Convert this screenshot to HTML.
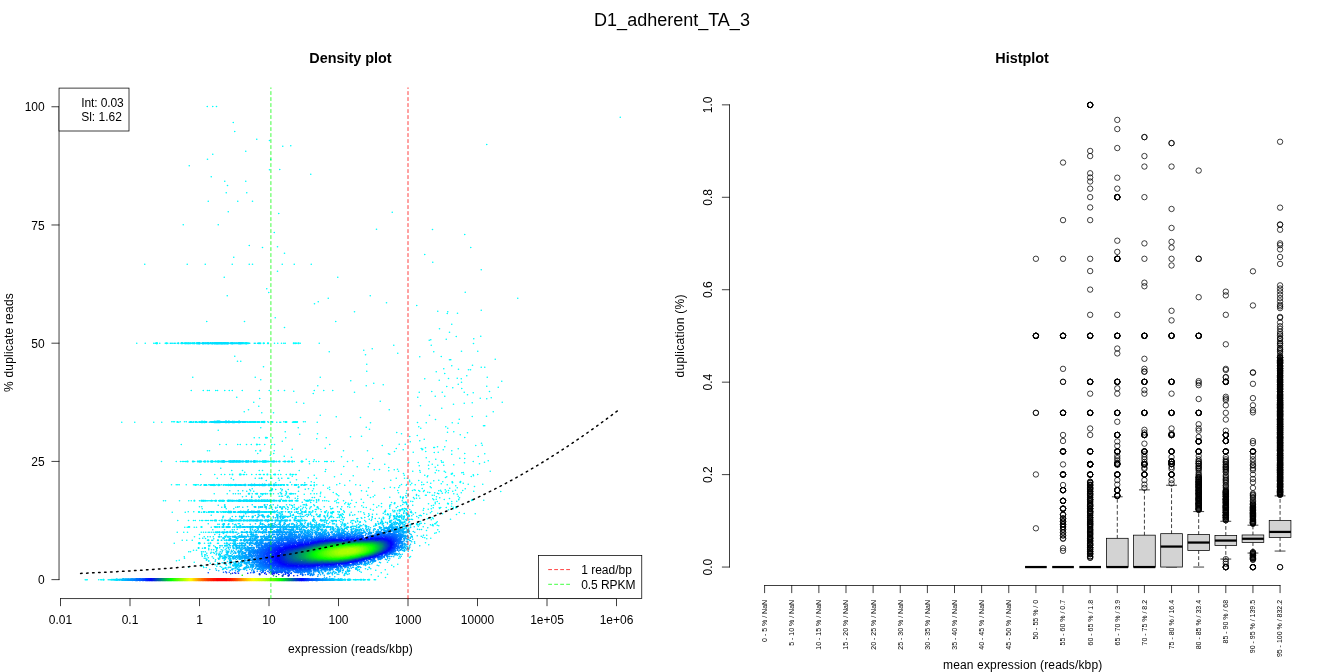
<!DOCTYPE html>
<html lang="en"><head><meta charset="utf-8"><title>D1_adherent_TA_3</title>
<style>html,body{margin:0;padding:0;background:#fff;overflow:hidden}svg{display:block}text{font-family:"Liberation Sans",sans-serif}</style>
</head><body>
<svg width="1344" height="672" viewBox="0 0 1344 672" role="img" aria-label="dupRadar density plot and boxplot for D1_adherent_TA_3">
<rect width="1344" height="672" fill="#fff"/>
<text x="672" y="26.2" font-size="18" text-anchor="middle">D1_adherent_TA_3</text>
<text x="350.45" y="62.8" font-size="14.4" text-anchor="middle" font-weight="bold">Density plot</text>
<text x="1022.05" y="62.7" font-size="14.4" text-anchor="middle" font-weight="bold">Histplot</text>
<g transform="scale(0.25)" fill="none" stroke-linecap="round"><path stroke="#00ffff" stroke-width="6.6" d="M829 426h0m22 0h0m15 0h0m1615 43h0m-1548 21h0m6 36h0m88 31h0m51 5h0m869 16h0m-784 5h0m-32 2h0m-148 20h0m-132 12h0m-21 20h0m253 0h0m-326 26h0m362 15h0m-41 1h0m165 18h0m-398 10h0m54 18h0m84 0h0m-73 17h0m-5 29h0m82 0h0m-154 34h0m118 0h0m59 0h0m-97 42h0m656 2h0m-454 5h0m-382 45h0m140 0h0m633 18h0m224 1h0m-633 12h0m762 8h0m-862 44h0m113 5h0m-60 3h0m833 0h0m-745 23h0m561 5h0m-764 11h0m796 20h0m-1152 8h0m170 0h0m72 0h0m108 0h0m68 0h0m13 0h0m119 0h0m48 0h0m68 0h0m680 22h0m-815 6h0m-213 24h0m454 0h0m-284 46h0m794 14h0m-786 1h0m-166 13h0m572 0h0m-168 10h0m758 0h0m-798 14h0m273 4h0m-288 4h0m409 7h0m258 19h0m-174 4h0m-333 2h0m373 0h0m39 6h0m-41 1h0m-688 17h0m-274 15h0m151 0h0m365 0h0m464 11h0m-669 13h0m620 5h0m40 14h0m125 16h0m-98 1h0m70 9h0m-110 2h0m-62 2h0m-6 2h0m-1170 12h0m34 0h0m34 0h0m6 0h0m18 0h0m22 0h0m10 0h0m386 0h0m41 0h0m13 0h0m15 0h0m9 0h0m6 0h0m46 0h0m14 0h0m76 0h0m617 1h0m-319 7h0m150 0h0m-236 14h0m-34 6h0m391 4h0m65 0h0m-594 2h0m418 0h0m-144 6h0m-129 6h0m-523 6h0m826 1h0m-86 1h0m302 10h0m-183 2h0m5 0h0m-853 6h0m13 0h0m504 12h0m423 4h0m-83 2h0m-753 4h0m871 2h0m14 0h0m-164 6h0m59 2h0m40 2h0m8 0h0m-415 6h0m278 2h0m34 7h0m88 9h0m-1096 6h0m250 0h0m260 0h0m668 0h0m-120 4h0m-35 1h0m-95 1h0m146 0h0m-802 4h0m714 2h0m-354 2h0m604 2h0m-161 4h0m-351 4h0m338 4h0m-300 2h0m-262 4h0m194 0h0m482 2h0m-160 1h0m206 3h0m-182 2h0m36 3h0m-1082 8h0m48 0h0m17 0h0m7 0h0m26 0h0m7 0h0m29 0h0m18 0h0m12 0h0m40 0h0m68 0h0m40 0h0m36 0h0m25 0h0m119 0h0m38 0h0m36 0h0m-156 3h0m552 1h0m231 0h0m-540 3h0m259 0h0m92 0h0m88 0h0m36 2h0m-640 3h0m617 5h0m-129 6h0m38 0h0m-832 4h0m724 0h0m294 2h0m-44 2h0m-882 1h0m908 1h0m-426 10h0m-506 4h0m171 0h0m823 0h0m-120 2h0m-674 2h0m642 0h0m-43 4h0m-132 6h0m-647 2h0m732 8h0m-773 6h0m563 0h0m-580 8h0m996 0h0m-926 4h0m47 0h0m187 10h0m437 0h0m228 4h0m-57 1h0m-544 1h0m97 3h0m395 7h0m-95 1h0m-1055 9h0m6 0h0m5 0h0m23 0h0m17 0h0m397 0h0m79 0h0m7 0h0m-734 2h0m52 0h0m76 0h0m32 0h0m68 0h0m392 0h0m12 0h0m4 0h0m47 0h0m99 0h0m401 1h0m-188 1h0m223 0h0m104 0h0m24 2h0m101 10h0m5 0h0m-264 4h0m108 0h0m-318 2h0m-422 2h0m150 0h0m490 2h0m108 0h0m-313 4h0m-605 4h0m268 6h0m674 0h0m-25 2h0m-203 1h0m283 1h0m-600 4h0m336 0h0m-407 2h0m642 2h0m-172 3h0m-223 3h0m193 1h0m-237 1h0m457 3h0m-842 1h0m20 0h0m32 0h0m21 0h0m53 0h0m162 0h0m-38 4h0m430 2h0m-18 6h0m106 0h0m-656 2h0m512 2h0m285 6h0m-329 4h0m24 0h0m-896 1h0m154 0h0m26 0h0m46 0h0m10 0h0m25 0h0m19 0h0m26 0h0m8 0h0m20 0h0m28 0h0m11 0h0m221 0h0m610 3h0m-400 1h0m374 0h0m-153 5h0m29 0h0m-44 3h0m3 0h0m-36 1h0m-401 2h0m284 1h0m100 0h0m148 1h0m-664 2h0m444 2h0m160 0h0m-943 4h0m8 0h0m185 0h0m74 0h0m277 0h0m96 0h0m337 0h0m-229 3h0m125 0h0m-50 3h0m100 0h0m-16 1h0m-706 4h0m64 0h0m764 0h0m-305 1h0m385 0h0m-380 2h0m248 0h0m-726 4h0m56 4h0m776 1h0m-547 1h0m-200 2h0m539 2h0m134 2h0m-348 1h0m368 0h0m-634 3h0m518 0h0m-486 2h0m154 4h0m354 0h0m188 0h0m-1307 3h0m59 0h0m17 0h0m7 0h0m6 0h0m6 0h0m4 0h0m432 0h0m34 0h0m26 0h0m17 0h0m11 0h0m10 0h0m24 0h0m6 0h0m4 0h0m16 0h0m10 0h0m55 0h0m503 0h0m-176 1h0m-82 2h0m132 0h0m6 0h0m165 0h0m-265 1h0m-40 1h0m225 0h0m-380 3h0m-240 1h0m680 0h0m-379 2h0m190 0h0m86 2h0m-101 2h0m37 0h0m24 0h0m-98 2h0m-302 3h0m54 1h0m44 0h0m268 2h0m-186 1h0m-672 3h0m832 2h0m-125 2h0m-287 1h0m215 0h0m-21 1h0m80 0h0m169 2h0m-819 1h0m43 0h0m67 0h0m13 0h0m67 0h0m80 0h0m482 0h0m-124 1h0m200 0h0m-161 2h0m57 0h0m126 0h0m184 0h0m-660 1h0m-322 3h0m702 0h0m101 0h0m71 1h0m-112 1h0m106 0h0m-233 3h0m-249 3h0m490 0h0m-1052 1h0m56 0h0m26 0h0m14 0h0m20 0h0m54 0h0m4 0h0m9 0h0m21 0h0m18 0h0m12 0h0m5 0h0m12 0h0m3 0h0m25 0h0m13 0h0m18 0h0m10 0h0m22 0h0m24 0h0m4 0h0m8 0h0m4 0h0m726 0h0m-18 1h0m-636 2h0m360 0h0m82 0h0m-286 2h0m298 0h0m106 0h0m77 0h0m-725 2h0m716 1h0m-547 1h0m371 0h0m78 0h0m-5 3h0m-549 1h0m-364 2h0m282 0h0m4 0h0m111 0h0m319 0h0m33 0h0m11 0h0m-443 6h0m377 2h0m75 0h0m117 0h0m-80 1h0m-276 1h0m336 0h0m-244 3h0m-246 1h0m394 0h0m132 0h0m-84 2h0m22 0h0m-452 1h0m390 3h0m76 0h0m130 0h0m-494 1h0m406 1h0m108 2h0m58 0h0m-325 1h0m21 0h0m68 0h0m-1009 1h0m19 0h0m6 0h0m6 0h0m28 0h0m29 0h0m4 0h0m9 0h0m6 0h0m474 0h0m80 0h0m76 0h0m219 0h0m19 0h0m26 0h0m102 0h0m-496 2h0m86 0h0m62 0h0m184 0h0m-26 2h0m224 0h0m75 3h0m-177 1h0m-403 2h0m243 0h0m34 1h0m-121 1h0m104 0h0m147 0h0m104 0h0m-518 2h0m488 0h0m-262 1h0m152 0h0m-435 1h0m607 0h0m-542 3h0m338 1h0m124 0h0m-120 2h0m101 0h0m60 0h0m-231 1h0m59 0h0m25 0h0m22 0h0m97 0h0m57 0h0m-601 1h0m196 0h0m181 0h0m128 0h0m-289 2h0m213 0h0m106 0h0m26 0h0m84 0h0m-201 1h0m71 0h0m238 0h0m-720 3h0m115 0h0m313 0h0m-378 1h0m386 0h0m-125 1h0m188 0h0m11 0h0m52 0h0m-220 2h0m-768 2h0m52 0h0m334 0h0m14 0h0m10 0h0m15 0h0m63 0h0m57 0h0m413 0h0m-598 2h0m416 0h0m196 0h0m-480 2h0m53 0h0m69 2h0m28 0h0m203 0h0m3 0h0m24 0h0m8 0h0m-382 2h0m320 0h0m-394 2h0m552 0h0m-231 1h0m-109 1h0m253 0h0m-447 2h0m260 0h0m-77 1h0m120 0h0m157 1h0m79 0h0m-172 2h0m13 0h0m119 1h0m-141 1h0m74 0h0m-380 2h0m94 0h0m300 0h0m90 0h0m-58 1h0m-42 1h0m100 0h0m-428 2h0m528 0h0m-1281 2h0m8 0h0m56 0h0m37 0h0m10 0h0m542 0h0m38 0h0m29 0h0m-59 2h0m24 0h0m488 0h0m-176 1h0m98 0h0m58 0h0m-66 3h0m-358 1h0m42 0h0m29 0h0m112 0h0m-219 1h0m7 0h0m39 2h0m9 1h0m124 0h0m231 0h0m-378 1h0m335 0h0m27 0h0m66 0h0m-414 3h0m101 0h0m-97 1h0m337 2h0m-287 2h0m68 0h0m211 0h0m80 2h0m-1008 2h0m9 0h0m612 0h0m107 0h0m-127 2h0m55 0h0m53 0h0m306 0h0m-348 1h0m298 0h0m22 0h0m-52 1h0m24 0h0m66 0h0m-128 3h0m64 0h0m-950 1h0m916 0h0m88 0h0m-331 2h0m231 0h0m81 2h0m-301 2h0m200 0h0m34 5h0m-974 1h0m22 0h0m659 0h0m9 0h0m-754 2h0m52 0h0m1096 1h0m-382 1h0m267 0h0m29 2h0m106 1h0m-87 1h0m131 0h0m-194 2h0m119 1h0m-103 13h0m7 0h0m-20 4h0m23 0h0m69 2h0m-77 2h0m-1014 3h0m43 0h0m20 0h0m7 0h0m18 0h0m8 0h0m4 0h0m938 5h0m-4 4h0m-6 4h0m3 0h0m7 6h0m-20 1h0m4 1h0m22 0h0m-1016 6h0m10 0h0m28 0h0m9 0h0m965 10h0m-45 3h0m51 5h0m-1048 2h0m26 0h0m15 0h0m55 0h0m940 2h0m-6 2h0m-941 5h0m909 3h0m-929 6h0m921 4h0m24 2h0m-925 1h0m909 1h0m-978 6h0m18 0h0m22 0h0m933 10h0m-1005 2h0m1018 6h0m-941 22h0m12 0h0m-31 6h0m7 0h0m880 19h0m-905 1h0m901 3h0m-900 3h0m-21 8h0m-11 2h0m71 6h0m814 8h0m-786 4h0m762 0h0m-762 4h0m8 0h0m762 2h0m-820 2h0m786 10h0m-38 2h0m22 10h0m25 6h0m-65 2h0m28 6h0m29 5h0m-1201 9h0m4 0h0m4 0h0m46 0h0m8 0h0m4 0h0m1090 0h0m5 0h0"/>
<path stroke="#00ffff" stroke-width="7.6" d="M625 1373h0m4 0h0m36 0h0m2 0h0m375 0h0m12 0h0m17 0h0m2 0h0m110 0h0m10 0h0m2 0h0m-486 315h0m1 0h0m436 0h0m28 0h0m3 0h0m4 0h0m1 0h0m5 0h0m2 0h0m-126 63h0m2 0h0m-38 27h0m663 19h0m-1 1h0m-648 5h0m1 0h0m-292 43h0m1 0h0m419 0h0m36 0h0m603 48h0m-3 2h0m-876 2h0m29 0h0m110 0h0m1 0h0m29 0h0m2 0h0m60 0h0m1 0h0m680 29h0m-33 1h0m32 1h0m-31 1h0m-1028 10h0m1 0h0m474 0h0m0 2h0m633 57h0m-3 2h0m-1110 2h0m1 0h0m1013 11h0m2 1h0m32 13h0m1 1h0m-1031 19h0m2 0h0m8 60h0m2 0h0m-12 65h0m-382 146h0m2 0h0"/>
<path stroke="#00ffff" stroke-width="8.4" d="M627 1373h0m548 0h0m1 0h0m-34 315h0m1 0h0m1 0h0m63 158h0m2 0h0m-248 52h0m2 0h0m-208 210h0m1 0h0m1 0h0m40 65h0m678 146h0m2 0h0"/>
<path stroke="#00efff" stroke-width="6.6" d="M681 1373h0m4 0h0m6 0h0m6 0h0m4 0h0m8 0h0m24 0h0m34 0h0m230 0h0m2 0h0m18 0h0m4 0h0m9 0h0m-285 314h0m241 0h0m23 0h0m24 0h0m38 0h0m14 0h0m-328 2h0m14 0h0m20 0h0m204 0h0m79 0h0m-295 157h0m35 0h0m39 0h0m5 0h0m187 0h0m22 0h0m11 0h0m4 0h0m17 0h0m14 0h0m20 0h0m16 0h0m4 0h0m12 0h0m-240 67h0m96 0h0m16 0h0m8 0h0m38 0h0m4 0h0m27 0h0m13 0h0m-193 6h0m183 2h0m-52 1h0m96 7h0m-58 2h0m116 0h0m-414 8h0m30 0h0m4 0h0m27 0h0m20 0h0m13 0h0m8 0h0m27 0h0m195 0h0m18 0h0m20 0h0m26 0h0m17 0h0m12 0h0m5 0h0m-426 2h0m26 0h0m34 0h0m354 0h0m27 0h0m3 0h0m-236 14h0m80 0h0m34 0h0m111 0h0m-13 2h0m-222 1h0m104 0h0m26 0h0m24 0h0m-234 5h0m34 0h0m18 0h0m31 0h0m77 0h0m3 0h0m4 0h0m41 0h0m-140 2h0m28 0h0m128 0h0m51 0h0m-48 4h0m-25 1h0m618 1h0m11 2h0m19 0h0m-836 2h0m9 0h0m11 0h0m8 0h0m48 0h0m13 0h0m21 0h0m3 0h0m5 0h0m4 0h0m6 0h0m9 0h0m24 0h0m19 0h0m45 0h0m3 0h0m10 0h0m4 0h0m7 0h0m573 0h0m-89 3h0m-616 1h0m91 2h0m492 0h0m33 1h0m-43 1h0m-638 2h0m22 0h0m28 0h0m8 0h0m74 0h0m8 0h0m5 0h0m19 0h0m5 0h0m37 0h0m-221 2h0m179 3h0m100 0h0m9 0h0m368 0h0m28 0h0m-497 1h0m24 2h0m10 1h0m420 1h0m-486 2h0m150 1h0m-57 1h0m21 0h0m27 0h0m-19 2h0m-449 2h0m27 0h0m4 0h0m4 0h0m6 0h0m3 0h0m9 0h0m6 0h0m18 0h0m23 0h0m11 0h0m229 0h0m24 0h0m19 0h0m42 0h0m18 0h0m14 0h0m12 0h0m8 0h0m16 0h0m8 0h0m310 0h0m34 2h0m-434 4h0m57 0h0m347 0h0m-370 1h0m374 1h0m-6 7h0m-465 1h0m13 0h0m18 0h0m36 0h0m5 0h0m37 0h0m308 0h0m-690 2h0m293 0h0m393 0h0m74 0h0m18 0h0m-424 1h0m-57 1h0m88 0h0m345 0h0m-400 2h0m356 1h0m32 0h0m40 0h0m-674 1h0m176 0h0m4 0h0m13 0h0m95 0h0m52 0h0m24 0h0m29 0h0m17 0h0m24 0h0m-504 2h0m56 0h0m186 0h0m10 0h0m32 0h0m7 0h0m17 0h0m18 0h0m9 0h0m19 0h0m-88 2h0m432 0h0m-254 2h0m228 0h0m59 1h0m-713 1h0m30 0h0m231 0h0m19 0h0m25 0h0m16 0h0m13 0h0m36 0h0m48 0h0m4 0h0m36 0h0m259 0h0m-419 2h0m58 1h0m5 0h0m17 0h0m82 0h0m240 0h0m34 0h0m-42 1h0m-55 2h0m29 0h0m8 1h0m38 0h0m12 0h0m-406 1h0m28 0h0m55 0h0m68 0h0m216 0h0m28 2h0m27 0h0m-826 2h0m22 0h0m12 0h0m28 0h0m8 0h0m17 0h0m345 0h0m11 0h0m23 0h0m66 0h0m222 0h0m6 0h0m-773 2h0m20 0h0m7 0h0m40 0h0m12 0h0m362 0h0m66 0h0m10 0h0m82 0h0m210 0h0m27 0h0m-341 2h0m324 0h0m22 0h0m15 0h0m-129 2h0m162 1h0m-453 1h0m69 0h0m18 0h0m40 0h0m106 0h0m76 0h0m11 0h0m-209 2h0m46 0h0m59 0h0m32 0h0m17 0h0m34 0h0m112 0h0m-280 1h0m46 1h0m130 0h0m5 0h0m-709 2h0m464 0h0m2 0h0m47 0h0m53 0h0m66 0h0m86 0h0m71 0h0m3 0h0m45 0h0m-283 1h0m278 0h0m-30 1h0m38 0h0m-316 3h0m104 0h0m16 0h0m178 0h0m-134 3h0m-199 1h0m15 0h0m21 0h0m89 0h0m30 0h0m-598 1h0m486 0h0m68 0h0m229 0h0m-227 2h0m70 0h0m-86 1h0m70 0h0m-74 1h0m-62 2h0m112 0h0m10 0h0m39 0h0m119 0h0m-272 1h0m277 0h0m-829 4h0m6 0h0m6 0h0m9 0h0m5 0h0m4 0h0m26 0h0m480 0h0m16 0h0m36 0h0m6 0h0m15 0h0m29 0h0m26 0h0m-80 1h0m17 3h0m9 0h0m80 0h0m171 0h0m-219 1h0m-60 2h0m20 0h0m-13 4h0m275 0h0m-6 1h0m20 0h0m-866 1h0m38 2h0m6 0h0m854 1h0m-53 1h0m44 0h0m-49 6h0m-815 2h0m13 0h0m822 0h0m-848 2h0m24 0h0m842 2h0m-41 6h0m8 1h0m8 0h0m-835 1h0m-37 10h0m9 0h0m10 0h0m6 0h0m8 0h0m8 0h0m20 0h0m-16 9h0m835 3h0m-25 2h0m16 2h0m-868 2h0m14 0h0m10 0h0m12 0h0m838 2h0m-880 4h0m11 1h0m33 1h0m-25 6h0m17 0h0m4 0h0m-33 12h0m15 0h0m37 0h0m4 0h0m-19 10h0m824 0h0m-818 4h0m2 3h0m-53 3h0m25 0h0m32 2h0m-32 4h0m11 0h0m9 0h0m11 0h0m783 3h0m-843 5h0m7 0h0m8 0h0m24 2h0m8 1h0m-46 3h0m20 0h0m16 0h0m15 0h0m-51 6h0m12 0h0m4 0h0m6 4h0m-20 2h0m10 0h0m30 2h0m-16 4h0m768 0h0m-784 2h0m6 0h0m31 0h0m741 0h0m-733 6h0m-1 6h0m689 4h0m-679 2h0m-30 2h0m36 2h0m-7 3h0m-9 1h0m648 2h0m6 2h0m-648 2h0m14 1h0m6 3h0m-72 1h0m10 0h0m637 5h0m21 0h0m-12 3h0m-32 7h0m6 4h0m-1012 30h0m6 0h0m4 0h0m970 0h0m5 0h0m7 0h0m4 0h0m5 0h0m3 0h0m21 0h0m3 0h0m9 0h0"/>
<path stroke="#00efff" stroke-width="7.6" d="M713 1373h0m1 0h0m25 0h0m4 0h0m3 0h0m1 0h0m4 0h0m4 0h0m3 0h0m3 0h0m2 0h0m16 0h0m198 0h0m4 0h0m10 0h0m2 0h0m42 0h0m2 0h0m-276 315h0m4 0h0m9 0h0m215 0h0m2 0h0m7 0h0m7 0h0m6 0h0m18 0h0m1 0h0m5 0h0m3 0h0m8 0h0m44 0h0m-319 158h0m2 0h0m24 0h0m4 0h0m17 0h0m3 0h0m21 0h0m43 0h0m2 0h0m184 0h0m2 0h0m14 0h0m2 0h0m4 0h0m12 0h0m13 0h0m1 0h0m36 0h0m2 0h0m12 0h0m-122 67h0m-230 27h0m8 0h0m18 0h0m4 0h0m30 0h0m2 0h0m24 0h0m2 0h0m13 0h0m196 0h0m1 0h0m20 0h0m2 0h0m14 0h0m34 0h0m1 0h0m19 0h0m14 0h0m-24 8h0m-1 1h0m-107 9h0m2 0h0m-62 17h0m2 0h0m34 0h0m19 0h0m1 0h0m42 0h0m1 0h0m19 0h0m18 0h0m2 0h0m448 14h0m-2 2h0m-806 12h0m1 0h0m5 0h0m2 0h0m8 0h0m25 0h0m1 0h0m15 0h0m16 0h0m8 0h0m4 0h0m5 0h0m226 0h0m10 0h0m3 0h0m7 0h0m1 0h0m4 0h0m13 0h0m8 0h0m2 0h0m17 0h0m1 0h0m3 0h0m1 0h0m36 0h0m3 0h0m3 0h0m2 0h0m387 6h0m3 1h0m-46 2h0m-1 2h0m49 2h0m0 1h0m-402 1h0m-326 2h0m326 0h0m-326 8h0m2 0h0m50 0h0m236 7h0m3 0h0m435 2h0m-16 1h0m16 0h0m-24 4h0m-3 1h0m-57 3h0m-2 1h0m-724 1h0m2 0h0m18 0h0m2 0h0m18 0h0m46 0h0m2 0h0m334 0h0m2 0h0m91 0h0m1 0h0m3 0h0m23 0h0m20 0h0m-51 4h0m-1 1h0m-59 5h0m1 0h0m14 1h0m81 0h0m-83 2h0m86 0h0m-88 3h0m20 0h0m-404 2h0m430 0h0m4 0h0m31 2h0m-1 1h0m177 3h0m0 2h0m-669 8h0m25 0h0m636 2h0m-85 4h0m-2 1h0m228 7h0m4 2h0m-794 10h0m1 0h0m-15 21h0m2 0h0m5 0h0m1 0h0m-38 32h0m1 0h0m37 0h0m2 0h0m-32 12h0m1 0h0m-7 10h0m3 0h0m-44 9h0m1 0h0m24 0h0m2 0h0m46 0h0m2 0h0m-42 46h0m-1 2h0m9 4h0m-388 75h0m2 0h0m973 0h0m21 0h0m2 0h0m8 0h0m2 0h0"/>
<path stroke="#00efff" stroke-width="8.4" d="M725 1373h0m1 0h0m2 0h0m1 0h0m1 0h0m11 0h0m12 0h0m17 0h0m1 0h0m4 0h0m1 0h0m2 0h0m191 0h0m1 0h0m2 0h0m2 0h0m1 0h0m8 0h0m1 0h0m3 0h0m-224 315h0m19 0h0m1 0h0m1 0h0m1 0h0m12 0h0m2 0h0m6 0h0m5 0h0m5 0h0m6 0h0m3 0h0m157 0h0m1 0h0m18 0h0m2 0h0m1 0h0m11 0h0m1 0h0m1 0h0m1 0h0m5 0h0m1 0h0m25 0h0m2 0h0m1 0h0m1 0h0m2 0h0m3 0h0m1 0h0m-267 158h0m1 0h0m7 0h0m4 0h0m2 0h0m15 0h0m10 0h0m1 0h0m2 0h0m13 0h0m3 0h0m1 0h0m12 0h0m1 0h0m1 0h0m7 0h0m4 0h0m4 0h0m1 0h0m6 0h0m140 0h0m1 0h0m2 0h0m2 0h0m8 0h0m1 0h0m10 0h0m3 0h0m5 0h0m6 0h0m31 0h0m1 0h0m1 0h0m42 0h0m2 0h0m-322 94h0m2 0h0m1 0h0m23 0h0m6 0h0m1 0h0m2 0h0m4 0h0m15 0h0m21 0h0m18 0h0m1 0h0m3 0h0m5 0h0m3 0h0m1 0h0m5 0h0m1 0h0m174 0h0m2 0h0m14 0h0m2 0h0m2 0h0m54 0h0m2 0h0m-186 35h0m2 0h0m-181 28h0m47 0h0m2 0h0m15 0h0m1 0h0m10 0h0m2 0h0m19 0h0m208 0h0m37 0h0m72 0h0m41 25h0m0 2h0m1 0h0m340 6h0m-11 6h0m-754 6h0m2 0h0m20 0h0m1 0h0m1 0h0m24 0h0m2 0h0m342 0h0m62 0h0m1 0h0m1 0h0m23 18h0m-466 16h0m2 0h0m1 0h0m24 0h0m1 0h0m1 0h0m781 16h0m-808 10h0m1 0h0m1 0h0m1 0h0m-66 65h0m1 0h0m598 146h0m1 0h0m3 0h0m1 0h0"/>
<path stroke="#00efff" stroke-width="9.4" d="M788 1373h0m1 0h0m196 0h0m-178 315h0m1 0h0m1 0h0m8 0h0m2 0h0m237 0h0m-208 158h0m25 0h0m145 0h0m1 0h0m2 0h0m31 0h0m7 0h0m2 0h0m2 0h0m-207 94h0m19 0h0m39 0h0m9 0h0m-10 63h0"/>
<path stroke="#00dfff" stroke-width="6.6" d="M807 1373h0m34 314h0m124 0h0m-128 2h0m64 157h0m4 0h0m4 0h0m104 0h0m-38 93h0m68 0h0m12 0h0m12 0h0m-102 2h0m8 0h0m114 0h0m-80 49h0m30 0h0m-94 13h0m8 0h0m19 0h0m59 0h0m46 0h0m44 3h0m-110 13h0m60 0h0m14 0h0m10 0h0m18 2h0m-32 2h0m-89 4h0m27 0h0m18 0h0m51 0h0m-115 2h0m131 0h0m7 0h0m-74 2h0m52 0h0m-10 2h0m26 0h0m-38 2h0m78 0h0m-53 3h0m61 0h0m27 0h0m9 0h0m-194 1h0m116 3h0m94 0h0m-122 5h0m6 0h0m18 0h0m26 0h0m11 0h0m16 0h0m35 0h0m14 0h0m4 0h0m-300 2h0m38 0h0m162 0h0m6 0h0m62 0h0m38 0h0m-10 2h0m-16 2h0m12 0h0m384 0h0m10 0h0m18 1h0m10 0h0m-642 1h0m100 0h0m34 0h0m6 0h0m38 0h0m36 0h0m5 0h0m7 2h0m25 0h0m-61 1h0m54 0h0m15 0h0m345 0h0m-612 3h0m78 0h0m21 0h0m49 0h0m40 0h0m8 0h0m3 0h0m47 0h0m13 0h0m-109 2h0m122 0h0m327 0h0m25 0h0m-437 2h0m-233 1h0m14 0h0m22 0h0m4 0h0m6 0h0m11 0h0m9 0h0m63 0h0m88 0h0m3 0h0m5 0h0m4 0h0m23 0h0m5 0h0m7 0h0m16 0h0m6 0h0m14 0h0m26 0h0m16 0h0m3 0h0m36 0h0m276 0h0m13 0h0m-24 1h0m28 0h0m28 0h0m-480 2h0m428 0h0m-568 1h0m159 0h0m148 0h0m289 0h0m-598 1h0m293 0h0m257 0h0m58 0h0m-696 2h0m334 0h0m374 0h0m-423 1h0m373 0h0m-264 1h0m242 0h0m50 0h0m-430 2h0m80 0h0m45 0h0m273 0h0m12 0h0m-334 1h0m30 0h0m339 0h0m5 0h0m10 0h0m2 0h0m-72 3h0m23 0h0m-684 1h0m5 0h0m30 0h0m9 0h0m17 0h0m14 0h0m29 0h0m212 0h0m5 0h0m34 0h0m20 0h0m16 0h0m13 0h0m15 0h0m4 0h0m4 0h0m5 0h0m3 0h0m5 0h0m280 0h0m-321 1h0m260 0h0m-311 2h0m91 1h0m18 1h0m275 0h0m-396 2h0m17 0h0m7 0h0m32 0h0m7 0h0m14 0h0m51 0h0m172 0h0m72 0h0m21 0h0m-86 1h0m68 0h0m-226 3h0m232 0h0m-316 1h0m-376 1h0m22 0h0m5 0h0m356 0h0m16 0h0m4 0h0m4 0h0m33 0h0m8 0h0m31 0h0m239 0h0m-759 2h0m53 0h0m28 0h0m375 0h0m19 0h0m12 0h0m6 0h0m51 0h0m20 1h0m-541 1h0m25 0h0m7 2h0m400 0h0m22 0h0m60 0h0m35 0h0m44 0h0m-612 1h0m68 0h0m672 0h0m-187 1h0m14 0h0m40 0h0m-92 2h0m4 0h0m6 0h0m76 0h0m-72 1h0m16 1h0m36 0h0m182 0h0m-750 2h0m24 0h0m19 0h0m532 2h0m153 2h0m-686 4h0m-51 2h0m31 0h0m8 0h0m-16 6h0m9 1h0m723 0h0m-766 3h0m14 0h0m16 0h0m24 0h0m2 0h0m716 0h0m-765 5h0m-16 4h0m27 3h0m744 4h0m-775 2h0m11 0h0m18 0h0m10 0h0m736 2h0m-752 5h0m754 3h0m-766 4h0m2 0h0m11 0h0m749 6h0m11 0h0m-760 6h0m7 0h0m6 0h0m748 0h0m-746 5h0m-8 3h0m-26 2h0m4 0h0m6 0h0m-10 8h0m15 0h0m11 2h0m732 0h0m-2 4h0m-750 2h0m16 0h0m-10 2h0m16 0h0m-40 2h0m766 2h0m-770 2h0m18 0h0m8 0h0m16 0h0m-38 6h0m10 0h0m9 0h0m723 4h0m-744 2h0m17 4h0m3 2h0m5 0h0m7 0h0m701 0h0m7 0h0m-732 8h0m6 2h0m-4 2h0m26 0h0m-4 4h0m658 1h0m-645 4h0m-13 4h0m-8 1h0m633 0h0m-605 2h0m-19 2h0m5 2h0m18 2h0m-15 2h0m8 8h0m5 0h0m4 0h0m-10 2h0m-50 4h0m-24 3h0m598 0h0m-44 9h0m-8 3h0m-4 3h0m-2 2h0m7 0h0m11 0h0m-6 3h0m-932 21h0m914 0h0"/>
<path stroke="#00dfff" stroke-width="7.6" d="M794 1373h0m27 0h0m32 0h0m2 0h0m2 0h0m64 0h0m1 0h0m3 0h0m21 0h0m1 0h0m15 0h0m3 0h0m-116 315h0m48 0h0m14 0h0m11 0h0m3 0h0m25 0h0m11 0h0m10 0h0m6 0h0m-79 158h0m44 0h0m12 0h0m13 0h0m2 0h0m33 0h0m3 0h0m2 0h0m-69 94h0m55 0h0m2 0h0m27 0h0m3 0h0m1 0h0m7 0h0m2 0h0m28 0h0m-133 63h0m9 0h0m15 0h0m9 0h0m3 0h0m25 0h0m2 0h0m17 0h0m27 0h0m2 0h0m2 0h0m4 0h0m62 0h0m-49 17h0m1 0h0m-18 8h0m2 0h0m18 0h0m4 0h0m54 0h0m3 0h0m5 7h0m2 0h0m-190 13h0m2 0h0m18 0h0m10 0h0m78 0h0m2 0h0m6 0h0m2 0h0m4 0h0m22 0h0m2 0h0m6 0h0m34 0h0m61 0h0m1 0h0m36 0h0m406 8h0m-500 1h0m0 1h0m-22 1h0m520 0h0m-516 2h0m495 0h0m1 2h0m-28 1h0m11 0h0m45 0h0m2 0h0m-47 1h0m27 0h0m-658 1h0m111 0h0m64 0h0m1 0h0m4 0h0m2 0h0m60 0h0m2 0h0m76 0h0m19 0h0m261 0h0m19 0h0m-19 1h0m55 0h0m-19 1h0m3 1h0m-632 3h0m3 0h0m212 0h0m405 1h0m-403 1h0m400 0h0m31 2h0m-1 1h0m-19 2h0m4 1h0m-699 2h0m2 0h0m14 0h0m4 0h0m15 0h0m3 0h0m18 0h0m18 0h0m12 0h0m4 0h0m8 0h0m16 0h0m178 0h0m3 0h0m9 0h0m14 0h0m1 0h0m33 0h0m3 0h0m31 0h0m4 0h0m4 0h0m6 0h0m262 1h0m41 1h0m-43 1h0m-229 1h0m1 0h0m198 0h0m33 0h0m57 0h0m0 1h0m-60 1h0m-36 3h0m0 2h0m-9 1h0m17 0h0m2 0h0m-638 2h0m2 0h0m18 0h0m588 0h0m12 0h0m-12 2h0m138 1h0m2 0h0m-266 1h0m64 2h0m24 2h0m-2 2h0m4 0h0m-578 2h0m5 0h0m1 0h0m10 0h0m14 0h0m28 0h0m6 0h0m484 0h0m29 0h0m-39 1h0m215 0h0m-764 20h0m1 0h0m18 0h0m26 0h0m8 0h0m3 0h0m-57 18h0m1 0h0m21 0h0m2 0h0m9 0h0m5 0h0m3 0h0m-11 26h0m-8 10h0m2 0h0m-26 36h0m4 0h0m2 0h0m1 8h0m-3 1h0m19 2h0m1 3h0m578 37h0m-574 1h0m-2 1h0m-7 3h0m532 1h0m-535 1h0m540 4h0m-53 19h0m-1 1h0m-922 18h0m2 0h0m6 0h0m919 0h0m9 0h0"/>
<path stroke="#00dfff" stroke-width="8.4" d="M799 1373h0m11 0h0m3 0h0m1 0h0m4 0h0m2 0h0m4 0h0m1 0h0m3 0h0m2 0h0m1 0h0m4 0h0m5 0h0m1 0h0m1 0h0m1 0h0m5 0h0m3 0h0m8 0h0m7 0h0m6 0h0m13 0h0m1 0h0m3 0h0m1 0h0m9 0h0m10 0h0m4 0h0m2 0h0m12 0h0m1 0h0m3 0h0m1 0h0m4 0h0m1 0h0m3 0h0m2 0h0m9 0h0m2 0h0m8 0h0m5 0h0m2 0h0m-143 315h0m1 0h0m18 0h0m2 0h0m2 0h0m4 0h0m1 0h0m3 0h0m9 0h0m16 0h0m4 0h0m1 0h0m1 0h0m5 0h0m1 0h0m2 0h0m5 0h0m8 0h0m1 0h0m14 0h0m6 0h0m4 0h0m2 0h0m1 0h0m1 0h0m3 0h0m5 0h0m2 0h0m5 0h0m2 0h0m6 0h0m9 0h0m5 0h0m1 0h0m5 0h0m-89 158h0m6 0h0m18 0h0m1 0h0m1 0h0m3 0h0m3 0h0m8 0h0m1 0h0m2 0h0m10 0h0m2 0h0m10 0h0m15 0h0m2 0h0m2 0h0m8 0h0m1 0h0m3 0h0m28 0h0m1 0h0m-76 94h0m1 0h0m3 0h0m1 0h0m7 0h0m1 0h0m2 0h0m1 0h0m2 0h0m2 0h0m1 0h0m1 0h0m6 0h0m11 0h0m3 0h0m18 0h0m1 0h0m3 0h0m3 0h0m3 0h0m5 0h0m1 0h0m5 0h0m8 0h0m2 0h0m5 0h0m3 0h0m1 0h0m7 0h0m27 0h0m5 0h0m1 0h0m2 0h0m2 0h0m15 0h0m-184 63h0m3 0h0m1 0h0m3 0h0m1 0h0m4 0h0m2 0h0m5 0h0m12 0h0m2 0h0m9 0h0m4 0h0m12 0h0m3 0h0m1 0h0m2 0h0m1 0h0m1 0h0m2 0h0m1 0h0m5 0h0m8 0h0m3 0h0m3 0h0m12 0h0m2 0h0m4 0h0m4 0h0m1 0h0m10 0h0m13 0h0m3 0h0m1 0h0m1 0h0m2 0h0m7 0h0m2 0h0m2 0h0m5 0h0m6 0h0m3 0h0m2 0h0m2 0h0m7 0h0m1 0h0m1 0h0m3 0h0m1 0h0m2 0h0m16 0h0m2 0h0m-98 25h0m2 0h0m26 0h0m1 0h0m13 0h0m-141 20h0m4 0h0m10 0h0m1 0h0m1 0h0m17 0h0m1 0h0m1 0h0m5 0h0m5 0h0m4 0h0m2 0h0m3 0h0m3 0h0m1 0h0m3 0h0m2 0h0m4 0h0m74 0h0m2 0h0m2 0h0m2 0h0m7 0h0m2 0h0m16 0h0m2 0h0m32 0h0m27 0h0m1 0h0m11 0h0m54 0h0m1 0h0m409 10h0m-521 1h0m-99 7h0m2 0h0m61 0h0m109 6h0m414 9h0m-679 1h0m6 0h0m7 0h0m14 0h0m1 0h0m1 0h0m11 0h0m2 0h0m1 0h0m2 0h0m1 0h0m1 0h0m11 0h0m1 0h0m1 0h0m1 0h0m13 0h0m8 0h0m1 0h0m1 0h0m1 0h0m3 0h0m1 0h0m1 0h0m186 0h0m6 0h0m1 0h0m2 0h0m7 0h0m1 0h0m43 0h0m33 0h0m93 18h0m1 1h0m1 1h0m-471 6h0m2 0h0m4 0h0m2 0h0m19 0h0m1 0h0m17 0h0m8 0h0m-72 21h0m1 0h0m15 0h0m1 0h0m1 0h0m1 0h0m23 0h0m-40 23h0m0 2h0m12 7h0m2 0h0m0 22h0m1 0h0m-17 50h0m1 0h0m1 0h0m1 0h0m531 43h0m-960 43h0m4 0h0m901 0h0m7 0h0m2 0h0m1 0h0m12 0h0m2 0h0"/>
<path stroke="#00dfff" stroke-width="9.4" d="M796 1373h0m1 0h0m1 0h0m14 0h0m21 0h0m16 0h0m11 0h0m1 0h0m1 0h0m1 0h0m4 0h0m2 0h0m2 0h0m3 0h0m2 0h0m1 0h0m1 0h0m3 0h0m1 0h0m1 0h0m4 0h0m7 0h0m1 0h0m1 0h0m1 0h0m1 0h0m4 0h0m1 0h0m1 0h0m7 0h0m18 0h0m27 0h0m1 0h0m1 0h0m1 0h0m-102 315h0m2 0h0m2 0h0m5 0h0m2 0h0m1 0h0m2 0h0m1 0h0m1 0h0m1 0h0m2 0h0m2 0h0m1 0h0m1 0h0m22 0h0m1 0h0m1 0h0m1 0h0m1 0h0m8 0h0m1 0h0m1 0h0m1 0h0m13 0h0m2 0h0m6 0h0m17 0h0m1 0h0m1 0h0m1 0h0m-66 158h0m1 0h0m1 0h0m1 0h0m26 0h0m1 0h0m5 0h0m2 0h0m6 0h0m1 0h0m1 0h0m1 0h0m9 0h0m1 0h0m1 0h0m8 0h0m2 0h0m2 0h0m24 0h0m1 0h0m6 0h0m1 0h0m1 0h0m23 0h0m-74 94h0m37 0h0m1 0h0m24 0h0m1 0h0m2 0h0m9 0h0m1 0h0m1 0h0m19 0h0m11 0h0m1 0h0m1 0h0m7 0h0m1 0h0m1 0h0m15 0h0m1 0h0m1 0h0m18 0h0m1 0h0m1 0h0m1 0h0m-142 63h0m2 0h0m2 0h0m15 0h0m11 0h0m1 0h0m1 0h0m10 0h0m1 0h0m9 0h0m14 0h0m2 0h0m9 0h0m1 0h0m12 0h0m1 0h0m1 0h0m9 0h0m2 0h0m2 0h0m8 0h0m1 0h0m1 0h0m8 0h0m-165 45h0m1 0h0m1 0h0m6 0h0m2 0h0m38 0h0m1 0h0m1 0h0m9 0h0m1 0h0m6 0h0m9 0h0m1 0h0m1 0h0m1 0h0m1 0h0m44 0h0m1 0h0m1 0h0m57 0h0m1 0h0m1 0h0m1 0h0m-28 18h0m-146 16h0m1 0h0m1 0h0m2 0h0m28 26h0m1 0h0m1 0h0m1 0h0m2 0h0m-496 211h0m1 0h0m1 0h0m897 0h0m2 0h0m1 0h0m28 0h0"/>
<path stroke="#00dfff" stroke-width="10.4" d="M1005 2003h0m1 0h0"/>
<path stroke="#00ceff" stroke-width="6.6" d="M1033 2057h0m5 4h0m7 0h0m-24 1h0m58 4h0m14 0h0m25 0h0m4 0h0m7 0h0m10 4h0m-110 1h0m28 0h0m37 0h0m8 0h0m24 8h0m-88 3h0m19 0h0m21 0h0m5 0h0m8 0h0m26 0h0m16 0h0m53 0h0m-43 3h0m50 0h0m388 0h0m-511 2h0m53 0h0m75 0h0m-156 2h0m59 0h0m36 0h0m49 0h0m17 0h0m18 0h0m342 0h0m-424 2h0m443 0h0m29 0h0m-14 2h0m-31 1h0m25 0h0m20 0h0m-589 1h0m136 0h0m15 0h0m16 0h0m30 0h0m46 0h0m12 0h0m273 0h0m19 0h0m40 0h0m-608 2h0m74 0h0m135 0h0m81 0h0m294 0h0m17 0h0m-305 1h0m298 0h0m24 0h0m-569 1h0m7 0h0m130 0h0m16 0h0m6 0h0m42 0h0m7 0h0m15 0h0m12 0h0m14 0h0m230 0h0m50 0h0m34 0h0m-364 2h0m-51 1h0m9 0h0m66 0h0m-236 1h0m192 0h0m34 0h0m26 0h0m5 0h0m240 0h0m-275 2h0m40 0h0m12 0h0m300 0h0m-333 1h0m73 0h0m258 0h0m-623 1h0m21 0h0m10 0h0m248 0h0m4 0h0m36 0h0m24 0h0m16 0h0m18 0h0m14 0h0m157 0h0m81 0h0m-646 2h0m14 0h0m310 0h0m16 0h0m25 0h0m52 0h0m8 0h0m233 0h0m-321 2h0m45 0h0m4 0h0m267 0h0m-240 2h0m81 0h0m11 0h0m-88 1h0m65 0h0m174 0h0m-624 1h0m28 0h0m294 0h0m18 0h0m37 0h0m120 0h0m-489 2h0m342 0h0m4 0h0m34 0h0m76 0h0m30 0h0m-58 1h0m33 0h0m-492 1h0m23 0h0m9 0h0m11 0h0m-18 4h0m14 0h0m-70 6h0m28 0h0m3 0h0m3 0h0m16 0h0m-42 4h0m683 1h0m-689 3h0m694 0h0m-676 1h0m678 1h0m-678 4h0m678 3h0m-722 1h0m26 0h0m-27 7h0m29 0h0m-28 7h0m27 0h0m689 1h0m4 1h0m-702 2h0m-6 2h0m-14 6h0m8 0h0m10 4h0m3 0h0m700 0h0m-725 1h0m1 5h0m4 0h0m9 0h0m4 0h0m6 0h0m698 0h0m-8 2h0m-700 2h0m708 2h0m-718 2h0m16 2h0m-20 6h0m710 0h0m-701 2h0m8 0h0m-9 6h0m4 0h0m-23 4h0m17 2h0m672 4h0m7 1h0m-699 1h0m26 0h0m-32 2h0m693 0h0m-675 2h0m-2 2h0m662 2h0m-668 2h0m-2 2h0m18 2h0m-9 2h0m7 0h0m9 0h0m629 0h0m-12 4h0m-622 2h0m16 5h0m2 0h0m-10 3h0m585 0h0m-575 1h0m10 5h0m4 0h0m530 0h0m-8 2h0m-530 1h0m-10 5h0m20 0h0m4 2h0m-5 1h0m-17 3h0m492 1h0m10 0h0m-488 1h0m20 2h0m452 0h0m-492 2h0m6 0h0m-34 2h0m484 4h0m-2 2h0m2 2h0m-8 1h0m-42 3h0m4 2h0m25 0h0m-31 3h0m10 3h0m6 0h0m-25 2h0m9 8h0m10 12h0"/>
<path stroke="#00ceff" stroke-width="7.6" d="M1022 2048h0m5 0h0m22 13h0m1 0h0m-17 5h0m1 0h0m76 4h0m13 0h0m-12 2h0m11 0h0m9 0h0m2 0h0m-120 10h0m6 0h0m26 0h0m1 0h0m3 0h0m1 0h0m11 0h0m40 0h0m22 0h0m14 0h0m1 0h0m4 0h0m8 0h0m449 4h0m-481 2h0m3 1h0m481 0h0m-28 1h0m35 0h0m-34 1h0m12 1h0m2 0h0m-10 1h0m30 0h0m-376 1h0m-64 1h0m-128 1h0m2 0h0m7 0h0m1 0h0m116 0h0m35 0h0m5 0h0m24 0h0m48 2h0m-12 1h0m299 0h0m-335 1h0m2 0h0m12 0h0m21 0h0m12 0h0m283 0h0m0 1h0m57 3h0m-1 1h0m-334 1h0m-306 2h0m2 0h0m18 0h0m1 0h0m23 0h0m2 0h0m4 0h0m6 0h0m8 0h0m1 0h0m213 0h0m4 0h0m15 0h0m9 0h0m12 0h0m2 0h0m16 0h0m1 0h0m77 0h0m14 0h0m113 0h0m-129 1h0m14 0h0m32 1h0m-104 1h0m192 0h0m-194 1h0m190 0h0m-153 2h0m48 0h0m-47 1h0m48 0h0m203 0h0m-211 2h0m16 0h0m20 0h0m191 0h0m0 1h0m-189 1h0m34 0h0m150 0h0m-152 1h0m152 0h0m4 5h0m4 0h0m-7 2h0m1 1h0m-662 1h0m-38 18h0m2 0h0m22 0h0m-10 5h0m1 0h0m695 0h0m-723 4h0m3 2h0m20 15h0m1 0h0m-5 5h0m-2 2h0m-22 10h0m1 2h0m19 0h0m1 0h0m696 1h0m1 0h0m-14 11h0m-706 3h0m3 0h0m-5 6h0m1 0h0m12 11h0m3 0h0m-23 2h0m-1 2h0m16 3h0m1 0h0m1 9h0m2 0h0m0 9h0m2 0h0m0 4h0m18 0h0m-3 3h0m16 3h0m-11 2h0m519 0h0m-512 3h0m-4 2h0m-3 3h0m480 6h0m-474 1h0m-20 1h0m21 0h0m448 6h0m-3 1h0m-34 1h0m-6 3h0m-26 6h0m-855 25h0m3 0h0m869 0h0"/>
<path stroke="#00ceff" stroke-width="8.4" d="M995 2048h0m5 0h0m1 0h0m1 0h0m1 0h0m2 0h0m8 0h0m10 0h0m2 0h0m8 0h0m77 16h0m-59 2h0m1 0h0m57 0h0m1 0h0m-88 16h0m1 0h0m3 0h0m1 0h0m3 0h0m1 0h0m1 0h0m1 0h0m8 0h0m1 0h0m21 0h0m1 0h0m1 0h0m1 0h0m6 0h0m3 0h0m12 0h0m1 0h0m1 0h0m16 0h0m2 0h0m2 0h0m1 0h0m2 0h0m1 0h0m14 0h0m1 0h0m1 0h0m14 0h0m2 0h0m2 0h0m12 0h0m1 0h0m1 0h0m17 0h0m1 0h0m1 0h0m-108 2h0m532 7h0m2 0h0m-402 5h0m2 0h0m35 0h0m1 0h0m1 0h0m-28 8h0m-243 4h0m2 0h0m4 0h0m11 0h0m1 0h0m1 0h0m1 0h0m9 0h0m3 0h0m25 0h0m2 0h0m5 0h0m2 0h0m209 0h0m1 0h0m9 0h0m1 0h0m62 0h0m1 0h0m1 0h0m199 3h0m-190 5h0m2 0h0m0 1h0m302 10h0m-669 2h0m1 0h0m19 0h0m3 0h0m11 0h0m1 0h0m3 0h0m1 0h0m-67 18h0m3 0h0m1 0h0m21 0h0m6 0h0m-53 14h0m1 0h0m11 0h0m4 0h0m1 0h0m10 0h0m1 0h0m-8 12h0m1 0h0m8 8h0m673 21h0m-705 5h0m-5 12h0m2 0h0m9 5h0m0 2h0m-19 5h0m21 15h0m1 0h0m0 5h0m16 3h0m8 4h0m0 1h0m-14 2h0m21 0h0m11 0h0m-18 1h0m-13 1h0m1 0h0m12 0h0m6 0h0m-6 5h0m-1 1h0m1 1h0m451 13h0m-918 36h0m2 0h0m1 0h0m5 0h0m850 0h0m1 0h0m2 0h0m2 0h0m18 0h0"/>
<path stroke="#00ceff" stroke-width="9.4" d="M1006 2048h0m1 0h0m1 0h0m1 0h0m6 0h0m1 0h0m1 0h0m13 0h0m1 0h0m1 0h0m3 0h0m1 0h0m1 0h0m-9 34h0m45 0h0m-70 26h0m7 0h0m1 0h0m1 0h0m-25 21h0m1 0h0m-48 18h0m17 0h0m1 0h0m1 0h0m1 0h0m1 0h0m-23 14h0m1 0h0m1 0h0m5 98h0m2 2h0m405 58h0m1 0h0m1 0h0m1 0h0m6 0h0m1 0h0m1 0h0"/>
<path stroke="#00beff" stroke-width="6.6" d="M1091 2095h0m7 0h0m43 0h0m-28 2h0m9 0h0m-21 2h0m34 0h0m14 0h0m4 0h0m4 0h0m418 0h0m-490 2h0m22 0h0m456 0h0m-474 1h0m6 0h0m26 0h0m-60 1h0m69 0h0m55 0h0m8 0h0m-96 2h0m24 0h0m17 0h0m17 0h0m426 0h0m-428 2h0m48 0h0m20 0h0m14 0h0m7 0h0m329 0h0m-422 2h0m8 0h0m50 0h0m16 0h0m6 0h0m-32 2h0m62 0h0m8 0h0m259 0h0m-300 2h0m384 1h0m-577 1h0m32 0h0m190 0h0m10 2h0m18 0h0m66 0h0m152 0h0m-198 1h0m68 0h0m154 0h0m-492 1h0m24 0h0m176 0h0m38 0h0m12 0h0m38 0h0m2 0h0m54 0h0m62 0h0m72 0h0m3 0h0m-216 2h0m73 0h0m96 0h0m27 0h0m-428 1h0m163 0h0m8 0h0m22 0h0m15 0h0m32 0h0m101 0h0m40 0h0m-418 1h0m25 0h0m279 0h0m2 0h0m31 0h0m7 0h0m46 0h0m7 0h0m5 0h0m64 0h0m-470 2h0m13 0h0m356 0h0m75 0h0m145 0h0m12 0h0m-299 1h0m-320 3h0m6 0h0m24 0h0m18 0h0m568 2h0m3 0h0m-575 2h0m-46 1h0m-3 4h0m5 0h0m20 0h0m-36 1h0m32 0h0m-16 2h0m12 0h0m611 0h0m-639 2h0m640 2h0m-644 2h0m8 0h0m10 0h0m9 0h0m612 0h0m7 2h0m-654 5h0m6 4h0m650 0h0m-644 5h0m-13 2h0m9 4h0m3 0h0m-11 4h0m4 0h0m-32 1h0m15 3h0m657 0h0m6 0h0m-647 1h0m-4 3h0m645 0h0m-673 2h0m3 0h0m672 2h0m-680 1h0m24 3h0m-6 4h0m655 4h0m-673 2h0m16 0h0m-8 2h0m658 1h0m-656 3h0m4 0h0m-21 2h0m13 0h0m2 3h0m-19 3h0m7 0h0m14 0h0m642 0h0m-8 2h0m-4 4h0m-638 4h0m3 0h0m-7 2h0m624 1h0m-8 1h0m-618 2h0m5 0h0m3 0h0m-7 4h0m17 0h0m592 0h0m-600 1h0m6 3h0m585 0h0m-597 1h0m22 3h0m-17 5h0m5 5h0m535 0h0m-20 6h0m-11 1h0m-473 1h0m5 2h0m-5 4h0m445 1h0m3 0h0m5 1h0m-436 2h0m411 0h0m-435 1h0m10 0h0m436 0h0m-434 1h0m414 2h0m-424 2h0m416 0h0m-424 2h0m26 0h0m391 0h0m-427 1h0m-97 3h0m121 0h0m362 1h0m-474 1h0m438 6h0m8 2h0m8 0h0m-11 3h0m-3 1h0m4 12h0"/>
<path stroke="#00beff" stroke-width="7.6" d="M1085 2096h0m2 0h0m31 0h0m1 0h0m18 0h0m429 6h0m-419 2h0m451 0h0m1 0h0m-37 1h0m-395 2h0m422 0h0m-544 1h0m9 0h0m4 0h0m9 0h0m8 0h0m2 0h0m16 0h0m5 0h0m21 0h0m8 0h0m32 0h0m6 0h0m13 0h0m1 0h0m12 0h0m20 0h0m6 0h0m338 1h0m-10 1h0m53 1h0m-425 1h0m364 0h0m12 0h0m49 1h0m-549 1h0m488 1h0m-490 1h0m140 0h0m3 0h0m15 0h0m1 0h0m409 0h0m-417 1h0m49 0h0m-2 1h0m113 0h0m1 0h0m-296 1h0m2 0h0m149 0h0m1 0h0m120 0h0m70 0h0m25 0h0m-80 1h0m75 0h0m5 0h0m-211 1h0m68 0h0m168 0h0m-204 1h0m102 0h0m4 0h0m80 0h0m18 0h0m-204 1h0m18 0h0m18 0h0m68 0h0m83 0h0m-63 1h0m47 1h0m-119 1h0m42 0h0m2 0h0m-6 1h0m1 0h0m71 0h0m45 1h0m1 0h0m-434 1h0m8 0h0m1 0h0m24 0h0m4 0h0m560 0h0m-609 8h0m-3 1h0m4 3h0m-1 2h0m-40 4h0m2 0h0m10 0h0m16 0h0m1 0h0m627 10h0m2 1h0m-669 3h0m12 0h0m1 0h0m3 0h0m3 0h0m5 0h0m5 0h0m2 0h0m636 6h0m-670 6h0m7 0h0m1 0h0m4 0h0m2 0h0m-26 10h0m10 0h0m10 0h0m3 0h0m1 0h0m6 0h0m-10 9h0m655 0h0m1 1h0m-658 7h0m652 1h0m-675 9h0m1 2h0m-6 12h0m-6 4h0m3 0h0m20 0h0m1 2h0m-18 3h0m-2 2h0m24 1h0m3 0h0m5 11h0m10 0h0m-14 2h0m6 0h0m-3 2h0m507 2h0m-11 6h0m-469 9h0m-8 1h0m10 0h0m-12 3h0m-6 3h0m0 2h0m-48 1h0m28 0h0m-2 1h0m418 1h0m-12 2h0m10 0h0m-37 4h0m21 0h0m-20 1h0m-25 8h0m1 0h0"/>
<path stroke="#00beff" stroke-width="8.4" d="M1086 2096h0m-12 3h0m2 0h0m-2 1h0m103 0h0m1 0h0m390 1h0m-354 4h0m346 0h0m6 0h0m-420 1h0m69 0h0m351 0h0m-8 1h0m8 0h0m-520 1h0m2 0h0m2 0h0m1 0h0m1 0h0m8 0h0m1 0h0m8 0h0m2 0h0m10 0h0m3 0h0m3 0h0m1 0h0m1 0h0m11 0h0m1 0h0m1 0h0m7 0h0m1 0h0m1 0h0m4 0h0m1 0h0m4 0h0m2 0h0m10 0h0m2 0h0m1 0h0m4 0h0m1 0h0m1 0h0m1 0h0m2 0h0m1 0h0m17 0h0m7 0h0m2 0h0m1 0h0m1 0h0m73 0h0m1 0h0m317 0h0m22 0h0m2 2h0m-315 2h0m271 0h0m-272 1h0m267 0h0m7 0h0m-272 3h0m1 0h0m-30 1h0m43 1h0m2 0h0m0 1h0m135 0h0m187 0h0m-1 1h0m1 1h0m-313 2h0m2 2h0m319 2h0m-2 1h0m-597 1h0m1 0h0m1 0h0m19 0h0m2 0h0m5 0h0m1 0h0m1 0h0m8 0h0m2 0h0m-92 18h0m2 0h0m6 0h0m2 0h0m1 0h0m1 0h0m27 0h0m1 0h0m-45 14h0m1 0h0m14 0h0m-35 22h0m15 0h0m1 0h0m-3 7h0m-12 2h0m1 0h0m1 0h0m2 0h0m1 0h0m7 0h0m1 0h0m0 15h0m-1 2h0m-25 19h0m29 8h0m3 14h0m15 1h0m-1 2h0m2 0h0m-16 6h0m2 2h0m19 9h0m376 13h0"/>
<path stroke="#00beff" stroke-width="9.4" d="M1062 2108h0m1 0h0m1 0h0m1 0h0m18 0h0m103 0h0m3 0h0m-3 2h0m88 4h0m1 0h0m-786 205h0m1 0h0m1 0h0m2 0h0m1 0h0m1 0h0m1 0h0m824 0h0m3 0h0m1 0h0m1 0h0m2 0h0m1 0h0m1 0h0m1 0h0m2 0h0m1 0h0m2 0h0"/>
<path stroke="#00beff" stroke-width="10.4" d="M1187 2108h0m1 0h0m-690 211h0m2 0h0m831 0h0"/>
<path stroke="#00aeff" stroke-width="6.6" d="M1579 2109h0m-486 2h0m40 2h0m446 1h0m-493 3h0m3 0h0m85 0h0m413 0h0m14 0h0m-70 1h0m40 0h0m-465 1h0m57 0h0m40 0h0m402 0h0m-424 2h0m362 0h0m-17 1h0m-393 1h0m468 0h0m4 0h0m-364 2h0m2 0h0m-162 1h0m118 0h0m4 0h0m15 0h0m165 0h0m22 0h0m22 1h0m-224 2h0m15 0h0m4 0h0m7 0h0m6 0h0m4 0h0m18 0h0m24 0h0m30 0h0m3 0h0m9 0h0m82 0h0m33 0h0m7 0h0m8 0h0m40 0h0m110 0h0m-341 2h0m39 0h0m160 0h0m-236 2h0m10 0h0m63 1h0m317 1h0m-549 3h0m-9 3h0m18 2h0m-41 4h0m13 0h0m570 0h0m-590 3h0m4 1h0m588 2h0m-609 1h0m13 0h0m3 0h0m19 0h0m4 0h0m576 0h0m-622 11h0m8 0h0m614 0h0m-636 6h0m2 2h0m24 0h0m604 1h0m-621 7h0m-15 2h0m23 0h0m-33 10h0m13 0h0m623 1h0m-638 3h0m636 1h0m-4 3h0m-8 4h0m-10 9h0m-626 1h0m-4 4h0m10 0h0m6 0h0m3 3h0m581 3h0m4 0h0m-9 4h0m-579 4h0m-1 2h0m543 4h0m-530 4h0m8 8h0m7 6h0m456 2h0m-44 10h0m-387 4h0m347 0h0m-351 2h0m-10 2h0m354 0h0m-16 2h0m-426 3h0m21 1h0m375 0h0m5 0h0m-37 4h0m5 2h0m-11 4h0m3 6h0m15 2h0m1 8h0m9 2h0"/>
<path stroke="#00aeff" stroke-width="7.6" d="M1565 2110h0m-10 2h0m2 1h0m32 0h0m-38 2h0m-469 1h0m59 0h0m5 0h0m437 0h0m10 0h0m-460 1h0m2 0h0m6 0h0m25 0h0m388 0h0m13 0h0m-445 1h0m25 0h0m22 0h0m398 0h0m-458 1h0m1 0h0m1 0h0m8 0h0m2 0h0m12 0h0m21 0h0m1 0h0m3 0h0m1 0h0m14 0h0m26 0h0m336 1h0m52 0h0m10 0h0m-426 1h0m366 0h0m-415 1h0m43 0h0m-56 1h0m1 0h0m3 0h0m2 0h0m48 0h0m56 0h0m376 0h0m2 0h0m10 0h0m-510 1h0m-2 1h0m79 0h0m1 0h0m34 0h0m14 0h0m290 0h0m1 0h0m95 0h0m-386 1h0m155 0h0m129 0h0m-410 1h0m6 0h0m86 0h0m74 0h0m159 0h0m83 0h0m-326 1h0m116 0h0m62 0h0m54 0h0m68 0h0m136 0h0m-550 1h0m9 0h0m9 0h0m2 0h0m2 0h0m2 0h0m1 0h0m1 0h0m2 0h0m1 0h0m3 0h0m4 0h0m1 0h0m1 0h0m104 0h0m2 0h0m1 0h0m37 0h0m44 0h0m2 0h0m4 0h0m32 0h0m21 0h0m3 0h0m4 0h0m10 0h0m2 0h0m6 0h0m47 1h0m19 0h0m168 0h0m-359 1h0m77 0h0m24 0h0m6 0h0m17 0h0m15 0h0m20 0h0m12 0h0m12 0h0m9 0h0m43 0h0m-254 1h0m44 0h0m148 0h0m11 0h0m3 0h0m12 0h0m28 0h0m-196 1h0m10 0h0m-2 1h0m18 0h0m-2 1h0m-227 3h0m-1 2h0m-34 7h0m2 0h0m6 0h0m2 0h0m1 0h0m3 0h0m1 0h0m1 0h0m8 0h0m2 0h0m2 0h0m3 0h0m547 0h0m-555 1h0m555 1h0m-619 5h0m1 0h0m14 0h0m2 0h0m-20 2h0m-2 2h0m0 3h0m1 0h0m3 0h0m14 0h0m2 0h0m2 0h0m2 0h0m1 0h0m1 0h0m6 0h0m2 0h0m-34 12h0m1 0h0m7 0h0m1 0h0m1 0h0m3 0h0m1 0h0m-12 4h0m0 1h0m620 0h0m-2 1h0m-640 4h0m13 4h0m1 0h0m627 0h0m0 1h0m-5 2h0m-636 2h0m4 0h0m1 0h0m9 0h0m2 0h0m1 0h0m619 0h0m-632 8h0m1 0h0m1 0h0m-18 2h0m6 5h0m0 2h0m-4 4h0m4 0h0m2 0h0m1 0h0m608 1h0m-1 4h0m-4 1h0m-608 3h0m-12 2h0m20 0h0m-4 3h0m-8 1h0m5 0h0m3 0h0m-6 1h0m-2 4h0m12 0h0m1 0h0m-1 1h0m2 7h0m2 0h0m520 2h0m-508 3h0m500 0h0m2 0h0m-518 2h0m17 1h0m3 2h0m477 0h0m-479 1h0m468 1h0m0 1h0m-478 2h0m17 3h0m1 0h0m2 0h0m4 2h0m-3 2h0m7 1h0m-10 1h0m10 0h0m0 2h0m-3 2h0m383 0h0m-3 1h0m1 0h0m-382 1h0m344 7h0m2 2h0m-398 2h0m-2 1h0m346 2h0m1 0h0m-25 4h0m14 3h0m0 2h0"/>
<path stroke="#00aeff" stroke-width="8.4" d="M1573 2110h0m14 1h0m-40 2h0m24 1h0m12 0h0m-462 2h0m1 0h0m431 0h0m42 0h0m1 1h0m0 1h0m-428 1h0m65 6h0m-1 1h0m2 0h0m-159 3h0m6 0h0m185 0h0m2 0h0m167 1h0m42 0h0m139 0h0m4 12h0m1 1h0m1 0h0m1 2h0m-602 2h0m1 0h0m3 0h0m2 0h0m1 0h0m1 0h0m1 0h0m-26 14h0m4 0h0m1 0h0m4 0h0m-12 12h0m1 0h0m-41 34h0m2 0h0m618 9h0m-623 8h0m1 3h0m2 1h0m1 0h0m23 23h0m2 0h0m0 2h0m326 66h0m1 0h0"/>
<path stroke="#00aeff" stroke-width="9.4" d="M1572 2112h0m-365 15h0m-130 2h0m1 0h0m1 0h0m1 0h0m-57 18h0m-20 26h0m-43 53h0m-458 93h0m1 0h0m800 0h0m1 0h0m1 0h0m1 0h0m11 0h0m1 0h0m1 0h0"/>
<path stroke="#00aeff" stroke-width="10.4" d="M505 2319h0m1 0h0m2 0h0m2 0h0m2 0h0m796 0h0m2 0h0"/>
<path stroke="#009eff" stroke-width="6.6" d="M1558 2119h0m21 4h0m-442 2h0m424 0h0m-446 1h0m464 0h0m3 0h0m-63 1h0m-344 2h0m338 0h0m-342 2h0m234 0h0m-263 2h0m173 0h0m78 0h0m-234 1h0m20 0h0m26 0h0m8 0h0m29 0h0m95 0h0m60 0h0m34 0h0m35 0h0m-319 1h0m103 0h0m11 0h0m157 0h0m17 0h0m44 0h0m7 0h0m-157 2h0m21 0h0m11 0h0m8 0h0m40 0h0m12 0h0m20 0h0m-343 1h0m17 0h0m6 0h0m14 0h0m43 0h0m7 0h0m32 0h0m50 0h0m24 0h0m-41 1h0m55 0h0m294 0h0m-388 2h0m-125 2h0m525 2h0m-516 2h0m14 0h0m-32 3h0m5 0h0m-9 1h0m18 0h0m524 3h0m-525 1h0m-11 2h0m-44 4h0m582 1h0m-579 1h0m-8 2h0m585 0h0m-589 1h0m5 3h0m-4 1h0m590 3h0m-600 4h0m8 0h0m-6 1h0m14 0h0m-24 5h0m598 4h0m-592 2h0m-6 2h0m597 2h0m-4 5h0m-600 3h0m595 0h0m-596 2h0m-14 4h0m10 0h0m-3 2h0m-13 6h0m0 4h0m6 0h0m550 11h0m-538 8h0m-10 3h0m502 2h0m-8 2h0m6 0h0m-492 1h0m484 3h0m-476 2h0m462 2h0m-454 4h0m421 1h0m-412 1h0m403 2h0m-396 5h0m373 1h0m-379 2h0m360 0h0m-4 2h0m-24 3h0m-326 4h0m13 0h0m301 0h0m-328 3h0m268 0h0m20 1h0m-296 1h0m279 0h0m11 0h0m-40 4h0m6 0h0m10 12h0"/>
<path stroke="#009eff" stroke-width="7.6" d="M1578 2119h0m-16 1h0m1 0h0m15 0h0m-27 1h0m2 0h0m16 0h0m16 0h0m-34 1h0m12 0h0m14 0h0m6 0h0m-13 1h0m-447 1h0m442 0h0m22 0h0m-50 1h0m4 0h0m5 0h0m41 0h0m10 0h0m-476 1h0m418 0h0m6 0h0m40 0h0m2 0h0m3 0h0m3 0h0m-432 1h0m361 0h0m24 0h0m31 0h0m14 0h0m3 0h0m-85 1h0m78 0h0m3 0h0m-485 1h0m2 0h0m3 0h0m1 0h0m3 0h0m1 0h0m3 0h0m3 0h0m2 0h0m4 0h0m2 0h0m2 0h0m2 0h0m6 0h0m2 0h0m5 0h0m3 0h0m1 0h0m1 0h0m4 0h0m2 0h0m2 0h0m2 0h0m2 0h0m2 0h0m14 0h0m6 0h0m1 0h0m1 0h0m2 0h0m1 0h0m1 0h0m2 0h0m314 0h0m0 1h0m-390 2h0m12 0h0m245 0h0m33 0h0m2 0h0m72 0h0m-314 1h0m63 0h0m51 0h0m74 0h0m10 0h0m24 0h0m62 0h0m32 0h0m114 0h0m-479 1h0m12 0h0m101 0h0m43 0h0m89 0h0m6 0h0m1 0h0m1 0h0m51 0h0m25 0h0m27 0h0m121 0h0m2 0h0m-440 1h0m12 0h0m96 0h0m-136 1h0m28 0h0m9 0h0m53 0h0m44 0h0m11 0h0m1 0h0m10 0h0m94 0h0m67 0h0m29 0h0m128 0h0m-442 1h0m36 0h0m101 0h0m3 0h0m34 0h0m11 0h0m44 0h0m215 0h0m-515 1h0m1 0h0m2 0h0m14 0h0m2 0h0m86 0h0m7 0h0m19 0h0m14 0h0m4 0h0m4 0h0m30 0h0m8 0h0m5 0h0m31 0h0m20 0h0m273 0h0m-331 1h0m324 0h0m-401 1h0m36 0h0m365 0h0m8 0h0m-498 1h0m497 0h0m3 0h0m-502 2h0m503 2h0m-7 1h0m7 0h0m-536 1h0m1 0h0m3 0h0m1 0h0m2 0h0m14 0h0m2 0h0m508 1h0m-548 4h0m-2 2h0m2 0h0m2 0h0m2 0h0m6 0h0m-2 2h0m549 1h0m-1 1h0m-578 3h0m2 0h0m1 0h0m1 0h0m2 0h0m1 0h0m1 0h0m3 0h0m1 0h0m2 0h0m2 0h0m7 0h0m1 0h0m3 0h0m1 0h0m2 0h0m4 0h0m1 0h0m-24 5h0m1 0h0m-9 1h0m7 0h0m-10 2h0m8 0h0m-26 4h0m1 0h0m1 0h0m2 0h0m1 0h0m5 0h0m2 0h0m8 0h0m1 0h0m569 0h0m0 2h0m-1 3h0m0 3h0m-584 1h0m0 1h0m585 6h0m-5 1h0m-601 1h0m-10 1h0m2 0h0m1 0h0m3 0h0m2 0h0m2 0h0m9 0h0m3 0h0m-4 1h0m-26 7h0m3 0h0m5 0h0m2 0h0m9 0h0m-13 2h0m4 1h0m1 1h0m-17 6h0m1 1h0m-5 2h0m1 0h0m601 1h0m-586 5h0m1 0h0m-9 3h0m-6 2h0m3 0h0m1 0h0m2 0h0m-2 3h0m-2 1h0m5 0h0m1 0h0m2 0h0m1 0h0m3 0h0m2 0h0m-16 2h0m15 0h0m-7 1h0m542 1h0m-546 1h0m2 0h0m1 0h0m3 0h0m6 0h0m3 1h0m528 0h0m-7 1h0m-2 1h0m4 1h0m-526 1h0m0 2h0m8 0h0m2 1h0m492 1h0m5 1h0m-509 1h0m502 1h0m-482 4h0m-2 1h0m-2 1h0m450 0h0m-1 2h0m-11 2h0m-1 1h0m-433 3h0m-2 1h0m3 3h0m1 1h0m11 1h0m0 1h0m11 4h0m2 1h0m323 0h0m1 0h0m-325 1h0m311 2h0m-319 1h0m1 0h0m6 0h0m-4 1h0m4 0h0m313 0h0m1 0h0m-21 2h0m-21 1h0m9 0h0m-45 6h0m2 0h0m0 4h0m-21 7h0"/>
<path stroke="#009eff" stroke-width="9.4" d="M1300 2319h0m1 0h0m2 0h0"/>
<path stroke="#009eff" stroke-width="10.4" d="M513 2319h0m1 0h0m2 0h0m3 0h0m1 0h0m2 0h0m2 0h0m765 0h0m1 0h0m2 0h0m2 0h0m2 0h0m2 0h0"/>
<path stroke="#009eff" stroke-width="11.2" d="M1291 2319h0"/>
<path stroke="#008eff" stroke-width="6.6" d="M1550 2126h0m5 0h0m-2 1h0m8 0h0m-30 3h0m-13 1h0m55 0h0m2 0h0m-64 2h0m-10 2h0m-76 2h0m38 0h0m-324 1h0m7 0h0m28 0h0m211 0h0m29 0h0m13 0h0m-257 1h0m173 0h0m55 0h0m44 0h0m31 0h0m-343 2h0m9 0h0m55 0h0m15 0h0m10 0h0m26 0h0m25 0h0m21 0h0m42 0h0m5 0h0m-115 1h0m56 0h0m8 0h0m18 0h0m-134 1h0m16 0h0m47 0h0m31 0h0m44 0h0m5 0h0m29 0h0m-193 2h0m91 0h0m16 0h0m-126 2h0m6 0h0m25 0h0m3 0h0m34 0h0m6 0h0m2 0h0m30 0h0m5 0h0m-127 3h0m492 9h0m-514 2h0m-12 4h0m-7 5h0m533 0h0m-552 3h0m552 0h0m-4 2h0m-558 3h0m-6 5h0m567 0h0m-5 3h0m-575 1h0m575 2h0m-574 2h0m6 0h0m564 3h0m-599 16h0m5 0h0m6 3h0m564 0h0m-8 2h0m-34 12h0m-530 6h0m10 4h0m10 2h0m-11 2h0m481 0h0m-481 4h0m15 6h0m418 3h0m-5 3h0m-8 1h0m-384 15h0m3 1h0m9 1h0m4 0h0m-13 2h0m237 0h0m3 2h0m4 0h0m-248 2h0m230 0h0m-12 2h0m4 0h0m-226 2h0m202 2h0m11 2h0m-21 2h0m13 2h0m-7 1h0m8 3h0m-5 1h0m29 7h0"/>
<path stroke="#008eff" stroke-width="7.6" d="M1547 2127h0m28 1h0m-53 1h0m35 0h0m24 0h0m4 0h0m-62 1h0m22 0h0m-24 1h0m1 0h0m16 0h0m5 0h0m14 0h0m24 0h0m4 0h0m-62 1h0m4 0h0m-21 1h0m25 0h0m-25 2h0m3 0h0m69 0h0m-72 1h0m-149 1h0m22 0h0m10 0h0m-232 1h0m1 0h0m4 0h0m3 0h0m2 0h0m180 0h0m34 0h0m9 0h0m13 0h0m-88 1h0m42 0h0m61 0h0m-264 1h0m5 0h0m3 0h0m19 0h0m102 0h0m14 0h0m18 0h0m3 0h0m45 0h0m2 0h0m24 0h0m29 0h0m172 0h0m3 0h0m-466 1h0m54 0h0m20 0h0m26 0h0m2 0h0m124 0h0m66 0h0m2 0h0m182 0h0m-438 1h0m130 0h0m298 0h0m1 0h0m-468 1h0m53 0h0m2 0h0m418 0h0m2 0h0m-6 1h0m2 0h0m-379 1h0m59 0h0m326 0h0m-392 1h0m394 0h0m-486 1h0m2 0h0m2 0h0m4 0h0m2 0h0m12 0h0m2 0h0m4 0h0m2 0h0m4 0h0m1 0h0m1 0h0m4 0h0m10 0h0m1 0h0m1 0h0m4 0h0m2 0h0m2 0h0m8 0h0m2 0h0m8 0h0m14 0h0m2 0h0m6 0h0m4 0h0m2 0h0m1 0h0m1 0h0m2 0h0m4 0h0m1 0h0m11 0h0m2 0h0m2 0h0m-104 1h0m49 1h0m405 0h0m8 0h0m-469 1h0m-35 2h0m7 0h0m11 0h0m4 0h0m-14 1h0m-6 1h0m1 0h0m13 0h0m4 0h0m482 0h0m-490 2h0m4 0h0m-5 2h0m-39 3h0m2 0h0m1 0h0m1 0h0m2 0h0m1 0h0m1 0h0m3 0h0m1 0h0m2 0h0m1 0h0m9 0h0m3 0h0m3 0h0m1 0h0m501 6h0m2 0h0m-564 6h0m2 0h0m3 0h0m1 0h0m11 0h0m-25 5h0m1 0h0m571 0h0m0 2h0m-564 1h0m1 0h0m-17 2h0m2 0h0m3 0h0m571 5h0m-568 2h0m-28 10h0m1 0h0m1 0h0m2 0h0m2 0h0m7 0h0m568 0h0m-571 2h0m-20 5h0m2 0h0m1 0h0m3 0h0m2 0h0m3 0h0m3 0h0m-7 2h0m-11 4h0m7 0h0m11 0h0m-14 3h0m570 1h0m-570 1h0m-2 1h0m1 0h0m7 0h0m-8 1h0m9 0h0m-7 2h0m12 0h0m-13 2h0m3 0h0m5 0h0m1 0h0m6 0h0m534 0h0m2 0h0m0 1h0m-540 2h0m528 0h0m-527 1h0m-3 3h0m3 0h0m511 1h0m-504 3h0m496 0h0m1 0h0m-499 1h0m0 3h0m0 1h0m480 0h0m2 0h0m-476 4h0m1 0h0m451 3h0m1 0h0m-451 1h0m2 0h0m-10 1h0m2 2h0m1 0h0m11 0h0m-10 1h0m-1 2h0m8 5h0m1 0h0m7 0h0m3 0h0m376 1h0m-384 1h0m6 0h0m-9 1h0m4 1h0m1 0h0m4 2h0m347 0h0m-345 1h0m5 0h0m325 2h0m-324 1h0m2 0h0m-7 1h0m1 0h0m3 0h0m4 0h0m1 0h0m319 0h0m-323 1h0m11 0h0m-1 1h0m297 0h0m-296 3h0m249 0h0m27 1h0m-279 1h0m2 0h0m249 0h0m5 0h0m12 0h0m4 0h0m-20 1h0m8 0h0m-257 2h0m-3 1h0m4 0h0m202 0h0m16 0h0m-220 1h0m218 1h0m-40 4h0m2 0h0m5 3h0m-1 2h0m18 6h0m-2 1h0"/>
<path stroke="#008eff" stroke-width="9.4" d="M534 2319h0m744 0h0m1 0h0m2 0h0"/>
<path stroke="#008eff" stroke-width="10.4" d="M525 2319h0m1 0h0m2 0h0m3 0h0m1 0h0m4 0h0m741 0h0m5 0h0m2 0h0m5 0h0"/>
<path stroke="#008eff" stroke-width="11.2" d="M530 2319h0"/>
<path stroke="#007dff" stroke-width="6.6" d="M1553 2133h0m-11 1h0m-25 1h0m48 0h0m-28 2h0m-18 1h0m59 0h0m5 0h0m-101 3h0m9 0h0m-45 1h0m15 0h0m-114 1h0m4 0h0m36 0h0m22 0h0m14 0h0m30 0h0m32 0h0m-160 2h0m73 0h0m195 1h0m-312 1h0m16 0h0m12 0h0m4 0h0m-107 3h0m20 0h0m3 0h0m12 0h0m16 0h0m-88 1h0m21 0h0m31 0h0m-46 2h0m6 1h0m6 0h0m12 0h0m-72 5h0m11 2h0m-45 6h0m5 2h0m-9 1h0m12 0h0m-34 3h0m3 0h0m3 0h0m528 9h0m-556 5h0m-19 16h0m8 0h0m540 6h0m-555 4h0m536 5h0m-540 1h0m8 0h0m524 0h0m3 0h0m-529 12h0m8 3h0m-4 7h0m436 6h0m-30 8h0m-12 2h0m-372 4h0m344 2h0m6 0h0m-31 2h0m-312 1h0m5 0h0m-8 1h0m295 3h0m-277 3h0m-3 4h0m208 0h0m21 0h0m-26 1h0m-8 3h0m-200 1h0m192 1h0m-224 2h0m41 0h0m155 2h0m4 0h0m-11 3h0m-9 1h0m32 11h0m8 0h0"/>
<path stroke="#007dff" stroke-width="7.6" d="M1559 2132h0m-29 1h0m5 0h0m26 0h0m-32 1h0m24 1h0m1 0h0m23 0h0m-64 1h0m10 0h0m46 0h0m1 0h0m-56 1h0m-5 1h0m64 0h0m-58 1h0m71 1h0m-207 1h0m11 0h0m11 0h0m36 0h0m66 0h0m83 0h0m1 0h0m-228 1h0m4 0h0m3 0h0m12 0h0m24 0h0m27 0h0m2 0h0m4 0h0m2 0h0m153 0h0m-236 1h0m17 0h0m4 0h0m18 0h0m56 0h0m-92 1h0m6 0h0m8 0h0m46 0h0m21 0h0m-45 1h0m196 0h0m-296 1h0m38 0h0m258 0h0m-324 1h0m10 0h0m8 0h0m2 0h0m2 0h0m3 0h0m1 0h0m10 0h0m2 0h0m22 0h0m6 0h0m3 0h0m1 0h0m3 0h0m1 0h0m3 0h0m1 0h0m-184 1h0m27 0h0m87 0h0m-94 1h0m87 0h0m19 0h0m-146 1h0m6 0h0m14 0h0m35 0h0m4 0h0m19 0h0m1 0h0m28 0h0m19 0h0m336 0h0m-452 2h0m6 0h0m2 0h0m1 0h0m1 0h0m7 0h0m49 0h0m-84 1h0m8 0h0m74 0h0m2 0h0m-90 1h0m1 0h0m4 0h0m3 0h0m5 0h0m3 0h0m1 0h0m7 0h0m13 0h0m4 0h0m3 0h0m2 0h0m39 0h0m5 0h0m4 0h0m376 0h0m2 0h0m6 0h0m-5 1h0m-465 1h0m20 0h0m446 2h0m-481 1h0m3 0h0m477 0h0m3 0h0m-490 2h0m3 0h0m1 0h0m2 0h0m1 0h0m1 0h0m4 0h0m2 0h0m6 0h0m2 0h0m-3 1h0m471 0h0m-472 1h0m-20 2h0m492 2h0m2 0h0m-521 1h0m24 0h0m495 0h0m-518 2h0m-6 3h0m1 0h0m1 0h0m-18 2h0m5 2h0m3 0h0m2 0h0m-13 1h0m1 0h0m8 0h0m2 2h0m-7 1h0m5 0h0m-20 2h0m2 0h0m8 0h0m1 0h0m3 0h0m-7 3h0m-1 1h0m1 0h0m-4 1h0m547 1h0m-548 1h0m-4 1h0m550 0h0m-560 1h0m2 0h0m6 0h0m2 0h0m-4 6h0m549 1h0m-561 1h0m1 0h0m3 0h0m549 3h0m-561 1h0m558 2h0m-561 1h0m1 0h0m3 0h0m3 0h0m4 0h0m1 0h0m-11 2h0m6 0h0m1 0h0m1 1h0m542 0h0m-4 1h0m-550 2h0m2 0h0m8 0h0m2 0h0m2 0h0m-4 1h0m0 1h0m533 0h0m1 1h0m-538 6h0m-3 2h0m7 0h0m1 2h0m509 0h0m-8 1h0m-5 3h0m3 0h0m-500 3h0m1 0h0m7 3h0m-4 4h0m457 0h0m3 0h0m-463 3h0m1 1h0m0 2h0m4 0h0m3 0h0m-1 1h0m-4 2h0m417 0h0m-413 2h0m1 0h0m1 0h0m6 0h0m397 0h0m3 0h0m-402 3h0m2 0h0m0 2h0m381 1h0m-383 1h0m371 0h0m4 0h0m-373 1h0m4 0h0m357 1h0m1 0h0m2 0h0m-362 1h0m8 0h0m-8 2h0m344 0h0m-344 1h0m4 1h0m2 0h0m328 0h0m-312 2h0m-10 2h0m6 0h0m2 0h0m275 0h0m15 0h0m-294 1h0m2 0h0m4 0h0m288 0h0m-279 1h0m248 1h0m3 0h0m-32 3h0m16 0h0m10 0h0m-238 1h0m218 1h0m-222 1h0m4 1h0m8 0h0m169 0h0m5 0h0m-184 1h0m151 1h0m4 0h0m24 0h0m-16 1h0m-192 1h0m37 0h0m148 0h0m-17 1h0m16 0h0m4 0h0m7 0h0m-194 1h0m171 0h0m9 0h0m-28 2h0m10 0h0m-18 1h0m7 1h0m3 2h0m-2 1h0m28 5h0m2 0h0"/>
<path stroke="#007dff" stroke-width="10.4" d="M538 2319h0m2 0h0m9 0h0m721 0h0m2 0h0m2 0h0m2 0h0"/>
<path stroke="#007dff" stroke-width="11.2" d="M542 2319h0m2 0h0m2 0h0m2 0h0m717 0h0m1 0h0m2 0h0m3 0h0"/>
<path stroke="#006dff" stroke-width="6.6" d="M1529 2137h0m4 2h0m32 3h0m-71 1h0m-24 2h0m-123 2h0m38 0h0m90 0h0m-216 4h0m332 0h0m-352 4h0m16 0h0m-62 2h0m20 1h0m378 1h0m-441 2h0m41 0h0m-98 12h0m2 0h0m-18 5h0m517 1h0m-539 14h0m534 0h0m-4 1h0m-544 9h0m6 2h0m528 0h0m-540 2h0m4 0h0m-8 6h0m-1 6h0m509 3h0m-501 1h0m485 3h0m-493 3h0m479 2h0m-38 10h0m-422 2h0m414 2h0m-6 1h0m-30 7h0m-365 6h0m289 6h0m-282 4h0m204 5h0m2 0h0m-178 1h0m156 2h0m-154 2h0m-4 2h0m90 0h0m12 0h0m22 0h0m-70 2h0m14 0h0m18 0h0m-106 2h0m134 0h0m-126 1h0m-132 1h0m180 0h0m-237 2h0m155 0h0m98 0h0m32 0h0m10 1h0m-23 1h0m25 0h0m11 6h0m19 2h0"/>
<path stroke="#006dff" stroke-width="7.6" d="M1526 2137h0m29 0h0m2 0h0m-32 1h0m32 0h0m4 0h0m6 0h0m2 0h0m-59 1h0m5 0h0m34 0h0m10 0h0m-52 1h0m2 0h0m14 0h0m14 0h0m2 0h0m6 0h0m1 0h0m11 0h0m1 0h0m12 0h0m5 0h0m-78 1h0m17 0h0m35 0h0m6 0h0m24 0h0m2 0h0m-76 1h0m62 0h0m4 0h0m2 0h0m-75 1h0m76 0h0m7 0h0m-164 2h0m25 0h0m7 0h0m29 0h0m99 0h0m8 0h0m-220 1h0m14 0h0m34 0h0m30 0h0m140 0h0m-225 1h0m5 0h0m3 0h0m1 0h0m8 0h0m2 0h0m2 0h0m12 0h0m2 0h0m4 0h0m4 0h0m5 0h0m1 0h0m4 0h0m18 0h0m2 0h0m8 0h0m7 0h0m135 0h0m-279 1h0m32 0h0m24 0h0m-37 1h0m33 0h0m-87 1h0m7 0h0m1 0h0m19 0h0m-28 1h0m3 0h0m14 0h0m27 0h0m273 0h0m-336 1h0m26 0h0m314 0h0m-324 1h0m323 0h0m-359 1h0m2 0h0m1 0h0m19 0h0m-3 1h0m-83 1h0m6 0h0m4 0h0m36 0h0m14 0h0m10 0h0m14 0h0m348 1h0m-448 1h0m2 0h0m1 0h0m1 0h0m22 0h0m34 0h0m18 0h0m-62 1h0m12 0h0m6 0h0m20 0h0m394 0h0m-434 1h0m-20 1h0m2 0h0m3 0h0m9 0h0m2 0h0m2 0h0m2 0h0m2 0h0m2 0h0m1 0h0m3 0h0m4 0h0m1 0h0m7 0h0m1 0h0m15 0h0m1 0h0m1 0h0m3 0h0m3 0h0m1 0h0m3 0h0m388 0h0m-4 1h0m2 0h0m-1 1h0m1 0h0m-468 1h0m3 0h0m468 0h0m-444 1h0m443 0h0m1 0h0m-4 1h0m-476 1h0m480 0h0m-483 1h0m480 0h0m-488 1h0m486 0h0m-488 1h0m492 0h0m-2 1h0m-496 2h0m3 0h0m1 0h0m494 0h0m-512 2h0m510 0h0m-502 1h0m-10 1h0m7 1h0m-4 1h0m-5 2h0m-20 2h0m4 0h0m1 0h0m1 0h0m2 0h0m2 0h0m2 0h0m520 1h0m-527 1h0m4 0h0m523 1h0m0 1h0m-535 1h0m5 0h0m527 0h0m-532 2h0m5 0h0m528 0h0m-529 1h0m-13 1h0m2 0h0m10 0h0m1 0h0m-8 6h0m525 1h0m-540 1h0m2 0h0m5 0h0m1 0h0m2 0h0m0 1h0m532 0h0m-550 6h0m12 0h0m2 0h0m-2 2h0m-6 1h0m528 0h0m2 0h0m-532 1h0m526 0h0m2 0h0m-526 1h0m522 0h0m-516 1h0m-6 1h0m521 0h0m-520 4h0m3 0h0m-4 1h0m-6 3h0m2 2h0m2 0h0m8 0h0m483 1h0m-491 1h0m4 0h0m-6 2h0m5 0h0m1 0h0m2 0h0m472 1h0m1 0h0m-481 4h0m2 0h0m8 0h0m0 1h0m-12 1h0m466 0h0m-459 1h0m5 0h0m-1 1h0m-5 1h0m2 0h0m-4 2h0m2 0h0m5 0h0m3 0h0m1 0h0m-8 1h0m429 0h0m-426 3h0m0 2h0m2 0h0m0 1h0m6 1h0m397 0h0m1 0h0m-400 1h0m2 0h0m1 0h0m392 0h0m-401 1h0m402 0h0m-401 1h0m3 0h0m2 0h0m6 0h0m-12 1h0m4 1h0m1 0h0m1 0h0m4 0h0m2 0h0m370 2h0m-8 1h0m-4 1h0m6 0h0m-358 1h0m-8 1h0m2 0h0m2 0h0m3 0h0m337 0h0m0 1h0m-340 1h0m4 0h0m-2 1h0m322 0h0m-322 1h0m326 0h0m2 0h0m-322 2h0m4 0h0m3 0h0m3 0h0m302 0h0m-28 1h0m-273 2h0m261 0h0m4 0h0m-260 1h0m254 0h0m6 0h0m-264 1h0m7 0h0m239 0h0m10 0h0m2 0h0m-250 1h0m4 0h0m2 0h0m194 0h0m11 0h0m4 0h0m4 0h0m-221 1h0m213 0h0m3 0h0m4 0h0m-8 1h0m-206 1h0m-5 1h0m4 0h0m5 0h0m10 1h0m4 0h0m150 0h0m4 0h0m-170 1h0m141 0h0m32 0h0m1 0h0m-160 1h0m6 0h0m128 0h0m-130 1h0m8 0h0m11 0h0m84 0h0m5 0h0m-108 1h0m8 0h0m92 0h0m30 0h0m-148 1h0m18 0h0m14 0h0m4 0h0m6 0h0m2 0h0m24 0h0m33 0h0m17 0h0m7 0h0m13 0h0m-122 1h0m25 0h0m63 0h0m8 0h0m1 0h0m4 0h0m1 0h0m3 0h0m5 0h0m14 0h0m-119 1h0m12 0h0m3 0h0m5 0h0m4 0h0m19 0h0m48 0h0m12 0h0m10 0h0m-132 1h0m2 0h0m10 0h0m8 0h0m28 0h0m2 0h0m18 0h0m38 0h0m1 0h0m-112 1h0m5 0h0m20 0h0m42 0h0m21 0h0m1 0h0m15 0h0m5 0h0m6 0h0m-106 1h0m47 0h0m16 0h0m29 0h0m2 0h0m-136 1h0m102 0h0m-140 1h0m142 0h0m26 1h0m2 0h0m10 1h0m15 7h0"/>
<path stroke="#006dff" stroke-width="9.4" d="M555 2319h0"/>
<path stroke="#006dff" stroke-width="10.4" d="M549 2319h0m2 0h0m1 0h0m2 0h0m2 0h0m2 0h0m697 0h0m1 0h0m3 0h0m1 0h0m2 0h0m2 0h0"/>
<path stroke="#006dff" stroke-width="11.2" d="M550 2319h0m9 0h0m704 0h0m2 0h0"/>
<path stroke="#005dff" stroke-width="6.6" d="M1518 2141h0m3 2h0m-19 2h0m-15 1h0m-61 1h0m-99 2h0m60 0h0m31 0h0m5 0h0m-22 1h0m30 0h0m7 0h0m-149 3h0m-48 5h0m4 0h0m-30 3h0m10 0h0m-11 2h0m-29 2h0m-40 4h0m-20 1h0m464 5h0m-487 2h0m20 0h0m-17 1h0m-24 9h0m-10 2h0m511 0h0m-516 4h0m507 12h0m-514 2h0m492 7h0m-5 1h0m-499 4h0m0 8h0m0 4h0m4 0h0m452 0h0m-452 8h0m2 7h0m10 1h0m336 10h0m-332 4h0m296 4h0m-272 4h0m218 0h0m6 0h0m-40 2h0m-169 2h0m133 0h0m-130 1h0m6 1h0m4 0h0m128 0h0m-110 2h0m106 0h0m-53 1h0m-29 1h0m-44 7h0m-214 1h0m199 0h0m4 0h0m-189 2h0m168 0h0m34 0h0m24 1h0m-130 1h0m148 2h0"/>
<path stroke="#005dff" stroke-width="7.6" d="M1525 2142h0m2 0h0m2 0h0m9 0h0m3 0h0m-12 1h0m6 0h0m7 1h0m-35 1h0m64 0h0m-90 1h0m14 0h0m2 0h0m66 0h0m-124 1h0m7 0h0m53 0h0m3 0h0m71 0h0m5 0h0m-175 1h0m12 0h0m56 0h0m2 0h0m-150 1h0m74 0h0m52 0h0m4 0h0m122 0h0m-222 1h0m16 0h0m1 0h0m24 0h0m9 0h0m-85 1h0m23 0h0m1 0h0m243 0h0m-290 1h0m14 0h0m32 0h0m-50 1h0m28 0h0m260 0h0m-301 1h0m1 0h0m14 0h0m2 0h0m-18 1h0m8 0h0m-22 1h0m7 0h0m317 0h0m-330 2h0m332 0h0m-360 1h0m358 1h0m-376 1h0m19 0h0m1 0h0m4 0h0m2 0h0m1 0h0m3 0h0m1 0h0m1 0h0m346 0h0m-416 1h0m22 0h0m27 0h0m363 0h0m-423 1h0m41 0h0m4 0h0m-52 1h0m10 0h0m4 0h0m38 0h0m382 0h0m1 0h0m1 0h0m-438 1h0m12 0h0m2 0h0m14 0h0m-30 1h0m11 0h0m16 0h0m412 0h0m1 0h0m-434 1h0m432 0h0m2 0h0m-457 2h0m17 1h0m-18 1h0m-22 2h0m2 0h0m1 0h0m1 0h0m3 0h0m1 0h0m4 0h0m2 0h0m1 1h0m-13 1h0m2 1h0m-21 2h0m5 0h0m16 0h0m-17 2h0m-8 1h0m3 0h0m1 0h0m493 0h0m0 1h0m-509 1h0m1 0h0m3 0h0m1 0h0m2 0h0m2 0h0m2 0h0m2 0h0m-4 2h0m502 1h0m-512 1h0m0 1h0m-3 3h0m1 0h0m-6 1h0m2 0h0m508 1h0m0 1h0m-2 2h0m-512 2h0m1 0h0m-5 1h0m512 0h0m2 0h0m-521 1h0m1 0h0m2 0h0m1 0h0m3 0h0m1 0h0m1 0h0m511 0h0m-513 1h0m514 0h0m-518 1h0m2 0h0m-6 2h0m8 0h0m508 1h0m-518 1h0m516 0h0m-521 1h0m3 0h0m1 0h0m3 0h0m-2 2h0m507 0h0m-511 1h0m2 0h0m2 0h0m506 1h0m2 0h0m-516 2h0m7 0h0m3 0h0m-4 2h0m492 2h0m1 0h0m-497 2h0m8 0h0m490 0h0m-500 1h0m2 2h0m1 2h0m1 0h0m2 0h0m1 0h0m4 0h0m1 0h0m-2 3h0m464 0h0m-463 1h0m1 5h0m-6 1h0m2 0h0m2 0h0m1 0h0m-5 2h0m1 0h0m429 1h0m4 1h0m-429 1h0m1 1h0m4 0h0m-2 2h0m397 1h0m-393 1h0m1 1h0m391 0h0m-392 1h0m382 0h0m-386 2h0m1 0h0m1 1h0m-1 1h0m371 0h0m-368 1h0m4 1h0m-3 1h0m3 0h0m352 0h0m-356 1h0m4 0h0m346 0h0m-344 1h0m348 0h0m-353 1h0m7 0h0m-2 2h0m6 0h0m320 0h0m-320 1h0m4 0h0m2 0h0m300 0h0m12 0h0m-14 1h0m4 0h0m-299 1h0m-9 2h0m6 0h0m295 0h0m-28 1h0m13 0h0m-280 1h0m2 0h0m250 0h0m14 0h0m2 0h0m-264 1h0m6 0h0m241 0h0m3 0h0m2 0h0m6 0h0m-259 1h0m1 0h0m238 0h0m6 0h0m18 0h0m-260 1h0m193 1h0m9 0h0m14 0h0m-206 1h0m184 0h0m10 0h0m2 0h0m14 0h0m-202 1h0m8 0h0m147 0h0m24 0h0m5 0h0m-193 1h0m3 0h0m6 0h0m11 0h0m143 0h0m2 0h0m11 0h0m-15 1h0m26 0h0m-168 1h0m145 0h0m-135 1h0m111 0h0m21 0h0m-132 1h0m2 0h0m16 0h0m4 0h0m74 0h0m3 0h0m1 0h0m10 0h0m2 0h0m3 0h0m-91 1h0m26 0h0m40 0h0m6 0h0m6 0h0m16 0h0m-96 1h0m37 0h0m37 0h0m8 0h0m-97 1h0m37 0h0m35 0h0m9 0h0m-76 1h0m16 0h0m2 0h0m1 0h0m15 0h0m20 1h0m-70 4h0m2 0h0m0 1h0m-26 2h0m14 0h0m30 0h0m2 0h0m-124 1h0m97 0h0m11 0h0m4 0h0m21 2h0m60 8h0m1 2h0"/>
<path stroke="#005dff" stroke-width="10.4" d="M564 2319h0m3 0h0m1 0h0m678 0h0m6 0h0m2 0h0"/>
<path stroke="#005dff" stroke-width="11.2" d="M559 2319h0m1 0h0m2 0h0m686 0h0m2 0h0"/>
<path stroke="#004dff" stroke-width="6.6" d="M1486 2149h0m65 0h0m-168 2h0m36 0h0m8 0h0m139 0h0m-251 2h0m60 0h0m-77 2h0m-16 3h0m-51 7h0m-45 2h0m397 10h0m-462 4h0m464 5h0m-512 11h0m496 4h0m-508 17h0m464 4h0m-102 28h0m-346 1h0m309 7h0m-32 4h0m-233 9h0m36 3h0m-96 16h0m-228 1h0m269 0h0m63 3h0"/>
<path stroke="#004dff" stroke-width="7.6" d="M1535 2145h0m2 0h0m1 0h0m1 0h0m10 0h0m6 0h0m2 0h0m-46 1h0m12 0h0m-18 1h0m20 0h0m30 0h0m7 0h0m-71 1h0m66 0h0m10 0h0m-66 1h0m5 0h0m4 0h0m-60 1h0m1 0h0m15 0h0m8 0h0m89 0h0m6 0h0m-10 1h0m-194 1h0m8 0h0m16 0h0m2 0h0m3 0h0m55 0h0m120 0h0m4 0h0m-211 1h0m25 0h0m10 0h0m12 0h0m16 0h0m13 0h0m131 0h0m-266 1h0m22 0h0m4 0h0m1 0h0m5 0h0m7 0h0m16 0h0m1 0h0m216 0h0m2 0h0m-298 1h0m7 0h0m16 0h0m57 0h0m216 0h0m-282 1h0m288 0h0m-307 1h0m3 0h0m28 0h0m272 0h0m-315 1h0m3 0h0m2 0h0m4 0h0m304 0h0m7 0h0m-305 1h0m305 0h0m1 0h0m-326 1h0m328 0h0m-335 1h0m1 0h0m2 0h0m10 0h0m2 0h0m1 0h0m3 0h0m1 0h0m312 1h0m3 0h0m1 1h0m-363 1h0m2 0h0m10 0h0m2 0h0m-27 1h0m-32 2h0m5 0h0m15 1h0m5 0h0m4 0h0m-49 1h0m7 0h0m6 0h0m11 0h0m-23 1h0m4 0h0m8 0h0m16 0h0m3 1h0m-39 1h0m435 0h0m-452 1h0m1 0h0m4 0h0m2 0h0m9 0h0m1 0h0m3 0h0m1 0h0m2 0h0m429 1h0m-443 1h0m443 0h0m0 1h0m-457 1h0m12 0h0m-14 1h0m4 0h0m3 0h0m449 2h0m2 1h0m-480 1h0m477 0h0m-488 1h0m1 0h0m4 0h0m2 0h0m1 0h0m1 0h0m2 0h0m4 0h0m1 0h0m1 0h0m472 0h0m-1 2h0m-495 2h0m8 0h0m10 0h0m-20 1h0m8 0h0m2 0h0m-14 2h0m498 0h0m-504 2h0m2 0h0m2 0h0m2 0h0m5 0h0m3 0h0m488 0h0m1 0h0m1 0h0m-4 2h0m-5 3h0m5 0h0m-4 2h0m-504 1h0m2 0h0m6 0h0m2 0h0m-4 2h0m492 1h0m0 1h0m-502 1h0m3 0h0m-1 2h0m2 0h0m494 2h0m-500 1h0m-3 1h0m1 0h0m2 0h0m-2 1h0m-1 1h0m1 0h0m2 0h0m1 1h0m481 3h0m-488 1h0m2 1h0m1 0h0m7 0h0m-8 1h0m472 0h0m-471 2h0m-3 2h0m2 0h0m0 1h0m454 0h0m7 0h0m-459 1h0m6 0h0m1 0h0m-7 1h0m7 0h0m447 0h0m-458 1h0m4 0h0m2 0h0m1 0h0m5 0h0m444 0h0m-453 3h0m9 0h0m-10 1h0m1 0h0m8 1h0m427 0h0m2 0h0m-428 2h0m4 0h0m410 2h0m-419 1h0m7 0h0m2 1h0m396 0h0m-404 1h0m2 0h0m4 0h0m2 0h0m382 1h0m1 0h0m1 1h0m-384 4h0m2 0h0m364 0h0m5 0h0m-15 1h0m12 0h0m-12 1h0m-357 1h0m1 0h0m10 2h0m333 1h0m1 0h0m-332 1h0m331 0h0m-337 3h0m4 0h0m309 1h0m5 0h0m2 0h0m-319 1h0m4 0h0m295 0h0m-294 1h0m4 0h0m296 0h0m-294 1h0m1 0h0m-4 1h0m1 0h0m2 0h0m2 0h0m283 0h0m-279 1h0m0 1h0m240 0h0m6 0h0m20 0h0m-270 1h0m6 0h0m228 0h0m1 0h0m13 0h0m-246 1h0m204 0h0m8 0h0m4 0h0m16 0h0m8 0h0m2 0h0m6 0h0m4 0h0m-238 1h0m2 0h0m188 0h0m2 0h0m14 0h0m5 0h0m-203 1h0m190 0h0m-22 1h0m-173 1h0m147 0h0m1 0h0m25 0h0m-168 1h0m140 0h0m6 0h0m-152 1h0m16 0h0m6 0h0m6 0h0m1 0h0m1 0h0m103 0h0m1 0h0m4 0h0m6 0h0m4 0h0m12 0h0m-143 1h0m4 0h0m103 0h0m16 0h0m-112 1h0m10 0h0m16 0h0m11 0h0m-25 1h0m4 0h0m6 0h0m47 0h0m-63 1h0m10 0h0m25 0h0m8 0h0m1 0h0m12 0h0m4 0h0m2 0h0m16 0h0m14 0h0m-58 1h0m4 0h0m2 0h0m20 0h0m-30 1h0m24 0h0m8 0h0m1 0h0m-113 12h0m1 1h0m3 0h0m10 0h0m19 0h0m24 3h0m3 0h0"/>
<path stroke="#004dff" stroke-width="10.4" d="M569 2319h0m7 0h0m660 0h0m2 0h0m2 0h0m2 0h0m2 0h0"/>
<path stroke="#004dff" stroke-width="11.2" d="M570 2319h0m2 0h0m2 0h0m661 0h0"/>
<path stroke="#003dff" stroke-width="6.6" d="M1515 2149h0m-64 4h0m8 0h0m-42 1h0m-40 1h0m-90 3h0m-6 3h0m-64 6h0m17 0h0m-8 3h0m-55 3h0m-72 16h0m476 0h0m-484 8h0m468 6h0m-488 10h0m464 2h0m-466 10h0m438 1h0m-32 11h0m-42 8h0m-343 5h0m299 4h0m-292 5h0m186 6h0m-138 6h0m64 0h0m-303 20h0m33 0h0m64 0h0m43 0h0m31 0h0m12 0h0m-3 2h0m56 0h0m48 9h0"/>
<path stroke="#003dff" stroke-width="7.6" d="M1546 2147h0m-33 1h0m5 0h0m4 0h0m20 0h0m0 1h0m-52 1h0m29 0h0m22 0h0m16 0h0m-74 1h0m28 0h0m3 0h0m43 0h0m-92 1h0m1 0h0m9 0h0m8 0h0m76 0h0m2 0h0m1 0h0m-196 1h0m1 0h0m20 0h0m47 0h0m12 0h0m115 0h0m-182 1h0m14 0h0m6 0h0m11 0h0m17 0h0m7 0h0m129 0h0m7 0h0m-247 1h0m4 0h0m10 0h0m20 0h0m10 0h0m12 0h0m34 0h0m13 0h0m5 0h0m11 0h0m121 0h0m4 0h0m2 0h0m-248 1h0m5 0h0m4 0h0m1 0h0m6 0h0m5 0h0m225 0h0m-241 1h0m5 0h0m3 0h0m-21 1h0m261 0h0m-299 1h0m2 0h0m8 0h0m8 0h0m16 0h0m6 0h0m260 1h0m-301 1h0m1 0h0m11 0h0m1 0h0m2 0h0m4 0h0m284 0h0m-308 1h0m305 0h0m1 0h0m-328 1h0m328 0h0m2 0h0m1 0h0m-331 1h0m2 0h0m2 0h0m-6 2h0m336 0h0m-362 1h0m360 0h0m-360 1h0m11 0h0m-35 1h0m384 0h0m-382 1h0m6 0h0m4 0h0m3 0h0m-35 1h0m28 0h0m375 0h0m-385 1h0m-31 1h0m5 0h0m8 0h0m2 0h0m1 0h0m1 0h0m2 0h0m4 0h0m1 0h0m3 0h0m1 0h0m3 0h0m-30 2h0m6 0h0m-20 1h0m430 0h0m-428 1h0m20 0h0m407 0h0m3 0h0m-442 1h0m4 0h0m2 0h0m2 0h0m2 0h0m4 0h0m6 0h0m-22 2h0m1 0h0m-9 1h0m18 0h0m2 0h0m-26 1h0m-8 1h0m2 0h0m1 0h0m4 0h0m4 0h0m1 0h0m450 1h0m2 0h0m-470 1h0m469 0h0m-471 1h0m470 0h0m-470 1h0m4 0h0m4 0h0m-12 1h0m475 0h0m-465 1h0m-10 1h0m2 0h0m1 0h0m-12 2h0m1 0h0m2 0h0m4 0h0m-12 1h0m4 0h0m477 0h0m3 0h0m2 0h0m-489 1h0m484 0h0m-485 1h0m-4 3h0m4 0h0m1 0h0m479 1h0m-488 1h0m2 0h0m2 0h0m1 0h0m3 0h0m-8 2h0m6 0h0m3 0h0m479 0h0m-488 1h0m-2 1h0m2 0h0m1 0h0m7 0h0m472 2h0m-484 1h0m2 0h0m3 0h0m1 0h0m3 0h0m469 1h0m-478 1h0m6 0h0m-8 1h0m8 0h0m471 0h0m-483 3h0m2 0h0m5 0h0m3 0h0m1 0h0m461 0h0m4 0h0m-1 1h0m1 0h0m-469 1h0m-3 3h0m3 0h0m456 0h0m-463 1h0m10 0h0m-8 1h0m4 0h0m4 0h0m-2 4h0m2 0h0m438 0h0m-437 1h0m435 0h0m-11 2h0m-431 1h0m3 1h0m421 1h0m-425 1h0m3 0h0m6 0h0m-2 1h0m-8 1h0m2 0h0m408 0h0m0 1h0m-400 1h0m403 0h0m-403 1h0m2 2h0m-6 2h0m2 0h0m2 0h0m4 0h0m-9 1h0m372 0h0m0 1h0m1 0h0m-364 1h0m-5 1h0m3 0h0m4 0h0m-4 1h0m-4 1h0m10 1h0m-8 2h0m2 0h0m1 0h0m5 0h0m326 1h0m-330 1h0m0 2h0m2 0h0m2 0h0m2 0h0m4 0h0m-4 1h0m297 1h0m8 0h0m-303 1h0m2 0h0m1 0h0m-4 3h0m12 0h0m3 0h0m250 0h0m-262 1h0m1 0h0m8 1h0m4 0h0m3 0h0m220 0h0m5 0h0m8 0h0m-243 2h0m10 0h0m1 0h0m213 0h0m2 0h0m2 0h0m8 0h0m8 0h0m-236 1h0m184 0h0m10 0h0m10 0h0m10 0h0m-215 1h0m5 0h0m4 0h0m2 0h0m5 0h0m183 0h0m14 0h0m-208 1h0m4 0h0m2 0h0m8 0h0m1 0h0m165 0h0m-168 1h0m4 0h0m4 0h0m118 0h0m4 0h0m38 0h0m-37 1h0m-121 1h0m14 0h0m62 0h0m4 0h0m9 0h0m21 0h0m8 0h0m-122 1h0m1 0h0m7 0h0m29 0h0m51 0h0m2 0h0m2 0h0m2 0h0m11 0h0m1 0h0m-80 1h0m18 0h0m1 0h0m7 0h0m2 0h0m42 0h0m-75 1h0m1 0h0m2 0h0m13 0h0m5 0h0m4 0h0m2 0h0m6 0h0m3 0h0m8 0h0m9 0h0m2 0h0m12 0h0m-56 1h0m9 0h0m4 0h0m1 0h0m27 0h0"/>
<path stroke="#003dff" stroke-width="10.4" d="M577 2319h0m1 0h0"/>
<path stroke="#003dff" stroke-width="11.2" d="M580 2319h0m2 0h0m2 0h0m643 0h0m1 0h0m2 0h0m2 0h0m2 0h0"/>
<path stroke="#002dff" stroke-width="6.6" d="M1498 2151h0m-79 4h0m-162 10h0m9 0h0m-31 5h0m-60 5h0m-57 12h0m-13 10h0m-11 6h0m451 7h0m-24 9h0m-84 22h0m-18 6h0m-61 11h0m-160 11h0m-91 25h0m28 3h0m7 0h0"/>
<path stroke="#002dff" stroke-width="7.6" d="M1527 2149h0m0 1h0m4 0h0m-37 1h0m9 0h0m28 0h0m10 0h0m2 0h0m-56 1h0m2 0h0m2 0h0m14 0h0m8 0h0m13 0h0m1 0h0m23 0h0m-83 1h0m36 0h0m4 0h0m11 0h0m31 0h0m6 0h0m-69 1h0m63 0h0m2 0h0m-110 1h0m28 0h0m4 0h0m76 0h0m8 0h0m4 0h0m-152 1h0m1 0h0m4 0h0m17 0h0m6 0h0m122 0h0m-238 1h0m70 0h0m14 0h0m1 0h0m157 0h0m2 0h0m-242 1h0m12 0h0m15 0h0m1 0h0m6 0h0m4 0h0m202 0h0m-269 1h0m9 0h0m14 0h0m20 0h0m6 0h0m16 0h0m-50 1h0m4 0h0m2 0h0m250 0h0m2 0h0m-264 1h0m2 0h0m1 0h0m4 0h0m9 0h0m250 0h0m-292 1h0m293 0h0m1 0h0m2 0h0m-320 3h0m318 0h0m2 0h0m1 0h0m-315 1h0m2 0h0m-14 2h0m-17 1h0m344 0h0m-332 1h0m329 0h0m3 0h0m-331 1h0m-26 1h0m357 0h0m-383 1h0m2 0h0m1 0h0m4 0h0m1 0h0m2 0h0m1 0h0m5 0h0m2 0h0m10 0h0m2 0h0m-20 1h0m17 0h0m-25 1h0m4 0h0m5 0h0m3 0h0m14 0h0m-24 1h0m-2 1h0m2 0h0m6 0h0m-30 1h0m19 0h0m-33 1h0m418 0h0m-416 1h0m-2 1h0m6 0h0m-20 1h0m11 0h0m1 0h0m420 0h0m-438 1h0m1 0h0m1 0h0m2 0h0m2 0h0m2 0h0m2 0h0m4 0h0m2 0h0m1 0h0m419 0h0m2 0h0m-433 3h0m-1 1h0m-8 1h0m438 0h0m-1 1h0m-453 1h0m-3 1h0m453 0h0m-462 1h0m1 0h0m3 0h0m1 0h0m3 0h0m2 0h0m2 0h0m454 0h0m-462 2h0m458 0h0m-468 1h0m0 1h0m-2 2h0m1 0h0m1 0h0m466 0h0m-472 2h0m1 0h0m3 0h0m5 0h0m457 0h0m-472 2h0m466 1h0m-464 1h0m466 0h0m-468 2h0m2 1h0m2 0h0m455 0h0m-457 1h0m460 0h0m-462 1h0m3 1h0m451 1h0m-460 2h0m2 0h0m2 0h0m2 0h0m3 0h0m1 0h0m451 0h0m-455 1h0m3 2h0m-1 1h0m0 2h0m-3 3h0m1 0h0m-6 2h0m1 0h0m1 0h0m-2 2h0m1 1h0m419 0h0m-422 1h0m418 0h0m-10 1h0m3 1h0m-403 1h0m4 0h0m388 1h0m-389 1h0m-1 1h0m377 1h0m-383 1h0m6 0h0m1 2h0m3 0h0m-8 1h0m4 0h0m2 0h0m356 2h0m-361 1h0m1 1h0m8 1h0m326 1h0m-327 1h0m5 1h0m326 0h0m-331 1h0m5 0h0m316 0h0m-318 1h0m318 0h0m-317 1h0m309 0h0m-313 1h0m7 0h0m2 0h0m-4 1h0m3 0h0m3 0h0m-10 1h0m10 0h0m-4 1h0m280 0h0m4 0h0m1 0h0m-284 1h0m280 0h0m-17 1h0m6 0h0m-17 1h0m1 1h0m-242 1h0m210 0h0m10 0h0m-222 1h0m216 0h0m-208 1h0m6 0h0m165 0h0m8 0h0m7 0h0m6 0h0m-22 1h0m-176 1h0m2 0h0m6 0h0m177 0h0m9 0h0m3 0h0m-173 1h0m126 0h0m7 0h0m20 0h0m-169 1h0m2 0h0m2 0h0m1 0h0m8 0h0m16 0h0m111 0h0m25 0h0m-157 1h0m4 0h0m2 0h0m2 0h0m2 0h0m2 0h0m1 0h0m5 0h0m3 0h0m87 0h0m4 0h0m2 0h0m2 0h0m4 0h0m-108 1h0m4 0h0m18 0h0m6 0h0m40 0h0m29 0h0m1 0h0m3 0h0m-93 1h0m6 0h0m2 0h0m5 0h0m3 0h0m13 0h0m11 0h0m16 0h0m16 0h0m9 0h0m5 0h0m8 0h0m-85 1h0m4 0h0m4 0h0m8 0h0m5 0h0m4 0h0m2 0h0m4 0h0m22 0h0m15 0h0m9 0h0m2 0h0m2 0h0m-69 1h0m5 0h0m2 0h0m1 0h0m5 0h0m3 0h0m7 0h0m1 0h0m8 0h0"/>
<path stroke="#002dff" stroke-width="11.2" d="M585 2319h0m1 0h0m2 0h0m2 0h0m629 0h0m1 0h0m2 0h0m2 0h0m2 0h0"/>
<path stroke="#001cff" stroke-width="6.6" d="M1451 2155h0m8 0h0m-74 3h0m4 0h0m12 0h0m-36 1h0m50 0h0m138 0h0m-254 3h0m268 3h0m-317 5h0m-63 9h0m-76 18h0m416 20h0m-430 24h0m4 2h0m300 7h0m-284 7h0m221 1h0m7 0h0m-148 8h0m-254 27h0m11 0h0m203 6h0m18 4h0"/>
<path stroke="#001cff" stroke-width="7.6" d="M1487 2153h0m4 0h0m22 0h0m17 0h0m13 0h0m-52 1h0m8 0h0m2 0h0m28 0h0m2 0h0m3 0h0m3 0h0m8 0h0m-39 1h0m1 0h0m4 0h0m6 0h0m18 0h0m2 0h0m13 0h0m-83 1h0m3 0h0m11 0h0m69 0h0m-119 1h0m16 0h0m100 0h0m-154 1h0m13 0h0m5 0h0m-64 1h0m7 0h0m37 0h0m164 0h0m-220 1h0m16 0h0m6 0h0m10 0h0m2 0h0m190 0h0m3 0h0m1 0h0m-236 1h0m14 0h0m5 0h0m4 0h0m7 0h0m13 0h0m187 0h0m-246 1h0m-5 1h0m7 0h0m248 0h0m-279 1h0m281 0h0m-289 1h0m13 0h0m2 0h0m1 0h0m275 0h0m-292 1h0m2 0h0m4 0h0m2 0h0m-10 1h0m-14 1h0m2 0h0m3 0h0m9 0h0m295 0h0m4 0h0m1 0h0m-310 1h0m-8 1h0m1 0h0m-9 1h0m325 0h0m-349 2h0m1 0h0m11 0h0m1 0h0m335 0h0m1 0h0m-3 1h0m2 0h0m-359 1h0m8 0h0m355 0h0m-364 1h0m1 0h0m11 0h0m349 0h0m1 0h0m-361 1h0m13 0h0m-24 1h0m7 0h0m1 0h0m3 0h0m-17 1h0m6 0h0m371 0h0m-392 1h0m15 0h0m4 0h0m-18 1h0m15 0h0m-25 1h0m8 0h0m-23 1h0m3 0h0m1 0h0m1 0h0m2 0h0m9 0h0m-4 1h0m-9 1h0m4 0h0m-15 1h0m5 0h0m7 0h0m-17 1h0m2 0h0m-9 1h0m11 0h0m8 0h0m-11 1h0m424 0h0m-429 1h0m2 0h0m430 0h0m-431 1h0m5 0h0m-22 1h0m1 0h0m1 0h0m2 0h0m5 0h0m1 0h0m3 0h0m431 0h0m-450 1h0m18 0h0m-7 1h0m1 0h0m2 0h0m-12 3h0m442 0h0m-442 1h0m442 0h0m-454 2h0m4 0h0m1 0h0m3 0h0m1 0h0m1 0h0m444 0h0m-456 1h0m-2 1h0m454 0h0m-457 1h0m3 0h0m449 0h0m1 0h0m-450 1h0m2 0h0m-5 2h0m0 1h0m1 0h0m2 0h0m-6 1h0m-1 1h0m1 0h0m447 0h0m-443 4h0m-1 2h0m3 0h0m422 1h0m-428 1h0m0 1h0m-6 1h0m4 0h0m1 0h0m0 2h0m-4 1h0m419 1h0m-420 1h0m1 0h0m5 0h0m2 0h0m-6 1h0m0 1h0m0 1h0m4 1h0m3 0h0m381 1h0m-388 2h0m10 0h0m373 0h0m1 1h0m-384 1h0m4 0h0m2 0h0m1 0h0m379 0h0m-380 1h0m2 1h0m362 0h0m-366 1h0m2 0h0m2 0h0m351 1h0m4 0h0m5 0h0m-9 1h0m-347 1h0m342 0h0m2 0h0m-5 1h0m1 0h0m-9 1h0m-11 2h0m4 1h0m2 1h0m-328 1h0m5 1h0m1 0h0m300 1h0m-304 1h0m4 0h0m3 0h0m283 0h0m18 0h0m-20 1h0m-281 1h0m1 0h0m275 1h0m-275 1h0m2 0h0m1 0h0m5 0h0m252 0h0m-253 1h0m256 0h0m3 0h0m-10 1h0m-40 3h0m2 0h0m4 0h0m-212 1h0m2 0h0m176 0h0m11 0h0m5 0h0m10 0h0m8 0h0m-202 1h0m160 0h0m18 0h0m-179 1h0m4 0h0m4 0h0m1 0h0m131 0h0m5 0h0m2 0h0m-148 1h0m0 1h0m4 0h0m8 0h0m2 0h0m3 0h0m7 0h0m10 0h0m98 0h0m1 0h0m1 0h0m8 0h0m2 0h0m1 0h0m12 0h0m-139 1h0m74 0h0m16 0h0m-92 1h0m8 0h0m5 0h0m1 0h0m3 0h0m1 0h0m22 0h0m6 0h0m11 0h0m5 0h0m44 0h0m3 0h0m4 0h0m-87 1h0m14 0h0m16 0h0m1 0h0m4 0h0m7 0h0m1 0h0m4 0h0m4 0h0m9 0h0m-44 1h0m32 0h0"/>
<path stroke="#001cff" stroke-width="11.2" d="M591 2319h0m1 0h0m2 0h0m2 0h0m2 0h0m615 0h0m1 0h0m2 0h0m2 0h0"/>
<path stroke="#000cff" stroke-width="6.6" d="M1386 2161h0m-120 9h0m-47 11h0m-50 5h0m-32 9h0m-3 3h0m413 5h0m-37 18h0m-409 1h0m8 15h0m2 5h0m292 5h0m-288 3h0m178 7h0m-67 6h0m-296 30h0m61 0h0m68 1h0"/>
<path stroke="#000cff" stroke-width="7.6" d="M1490 2155h0m21 0h0m11 0h0m8 0h0m-44 1h0m15 0h0m5 0h0m8 0h0m7 0h0m2 0h0m11 0h0m-61 1h0m16 0h0m20 0h0m-67 1h0m3 0h0m4 0h0m21 0h0m69 0h0m-84 1h0m87 0h0m1 0h0m4 0h0m2 0h0m-158 1h0m4 0h0m8 0h0m143 0h0m1 0h0m-186 1h0m21 0h0m41 0h0m126 0h0m-219 1h0m9 0h0m8 0h0m10 0h0m12 0h0m180 0h0m4 0h0m-228 1h0m9 0h0m5 0h0m23 0h0m-57 1h0m2 0h0m14 0h0m236 0h0m4 0h0m-4 1h0m4 0h0m-275 1h0m4 0h0m272 0h0m1 0h0m-292 1h0m6 0h0m2 0h0m284 0h0m-286 1h0m6 0h0m279 0h0m-300 1h0m9 0h0m2 0h0m12 0h0m274 0h0m4 1h0m3 0h0m-304 2h0m-21 1h0m1 0h0m7 0h0m2 0h0m0 1h0m315 1h0m-339 1h0m6 0h0m334 0h0m-338 1h0m-7 1h0m4 0h0m-24 1h0m11 0h0m352 0h0m4 0h0m-360 1h0m354 0h0m-364 1h0m6 0h0m5 0h0m1 0h0m352 0h0m3 0h0m-373 1h0m12 0h0m-28 1h0m2 0h0m3 0h0m1 0h0m8 0h0m2 0h0m1 0h0m372 0h0m-1 1h0m-394 1h0m8 0h0m386 0h0m-400 1h0m13 0h0m385 0h0m-390 1h0m-16 1h0m9 0h0m7 0h0m389 0h0m3 0h0m-407 1h0m405 0h0m-413 1h0m5 0h0m4 0h0m-16 1h0m4 0h0m414 0h0m-423 1h0m5 0h0m4 0h0m2 0h0m1 0h0m4 0h0m407 0h0m0 2h0m-4 1h0m1 0h0m0 1h0m-433 2h0m2 0h0m-4 1h0m-5 1h0m1 0h0m2 0h0m4 0h0m1 0h0m3 0h0m426 0h0m-434 1h0m432 0h0m-430 1h0m-8 1h0m2 0h0m-6 1h0m2 0h0m1 0h0m5 0h0m426 1h0m-435 1h0m435 0h0m-434 1h0m4 0h0m2 0h0m422 1h0m-430 1h0m4 0h0m421 0h0m4 0h0m-425 1h0m421 0h0m1 0h0m-430 1h0m426 0h0m-422 1h0m-6 1h0m4 0h0m4 0h0m416 0h0m-420 1h0m416 0h0m2 0h0m-422 2h0m6 0h0m-8 1h0m8 0h0m-3 1h0m408 0h0m-411 1h0m2 0h0m0 3h0m1 0h0m397 0h0m-6 1h0m-392 1h0m1 0h0m389 0h0m-392 2h0m4 0h0m2 0h0m381 0h0m-384 1h0m3 0h0m382 0h0m-384 1h0m2 0h0m378 1h0m-10 1h0m-372 1h0m2 0h0m364 0h0m-366 1h0m364 0h0m-366 1h0m2 0h0m360 0h0m-10 2h0m2 2h0m-354 3h0m3 0h0m1 0h0m2 0h0m316 2h0m-316 2h0m1 1h0m3 1h0m1 0h0m4 0h0m289 0h0m-293 1h0m3 0h0m278 0h0m4 0h0m-280 2h0m266 1h0m6 0h0m-272 1h0m4 0h0m2 0h0m252 0h0m-256 2h0m2 0h0m235 0h0m4 0h0m-3 1h0m2 0h0m-6 1h0m-230 1h0m1 0h0m1 0h0m6 0h0m196 0h0m6 0h0m-8 1h0m6 0h0m-202 1h0m11 0h0m1 0h0m158 0h0m2 0h0m3 0h0m16 0h0m-185 1h0m4 0h0m2 0h0m116 0h0m18 0h0m4 0h0m24 0h0m-164 1h0m14 0h0m106 0h0m5 0h0m1 0h0m3 0h0m-119 1h0m2 0h0m2 0h0m2 0h0m6 0h0m2 0h0m6 0h0m6 0h0m8 0h0m16 0h0m1 0h0m21 0h0m6 0h0m18 0h0m3 0h0m7 0h0m-107 1h0m1 0h0m18 0h0m4 0h0m30 0h0m16 0h0m10 0h0m18 0h0m10 0h0m-108 1h0m6 0h0m4 0h0m3 0h0m3 0h0m2 0h0m7 0h0m3 0h0m2 0h0m7 0h0m12 0h0m4 0h0m32 0h0m5 0h0m3 0h0m9 0h0m-78 2h0m12 0h0m1 0h0m5 0h0m15 0h0m7 0h0m4 0h0"/>
<path stroke="#000cff" stroke-width="11.2" d="M599 2319h0m1 0h0m2 0h0m2 0h0m601 0h0m1 0h0m2 0h0m2 0h0m2 0h0"/>
<path stroke="#0004fb" stroke-width="6.6" d="M1465 2159h0m-59 2h0m-53 2h0m198 32h0m-422 8h0m-4 4h0m-3 3h0m-5 3h0m-7 9h0m373 4h0m-372 1h0m-2 7h0m8 8h0m230 12h0m-254 41h0m4 0h0m-8 2h0m26 1h0"/>
<path stroke="#0004fb" stroke-width="7.6" d="M1481 2157h0m32 0h0m10 0h0m-30 1h0m13 0h0m5 0h0m8 0h0m2 0h0m12 0h0m-108 1h0m6 0h0m50 0h0m5 0h0m3 0h0m44 0h0m-103 1h0m-7 1h0m7 0h0m7 0h0m6 0h0m16 0h0m-84 1h0m4 0h0m2 0h0m1 0h0m20 0h0m137 0h0m-205 1h0m44 0h0m13 0h0m154 0h0m-216 1h0m1 0h0m7 0h0m1 0h0m4 0h0m15 0h0m190 0h0m7 0h0m-255 1h0m3 0h0m7 1h0m9 0h0m1 0h0m232 0h0m-232 1h0m235 0h0m3 0h0m-264 1h0m-19 1h0m281 0h0m-282 1h0m6 0h0m4 0h0m278 0h0m2 2h0m-309 1h0m4 0h0m3 0h0m300 1h0m-314 2h0m8 0h0m307 0h0m-317 1h0m-12 1h0m10 0h0m2 0h0m318 0h0m-340 2h0m338 0h0m-335 1h0m9 0h0m-36 2h0m2 0h0m2 0h0m2 0h0m1 0h0m1 0h0m4 0h0m2 0h0m1 0h0m347 0h0m1 0h0m-364 1h0m1 0h0m-10 1h0m10 0h0m4 0h0m-8 1h0m366 0h0m-375 1h0m3 0h0m10 0h0m-18 1h0m1 0h0m373 1h0m-388 1h0m11 0h0m1 0h0m-12 1h0m10 0h0m378 0h0m3 0h0m-400 1h0m1 0h0m11 0h0m1 0h0m2 0h0m382 0h0m3 0h0m-408 2h0m9 0h0m-17 1h0m4 0h0m8 0h0m3 0h0m6 0h0m394 0h0m-412 1h0m6 0h0m-8 1h0m2 0h0m-6 1h0m7 0h0m3 0h0m402 0h0m-2 1h0m-418 1h0m10 0h0m2 0h0m402 0h0m4 0h0m-426 3h0m2 0h0m0 1h0m8 0h0m404 1h0m-418 2h0m2 0h0m1 0h0m412 0h0m3 0h0m2 0h0m-420 1h0m412 1h0m3 0h0m-7 2h0m-413 1h0m413 0h0m-416 1h0m3 0h0m412 0h0m1 0h0m-9 2h0m-407 1h0m4 0h0m-4 1h0m6 0h0m1 0h0m399 0h0m-399 1h0m-4 1h0m1 0h0m2 0h0m388 0h0m1 1h0m-392 1h0m385 0h0m2 0h0m-4 1h0m2 0h0m2 0h0m-10 1h0m0 1h0m2 0h0m-378 1h0m0 1h0m364 1h0m-364 1h0m359 1h0m7 0h0m-12 1h0m5 0h0m1 0h0m-366 1h0m6 0h0m-4 2h0m4 0h0m2 0h0m348 0h0m-351 1h0m5 0h0m335 0h0m-341 1h0m334 0h0m-330 1h0m328 0h0m-7 1h0m-327 1h0m4 0h0m2 0h0m320 0h0m-4 1h0m-310 2h0m310 0h0m-312 1h0m300 1h0m-299 1h0m292 0h0m-292 1h0m3 0h0m272 0h0m2 0h0m-274 1h0m2 1h0m4 0h0m268 0h0m-272 1h0m259 0h0m-264 1h0m4 0h0m268 0h0m-259 1h0m239 0h0m-244 1h0m1 0h0m232 0h0m20 0h0m-24 1h0m8 0h0m-236 1h0m11 0h0m195 0h0m14 0h0m-217 1h0m1 0h0m198 0h0m4 0h0m6 0h0m-208 1h0m199 0h0m-196 1h0m4 0h0m5 0h0m8 0h0m150 0h0m4 0h0m5 0h0m1 0h0m8 0h0m-16 1h0m10 0h0m-158 1h0m8 0h0m102 0h0m2 0h0m3 0h0m5 0h0m-118 1h0m1 0h0m1 0h0m2 0h0m4 0h0m1 0h0m5 0h0m6 0h0m4 0h0m4 0h0m8 0h0m1 0h0m7 0h0m1 0h0m13 0h0m16 0h0m2 0h0m10 0h0m8 0h0m2 0h0m20 0h0m-102 1h0m11 0h0m21 0h0m4 0h0m30 0h0m6 0h0m2 0h0m2 0h0m-70 1h0m42 0h0m11 0h0m-79 41h0"/>
<path stroke="#0004fb" stroke-width="10.4" d="M1202 2319h0"/>
<path stroke="#0004fb" stroke-width="11.2" d="M605 2319h0m1 0h0m2 0h0m2 0h0m589 0h0m1 0h0m3 0h0m2 0h0"/>
<path stroke="#0014eb" stroke-width="6.6" d="M1515 2159h0m-102 3h0m-124 8h0m-18 3h0m-101 22h0m11 0h0m-54 20h0m295 24h0m-41 8h0m-83 8h0m-233 42h0"/>
<path stroke="#0014eb" stroke-width="7.6" d="M1473 2159h0m34 0h0m14 0h0m-40 1h0m9 0h0m1 0h0m3 0h0m5 0h0m10 0h0m4 0h0m10 0h0m2 0h0m-98 1h0m23 0h0m19 0h0m8 0h0m12 0h0m12 0h0m18 0h0m8 0h0m8 0h0m-114 1h0m9 0h0m1 0h0m12 0h0m3 0h0m79 0h0m6 0h0m3 0h0m-131 1h0m14 0h0m4 0h0m12 0h0m1 0h0m92 0h0m5 0h0m7 0h0m7 0h0m-170 1h0m7 0h0m8 0h0m1 0h0m2 0h0m9 0h0m135 0h0m-196 1h0m41 0h0m16 0h0m4 0h0m140 0h0m3 0h0m-219 1h0m4 0h0m1 0h0m2 0h0m212 0h0m2 0h0m-246 1h0m6 0h0m2 0h0m20 0h0m1 0h0m9 0h0m2 0h0m-36 1h0m4 0h0m4 0h0m1 0h0m3 0h0m232 0h0m1 0h0m-259 2h0m6 0h0m-18 1h0m14 0h0m6 0h0m258 0h0m-6 1h0m2 0h0m-290 1h0m3 0h0m8 0h0m281 1h0m-293 1h0m293 0h0m-293 1h0m-4 1h0m4 0h0m295 0h0m-306 1h0m3 0h0m305 0h0m-322 1h0m2 0h0m4 0h0m8 0h0m306 0h0m-314 1h0m314 0h0m-2 1h0m3 0h0m-325 1h0m1 0h0m-19 1h0m8 0h0m3 0h0m333 0h0m-342 2h0m2 0h0m10 0h0m328 0h0m1 0h0m-355 1h0m3 0h0m-8 1h0m9 0h0m4 0h0m2 0h0m1 0h0m343 0h0m-362 1h0m4 0h0m3 0h0m1 0h0m2 0h0m350 0h0m-356 1h0m7 0h0m-13 1h0m362 0h0m-368 1h0m368 0h0m-378 1h0m4 0h0m6 0h0m2 0h0m1 0h0m361 0h0m-364 1h0m-30 2h0m1 1h0m-7 1h0m10 0h0m1 0h0m3 0h0m381 0h0m1 0h0m2 0h0m-398 1h0m10 0h0m1 0h0m387 0h0m-392 1h0m-14 1h0m2 0h0m1 0h0m1 0h0m3 0h0m4 0h0m1 0h0m2 0h0m1 0h0m-15 2h0m-9 2h0m404 0h0m-397 1h0m5 0h0m387 0h0m1 0h0m-396 1h0m3 0h0m-12 1h0m2 0h0m2 0h0m5 0h0m1 0h0m392 1h0m-402 1h0m8 0h0m-10 1h0m6 0h0m2 0h0m-6 2h0m2 0h0m391 0h0m1 0h0m-6 1h0m2 0h0m-1 2h0m-393 3h0m-7 1h0m3 0h0m2 0h0m0 1h0m380 0h0m-381 1h0m-3 1h0m4 0h0m-4 1h0m0 1h0m4 0h0m-4 4h0m2 0h0m-2 1h0m0 1h0m0 1h0m4 0h0m342 0h0m-344 1h0m-2 1h0m3 0h0m327 0h0m-326 1h0m327 0h0m-325 1h0m-3 1h0m1 0h0m2 0h0m317 0h0m-12 3h0m-305 2h0m1 0h0m1 0h0m298 0h0m-300 1h0m288 0h0m1 0h0m3 0h0m-294 1h0m288 0h0m-285 1h0m5 0h0m-6 1h0m281 0h0m-275 1h0m2 0h0m2 0h0m-2 1h0m6 0h0m252 0h0m-249 1h0m236 0h0m5 0h0m-252 1h0m2 0h0m1 0h0m3 0h0m2 0h0m2 0h0m-2 1h0m4 0h0m4 0h0m216 0h0m2 0h0m5 0h0m-231 1h0m2 0h0m2 0h0m2 0h0m10 0h0m184 0h0m6 0h0m10 0h0m14 0h0m-227 1h0m7 0h0m194 0h0m2 0h0m-202 1h0m3 0h0m1 0h0m2 0h0m1 0h0m3 0h0m1 0h0m13 0h0m4 0h0m123 0h0m1 0h0m31 0h0m5 0h0m2 0h0m10 0h0m8 0h0m-193 1h0m4 0h0m147 0h0m2 0h0m2 0h0m2 0h0m12 0h0m-178 1h0m6 0h0m11 0h0m3 0h0m136 0h0m9 0h0m-155 1h0m3 0h0m7 0h0m1 0h0m1 0h0m6 0h0m2 0h0m6 0h0m8 0h0m4 0h0m12 0h0m1 0h0m1 0h0m2 0h0m1 0h0m8 0h0m35 0h0m1 0h0m1 0h0m3 0h0m3 0h0m6 0h0m2 0h0m6 0h0m4 0h0m3 0h0m1 0h0m-121 1h0m44 0h0m3 0h0m10 0h0m26 0h0m2 0h0m2 0h0m10 0h0m-70 1h0m6 0h0m2 0h0m5 0h0m7 0h0m13 0h0m4 0h0m-19 1h0m11 0h0m16 0h0m3 0h0m4 0h0m6 0h0m-213 37h0"/>
<path stroke="#0014eb" stroke-width="11.2" d="M611 2319h0m1 0h0m2 0h0m2 0h0m578 0h0m2 0h0m2 0h0"/>
<path stroke="#0024db" stroke-width="6.6" d="M1373 2167h0m180 12h0m-376 16h0m-30 50h0"/>
<path stroke="#0024db" stroke-width="7.6" d="M1455 2161h0m7 0h0m27 0h0m24 0h0m-44 1h0m6 0h0m14 0h0m1 0h0m4 0h0m4 0h0m1 0h0m24 0h0m2 0h0m-122 1h0m34 0h0m34 0h0m2 0h0m2 0h0m11 0h0m28 0h0m4 0h0m-112 1h0m1 0h0m15 0h0m7 0h0m2 0h0m4 0h0m88 0h0m4 0h0m2 0h0m-172 1h0m26 0h0m4 0h0m34 0h0m108 0h0m1 0h0m4 0h0m-177 1h0m24 0h0m4 0h0m2 0h0m147 0h0m1 0h0m2 0h0m-215 1h0m3 0h0m13 0h0m17 0h0m6 0h0m20 0h0m-58 1h0m4 0h0m4 0h0m2 0h0m8 0h0m2 0h0m2 0h0m194 0h0m2 0h0m1 0h0m-228 1h0m3 0h0m6 0h0m224 0h0m2 0h0m-247 1h0m1 0h0m6 0h0m8 0h0m232 0h0m1 2h0m-273 1h0m2 0h0m3 0h0m4 0h0m1 0h0m-10 1h0m272 0h0m-264 1h0m265 0h0m-279 1h0m278 0h0m-280 1h0m4 0h0m277 0h0m1 0h0m2 0h0m-292 1h0m2 0h0m-6 1h0m298 0h0m-308 1h0m4 0h0m4 0h0m2 1h0m-10 1h0m-1 1h0m-27 2h0m4 0h0m11 0h0m321 0h0m-333 1h0m7 0h0m1 0h0m-7 1h0m4 0h0m-10 1h0m-10 1h0m2 1h0m2 0h0m-13 1h0m1 0h0m4 0h0m344 0h0m-352 1h0m3 0h0m1 0h0m6 0h0m342 0h0m2 2h0m-362 1h0m4 0h0m352 0h0m3 0h0m3 0h0m-360 1h0m354 0h0m2 0h0m1 0h0m1 0h0m-382 2h0m6 0h0m-5 1h0m372 0h0m5 0h0m-382 1h0m1 0h0m1 0h0m4 0h0m2 0h0m2 0h0m2 0h0m368 0h0m-384 1h0m382 0h0m-388 1h0m384 0h0m-384 1h0m4 0h0m11 0h0m369 0h0m-388 3h0m4 0h0m-9 1h0m3 0h0m2 0h0m2 0h0m-3 1h0m1 0h0m-5 1h0m1 0h0m2 0h0m380 0h0m-390 1h0m6 0h0m1 0h0m375 1h0m-376 1h0m-4 1h0m2 0h0m2 0h0m372 1h0m1 0h0m-379 1h0m379 0h0m-379 1h0m2 0h0m-7 1h0m376 0h0m-372 1h0m1 0h0m367 0h0m1 0h0m-376 1h0m2 0h0m4 0h0m2 0h0m-2 1h0m361 0h0m1 0h0m-5 1h0m1 0h0m-365 1h0m5 0h0m2 0h0m356 0h0m-358 1h0m4 0h0m358 0h0m-366 1h0m4 0h0m2 0h0m341 1h0m4 0h0m-353 1h0m8 0h0m345 0h0m-349 2h0m2 0h0m-2 1h0m329 0h0m5 0h0m-334 1h0m328 0h0m-331 1h0m1 0h0m6 1h0m-4 1h0m4 0h0m313 0h0m-1 1h0m-318 1h0m318 0h0m-318 1h0m3 0h0m1 0h0m4 0h0m2 0h0m-8 1h0m8 0h0m-7 2h0m1 1h0m2 0h0m2 0h0m3 0h0m3 0h0m276 0h0m-280 1h0m4 0h0m-2 1h0m264 0h0m-6 2h0m1 0h0m-257 2h0m2 0h0m2 0h0m240 0h0m1 0h0m-232 1h0m216 0h0m16 0h0m-233 1h0m224 0h0m-234 1h0m10 0h0m216 0h0m-215 1h0m3 0h0m4 0h0m8 0h0m185 0h0m4 0h0m-203 1h0m2 0h0m1 0h0m11 0h0m9 0h0m4 0h0m1 0h0m116 0h0m4 0h0m24 0h0m6 0h0m2 0h0m-177 1h0m1 0h0m3 0h0m11 0h0m140 0h0m4 0h0m6 0h0m-165 1h0m15 0h0m2 0h0m4 0h0m8 0h0m2 0h0m1 0h0m1 0h0m3 0h0m3 0h0m4 0h0m1 0h0m5 0h0m4 0h0m4 0h0m2 0h0m12 0h0m1 0h0m1 0h0m10 0h0m9 0h0m3 0h0m4 0h0m6 0h0m2 0h0m12 0h0m6 0h0m3 0h0m33 0h0m11 0h0m-143 1h0m6 0h0m2 0h0m2 0h0m4 0h0m5 0h0m5 0h0m30 0h0m4 0h0m6 0h0m15 0h0m8 0h0m11 0h0m-106 1h0m4 0h0m3 0h0m11 0h0m8 0h0m2 0h0m2 0h0m5 0h0m5 0h0m7 0h0m55 0h0m2 0h0m7 0h0m-67 1h0m6 0h0m1 0h0m1 0h0m3 0h0m3 0h0m2 0h0m-6 1h0m-80 46h0"/>
<path stroke="#0024db" stroke-width="11.2" d="M617 2319h0m1 0h0m2 0h0m2 0h0m565 0h0m1 0h0m2 0h0m2 0h0"/>
<path stroke="#0035ca" stroke-width="6.6" d="M1505 2163h0m2 2h0m-266 18h0m-63 16h0m-39 20h0m315 11h0m-307 11h0m8 2h0"/>
<path stroke="#0035ca" stroke-width="7.6" d="M1450 2163h0m37 0h0m10 0h0m-55 1h0m5 0h0m7 0h0m7 0h0m6 0h0m30 0h0m20 0h0m4 0h0m-116 1h0m10 0h0m23 0h0m4 0h0m3 0h0m14 0h0m6 0h0m8 0h0m6 0h0m12 0h0m38 0h0m4 0h0m-142 1h0m3 0h0m7 0h0m17 0h0m3 0h0m101 0h0m1 0h0m-176 1h0m6 0h0m2 0h0m10 0h0m32 0h0m132 0h0m-180 1h0m2 0h0m8 0h0m6 0h0m2 0h0m12 0h0m2 0h0m152 0h0m4 0h0m-212 1h0m26 0h0m3 0h0m23 0h0m165 0h0m-224 1h0m12 0h0m4 0h0m203 0h0m2 0h0m2 0h0m1 0h0m-223 1h0m6 0h0m-24 1h0m8 0h0m5 0h0m227 0h0m2 0h0m2 0h0m-258 1h0m2 0h0m4 0h0m4 0h0m1 0h0m15 0h0m-23 1h0m255 0h0m-267 1h0m3 0h0m17 0h0m245 0h0m-264 1h0m6 0h0m-6 1h0m268 0h0m-278 1h0m1 0h0m1 0h0m2 0h0m1 0h0m1 0h0m272 0h0m-285 1h0m0 1h0m283 0h0m4 0h0m-300 1h0m9 0h0m288 0h0m1 0h0m-292 1h0m294 0h0m-304 1h0m305 0h0m1 0h0m0 1h0m-314 1h0m308 0h0m2 0h0m-310 1h0m1 0h0m3 0h0m2 0h0m303 0h0m-323 1h0m11 0h0m315 0h0m-323 1h0m3 0h0m1 0h0m-1 1h0m2 0h0m312 0h0m-324 1h0m324 1h0m-337 1h0m3 0h0m5 0h0m1 0h0m-12 2h0m-2 1h0m340 1h0m-348 1h0m344 0h0m1 0h0m-356 1h0m4 0h0m3 0h0m1 0h0m1 0h0m348 0h0m2 0h0m-6 1h0m-361 1h0m357 2h0m2 0h0m-362 1h0m-10 1h0m1 0h0m4 0h0m5 0h0m359 0h0m-375 1h0m4 0h0m368 0h0m3 0h0m-371 1h0m6 0h0m362 0h0m-378 1h0m1 0h0m3 0h0m2 0h0m370 0h0m-4 1h0m-370 1h0m6 0h0m4 0h0m358 0h0m-364 1h0m-12 1h0m8 0h0m362 0h0m4 0h0m-374 1h0m8 0h0m-5 1h0m1 0h0m2 0h0m362 0h0m-366 1h0m362 0h0m-365 1h0m1 0h0m2 0h0m0 1h0m-2 1h0m-1 1h0m353 0h0m2 0h0m-355 1h0m1 0h0m0 1h0m347 1h0m-4 1h0m1 0h0m-345 1h0m333 0h0m4 0h0m-345 1h0m3 0h0m2 0h0m3 0h0m1 1h0m-4 1h0m330 0h0m4 0h0m-10 1h0m8 0h0m-333 1h0m1 0h0m4 2h0m-6 1h0m4 0h0m1 0h0m304 1h0m-309 1h0m5 0h0m295 0h0m-296 1h0m294 0h0m2 0h0m-300 1h0m6 0h0m-4 1h0m3 0h0m1 0h0m2 0h0m2 0h0m280 0h0m-2 1h0m4 0h0m-288 1h0m2 0h0m2 0h0m-3 2h0m1 0h0m266 0h0m1 0h0m3 0h0m-15 1h0m-248 3h0m1 0h0m242 0h0m-235 1h0m-7 1h0m7 0h0m1 0h0m2 0h0m2 0h0m-6 1h0m6 0h0m4 0h0m3 0h0m8 0h0m179 0h0m2 0h0m16 0h0m-213 1h0m1 0h0m2 0h0m8 0h0m186 0h0m-198 1h0m6 0h0m4 0h0m2 0h0m2 0h0m10 0h0m8 0h0m6 0h0m4 0h0m4 0h0m116 0h0m40 0h0m-192 1h0m6 0h0m13 0h0m3 0h0m6 0h0m118 0h0m6 0h0m4 0h0m2 0h0m2 0h0m2 0h0m2 0h0m4 0h0m3 0h0m-147 1h0m2 0h0m1 0h0m3 0h0m2 0h0m10 0h0m4 0h0m6 0h0m2 0h0m2 0h0m7 0h0m1 0h0m11 0h0m7 0h0m4 0h0m8 0h0m8 0h0m2 0h0m8 0h0m3 0h0m1 0h0m4 0h0m8 0h0m26 0h0m-122 1h0m2 0h0m20 0h0m9 0h0m5 0h0m7 0h0m5 0h0m8 0h0m22 0h0m-82 1h0m4 0h0m16 0h0m-88 49h0"/>
<path stroke="#0035ca" stroke-width="11.2" d="M623 2319h0m1 0h0m2 0h0m555 0h0m1 0h0m2 0h0m2 0h0"/>
<path stroke="#0045ba" stroke-width="6.6" d="M1223 2191h0m-4 4h0m-70 22h0m4 22h0"/>
<path stroke="#0045ba" stroke-width="7.6" d="M1429 2165h0m4 0h0m4 0h0m8 0h0m13 0h0m59 0h0m-92 1h0m6 0h0m6 0h0m17 0h0m7 0h0m1 0h0m1 0h0m52 0h0m3 0h0m-125 1h0m9 0h0m27 0h0m2 0h0m15 0h0m73 0h0m11 0h0m-143 1h0m14 0h0m5 0h0m117 0h0m3 0h0m4 0h0m-188 1h0m1 0h0m10 0h0m45 0h0m4 0h0m3 0h0m120 0h0m2 0h0m-188 1h0m8 0h0m2 0h0m8 0h0m12 0h0m162 0h0m2 0h0m4 0h0m-204 1h0m18 0h0m4 0h0m10 0h0m173 0h0m-211 1h0m208 0h0m-236 1h0m3 0h0m1 0h0m3 0h0m1 0h0m231 0h0m-228 1h0m233 0h0m-240 1h0m235 0h0m4 0h0m-255 1h0m10 0h0m244 0h0m1 0h0m-260 2h0m1 0h0m-10 1h0m270 0h0m2 0h0m-275 1h0m3 0h0m270 0h0m2 0h0m-286 1h0m12 0h0m272 0h0m-280 1h0m279 0h0m4 0h0m-292 1h0m4 0h0m283 0h0m1 0h0m-288 1h0m288 0h0m3 0h0m1 0h0m-4 2h0m3 0h0m-308 1h0m5 0h0m8 0h0m291 0h0m2 0h0m-308 1h0m4 0h0m-6 1h0m-7 1h0m4 0h0m1 0h0m4 0h0m-17 2h0m3 0h0m6 0h0m2 0h0m314 0h0m-4 1h0m0 1h0m0 1h0m-4 1h0m3 0h0m-340 1h0m3 0h0m-4 1h0m2 0h0m2 0h0m1 0h0m332 0h0m-347 2h0m4 0h0m2 0h0m1 0h0m339 0h0m-344 1h0m5 0h0m333 0h0m4 0h0m-2 1h0m-344 1h0m6 0h0m-18 1h0m1 0h0m4 0h0m1 0h0m344 0h0m2 0h0m1 0h0m1 0h0m-365 3h0m1 0h0m2 0h0m2 0h0m3 0h0m1 0h0m350 0h0m4 0h0m-360 1h0m6 0h0m348 0h0m-358 1h0m6 0h0m-6 1h0m352 0h0m-355 1h0m5 0h0m2 0h0m-4 1h0m-4 1h0m1 0h0m1 0h0m342 0h0m10 0h0m-352 1h0m342 1h0m5 0h0m-352 1h0m347 0h0m-355 1h0m7 0h0m-7 1h0m8 0h0m337 0h0m2 0h0m-347 1h0m1 0h0m2 0h0m2 0h0m335 0h0m-333 1h0m333 0h0m-8 1h0m-333 1h0m1 0h0m4 0h0m-7 1h0m3 1h0m4 0h0m1 0h0m316 1h0m-320 1h0m3 0h0m-5 2h0m1 0h0m3 0h0m-2 1h0m6 0h0m-10 2h0m3 0h0m295 0h0m-2 1h0m3 0h0m-296 1h0m3 0h0m2 0h0m2 0h0m276 0h0m-276 1h0m1 0h0m275 0h0m2 0h0m-278 1h0m1 0h0m279 0h0m-286 1h0m6 0h0m4 0h0m-6 1h0m4 0h0m2 0h0m2 0h0m252 0h0m-254 1h0m258 0h0m-258 1h0m0 1h0m2 0h0m3 0h0m237 0h0m2 0h0m-246 1h0m2 0h0m2 0h0m232 0h0m-232 1h0m12 0h0m223 0h0m1 0h0m-225 1h0m219 0h0m-228 1h0m2 0h0m8 0h0m10 0h0m2 0h0m192 0h0m4 0h0m-202 1h0m1 0h0m183 0h0m2 0h0m2 0h0m10 0h0m2 0h0m8 0h0m-211 1h0m5 0h0m3 0h0m4 0h0m11 0h0m2 0h0m162 0h0m4 0h0m1 0h0m-195 1h0m24 0h0m20 0h0m122 0h0m2 0h0m2 0h0m12 0h0m-142 1h0m2 0h0m1 0h0m128 0h0m11 0h0m-163 1h0m1 0h0m11 0h0m3 0h0m5 0h0m3 0h0m2 0h0m7 0h0m65 0h0m10 0h0m38 0h0m4 0h0m11 0h0m-136 1h0m5 0h0m14 0h0m6 0h0m4 0h0m10 0h0m2 0h0m2 0h0m5 0h0m1 0h0m10 0h0m4 0h0m6 0h0m7 0h0m16 0h0m4 0h0m-95 1h0m22 0h0m-198 47h0"/>
<path stroke="#0045ba" stroke-width="11.2" d="M627 2319h0m1 0h0m2 0h0m2 0h0m543 0h0m1 0h0m2 0h0m2 0h0"/>
<path stroke="#0055aa" stroke-width="6.6" d="M1409 2167h0m-14 3h0m23 65h0m-224 10h0m11 1h0m142 0h0"/>
<path stroke="#0055aa" stroke-width="7.6" d="M1475 2165h0m2 0h0m4 0h0m4 0h0m2 0h0m3 0h0m3 0h0m4 0h0m-18 1h0m6 0h0m1 0h0m9 0h0m-77 1h0m3 0h0m1 0h0m9 0h0m2 0h0m65 0h0m19 0h0m-99 1h0m3 0h0m6 0h0m2 0h0m8 0h0m77 0h0m1 0h0m2 0h0m4 0h0m-143 1h0m3 0h0m44 0h0m13 0h0m67 0h0m4 0h0m12 0h0m-143 1h0m4 0h0m4 0h0m139 0h0m-150 1h0m144 0h0m10 0h0m-195 1h0m3 0h0m10 0h0m4 0h0m2 0h0m2 0h0m175 0h0m3 0h0m-218 1h0m2 0h0m24 0h0m-30 1h0m2 0h0m2 0h0m2 0h0m4 0h0m212 0h0m-234 1h0m19 0h0m-17 1h0m233 0h0m3 0h0m-234 1h0m-13 1h0m1 0h0m2 0h0m1 0h0m-15 1h0m-2 1h0m8 0h0m256 0h0m-264 1h0m261 0h0m-279 2h0m2 0h0m2 0h0m274 0h0m1 0h0m-285 2h0m6 1h0m279 0h0m1 0h0m-292 1h0m4 0h0m287 0h0m-295 1h0m2 0h0m2 0h0m4 0h0m-2 1h0m289 0h0m1 0h0m-302 1h0m5 0h0m1 0h0m-8 1h0m300 0h0m4 0h0m-309 1h0m4 0h0m300 2h0m-307 1h0m-13 1h0m317 0h0m4 0h0m-329 1h0m3 0h0m322 0h0m-324 1h0m2 0h0m1 0h0m1 0h0m3 0h0m3 0h0m314 0h0m-2 1h0m-328 1h0m2 0h0m3 0h0m1 0h0m-10 1h0m-3 1h0m1 0h0m3 0h0m1 0h0m2 0h0m2 0h0m318 1h0m-335 1h0m5 0h0m3 0h0m327 0h0m-334 1h0m-8 1h0m3 0h0m-7 1h0m2 0h0m2 0h0m2 0h0m1 0h0m337 0h0m-8 1h0m2 0h0m-338 1h0m340 0h0m-346 1h0m10 0h0m-10 1h0m334 0h0m3 0h0m-337 1h0m8 0h0m-14 1h0m3 0h0m1 0h0m2 0h0m1 0h0m-1 1h0m1 0h0m-3 1h0m2 0h0m326 0h0m-328 1h0m-8 1h0m7 0h0m-1 1h0m326 0h0m-337 1h0m4 0h0m1 0h0m4 0h0m324 0h0m-332 1h0m-1 1h0m9 0h0m-6 1h0m1 0h0m3 0h0m313 0h0m-316 1h0m-7 1h0m2 0h0m2 0h0m2 0h0m310 0h0m-310 1h0m-6 1h0m2 0h0m304 0h0m-298 1h0m295 0h0m-303 1h0m2 0h0m2 0h0m4 0h0m291 0h0m-293 1h0m2 0h0m-4 1h0m291 0h0m-288 1h0m1 0h0m3 0h0m-3 1h0m4 0h0m-9 1h0m8 0h0m3 0h0m-7 1h0m1 0h0m7 0h0m261 0h0m-266 1h0m2 0h0m2 0h0m-6 1h0m2 0h0m2 0h0m2 0h0m4 0h0m1 0h0m244 0h0m-243 2h0m6 0h0m226 0h0m2 0h0m2 0h0m2 0h0m-246 1h0m2 0h0m8 0h0m8 0h0m-14 1h0m3 0h0m7 0h0m5 0h0m213 0h0m-218 1h0m6 0h0m2 0h0m-3 1h0m8 0h0m193 0h0m4 0h0m-212 1h0m3 0h0m4 0h0m191 0h0m12 0h0m-200 1h0m1 0h0m181 0h0m3 0h0m3 0h0m-171 1h0m141 0h0m7 0h0m1 0h0m20 0h0m-172 1h0m10 0h0m2 0h0m2 0h0m4 0h0m6 0h0m4 0h0m118 0h0m6 0h0m2 0h0m2 0h0m-146 1h0m9 0h0m4 0h0m1 0h0m2 0h0m8 0h0m4 0h0m8 0h0m22 0h0m4 0h0m8 0h0m8 0h0m3 0h0m7 0h0m56 0h0m5 0h0m-135 1h0m8 0h0m4 0h0m3 0h0m24 0h0m1 0h0m12 0h0m4 0h0m6 0h0m1 0h0m1 0h0m14 0h0m10 0h0m4 0h0m8 0h0m2 0h0m-102 1h0m3 0h0m1 0h0m6 0h0m8 0h0m1 0h0m4 0h0m1 0h0m4 0h0m2 0h0m5 0h0m7 0h0m1 0h0m7 0h0m4 0h0m6 0h0m4 0h0m10 0h0m1 0h0m1 0h0m8 0h0m2 0h0m8 0h0m-187 55h0"/>
<path stroke="#0055aa" stroke-width="11.2" d="M633 2319h0m1 0h0m2 0h0m2 0h0m531 0h0m1 0h0m2 0h0m2 0h0"/>
<path stroke="#00659a" stroke-width="6.6" d="M1186 2211h0m237 22h0m-500 62h0"/>
<path stroke="#00659a" stroke-width="7.6" d="M1446 2167h0m4 0h0m20 0h0m1 0h0m2 0h0m2 0h0m8 0h0m-41 1h0m1 0h0m2 0h0m5 0h0m7 0h0m1 0h0m4 0h0m5 0h0m3 0h0m8 0h0m5 0h0m18 0h0m-90 1h0m2 0h0m38 0h0m7 0h0m4 0h0m1 0h0m18 0h0m4 0h0m22 0h0m8 0h0m-114 1h0m1 0h0m3 0h0m1 0h0m7 0h0m4 0h0m93 0h0m1 0h0m6 0h0m-147 1h0m1 0h0m34 0h0m6 0h0m2 0h0m5 0h0m100 0h0m-161 1h0m1 0h0m3 0h0m10 0h0m10 0h0m1 0h0m137 0h0m2 0h0m2 0h0m2 0h0m-196 1h0m1 0h0m1 0h0m4 0h0m8 0h0m-10 1h0m9 0h0m3 0h0m180 0h0m2 0h0m-212 1h0m3 0h0m19 0h0m1 0h0m3 0h0m184 0h0m2 0h0m-208 1h0m4 0h0m208 0h0m2 0h0m-218 1h0m218 0h0m1 0h0m-229 1h0m1 0h0m0 1h0m227 0h0m-242 1h0m242 0h0m-252 1h0m2 0h0m4 0h0m-9 1h0m1 0h0m6 0h0m248 0h0m-264 1h0m2 0h0m3 0h0m1 0h0m259 0h0m-261 1h0m2 0h0m-8 1h0m6 0h0m261 0h0m1 0h0m-269 1h0m271 0h0m-275 1h0m275 0h0m-283 1h0m4 0h0m3 1h0m272 1h0m-294 1h0m8 0h0m2 0h0m-12 1h0m2 0h0m2 0h0m1 0h0m1 0h0m3 0h0m285 0h0m-298 2h0m-6 1h0m6 0h0m-10 1h0m10 0h0m296 1h0m-306 1h0m304 0h0m-316 1h0m3 0h0m-3 1h0m2 0h0m2 0h0m-5 1h0m-5 1h0m4 0h0m1 0h0m-8 1h0m3 0h0m317 0h0m-323 1h0m7 0h0m-7 1h0m2 1h0m-14 1h0m6 0h0m4 0h0m310 1h0m-320 1h0m2 0h0m316 0h0m1 0h0m-317 1h0m314 0h0m-321 1h0m317 0h0m-321 1h0m-4 1h0m1 0h0m4 0h0m2 0h0m1 0h0m312 0h0m-317 1h0m5 0h0m312 0h0m-319 1h0m315 0h0m-316 1h0m1 0h0m316 0h0m-318 1h0m1 0h0m309 0h0m3 0h0m-5 1h0m1 0h0m1 0h0m-316 1h0m2 0h0m1 0h0m3 0h0m304 0h0m-303 1h0m301 0h0m-4 1h0m4 0h0m-310 1h0m8 0h0m297 0h0m1 0h0m-306 2h0m2 0h0m3 0h0m3 0h0m289 0h0m1 0h0m2 0h0m-300 1h0m290 0h0m-292 1h0m4 0h0m288 0h0m-288 1h0m-4 1h0m3 0h0m1 0h0m2 0h0m1 0h0m-5 1h0m274 0h0m-265 2h0m267 0h0m-267 1h0m256 0h0m1 0h0m-257 1h0m255 0h0m1 0h0m-261 1h0m9 0h0m0 1h0m231 0h0m-234 1h0m2 0h0m4 0h0m2 0h0m-6 1h0m2 0h0m4 0h0m-4 1h0m4 0h0m6 0h0m6 0h0m202 0h0m4 0h0m-219 1h0m21 0h0m186 0h0m2 0h0m7 0h0m3 0h0m-216 1h0m1 0h0m1 0h0m2 0h0m1 0h0m1 0h0m3 0h0m1 0h0m4 0h0m2 0h0m-12 1h0m1 0h0m9 0h0m20 0h0m152 0h0m4 0h0m4 0h0m8 0h0m-170 1h0m1 0h0m161 0h0m-166 1h0m5 0h0m3 0h0m130 0h0m8 0h0m-134 1h0m6 0h0m2 0h0m124 0h0m5 0h0m-115 1h0m6 0h0m9 0h0m15 0h0m30 0h0m12 0h0m40 0h0m-130 1h0m5 0h0m3 0h0m1 0h0m3 0h0m2 0h0m6 0h0m1 0h0m4 0h0m5 0h0m3 0h0m1 0h0m3 0h0m1 0h0m3 0h0m1 0h0m2 0h0m6 0h0m10 0h0m5 0h0m1 0h0m6 0h0m2 0h0m4 0h0m6 0h0m2 0h0m10 0h0m9 0h0m-87 1h0m22 0h0m52 0h0"/>
<path stroke="#00659a" stroke-width="11.2" d="M639 2319h0m1 0h0m2 0h0m523 0h0m1 0h0m2 0h0"/>
<path stroke="#00758a" stroke-width="6.6" d="M1329 2175h0m-86 20h0m-57 24h0m15 18h0"/>
<path stroke="#00758a" stroke-width="7.6" d="M1425 2169h0m16 0h0m10 0h0m8 0h0m4 0h0m16 0h0m19 0h0m-79 1h0m2 0h0m6 0h0m10 0h0m9 0h0m3 0h0m8 0h0m2 0h0m10 0h0m6 0h0m6 0h0m10 0h0m2 0h0m2 0h0m2 0h0m1 0h0m4 0h0m-116 1h0m17 0h0m22 0h0m2 0h0m18 0h0m18 0h0m4 0h0m24 0h0m18 0h0m4 0h0m-114 1h0m107 0h0m1 0h0m7 0h0m-159 1h0m4 0h0m3 0h0m1 0h0m4 0h0m22 0h0m120 0h0m9 0h0m1 0h0m-172 1h0m10 0h0m160 0h0m2 0h0m-193 1h0m9 0h0m19 0h0m3 0h0m4 0h0m158 0h0m2 0h0m2 0h0m-197 1h0m7 0h0m4 0h0m186 0h0m3 0h0m-188 1h0m191 0h0m-222 1h0m216 0h0m-222 1h0m1 0h0m225 0h0m-230 1h0m234 0h0m-1 1h0m-247 2h0m2 0h0m2 0h0m2 0h0m242 0h0m-250 1h0m-2 1h0m3 0h0m248 0h0m-267 2h0m7 0h0m3 0h0m4 0h0m253 0h0m3 0h0m-271 1h0m1 0h0m2 0h0m264 0h0m1 0h0m-275 1h0m0 1h0m3 0h0m269 0h0m-272 1h0m3 0h0m-5 1h0m1 0h0m275 0h0m0 1h0m-3 1h0m-1 1h0m-296 2h0m293 0h0m4 0h0m-295 1h0m291 1h0m-303 1h0m2 0h0m1 0h0m3 0h0m298 0h0m-4 1h0m-297 1h0m297 0h0m-296 1h0m-12 1h0m2 0h0m298 0h0m-302 1h0m301 0h0m-303 1h0m304 0h0m-313 1h0m5 0h0m2 0h0m1 0h0m4 0h0m293 0h0m2 0h0m-308 2h0m302 0h0m-302 1h0m2 0h0m302 0h0m-311 1h0m7 1h0m301 0h0m-307 1h0m4 0h0m296 0h0m-306 2h0m308 0h0m-311 1h0m1 0h0m302 0h0m-302 1h0m294 0h0m4 0h0m-304 2h0m4 0h0m1 0h0m292 0h0m-297 1h0m6 0h0m0 1h0m-8 1h0m3 0h0m3 0h0m-6 1h0m8 0h0m286 0h0m-292 1h0m4 0h0m2 0h0m2 0h0m272 0h0m-280 1h0m5 0h0m-1 1h0m1 0h0m1 0h0m266 0h0m2 0h0m-276 1h0m4 0h0m4 0h0m3 0h0m259 0h0m8 0h0m-279 1h0m1 0h0m6 0h0m2 0h0m2 0h0m1 0h0m257 0h0m-12 1h0m10 0h0m-264 1h0m254 0h0m-252 1h0m4 0h0m3 0h0m-9 2h0m1 0h0m1 0h0m2 0h0m1 0h0m3 0h0m4 0h0m2 0h0m2 0h0m220 0h0m-232 1h0m1 0h0m1 0h0m2 0h0m1 0h0m5 0h0m3 0h0m4 0h0m215 0h0m-226 2h0m3 0h0m5 0h0m10 0h0m200 0h0m-212 1h0m198 0h0m3 0h0m-197 1h0m12 0h0m2 0h0m3 0h0m177 0h0m4 0h0m-194 1h0m2 0h0m10 0h0m10 0h0m-10 1h0m2 0h0m4 0h0m4 0h0m2 0h0m-12 1h0m4 0h0m10 0h0m2 0h0m2 0h0m-4 1h0m4 0h0m2 0h0m2 0h0m4 0h0m2 0h0m121 0h0m8 0h0m-143 1h0m10 0h0m22 0h0m10 0h0m24 0h0m1 0h0m23 0h0m5 0h0m3 0h0m9 0h0m-99 1h0m6 0h0m10 0h0m10 0h0m1 0h0m11 0h0m4 0h0m2 0h0m11 0h0m3 0h0m4 0h0m10 0h0m10 0h0m6 0h0m4 0h0m8 0h0m3 0h0m5 0h0m2 0h0m-106 1h0m3 0h0m1 0h0m4 0h0m4 0h0m22 0h0m24 0h0m8 0h0m2 0h0m16 0h0m10 0h0m9 0h0m9 0h0"/>
<path stroke="#00758a" stroke-width="11.2" d="M643 2319h0m1 0h0m2 0h0m2 0h0m511 0h0m1 0h0m2 0h0m2 0h0"/>
<path stroke="#008679" stroke-width="6.6" d="M1419 2233h0"/>
<path stroke="#008679" stroke-width="7.6" d="M1429 2171h0m58 0h0m3 0h0m3 0h0m-84 1h0m2 0h0m2 0h0m2 0h0m8 0h0m64 0h0m2 0h0m4 0h0m1 0h0m1 0h0m6 0h0m1 0h0m-131 1h0m3 0h0m41 0h0m15 0h0m64 0h0m21 0h0m-140 1h0m2 0h0m9 0h0m123 0h0m1 0h0m4 0h0m-164 1h0m5 0h0m27 0h0m127 0h0m6 0h0m-176 1h0m19 0h0m1 0h0m156 0h0m4 0h0m-197 1h0m11 0h0m186 0h0m2 0h0m-202 1h0m7 0h0m-17 1h0m6 0h0m206 0h0m1 0h0m3 0h0m-210 1h0m208 0h0m-228 1h0m2 0h0m4 0h0m1 0h0m7 0h0m8 0h0m208 0h0m-232 1h0m6 0h0m226 0h0m-239 1h0m3 0h0m10 0h0m227 0h0m1 0h0m2 0h0m-239 1h0m236 0h0m-244 1h0m5 0h0m242 0h0m-2 1h0m-1 1h0m-252 1h0m1 0h0m250 0h0m-258 2h0m-1 1h0m-11 1h0m6 0h0m1 0h0m261 0h0m3 0h0m-3 1h0m-274 1h0m1 0h0m1 0h0m2 0h0m270 0h0m-277 1h0m276 0h0m3 0h0m-276 1h0m272 0h0m2 0h0m-286 2h0m2 0h0m279 0h0m-279 1h0m280 0h0m2 0h0m-291 1h0m1 0h0m2 0h0m1 0h0m1 0h0m282 0h0m1 0h0m-289 1h0m2 0h0m282 0h0m-287 1h0m3 0h0m286 0h0m-292 1h0m8 0h0m-14 1h0m1 0h0m3 0h0m1 0h0m3 0h0m286 0h0m-293 1h0m7 0h0m278 0h0m6 0h0m1 0h0m-297 1h0m2 0h0m4 0h0m-12 1h0m2 0h0m1 0h0m1 0h0m3 0h0m5 0h0m-6 1h0m290 0h0m-301 1h0m297 0h0m2 0h0m-292 1h0m1 0h0m288 0h0m-299 1h0m4 0h0m2 0h0m289 0h0m1 0h0m-296 1h0m7 0h0m285 0h0m2 0h0m-298 1h0m2 0h0m1 0h0m1 0h0m2 0h0m2 0h0m2 0h0m0 1h0m-14 1h0m2 0h0m1 0h0m287 0h0m-288 1h0m2 0h0m6 0h0m-3 1h0m1 0h0m2 0h0m276 0h0m5 0h0m-293 1h0m2 0h0m-2 1h0m2 1h0m276 0h0m2 0h0m1 0h0m-273 1h0m265 0h0m8 0h0m-283 1h0m2 0h0m2 0h0m2 0h0m1 0h0m1 0h0m-10 1h0m2 0h0m2 0h0m2 0h0m2 0h0m269 0h0m-275 1h0m6 0h0m1 0h0m1 0h0m258 0h0m1 0h0m-269 1h0m1 0h0m7 0h0m253 0h0m-261 1h0m2 0h0m4 0h0m2 0h0m2 0h0m-5 1h0m1 0h0m6 0h0m0 1h0m1 0h0m-4 1h0m231 1h0m-232 1h0m2 0h0m3 0h0m4 0h0m-8 1h0m1 0h0m3 0h0m-5 1h0m4 0h0m1 0h0m1 0h0m3 0h0m1 0h0m2 0h0m1 0h0m211 0h0m-214 1h0m4 0h0m6 0h0m0 1h0m2 0h0m184 0h0m6 0h0m-198 1h0m4 0h0m3 0h0m3 0h0m180 0h0m-184 1h0m17 0h0m156 0h0m3 0h0m-174 1h0m12 0h0m156 0h0m2 0h0m-152 1h0m2 0h0m4 0h0m144 0h0m-153 1h0m1 0h0m2 0h0m10 0h0m2 0h0m128 0h0m4 0h0m-140 1h0m17 0h0m7 0h0m12 0h0m68 0h0m1 0h0m4 0h0m3 0h0m20 0h0m-123 1h0m3 0h0m2 0h0m2 0h0m2 0h0m12 0h0m4 0h0m3 0h0m68 0h0m5 0h0m3 0h0m3 0h0m4 0h0m-106 1h0m12 0h0m10 0h0m72 0h0m10 0h0"/>
<path stroke="#008679" stroke-width="11.2" d="M649 2319h0m1 0h0m2 0h0m501 0h0m1 0h0m2 0h0m2 0h0"/>
<path stroke="#009669" stroke-width="6.6" d="M1393 2174h0m-299 129h0"/>
<path stroke="#009669" stroke-width="7.6" d="M1439 2171h0m11 0h0m15 0h0m18 0h0m2 0h0m-28 1h0m10 0h0m2 0h0m1 0h0m3 0h0m1 0h0m1 0h0m-80 1h0m16 0h0m28 0h0m2 0h0m9 0h0m7 0h0m6 0h0m4 0h0m24 0h0m4 0h0m3 0h0m3 0h0m2 0h0m-108 1h0m2 0h0m12 0h0m84 0h0m2 0h0m6 0h0m-131 1h0m5 0h0m20 0h0m8 0h0m4 0h0m96 0h0m2 0h0m2 0h0m6 0h0m-150 1h0m2 0h0m4 0h0m134 0h0m3 0h0m1 0h0m2 0h0m-174 1h0m12 0h0m16 0h0m2 0h0m2 0h0m12 0h0m124 0h0m2 0h0m1 0h0m9 0h0m-170 1h0m2 0h0m2 0h0m-31 1h0m1 0h0m20 0h0m8 0h0m166 0h0m-194 1h0m198 0h0m0 1h0m2 0h0m3 0h0m-216 1h0m7 0h0m206 0h0m3 0h0m1 0h0m-228 1h0m2 0h0m224 0h0m2 0h0m-225 1h0m1 0h0m220 0h0m3 0h0m1 0h0m-233 1h0m11 0h0m218 0h0m2 0h0m1 0h0m-235 1h0m234 0h0m1 0h0m3 0h0m-244 1h0m238 0h0m4 0h0m-241 1h0m237 0h0m2 0h0m2 0h0m-249 1h0m247 0h0m2 0h0m-253 1h0m4 0h0m-5 2h0m-14 1h0m3 0h0m3 0h0m257 0h0m1 0h0m2 0h0m-262 1h0m258 0h0m-262 1h0m2 0h0m261 0h0m-263 1h0m-5 1h0m265 0h0m-265 1h0m-9 1h0m4 0h0m269 0h0m3 0h0m-278 1h0m6 0h0m-11 1h0m277 0h0m2 0h0m-282 1h0m2 1h0m2 0h0m2 0h0m274 0h0m-286 1h0m2 0h0m4 0h0m274 0h0m0 1h0m1 0h0m-281 1h0m274 0h0m3 0h0m-281 1h0m1 0h0m275 0h0m4 0h0m-290 2h0m2 0h0m4 0h0m274 0h0m6 0h0m-4 1h0m-283 1h0m7 0h0m1 0h0m-9 1h0m4 0h0m4 0h0m270 0h0m-280 1h0m4 0h0m272 0h0m6 0h0m-284 2h0m5 0h0m267 0h0m6 0h0m-280 1h0m276 0h0m-280 1h0m10 0h0m-12 2h0m4 0h0m4 1h0m256 0h0m1 0h0m1 0h0m-260 1h0m3 0h0m251 0h0m-259 1h0m1 0h0m4 0h0m2 0h0m249 0h0m-257 1h0m2 0h0m250 0h0m6 0h0m-258 1h0m1 0h0m1 0h0m4 0h0m3 0h0m3 0h0m240 0h0m-8 2h0m-242 1h0m2 0h0m9 0h0m3 0h0m226 0h0m2 0h0m-242 1h0m2 0h0m5 0h0m1 0h0m2 0h0m2 0h0m218 0h0m1 0h0m3 0h0m-231 1h0m12 0h0m209 0h0m7 0h0m-221 1h0m4 0h0m1 0h0m3 0h0m208 0h0m-220 1h0m10 0h0m200 0h0m-202 1h0m4 0h0m198 0h0m-208 1h0m2 0h0m2 0h0m6 0h0m4 0h0m189 0h0m-188 1h0m3 0h0m-4 1h0m8 0h0m6 0h0m152 0h0m12 0h0m4 0h0m-176 1h0m6 0h0m1 0h0m1 0h0m2 0h0m152 0h0m2 0h0m3 0h0m-163 1h0m3 0h0m5 0h0m140 0h0m8 0h0m2 0h0m-158 1h0m2 0h0m2 0h0m4 0h0m-8 1h0m12 0h0m6 0h0m6 0h0m2 0h0m4 0h0m101 0h0m1 0h0m-116 1h0m4 0h0m2 0h0m1 0h0m3 0h0m2 0h0m2 0h0m1 0h0m1 0h0m2 0h0m2 0h0m3 0h0m84 0h0m1 0h0m10 0h0m-116 1h0m18 0h0m27 0h0m1 0h0m8 0h0m8 0h0m30 0h0m12 0h0m14 0h0m-86 1h0m14 0h0m15 0h0m7 0h0m13 0h0m1 0h0m4 0h0m2 0h0m-40 1h0m1 0h0m5 0h0m14 0h0m4 0h0m9 0h0"/>
<path stroke="#009669" stroke-width="11.2" d="M653 2319h0m1 0h0m2 0h0m2 0h0m491 0h0m1 0h0m2 0h0"/>
<path stroke="#00a659" stroke-width="6.6" d="M1105 2306h0"/>
<path stroke="#00a659" stroke-width="7.6" d="M1423 2173h0m3 0h0m1 0h0m2 0h0m16 0h0m1 0h0m5 0h0m7 0h0m1 0h0m19 0h0m4 0h0m4 0h0m5 0h0m-68 1h0m11 0h0m7 0h0m8 0h0m9 0h0m15 0h0m6 0h0m8 0h0m2 0h0m1 0h0m-109 1h0m4 0h0m32 0h0m18 0h0m18 0h0m20 0h0m2 0h0m4 0h0m12 0h0m8 0h0m3 0h0m-121 1h0m2 0h0m110 0h0m9 0h0m1 0h0m-148 1h0m8 0h0m2 0h0m132 0h0m8 0h0m1 0h0m-151 1h0m2 0h0m1 0h0m5 0h0m143 0h0m-176 1h0m176 0h0m-177 1h0m2 0h0m6 0h0m4 0h0m1 0h0m167 0h0m1 0h0m1 0h0m2 0h0m-198 1h0m3 0h0m5 0h0m8 0h0m4 0h0m180 0h0m-4 1h0m2 0h0m1 0h0m-207 1h0m3 0h0m9 0h0m192 0h0m-206 1h0m208 0h0m4 0h0m-222 1h0m3 0h0m4 0h0m1 0h0m210 0h0m2 0h0m2 0h0m-223 1h0m1 0h0m4 0h0m-16 1h0m16 0h0m220 0h0m-229 2h0m-9 1h0m234 0h0m-240 2h0m2 0h0m238 0h0m-250 1h0m9 0h0m241 0h0m-249 1h0m249 0h0m-252 1h0m0 1h0m250 0h0m2 0h0m-256 1h0m250 0h0m-254 1h0m254 1h0m-263 1h0m261 0h0m3 0h0m1 0h0m-5 1h0m-265 1h0m-2 1h0m2 0h0m1 0h0m3 0h0m254 0h0m-264 1h0m2 0h0m4 0h0m260 0h0m-268 1h0m5 0h0m259 0h0m4 0h0m-3 1h0m-268 1h0m3 0h0m2 0h0m260 0h0m2 0h0m-4 1h0m-267 1h0m1 0h0m264 0h0m-270 1h0m4 0h0m-2 1h0m260 0h0m8 0h0m-273 1h0m4 0h0m261 0h0m-270 1h0m1 0h0m1 0h0m2 0h0m2 0h0m2 0h0m4 0h0m260 0h0m-270 1h0m264 0h0m-260 1h0m2 0h0m-10 1h0m260 0h0m3 0h0m-263 1h0m3 0h0m3 0h0m249 0h0m3 0h0m2 0h0m2 0h0m1 0h0m-260 1h0m255 0h0m-256 1h0m5 0h0m240 0h0m-243 1h0m-1 1h0m-4 1h0m1 0h0m3 0h0m1 0h0m2 0h0m232 0h0m-239 1h0m5 0h0m230 0h0m-236 1h0m1 0h0m1 0h0m2 0h0m2 0h0m-2 1h0m222 0h0m-221 1h0m221 0h0m-221 1h0m8 0h0m203 0h0m10 0h0m-221 1h0m5 0h0m210 0h0m-204 1h0m-4 1h0m196 0h0m-199 1h0m3 0h0m1 0h0m183 0h0m2 1h0m-182 1h0m2 0h0m2 0h0m6 0h0m4 0h0m2 0h0m162 0h0m-176 1h0m14 0h0m154 0h0m-156 1h0m2 0h0m1 0h0m9 0h0m-12 1h0m2 0h0m2 0h0m0 1h0m8 0h0m14 0h0m102 0h0m2 0h0m4 0h0m-123 1h0m1 0h0m4 0h0m11 0h0m5 0h0m99 0h0m1 0h0m-121 1h0m5 0h0m16 0h0m2 0h0m1 0h0m8 0h0m9 0h0m38 0h0m9 0h0m32 0h0m1 0h0m-98 1h0m4 0h0m5 0h0m1 0h0m2 0h0m4 0h0m2 0h0m3 0h0m1 0h0m2 0h0m4 0h0m2 0h0m6 0h0m4 0h0m5 0h0m4 0h0m1 0h0m10 0h0m2 0h0m2 0h0m2 0h0m2 0h0m8 0h0m-72 1h0m5 0h0m1 0h0m3 0h0m8 0h0m27 0h0m20 0h0m2 0h0m6 0h0"/>
<path stroke="#00a659" stroke-width="11.2" d="M659 2319h0m1 0h0m2 0h0m483 0h0m1 0h0m2 0h0"/>
<path stroke="#00b649" stroke-width="6.6" d="M1219 2223h0"/>
<path stroke="#00b649" stroke-width="7.6" d="M1407 2175h0m2 0h0m8 0h0m56 0h0m14 0h0m-84 1h0m4 0h0m14 0h0m52 0h0m1 0h0m4 0h0m4 0h0m3 0h0m1 0h0m1 0h0m-114 1h0m1 0h0m31 0h0m10 0h0m62 0h0m8 0h0m8 0h0m1 0h0m-121 1h0m2 0h0m3 0h0m1 0h0m114 0h0m4 0h0m-140 1h0m1 0h0m29 0h0m106 0h0m8 0h0m-156 1h0m10 0h0m147 0h0m1 0h0m-170 1h0m12 0h0m12 0h0m146 0h0m3 0h0m-180 1h0m1 0h0m3 0h0m3 0h0m4 0h0m168 0h0m1 0h0m3 0h0m-198 1h0m2 0h0m1 0h0m1 0h0m22 0h0m170 0h0m-194 1h0m198 0h0m-206 1h0m1 0h0m8 0h0m200 0h0m-207 1h0m206 0h0m-219 1h0m7 0h0m6 0h0m207 0h0m-223 1h0m2 0h0m2 0h0m2 0h0m-14 1h0m227 0h0m3 0h0m-230 1h0m2 0h0m4 0h0m224 0h0m1 0h0m1 0h0m-232 1h0m7 0h0m223 0h0m-234 1h0m2 0h0m1 0h0m228 1h0m3 0h0m-242 1h0m2 0h0m237 0h0m-235 1h0m2 0h0m232 1h0m1 0h0m1 0h0m-250 1h0m-3 1h0m1 0h0m2 0h0m4 0h0m240 0h0m-246 1h0m3 0h0m-9 1h0m4 0h0m1 0h0m245 0h0m-256 1h0m6 0h0m249 1h0m-256 1h0m1 0h0m250 0h0m-255 1h0m3 0h0m250 0h0m2 0h0m-3 1h0m1 0h0m-256 1h0m254 0h0m-259 1h0m3 0h0m1 0h0m1 0h0m2 0h0m1 0h0m1 0h0m244 0h0m-249 1h0m251 0h0m-252 2h0m248 0h0m-259 1h0m1 0h0m8 0h0m243 0h0m5 0h0m-257 1h0m1 0h0m2 0h0m1 0h0m249 0h0m3 0h0m-255 1h0m2 0h0m2 0h0m246 0h0m-250 1h0m250 0h0m-248 1h0m237 0h0m9 0h0m-10 1h0m1 0h0m3 0h0m2 0h0m-250 1h0m2 0h0m0 1h0m3 0h0m235 0h0m-240 1h0m4 0h0m234 0h0m4 0h0m-242 1h0m4 0h0m230 0h0m-230 1h0m218 0h0m4 0h0m6 0h0m-227 1h0m219 0h0m-222 1h0m3 0h0m-3 1h0m2 0h0m2 0h0m210 0h0m4 0h0m-218 1h0m2 0h0m2 0h0m200 0h0m0 1h0m-204 1h0m200 0h0m4 0h0m-198 1h0m4 0h0m188 0h0m1 0h0m-193 1h0m1 0h0m183 0h0m6 0h0m-192 1h0m8 0h0m2 0h0m170 0h0m4 0h0m-172 1h0m0 1h0m2 0h0m156 0h0m2 0h0m4 0h0m-166 1h0m2 0h0m2 0h0m2 0h0m6 0h0m136 0h0m2 0h0m15 0h0m-161 1h0m10 0h0m2 0h0m2 0h0m135 0h0m-143 1h0m12 0h0m7 0h0m3 0h0m104 0h0m2 0h0m-124 1h0m8 0h0m2 0h0m9 0h0m100 0h0m7 0h0m1 0h0m-109 1h0m2 0h0m7 0h0m68 0h0m4 0h0m11 0h0m-86 1h0m6 0h0m2 0h0m2 0h0m6 0h0m7 0h0m3 0h0m6 0h0m36 0h0m2 0h0m2 0h0m7 0h0m-81 1h0m24 0h0m52 0h0"/>
<path stroke="#00b649" stroke-width="11.2" d="M663 2319h0m1 0h0m2 0h0m2 0h0m471 0h0m1 0h0m2 0h0m2 0h0"/>
<path stroke="#00c639" stroke-width="7.6" d="M1427 2175h0m6 0h0m9 0h0m4 0h0m3 0h0m4 0h0m4 0h0m10 0h0m-44 1h0m8 0h0m8 0h0m2 0h0m1 0h0m4 0h0m3 0h0m4 0h0m4 0h0m4 0h0m2 0h0m-38 1h0m4 0h0m9 0h0m7 0h0m12 0h0m12 0h0m10 0h0m8 0h0m4 0h0m-94 1h0m1 0h0m80 0h0m5 0h0m4 0h0m2 0h0m-123 1h0m4 0h0m4 0h0m-12 1h0m1 0h0m7 0h0m5 0h0m2 0h0m117 0h0m1 0h0m6 0h0m-162 1h0m3 0h0m29 0h0m122 0h0m1 0h0m1 0h0m3 0h0m3 0h0m2 0h0m-161 1h0m1 0h0m2 0h0m4 0h0m150 0h0m-177 1h0m3 0h0m1 0h0m1 0h0m4 0h0m2 0h0m8 0h0m164 0h0m1 0h0m-175 1h0m174 0h0m1 0h0m-179 1h0m2 0h0m174 0h0m-190 1h0m4 0h0m1 0h0m191 0h0m-195 1h0m1 0h0m192 0h0m-205 1h0m4 0h0m-7 1h0m-8 1h0m2 0h0m2 0h0m211 0h0m3 0h0m-224 1h0m8 0h0m213 0h0m3 0h0m-226 1h0m2 0h0m222 0h0m2 0h0m-228 1h0m6 0h0m-8 1h0m2 0h0m-6 1h0m230 0h0m1 0h0m1 1h0m-240 1h0m8 0h0m227 0h0m3 0h0m-236 1h0m233 0h0m1 0h0m2 0h0m-242 1h0m240 0h0m-242 1h0m1 0h0m3 0h0m234 0h0m-233 1h0m229 1h0m2 0h0m2 0h0m-246 1h0m240 0h0m2 0h0m3 0h0m-248 1h0m1 0h0m242 0h0m-239 1h0m236 0h0m1 0h0m3 0h0m-249 1h0m4 0h0m240 0h0m1 0h0m-244 1h0m244 0h0m-249 1h0m1 0h0m3 0h0m-4 1h0m238 0h0m-240 1h0m2 0h0m242 0h0m-246 1h0m2 0h0m2 0h0m-4 1h0m238 0h0m-244 1h0m2 0h0m2 0h0m3 0h0m1 0h0m-2 1h0m233 0h0m-240 1h0m239 0h0m-235 1h0m1 0h0m2 0h0m225 0h0m3 0h0m-8 1h0m-227 1h0m225 0h0m-222 1h0m1 0h0m1 0h0m212 0h0m8 0h0m-226 1h0m1 0h0m3 0h0m1 0h0m215 0h0m-220 1h0m4 1h0m206 0h0m2 0h0m1 0h0m-8 1h0m-204 1h0m5 0h0m3 0h0m193 0h0m2 0h0m-204 1h0m4 0h0m192 0h0m6 0h0m4 0h0m-197 1h0m1 0h0m184 0h0m3 0h0m-195 1h0m4 0h0m4 0h0m2 0h0m170 0h0m2 0h0m1 0h0m13 0h0m-190 1h0m2 0h0m2 0h0m1 0h0m1 0h0m172 0h0m-169 1h0m1 0h0m4 0h0m152 0h0m3 0h0m8 0h0m3 0h0m-178 1h0m2 0h0m164 0h0m1 0h0m-159 1h0m2 0h0m8 0h0m138 0h0m-142 1h0m138 0h0m6 0h0m-150 1h0m4 0h0m3 0h0m3 0h0m1 0h0m1 0h0m118 0h0m14 0h0m-132 1h0m2 0h0m5 0h0m1 0h0m2 0h0m108 0h0m4 0h0m-111 1h0m7 0h0m20 0h0m66 0h0m2 0h0m-94 1h0m6 0h0m4 0h0m4 0h0m5 0h0m1 0h0m76 0h0m-94 1h0m5 0h0m49 0h0m8 0h0m3 0h0m31 0h0m-56 1h0m1 0h0m13 0h0m8 0h0m6 0h0m-22 1h0m14 0h0"/>
<path stroke="#00c639" stroke-width="11.2" d="M669 2319h0m1 0h0m2 0h0m463 0h0m1 0h0m2 0h0"/>
<path stroke="#00d728" stroke-width="7.6" d="M1419 2177h0m3 0h0m17 0h0m3 0h0m1 0h0m6 0h0m2 0h0m15 0h0m5 0h0m6 0h0m-68 1h0m4 0h0m1 0h0m1 0h0m3 0h0m1 0h0m3 0h0m3 0h0m2 0h0m6 0h0m2 0h0m3 0h0m1 0h0m3 0h0m3 0h0m1 0h0m1 0h0m6 0h0m4 0h0m2 0h0m3 0h0m3 0h0m1 0h0m4 0h0m4 0h0m1 0h0m-88 1h0m4 0h0m2 0h0m14 0h0m48 0h0m2 0h0m8 0h0m14 0h0m8 0h0m-102 1h0m1 0h0m5 0h0m94 0h0m2 0h0m2 0h0m-126 1h0m16 0h0m2 0h0m6 0h0m3 0h0m1 0h0m92 0h0m2 0h0m6 0h0m-138 1h0m2 0h0m3 0h0m3 0h0m5 0h0m123 0h0m2 0h0m2 0h0m1 0h0m3 0h0m-155 1h0m20 0h0m129 0h0m10 0h0m-6 1h0m-154 1h0m158 0h0m4 0h0m-182 1h0m8 0h0m-18 1h0m10 0h0m176 0h0m2 0h0m0 1h0m-198 1h0m1 0h0m5 0h0m192 0h0m2 0h0m1 0h0m-203 1h0m6 0h0m194 0h0m3 0h0m-208 1h0m-3 1h0m2 0h0m4 0h0m202 0h0m4 0h0m0 1h0m-214 1h0m214 0h0m-2 1h0m-218 1h0m2 0h0m216 0h0m1 0h0m1 0h0m-229 1h0m11 0h0m212 0h0m1 0h0m-225 1h0m2 0h0m2 0h0m218 0h0m0 1h0m-226 1h0m1 0h0m1 0h0m-5 1h0m228 0h0m-3 1h0m-229 1h0m231 0h0m-234 1h0m3 0h0m225 0h0m-234 1h0m2 0h0m228 0h0m2 0h0m4 0h0m-234 1h0m231 0h0m-237 1h0m4 0h0m232 0h0m-238 2h0m234 0h0m-235 1h0m3 0h0m2 0h0m226 0h0m-235 1h0m1 0h0m2 0h0m2 0h0m0 1h0m-4 1h0m2 0h0m226 0h0m2 0h0m-8 1h0m-223 1h0m4 0h0m213 0h0m-217 1h0m1 0h0m2 0h0m212 0h0m-216 1h0m1 0h0m211 1h0m-214 1h0m2 0h0m202 0h0m8 0h0m2 0h0m-216 1h0m204 0h0m-202 1h0m2 0h0m196 0h0m-200 1h0m1 0h0m1 0h0m3 0h0m1 0h0m2 0h0m193 0h0m-197 1h0m2 0h0m2 0h0m181 0h0m-181 1h0m1 0h0m1 0h0m180 0h0m-184 1h0m186 0h0m-186 1h0m4 0h0m174 0h0m-178 1h0m4 0h0m-1 1h0m3 0h0m160 0h0m-162 1h0m6 0h0m2 0h0m3 0h0m148 0h0m-155 1h0m4 0h0m6 0h0m134 0h0m2 0h0m1 0h0m1 0h0m-133 1h0m4 0h0m129 0h0m-16 1h0m2 0h0m4 0h0m-130 1h0m4 0h0m2 0h0m4 0h0m6 0h0m2 0h0m1 0h0m3 0h0m6 0h0m86 0h0m2 0h0m7 0h0m4 0h0m-115 1h0m2 0h0m6 0h0m3 0h0m4 0h0m3 0h0m2 0h0m78 0h0m2 0h0m-62 1h0m8 0h0m6 0h0m4 0h0m7 0h0m3 0h0m4 0h0m5 0h0m1 0h0m-49 1h0m3 0h0m2 0h0m4 0h0m2 0h0m10 0h0m2 0h0m2 0h0m15 0h0m5 0h0m3 0h0m1 0h0m4 0h0m3 0h0m-29 1h0m10 0h0"/>
<path stroke="#00d728" stroke-width="11.2" d="M673 2319h0m1 0h0m2 0h0m2 0h0m451 0h0m1 0h0m2 0h0m2 0h0"/>
<path stroke="#00e718" stroke-width="7.6" d="M1401 2179h0m4 0h0m60 0h0m5 0h0m1 0h0m-77 1h0m5 0h0m6 0h0m4 0h0m2 0h0m50 0h0m1 0h0m5 0h0m2 0h0m6 0h0m2 0h0m2 0h0m-97 1h0m19 0h0m1 0h0m3 0h0m56 0h0m4 0h0m6 0h0m12 0h0m2 0h0m1 0h0m-117 1h0m5 0h0m3 0h0m2 0h0m-30 1h0m4 0h0m1 0h0m1 0h0m2 0h0m12 0h0m8 0h0m106 0h0m3 0h0m3 0h0m2 0h0m2 0h0m-138 1h0m3 0h0m129 0h0m6 0h0m2 0h0m-160 1h0m14 0h0m4 0h0m138 0h0m6 0h0m-164 1h0m1 0h0m5 0h0m154 0h0m1 0h0m1 0h0m-154 1h0m150 0h0m3 0h0m3 0h0m-188 2h0m12 0h0m1 0h0m1 0h0m3 0h0m167 0h0m-182 1h0m2 0h0m1 0h0m183 0h0m-195 1h0m1 0h0m2 0h0m4 0h0m-12 1h0m2 0h0m2 0h0m196 0h0m-192 1h0m-14 1h0m6 0h0m198 0h0m2 0h0m2 0h0m-213 1h0m209 1h0m-214 1h0m4 0h0m5 0h0m1 0h0m203 0h0m-215 1h0m2 0h0m1 0h0m209 0h0m2 0h0m1 0h0m-221 1h0m12 0h0m-10 1h0m3 0h0m213 0h0m-224 1h0m6 0h0m220 0h0m-226 1h0m2 0h0m1 0h0m1 0h0m3 0h0m216 0h0m-221 2h0m216 1h0m-224 1h0m4 0h0m214 0h0m3 0h0m-225 1h0m1 0h0m1 0h0m2 1h0m214 0h0m3 0h0m-227 1h0m2 0h0m2 0h0m2 0h0m1 0h0m216 0h0m1 0h0m2 0h0m-224 1h0m2 0h0m2 0h0m1 0h0m-5 1h0m-2 1h0m3 0h0m-7 1h0m2 0h0m212 0h0m2 0h0m2 0h0m2 0h0m-220 1h0m212 0h0m4 0h0m-214 1h0m206 0h0m7 0h0m-216 1h0m1 0h0m3 0h0m1 0h0m2 0h0m-8 1h0m2 0h0m208 0h0m-208 1h0m2 0h0m-3 1h0m3 0h0m1 0h0m1 0h0m-2 1h0m2 0h0m186 0h0m2 0h0m-190 1h0m4 0h0m1 0h0m185 0h0m-194 1h0m1 0h0m1 0h0m4 0h0m3 0h0m-8 1h0m1 0h0m4 0h0m180 0h0m-180 1h0m3 0h0m165 0h0m3 0h0m1 0h0m-172 1h0m3 0h0m3 0h0m0 1h0m2 0h0m151 0h0m1 0h0m2 0h0m-160 1h0m1 0h0m148 0h0m1 0h0m10 0h0m1 0h0m1 0h0m-158 1h0m2 0h0m7 0h0m135 0h0m4 0h0m-142 1h0m6 0h0m120 0h0m4 0h0m-127 1h0m5 0h0m118 0h0m1 0h0m3 0h0m-123 1h0m3 0h0m4 0h0m4 0h0m8 0h0m88 0h0m-104 1h0m4 0h0m8 0h0m1 0h0m1 0h0m86 0h0m2 0h0m-98 1h0m6 0h0m2 0h0m6 0h0m12 0h0m15 0h0m33 0h0m4 0h0m4 0h0m-60 1h0m3 0h0m3 0h0m5 0h0m8 0h0m31 0h0m1 0h0m3 0h0m1 0h0m1 0h0m2 0h0m2 0h0m-48 1h0m4 0h0m2 0h0m32 0h0m6 0h0m2 0h0"/>
<path stroke="#00e718" stroke-width="11.2" d="M679 2319h0m1 0h0m2 0h0m443 0h0m1 0h0m2 0h0"/>
<path stroke="#00f708" stroke-width="6.6" d="M969 2301h0"/>
<path stroke="#00f708" stroke-width="7.6" d="M1421 2179h0m26 0h0m4 0h0m2 0h0m6 0h0m2 0h0m-47 1h0m1 0h0m6 0h0m2 0h0m3 0h0m3 0h0m9 0h0m5 0h0m4 0h0m-61 1h0m1 0h0m4 0h0m22 0h0m4 0h0m5 0h0m5 0h0m2 0h0m4 0h0m1 0h0m1 0h0m14 0h0m2 0h0m7 0h0m11 0h0m8 0h0m-90 1h0m2 0h0m2 0h0m3 0h0m1 0h0m72 0h0m2 0h0m2 0h0m2 0h0m-114 1h0m4 0h0m6 0h0m24 0h0m4 0h0m74 0h0m3 0h0m5 0h0m6 0h0m-118 1h0m4 0h0m108 0h0m6 0h0m-116 1h0m110 0h0m3 0h0m1 0h0m-142 1h0m145 0h0m1 0h0m2 0h0m-160 1h0m13 0h0m4 0h0m5 0h0m132 0h0m3 0h0m3 0h0m-162 1h0m7 0h0m1 0h0m158 0h0m-172 1h0m2 0h0m10 0h0m156 0h0m-171 1h0m1 0h0m6 0h0m166 0h0m3 0h0m-187 1h0m10 0h0m2 0h0m172 0h0m4 0h0m-190 1h0m2 0h0m2 0h0m1 0h0m180 0h0m1 0h0m4 0h0m-186 1h0m181 0h0m3 0h0m-192 1h0m189 0h0m1 0h0m2 0h0m2 0h0m-4 1h0m-196 1h0m195 0h0m-203 1h0m3 0h0m199 0h0m-203 1h0m3 0h0m-4 1h0m202 0h0m-205 1h0m-1 1h0m-2 1h0m206 0h0m-206 1h0m2 0h0m205 0h0m-212 1h0m1 0h0m2 0h0m202 0h0m3 0h0m-5 1h0m-210 1h0m4 0h0m206 0h0m1 0h0m-215 1h0m2 0h0m1 0h0m205 0h0m7 0h0m-211 1h0m-2 1h0m-3 1h0m203 0h0m1 0h0m4 0h0m-211 1h0m4 0h0m200 0h0m-202 1h0m202 0h0m-208 1h0m6 0h0m2 0h0m195 0h0m1 0h0m-201 1h0m200 0h0m-204 1h0m3 0h0m2 0h0m188 0h0m2 0h0m-196 1h0m6 0h0m-2 1h0m2 0h0m2 0h0m188 0h0m-194 1h0m2 0h0m184 0h0m-188 1h0m1 0h0m4 0h0m1 0h0m175 0h0m-173 1h0m172 0h0m1 0h0m3 0h0m-12 1h0m-170 1h0m8 0h0m160 0h0m3 0h0m-167 1h0m2 0h0m152 0h0m-154 1h0m3 0h0m152 0h0m3 0h0m2 0h0m-160 1h0m150 0h0m-148 1h0m4 0h0m4 0h0m136 0h0m-144 1h0m8 0h0m4 0h0m6 0h0m114 0h0m1 0h0m-123 1h0m2 0h0m2 0h0m2 0h0m117 0h0m1 0h0m2 0h0m-114 1h0m3 0h0m99 0h0m8 0h0m5 0h0m-115 1h0m2 0h0m2 0h0m99 0h0m-108 1h0m1 0h0m4 0h0m2 0h0m4 0h0m1 0h0m3 0h0m6 0h0m7 0h0m53 0h0m23 0h0m4 0h0m-95 1h0m3 0h0m1 0h0m2 0h0m2 0h0m3 0h0m1 0h0m4 0h0m2 0h0m50 0h0m2 0h0m2 0h0m2 0h0m2 0h0m2 0h0m-76 1h0m5 0h0m1 0h0m4 0h0m2 0h0m5 0h0m20 0h0m9 0h0m20 0h0m2 0h0m1 0h0m7 0h0m-46 1h0m4 0h0m4 0h0m2 0h0m2 0h0m3 0h0m1 0h0m2 0h0m1 0h0m1 0h0m2 0h0m-24 1h0m12 0h0m4 0h0m4 0h0"/>
<path stroke="#00f708" stroke-width="11.2" d="M683 2319h0m1 0h0m2 0h0m433 0h0m1 0h0m2 0h0m2 0h0"/>
<path stroke="#08ff00" stroke-width="7.6" d="M1403 2181h0m14 0h0m28 0h0m4 0h0m-44 1h0m5 0h0m3 0h0m6 0h0m3 0h0m1 0h0m23 0h0m11 0h0m1 0h0m1 0h0m2 0h0m-86 1h0m3 0h0m8 0h0m1 0h0m26 0h0m2 0h0m2 0h0m24 0h0m21 0h0m3 0h0m8 0h0m1 0h0m-99 1h0m2 0h0m12 0h0m78 0h0m6 0h0m2 0h0m-120 1h0m2 0h0m1 0h0m3 0h0m6 0h0m19 0h0m83 0h0m2 0h0m7 0h0m-123 1h0m7 0h0m-17 1h0m2 0h0m10 0h0m4 0h0m4 0h0m1 0h0m113 0h0m2 0h0m1 0h0m4 0h0m-141 1h0m138 0h0m2 0h0m2 1h0m-158 1h0m2 0h0m2 0h0m152 0h0m1 0h0m3 0h0m-176 1h0m2 0h0m4 0h0m2 0h0m1 0h0m4 0h0m3 0h0m4 0h0m152 0h0m2 0h0m-173 1h0m1 0h0m3 0h0m3 0h0m166 0h0m-176 1h0m7 0h0m169 0h0m-180 1h0m3 0h0m175 0h0m2 0h0m2 0h0m-192 1h0m2 0h0m6 0h0m181 0h0m0 1h0m-195 1h0m2 0h0m5 0h0m1 0h0m4 0h0m2 0h0m181 0h0m1 0h0m-2 1h0m2 1h0m-202 1h0m2 0h0m3 0h0m3 0h0m192 0h0m-203 1h0m196 0h0m1 0h0m4 0h0m-200 1h0m3 0h0m-3 2h0m194 0h0m1 0h0m-205 1h0m2 0h0m196 0h0m2 0h0m-200 1h0m200 0h0m-204 1h0m1 0h0m1 0h0m2 0h0m2 0h0m196 0h0m-198 1h0m194 0h0m4 0h0m-200 1h0m2 0h0m190 0h0m4 0h0m-198 1h0m-6 1h0m2 0h0m2 0h0m3 0h0m187 0h0m-194 1h0m2 0h0m4 0h0m-7 1h0m1 0h0m4 0h0m2 0h0m181 0h0m3 0h0m6 0h0m-197 1h0m3 0h0m190 0h0m-194 1h0m4 0h0m1 0h0m187 0h0m1 0h0m-187 1h0m0 1h0m2 0h0m168 0h0m-176 1h0m5 0h0m1 0h0m2 0h0m168 0h0m1 1h0m-175 1h0m2 0h0m1 0h0m3 0h0m161 0h0m-165 1h0m2 0h0m151 0h0m13 0h0m-164 1h0m2 0h0m1 0h0m1 0h0m-1 1h0m148 0h0m5 0h0m-156 1h0m3 0h0m1 0h0m2 0h0m1 0h0m135 0h0m-140 1h0m4 0h0m-2 1h0m3 0h0m3 0h0m-6 1h0m10 0h0m2 0h0m2 0h0m101 0h0m-105 1h0m4 0h0m1 0h0m3 0h0m1 0h0m95 0h0m1 0h0m1 0h0m2 0h0m-104 1h0m10 0h0m3 0h0m4 0h0m7 0h0m62 0h0m15 0h0m1 0h0m3 0h0m-95 1h0m2 0h0m1 0h0m9 0h0m59 0h0m3 0h0m6 0h0m2 0h0m-84 1h0m6 0h0m6 0h0m8 0h0m5 0h0m12 0h0m3 0h0m6 0h0m6 0h0m10 0h0m18 0h0m-56 1h0m6 0h0m4 0h0m4 0h0m2 0h0m10 0h0m6 0h0m1 0h0m3 0h0m2 0h0m-40 1h0m14 0h0m1 0h0m3 0h0m1 0h0m3 0h0m2 0h0m2 0h0m6 0h0m4 0h0m3 0h0"/>
<path stroke="#08ff00" stroke-width="11.2" d="M687 2319h0m1 0h0m2 0h0m2 0h0m423 0h0m1 0h0m2 0h0"/>
<path stroke="#18ff00" stroke-width="7.6" d="M1427 2181h0m2 0h0m6 0h0m2 0h0m-8 1h0m2 0h0m4 0h0m3 0h0m-43 1h0m2 0h0m10 0h0m22 0h0m4 0h0m2 0h0m19 0h0m9 0h0m-73 1h0m5 0h0m2 0h0m4 0h0m2 0h0m4 0h0m44 0h0m2 0h0m6 0h0m3 0h0m-69 1h0m2 0h0m62 0h0m1 0h0m1 0h0m10 0h0m2 0h0m-102 1h0m1 0h0m7 0h0m89 0h0m5 0h0m-120 1h0m6 0h0m4 0h0m6 0h0m4 0h0m6 0h0m92 0h0m6 0h0m-125 1h0m1 0h0m-13 1h0m4 0h0m8 0h0m127 0h0m2 0h0m2 0h0m1 0h0m-143 1h0m2 0h0m141 0h0m-157 1h0m2 0h0m12 0h0m2 0h0m140 0h0m-154 1h0m2 0h0m1 0h0m1 0h0m150 0h0m4 0h0m-170 1h0m3 0h0m5 0h0m3 0h0m3 0h0m-10 1h0m-10 1h0m4 0h0m2 0h0m2 0h0m1 0h0m3 0h0m160 0h0m1 0h0m-175 1h0m174 0h0m2 0h0m-180 1h0m3 0h0m1 0h0m175 0h0m-181 1h0m1 0h0m3 0h0m176 0h0m-2 1h0m-185 1h0m1 0h0m2 0h0m1 0h0m1 0h0m176 0h0m2 0h0m1 0h0m-184 1h0m181 0h0m6 0h0m-190 1h0m-4 1h0m3 0h0m1 0h0m180 0h0m-186 1h0m186 0h0m2 0h0m-190 1h0m4 0h0m182 0h0m2 0h0m2 0h0m-190 1h0m186 0h0m-194 1h0m3 0h0m3 0h0m1 0h0m-4 1h0m184 0h0m3 0h0m2 0h0m-192 1h0m8 0h0m176 0h0m-185 1h0m3 0h0m1 0h0m180 0h0m1 0h0m-186 1h0m4 0h0m174 0h0m2 0h0m6 0h0m-186 1h0m4 0h0m-8 1h0m4 0h0m2 0h0m170 0h0m2 0h0m-177 1h0m0 1h0m3 0h0m2 0h0m174 0h0m-178 1h0m2 0h0m165 0h0m-164 1h0m169 0h0m-173 1h0m1 0h0m162 0h0m-162 1h0m2 0h0m2 0h0m2 0h0m149 0h0m8 0h0m-160 1h0m3 0h0m1 0h0m-3 1h0m2 0h0m2 0h0m146 0h0m-152 1h0m4 0h0m137 0h0m3 0h0m-139 1h0m1 0h0m3 0h0m131 0h0m-136 1h0m6 0h0m2 0h0m0 1h0m1 0h0m5 0h0m98 0h0m-104 1h0m2 0h0m2 0h0m4 0h0m96 0h0m4 0h0m-107 1h0m9 0h0m4 0h0m7 0h0m67 0h0m18 0h0m-97 1h0m1 0h0m3 0h0m1 0h0m3 0h0m1 0h0m2 0h0m69 0h0m1 0h0m4 0h0m2 0h0m1 0h0m-81 1h0m9 0h0m3 0h0m5 0h0m11 0h0m4 0h0m4 0h0m2 0h0m4 0h0m2 0h0m36 0h0m-71 1h0m5 0h0m6 0h0m1 0h0m3 0h0m5 0h0m1 0h0m6 0h0m2 0h0m10 0h0m4 0h0m2 0h0m2 0h0m4 0h0m1 0h0m3 0h0m-52 1h0m5 0h0m1 0h0m3 0h0m5 0h0m2 0h0m6 0h0m8 0h0m3 0h0m3 0h0m4 0h0m6 0h0m6 0h0"/>
<path stroke="#18ff00" stroke-width="11.2" d="M693 2319h0m1 0h0m2 0h0m415 0h0m1 0h0m2 0h0"/>
<path stroke="#28ff00" stroke-width="7.6" d="M1410 2183h0m1 0h0m3 0h0m3 0h0m1 0h0m1 0h0m14 0h0m2 0h0m7 0h0m7 0h0m1 0h0m-43 1h0m2 0h0m1 0h0m1 0h0m16 0h0m6 0h0m-47 1h0m1 0h0m2 0h0m2 0h0m22 0h0m1 0h0m1 0h0m7 0h0m1 0h0m15 0h0m4 0h0m5 0h0m7 0h0m3 0h0m-68 1h0m66 0h0m4 0h0m4 0h0m2 0h0m-102 1h0m6 0h0m86 0h0m3 0h0m7 0h0m2 0h0m-101 1h0m3 0h0m5 0h0m91 0h0m1 0h0m-101 1h0m4 0h0m94 0h0m3 0h0m3 0h0m4 0h0m4 0h0m-130 1h0m2 0h0m2 0h0m2 0h0m2 0h0m116 0h0m6 0h0m-146 1h0m8 0h0m11 0h0m4 0h0m3 0h0m116 0h0m2 0h0m3 0h0m-140 1h0m1 0h0m2 0h0m1 0h0m1 0h0m131 0h0m1 0h0m-148 1h0m144 0h0m3 0h0m1 0h0m2 0h0m1 0h0m-155 1h0m3 0h0m3 0h0m145 0h0m1 0h0m2 0h0m-163 1h0m1 0h0m4 0h0m8 0h0m3 0h0m145 0h0m-160 1h0m160 0h0m-156 1h0m154 0h0m-167 1h0m7 0h0m158 1h0m2 0h0m-170 1h0m2 0h0m1 0h0m1 0h0m-8 1h0m2 0h0m172 0h0m-176 1h0m2 0h0m171 0h0m1 0h0m2 0h0m-180 1h0m6 0h0m2 0h0m170 0h0m-180 1h0m3 0h0m1 0h0m-2 1h0m169 0h0m1 0h0m2 0h0m-179 1h0m1 0h0m2 0h0m1 0h0m175 0h0m1 0h0m-7 1h0m-174 1h0m1 0h0m172 0h0m1 0h0m2 0h0m-182 1h0m3 0h0m3 0h0m1 0h0m3 0h0m164 0h0m8 0h0m-179 1h0m1 0h0m172 0h0m2 0h0m-178 1h0m7 0h0m-5 1h0m2 0h0m2 0h0m160 0h0m2 0h0m4 0h0m-172 1h0m3 0h0m1 0h0m158 0h0m5 0h0m-1 1h0m-164 1h0m150 0h0m6 0h0m-162 1h0m4 0h0m154 0h0m-154 1h0m2 0h0m0 1h0m1 0h0m143 0h0m-146 1h0m6 0h0m130 0h0m-134 1h0m1 0h0m132 0h0m5 0h0m-138 1h0m2 0h0m3 0h0m117 0h0m14 0h0m2 0h0m-136 1h0m4 0h0m2 0h0m118 0h0m3 0h0m-121 1h0m2 0h0m106 0h0m-108 1h0m1 0h0m3 0h0m2 0h0m2 0h0m97 0h0m-103 1h0m4 0h0m83 0h0m5 0h0m2 0h0m1 0h0m11 0h0m-92 1h0m1 0h0m1 0h0m2 0h0m74 0h0m3 0h0m-77 1h0m1 0h0m1 0h0m7 0h0m8 0h0m31 0h0m4 0h0m8 0h0m-62 1h0m4 0h0m2 0h0m1 0h0m1 0h0m2 0h0m1 0h0m3 0h0m1 0h0m3 0h0m1 0h0m3 0h0m29 0h0m11 0h0m2 0h0m-52 1h0m2 0h0m2 0h0m34 0h0m1 0h0m7 0h0"/>
<path stroke="#28ff00" stroke-width="11.2" d="M697 2319h0m1 0h0m2 0h0m405 0h0m1 0h0m2 0h0m2 0h0"/>
<path stroke="#39ff00" stroke-width="7.6" d="M1405 2185h0m1 0h0m7 0h0m1 0h0m1 0h0m3 0h0m1 0h0m10 0h0m4 0h0m1 0h0m12 0h0m1 0h0m-50 1h0m4 0h0m6 0h0m2 0h0m4 0h0m2 0h0m6 0h0m4 0h0m6 0h0m8 0h0m7 0h0m3 0h0m-70 1h0m3 0h0m5 0h0m12 0h0m6 0h0m8 0h0m8 0h0m4 0h0m2 0h0m8 0h0m4 0h0m4 0h0m2 0h0m2 0h0m3 0h0m1 0h0m-76 1h0m2 0h0m2 0h0m8 0h0m70 0h0m2 0h0m-98 1h0m1 0h0m1 0h0m14 0h0m2 0h0m2 0h0m4 0h0m4 0h0m76 0h0m-107 1h0m3 0h0m2 0h0m4 0h0m95 0h0m3 0h0m-119 1h0m3 0h0m2 0h0m10 0h0m8 0h0m94 0h0m4 0h0m2 0h0m-126 1h0m2 0h0m2 0h0m3 0h0m1 0h0m115 0h0m-115 1h0m118 0h0m-135 1h0m7 0h0m128 0h0m-136 1h0m2 0h0m4 0h0m132 0h0m-149 1h0m147 0h0m2 0h0m-156 1h0m4 0h0m2 0h0m5 0h0m1 0h0m142 0h0m-156 1h0m1 0h0m4 0h0m1 0h0m148 0h0m-2 1h0m5 0h0m1 0h0m2 0h0m-166 1h0m2 0h0m4 0h0m1 0h0m153 0h0m-162 2h0m-6 1h0m4 0h0m3 0h0m3 0h0m152 0h0m2 0h0m3 0h0m-165 1h0m162 0h0m-166 1h0m161 0h0m-161 1h0m160 0h0m1 0h0m1 0h0m2 0h0m-170 1h0m7 0h0m156 0h0m5 0h0m-170 1h0m2 0h0m4 0h0m160 0h0m-164 1h0m163 0h0m3 0h0m-170 1h0m2 0h0m4 0h0m-8 1h0m157 0h0m7 0h0m2 0h0m-165 1h0m1 0h0m2 0h0m1 0h0m3 0h0m150 0h0m-158 1h0m149 0h0m1 0h0m-148 1h0m4 0h0m144 0h0m-152 1h0m6 0h0m141 0h0m-141 1h0m1 0h0m135 0h0m4 0h0m1 0h0m-143 1h0m144 0h0m-145 1h0m3 0h0m128 0h0m-128 1h0m5 0h0m113 0h0m2 0h0m2 0h0m2 0h0m6 0h0m-130 1h0m4 0h0m2 0h0m115 0h0m1 0h0m-117 1h0m104 0h0m1 0h0m-106 1h0m2 0h0m2 0h0m1 0h0m1 0h0m98 0h0m-96 1h0m8 0h0m-12 1h0m4 0h0m2 0h0m4 0h0m2 0h0m74 0h0m6 0h0m-83 1h0m4 0h0m63 0h0m12 0h0m1 0h0m3 0h0m-75 1h0m1 0h0m3 0h0m3 0h0m45 0h0m4 0h0m1 0h0m6 0h0m-58 1h0m12 0h0m4 0h0m2 0h0m4 0h0m4 0h0m1 0h0m1 0h0m4 0h0m-20 1h0m2 0h0m5 0h0m1 0h0m2 0h0m2 0h0m6 0h0m4 0h0m1 0h0"/>
<path stroke="#39ff00" stroke-width="11.2" d="M701 2319h0m1 0h0m2 0h0m2 0h0m393 0h0m1 0h0m2 0h0m2 0h0"/>
<path stroke="#49ff00" stroke-width="7.6" d="M1449 2187h0m-59 1h0m5 0h0m4 0h0m2 0h0m4 0h0m34 0h0m4 0h0m3 0h0m3 0h0m1 0h0m1 0h0m-78 1h0m5 0h0m1 0h0m3 0h0m13 0h0m4 0h0m6 0h0m37 0h0m4 0h0m9 0h0m6 0h0m-91 1h0m3 0h0m2 0h0m2 0h0m1 0h0m1 0h0m2 0h0m1 0h0m69 0h0m2 0h0m4 0h0m1 0h0m-99 1h0m6 0h0m9 0h0m3 0h0m74 0h0m6 0h0m1 0h0m3 0h0m1 0h0m1 0h0m-109 1h0m1 0h0m3 0h0m3 0h0m98 0h0m2 0h0m1 0h0m1 0h0m-122 1h0m17 0h0m1 0h0m2 0h0m1 0h0m104 0h0m-123 1h0m2 0h0m4 0h0m-4 1h0m1 0h0m1 0h0m115 0h0m5 0h0m-132 1h0m2 0h0m126 0h0m3 0h0m-131 1h0m2 0h0m1 0h0m123 0h0m6 0h0m-145 1h0m1 0h0m3 0h0m1 0h0m2 0h0m138 0h0m-146 1h0m6 0h0m136 0h0m-146 1h0m1 0h0m1 0h0m3 0h0m141 0h0m2 0h0m-152 1h0m1 0h0m1 0h0m4 0h0m-2 1h0m142 0h0m-148 1h0m6 0h0m140 0h0m-154 1h0m2 0h0m4 0h0m1 0h0m145 0h0m2 0h0m2 0h0m2 0h0m-158 1h0m4 0h0m147 0h0m1 0h0m3 0h0m1 0h0m2 0h0m-160 1h0m1 0h0m1 0h0m2 0h0m148 0h0m4 0h0m-159 1h0m1 0h0m148 0h0m-145 1h0m147 0h0m1 0h0m1 0h0m-158 1h0m2 0h0m3 0h0m1 0h0m143 0h0m3 0h0m8 0h0m-156 1h0m1 0h0m145 0h0m2 0h0m1 0h0m-148 1h0m1 0h0m2 0h0m134 0h0m4 0h0m6 0h0m-150 1h0m4 0h0m138 0h0m2 0h0m-148 1h0m4 0h0m2 0h0m1 0h0m133 0h0m-138 1h0m2 0h0m3 0h0m1 0h0m132 0h0m-138 1h0m2 0h0m6 0h0m129 0h0m1 0h0m-137 1h0m5 0h0m122 0h0m1 0h0m1 0h0m-130 1h0m1 0h0m3 0h0m2 0h0m2 0h0m110 0h0m4 0h0m-120 1h0m118 0h0m1 0h0m1 0h0m-114 1h0m2 0h0m3 0h0m95 0h0m5 0h0m-104 1h0m1 0h0m2 0h0m1 0h0m95 0h0m1 0h0m1 0h0m3 0h0m-108 1h0m5 0h0m2 0h0m1 0h0m7 0h0m77 0h0m11 0h0m2 0h0m-102 1h0m1 0h0m3 0h0m2 0h0m2 0h0m1 0h0m3 0h0m77 0h0m1 0h0m-78 1h0m1 0h0m7 0h0m1 0h0m52 0h0m3 0h0m13 0h0m1 0h0m2 0h0m-82 1h0m7 0h0m4 0h0m1 0h0m2 0h0m1 0h0m44 0h0m5 0h0m8 0h0m-65 1h0m5 0h0m14 0h0m5 0h0m8 0h0m4 0h0m3 0h0m2 0h0m14 0h0m6 0h0m-50 1h0m1 0h0m1 0h0m2 0h0m1 0h0m11 0h0m2 0h0m2 0h0m1 0h0m3 0h0m2 0h0m2 0h0m4 0h0m-30 1h0m2 0h0m1 0h0m15 0h0m6 0h0m4 0h0"/>
<path stroke="#49ff00" stroke-width="11.2" d="M707 2319h0m1 0h0m2 0h0m385 0h0m1 0h0m2 0h0"/>
<path stroke="#59ff00" stroke-width="7.6" d="M1417 2187h0m1 0h0m7 0h0m4 0h0m2 0h0m6 0h0m-22 1h0m8 0h0m2 0h0m2 0h0m4 0h0m6 0h0m-50 1h0m3 0h0m17 0h0m3 0h0m1 0h0m7 0h0m3 0h0m1 0h0m1 0h0m7 0h0m3 0h0m4 0h0m1 0h0m-55 1h0m6 0h0m4 0h0m2 0h0m4 0h0m40 0h0m11 0h0m1 0h0m-82 1h0m8 0h0m12 0h0m5 0h0m3 0h0m42 0h0m3 0h0m1 0h0m-78 1h0m4 0h0m2 0h0m2 0h0m1 0h0m1 0h0m2 0h0m1 0h0m75 0h0m4 0h0m-106 1h0m8 0h0m12 0h0m3 0h0m83 0h0m-104 1h0m2 0h0m2 0h0m1 0h0m99 0h0m4 0h0m-120 1h0m14 0h0m98 0h0m4 0h0m-116 1h0m1 0h0m1 0h0m2 0h0m4 0h0m108 0h0m-122 1h0m4 0h0m11 0h0m105 0h0m2 0h0m4 0h0m-130 1h0m3 0h0m3 0h0m2 0h0m116 0h0m2 0h0m1 0h0m-129 1h0m5 0h0m1 0h0m120 0h0m2 0h0m2 0h0m2 0h0m-138 1h0m4 0h0m3 0h0m125 0h0m2 0h0m1 0h0m1 0h0m-137 1h0m1 0h0m132 0h0m-137 1h0m3 0h0m1 0h0m3 0h0m132 0h0m2 0h0m-146 1h0m140 0h0m4 0h0m-146 1h0m4 0h0m2 0h0m2 0h0m134 0h0m1 0h0m-143 1h0m2 0h0m137 0h0m-141 1h0m4 0h0m136 0h0m1 0h0m-140 1h0m133 0h0m4 0h0m3 0h0m-147 1h0m3 0h0m3 0h0m133 0h0m4 0h0m-145 1h0m144 0h0m1 0h0m-140 1h0m1 0h0m131 0h0m-135 1h0m2 0h0m1 0h0m3 0h0m122 0h0m2 0h0m6 0h0m2 0h0m-140 1h0m1 0h0m3 0h0m2 0h0m2 0h0m124 0h0m2 0h0m-136 1h0m2 0h0m1 0h0m1 0h0m2 0h0m1 0h0m120 0h0m5 0h0m-126 1h0m1 0h0m3 0h0m118 0h0m-128 1h0m4 0h0m2 0h0m112 0h0m-115 1h0m112 0h0m1 0h0m2 0h0m1 0h0m-111 1h0m96 0h0m2 0h0m1 0h0m9 0h0m-110 1h0m1 0h0m1 0h0m99 0h0m-99 1h0m2 0h0m2 0h0m3 0h0m4 0h0m75 0h0m1 0h0m1 0h0m2 0h0m10 0h0m-98 1h0m4 0h0m4 0h0m73 0h0m1 0h0m3 0h0m1 0h0m3 0h0m-85 1h0m1 0h0m3 0h0m57 0h0m5 0h0m14 0h0m6 0h0m-86 1h0m13 0h0m1 0h0m52 0h0m4 0h0m-68 1h0m2 0h0m10 0h0m2 0h0m6 0h0m6 0h0m5 0h0m5 0h0m12 0h0m2 0h0m13 0h0m-41 1h0m4 0h0m4 0h0m1 0h0m4 0h0m5 0h0m2 0h0m2 0h0m4 0h0m3 0h0m1 0h0m2 0h0m-42 1h0m2 0h0m14 0h0m16 0h0"/>
<path stroke="#59ff00" stroke-width="11.2" d="M711 2319h0m1 0h0m2 0h0m2 0h0m373 0h0m1 0h0m2 0h0m2 0h0"/>
<path stroke="#69ff00" stroke-width="7.6" d="M1419 2189h0m3 0h0m3 0h0m1 0h0m1 0h0m-18 1h0m1 0h0m1 0h0m2 0h0m6 0h0m2 0h0m4 0h0m1 0h0m5 0h0m4 0h0m2 0h0m-54 1h0m3 0h0m5 0h0m4 0h0m10 0h0m2 0h0m4 0h0m2 0h0m1 0h0m1 0h0m15 0h0m4 0h0m1 0h0m4 0h0m6 0h0m2 0h0m-62 1h0m1 0h0m1 0h0m2 0h0m48 0h0m9 0h0m1 0h0m-70 1h0m9 0h0m3 0h0m2 0h0m2 0h0m56 0h0m1 0h0m1 0h0m-81 1h0m4 0h0m76 0h0m3 0h0m-102 1h0m8 0h0m2 0h0m2 0h0m82 0h0m5 0h0m-97 1h0m1 0h0m1 0h0m94 0h0m2 0h0m2 0h0m1 0h0m-108 1h0m4 0h0m1 0h0m2 0h0m1 0h0m8 0h0m85 0h0m2 0h0m2 0h0m-109 1h0m3 0h0m1 0h0m104 0h0m1 0h0m-116 1h0m4 0h0m10 0h0m102 0h0m2 0h0m-120 1h0m1 0h0m1 0h0m2 0h0m2 0h0m111 0h0m1 0h0m2 0h0m-128 1h0m2 0h0m8 0h0m114 0h0m1 0h0m3 0h0m-128 1h0m122 0h0m-114 1h0m1 0h0m113 0h0m-124 1h0m2 0h0m1 0h0m1 0h0m118 0h0m1 0h0m1 0h0m-129 1h0m3 0h0m4 0h0m118 0h0m2 0h0m-127 1h0m1 0h0m3 0h0m121 0h0m2 0h0m-134 1h0m4 0h0m2 0h0m1 0h0m3 0h0m120 0h0m4 0h0m1 0h0m-133 1h0m2 0h0m4 0h0m2 0h0m117 0h0m1 0h0m-128 1h0m2 0h0m2 0h0m2 0h0m1 0h0m113 0h0m2 0h0m2 0h0m-122 1h0m1 0h0m117 0h0m3 0h0m-124 1h0m5 0h0m112 0h0m-116 1h0m4 0h0m114 0h0m-116 1h0m2 0h0m2 0h0m102 0h0m10 0h0m-116 1h0m2 0h0m102 0h0m2 0h0m-110 1h0m5 0h0m93 0h0m2 0h0m5 0h0m3 0h0m4 0h0m-111 1h0m5 0h0m94 0h0m4 0h0m-103 1h0m4 0h0m1 0h0m2 0h0m84 0h0m8 0h0m-94 1h0m3 0h0m1 0h0m4 0h0m71 0h0m-77 1h0m4 0h0m2 0h0m3 0h0m1 0h0m2 0h0m2 0h0m44 0h0m10 0h0m2 0h0m11 0h0m-73 1h0m6 0h0m2 0h0m44 0h0m2 0h0m2 0h0m1 0h0m1 0h0m4 0h0m2 0h0m-66 1h0m4 0h0m3 0h0m11 0h0m1 0h0m11 0h0m6 0h0m2 0h0m4 0h0m2 0h0m6 0h0m4 0h0m2 0h0m-50 1h0m6 0h0m8 0h0m3 0h0m3 0h0m1 0h0m3 0h0m1 0h0m4 0h0m3 0h0m1 0h0m3 0h0m2 0h0m2 0h0m2 0h0m-42 1h0m1 0h0m5 0h0m10 0h0m8 0h0m2 0h0m2 0h0m4 0h0m5 0h0m5 0h0"/>
<path stroke="#69ff00" stroke-width="11.2" d="M717 2319h0m1 0h0m2 0h0m363 0h0m1 0h0m2 0h0m2 0h0"/>
<path stroke="#79ff00" stroke-width="7.6" d="M1397 2191h0m5 0h0m1 0h0m19 0h0m1 0h0m4 0h0m2 0h0m5 0h0m1 0h0m-40 1h0m7 0h0m1 0h0m6 0h0m1 0h0m3 0h0m1 0h0m1 0h0m2 0h0m1 0h0m3 0h0m2 0h0m2 0h0m4 0h0m4 0h0m2 0h0m-46 1h0m12 0h0m2 0h0m11 0h0m4 0h0m7 0h0m10 0h0m2 0h0m2 0h0m2 0h0m4 0h0m-67 1h0m3 0h0m5 0h0m5 0h0m46 0h0m2 0h0m2 0h0m4 0h0m-67 1h0m5 0h0m2 0h0m2 0h0m47 0h0m1 0h0m2 0h0m4 0h0m6 0h0m-76 1h0m3 0h0m65 0h0m2 0h0m2 0h0m2 0h0m2 0h0m-89 1h0m1 0h0m2 0h0m12 0h0m72 0h0m2 0h0m2 0h0m-96 1h0m2 0h0m2 0h0m4 0h0m80 0h0m2 0h0m4 0h0m-98 1h0m97 0h0m1 0h0m-105 1h0m1 0h0m4 0h0m2 0h0m94 0h0m2 0h0m2 0h0m-106 1h0m4 0h0m98 0h0m2 0h0m1 0h0m1 0h0m2 0h0m-110 1h0m2 0h0m1 0h0m1 0h0m2 0h0m97 0h0m3 0h0m1 0h0m-113 1h0m109 0h0m1 0h0m-112 1h0m4 0h0m2 0h0m102 0h0m-112 1h0m8 0h0m2 0h0m101 0h0m3 0h0m-114 1h0m3 0h0m1 0h0m103 0h0m4 0h0m3 0h0m-118 1h0m4 0h0m102 0h0m-107 1h0m5 0h0m2 0h0m1 0h0m1 0h0m98 0h0m2 0h0m-109 1h0m1 0h0m2 0h0m1 0h0m97 0h0m4 0h0m3 0h0m3 0h0m-108 1h0m1 0h0m101 0h0m2 0h0m-110 1h0m7 0h0m89 0h0m6 0h0m2 0h0m-104 1h0m4 0h0m2 0h0m2 0h0m90 0h0m4 0h0m-104 1h0m1 0h0m1 0h0m2 0h0m1 0h0m1 0h0m2 0h0m82 0h0m4 0h0m8 0h0m-94 1h0m2 0h0m2 0h0m76 0h0m1 0h0m5 0h0m-92 1h0m6 0h0m4 0h0m72 0h0m-79 1h0m5 0h0m2 0h0m66 0h0m3 0h0m1 0h0m2 0h0m1 0h0m3 0h0m-84 1h0m1 0h0m1 0h0m6 0h0m10 0h0m42 0h0m10 0h0m8 0h0m-66 1h0m4 0h0m1 0h0m3 0h0m38 0h0m2 0h0m1 0h0m5 0h0m3 0h0m1 0h0m2 0h0m-68 1h0m2 0h0m8 0h0m2 0h0m1 0h0m1 0h0m6 0h0m1 0h0m4 0h0m9 0h0m3 0h0m3 0h0m1 0h0m4 0h0m8 0h0m9 0h0m4 0h0m-54 1h0m1 0h0m4 0h0m7 0h0m4 0h0m1 0h0m4 0h0m1 0h0m6 0h0m2 0h0m3 0h0m3 0h0m-30 1h0m6 0h0m2 0h0m14 0h0m2 0h0m2 0h0m6 0h0"/>
<path stroke="#79ff00" stroke-width="11.2" d="M721 2319h0m1 0h0m2 0h0m353 0h0m1 0h0m2 0h0m2 0h0"/>
<path stroke="#8aff00" stroke-width="7.6" d="M1395 2193h0m4 0h0m2 0h0m12 0h0m1 0h0m3 0h0m1 0h0m1 0h0m12 0h0m2 0h0m-42 1h0m6 0h0m2 0h0m4 0h0m2 0h0m2 0h0m4 0h0m2 0h0m1 0h0m3 0h0m4 0h0m2 0h0m6 0h0m-54 1h0m2 0h0m18 0h0m4 0h0m2 0h0m10 0h0m4 0h0m10 0h0m1 0h0m1 0h0m2 0h0m1 0h0m-53 1h0m2 0h0m10 0h0m1 0h0m3 0h0m34 0h0m7 0h0m-59 1h0m2 0h0m2 0h0m12 0h0m40 0h0m4 0h0m3 0h0m3 0h0m-75 1h0m1 0h0m4 0h0m4 0h0m60 0h0m2 0h0m1 0h0m3 0h0m-84 1h0m8 0h0m2 0h0m66 0h0m1 0h0m3 0h0m2 0h0m-85 1h0m3 0h0m1 0h0m1 0h0m2 0h0m5 0h0m69 0h0m3 0h0m3 0h0m-92 1h0m8 0h0m2 0h0m2 0h0m74 0h0m2 0h0m2 0h0m-90 1h0m2 0h0m2 0h0m2 0h0m2 0h0m78 0h0m2 0h0m-96 1h0m8 0h0m2 0h0m84 0h0m2 0h0m4 0h0m-99 1h0m1 0h0m6 0h0m2 0h0m78 0h0m2 0h0m-92 1h0m3 0h0m3 0h0m84 0h0m2 0h0m2 0h0m-99 1h0m4 0h0m3 0h0m1 0h0m3 0h0m82 0h0m2 0h0m-96 1h0m2 0h0m3 0h0m7 0h0m77 0h0m5 0h0m2 0h0m1 0h0m1 0h0m-100 1h0m2 0h0m1 0h0m5 0h0m84 0h0m2 0h0m2 0h0m-94 1h0m4 0h0m1 0h0m1 0h0m2 0h0m74 0h0m2 0h0m1 0h0m3 0h0m4 0h0m-96 1h0m1 0h0m1 0h0m2 0h0m2 0h0m79 0h0m-84 1h0m1 0h0m3 0h0m1 0h0m2 0h0m74 0h0m-78 1h0m1 0h0m1 0h0m3 0h0m3 0h0m65 0h0m1 0h0m2 0h0m4 0h0m1 0h0m-84 1h0m1 0h0m3 0h0m1 0h0m4 0h0m2 0h0m52 0h0m2 0h0m12 0h0m-76 1h0m2 0h0m8 0h0m54 0h0m3 0h0m1 0h0m2 0h0m4 0h0m-70 1h0m2 0h0m4 0h0m4 0h0m2 0h0m6 0h0m26 0h0m2 0h0m10 0h0m6 0h0m2 0h0m3 0h0m1 0h0m-66 1h0m2 0h0m6 0h0m2 0h0m8 0h0m19 0h0m3 0h0m1 0h0m1 0h0m4 0h0m2 0h0m4 0h0m1 0h0m1 0h0m-53 1h0m7 0h0m1 0h0m7 0h0m5 0h0m9 0h0m6 0h0m1 0h0m3 0h0m8 0h0m4 0h0m4 0h0m-48 1h0m1 0h0m1 0h0m4 0h0m3 0h0m3 0h0m1 0h0m1 0h0m3 0h0m4 0h0m3 0h0m2 0h0m2 0h0m-24 1h0m14 0h0m8 0h0"/>
<path stroke="#8aff00" stroke-width="11.2" d="M725 2319h0m1 0h0m2 0h0m2 0h0m341 0h0m1 0h0m2 0h0m2 0h0"/>
<path stroke="#9aff00" stroke-width="7.6" d="M1397 2195h0m4 0h0m2 0h0m4 0h0m2 0h0m4 0h0m8 0h0m-23 1h0m8 0h0m1 0h0m4 0h0m3 0h0m1 0h0m6 0h0m1 0h0m1 0h0m2 0h0m-44 1h0m5 0h0m4 0h0m3 0h0m2 0h0m2 0h0m14 0h0m2 0h0m2 0h0m2 0h0m1 0h0m1 0h0m3 0h0m1 0h0m2 0h0m1 0h0m3 0h0m-50 1h0m3 0h0m4 0h0m3 0h0m8 0h0m2 0h0m2 0h0m14 0h0m2 0h0m4 0h0m2 0h0m3 0h0m1 0h0m-58 1h0m4 0h0m4 0h0m1 0h0m4 0h0m1 0h0m6 0h0m1 0h0m1 0h0m3 0h0m1 0h0m2 0h0m1 0h0m17 0h0m6 0h0m2 0h0m2 0h0m4 0h0m-62 1h0m2 0h0m5 0h0m5 0h0m2 0h0m42 0h0m6 0h0m1 0h0m1 0h0m-72 1h0m4 0h0m2 0h0m2 0h0m2 0h0m1 0h0m1 0h0m4 0h0m54 0h0m1 0h0m1 0h0m2 0h0m-68 1h0m5 0h0m1 0h0m50 0h0m2 0h0m2 0h0m5 0h0m3 0h0m-72 1h0m2 0h0m3 0h0m5 0h0m51 0h0m1 0h0m4 0h0m4 0h0m-78 1h0m2 0h0m3 0h0m1 0h0m6 0h0m58 0h0m3 0h0m3 0h0m-75 1h0m4 0h0m57 0h0m2 0h0m2 0h0m6 0h0m1 0h0m1 0h0m2 0h0m-82 1h0m2 0h0m4 0h0m1 0h0m1 0h0m2 0h0m1 0h0m57 0h0m4 0h0m4 0h0m-82 1h0m1 0h0m1 0h0m2 0h0m1 0h0m4 0h0m3 0h0m1 0h0m1 0h0m4 0h0m51 0h0m3 0h0m2 0h0m4 0h0m6 0h0m-82 1h0m2 0h0m1 0h0m3 0h0m2 0h0m3 0h0m1 0h0m56 0h0m3 0h0m4 0h0m1 0h0m-76 1h0m2 0h0m1 0h0m1 0h0m2 0h0m1 0h0m3 0h0m1 0h0m1 0h0m48 0h0m6 0h0m2 0h0m2 0h0m1 0h0m1 0h0m2 0h0m4 0h0m-80 1h0m2 0h0m3 0h0m4 0h0m1 0h0m3 0h0m1 0h0m48 0h0m2 0h0m1 0h0m7 0h0m-71 1h0m4 0h0m1 0h0m2 0h0m2 0h0m3 0h0m3 0h0m37 0h0m11 0h0m6 0h0m2 0h0m-70 1h0m4 0h0m4 0h0m2 0h0m1 0h0m4 0h0m3 0h0m30 0h0m2 0h0m2 0h0m4 0h0m2 0h0m1 0h0m1 0h0m-57 1h0m1 0h0m2 0h0m5 0h0m4 0h0m3 0h0m4 0h0m4 0h0m2 0h0m8 0h0m2 0h0m4 0h0m2 0h0m2 0h0m1 0h0m1 0h0m2 0h0m4 0h0m6 0h0m-58 1h0m1 0h0m1 0h0m2 0h0m2 0h0m2 0h0m1 0h0m4 0h0m3 0h0m2 0h0m3 0h0m1 0h0m2 0h0m1 0h0m3 0h0m6 0h0m3 0h0m1 0h0m7 0h0m-44 1h0m7 0h0m1 0h0m3 0h0m4 0h0m1 0h0m3 0h0m4 0h0m4 0h0m1 0h0m3 0h0m1 0h0m3 0h0m9 0h0m-33 1h0m4 0h0m2 0h0m2 0h0m6 0h0m-16 1h0m2 0h0m2 0h0m6 0h0m6 0h0"/>
<path stroke="#9aff00" stroke-width="11.2" d="M731 2319h0m1 0h0m2 0h0m2 0h0m327 0h0m1 0h0m2 0h0m2 0h0m2 0h0"/>
<path stroke="#aaff00" stroke-width="7.6" d="M1401 2197h0m2 0h0m2 0h0m1 0h0m1 0h0m2 0h0m1 0h0m-7 1h0m8 0h0m-24 1h0m16 0h0m2 0h0m6 0h0m4 0h0m6 0h0m-36 1h0m5 0h0m1 0h0m3 0h0m1 0h0m2 0h0m2 0h0m3 0h0m1 0h0m2 0h0m2 0h0m4 0h0m3 0h0m1 0h0m3 0h0m3 0h0m-46 1h0m4 0h0m2 0h0m6 0h0m8 0h0m2 0h0m4 0h0m4 0h0m2 0h0m2 0h0m1 0h0m3 0h0m2 0h0m2 0h0m4 0h0m-48 1h0m1 0h0m3 0h0m1 0h0m1 0h0m2 0h0m2 0h0m4 0h0m4 0h0m3 0h0m1 0h0m6 0h0m6 0h0m3 0h0m1 0h0m2 0h0m2 0h0m3 0h0m1 0h0m-52 1h0m16 0h0m4 0h0m2 0h0m1 0h0m3 0h0m1 0h0m1 0h0m2 0h0m1 0h0m3 0h0m2 0h0m2 0h0m4 0h0m1 0h0m1 0h0m2 0h0m1 0h0m3 0h0m1 0h0m1 0h0m2 0h0m-54 1h0m2 0h0m1 0h0m1 0h0m2 0h0m2 0h0m3 0h0m3 0h0m1 0h0m1 0h0m4 0h0m3 0h0m1 0h0m2 0h0m6 0h0m3 0h0m3 0h0m2 0h0m2 0h0m4 0h0m1 0h0m4 0h0m-53 1h0m4 0h0m2 0h0m7 0h0m4 0h0m1 0h0m2 0h0m1 0h0m1 0h0m4 0h0m7 0h0m1 0h0m3 0h0m3 0h0m2 0h0m6 0h0m5 0h0m-57 1h0m8 0h0m1 0h0m7 0h0m4 0h0m2 0h0m2 0h0m4 0h0m2 0h0m2 0h0m2 0h0m2 0h0m5 0h0m3 0h0m4 0h0m4 0h0m-54 1h0m2 0h0m5 0h0m1 0h0m2 0h0m1 0h0m1 0h0m7 0h0m1 0h0m2 0h0m2 0h0m2 0h0m4 0h0m2 0h0m2 0h0m2 0h0m2 0h0m2 0h0m2 0h0m1 0h0m5 0h0m6 0h0m-48 1h0m1 0h0m1 0h0m3 0h0m1 0h0m4 0h0m6 0h0m2 0h0m6 0h0m1 0h0m7 0h0m2 0h0m2 0h0m1 0h0m1 0h0m6 0h0m-52 1h0m2 0h0m3 0h0m7 0h0m4 0h0m2 0h0m2 0h0m4 0h0m1 0h0m3 0h0m1 0h0m1 0h0m3 0h0m1 0h0m4 0h0m2 0h0m1 0h0m1 0h0m-38 1h0m8 0h0m1 0h0m1 0h0m2 0h0m4 0h0m2 0h0m2 0h0m4 0h0m1 0h0m1 0h0m4 0h0m6 0h0m1 0h0m-43 1h0m12 0h0m2 0h0m4 0h0m1 0h0m3 0h0m2 0h0m2 0h0m2 0h0m3 0h0m4 0h0m1 0h0m4 0h0m3 0h0m-35 1h0m4 0h0m7 0h0m1 0h0m2 0h0m1 0h0m1 0h0m2 0h0m2 0h0m-14 1h0m2 0h0"/>
<path stroke="#aaff00" stroke-width="11.2" d="M737 2319h0m1 0h0m2 0h0m317 0h0m1 0h0m2 0h0m2 0h0"/>
<path stroke="#baff00" stroke-width="7.6" d="M1391 2206h0"/>
<path stroke="#baff00" stroke-width="11.2" d="M741 2319h0m1 0h0m2 0h0m2 0h0m301 0h0m1 0h0m2 0h0m2 0h0m2 0h0m2 0h0"/>
<path stroke="#caff00" stroke-width="11.2" d="M747 2319h0m1 0h0m2 0h0m287 0h0m1 0h0m2 0h0m2 0h0m2 0h0m2 0h0"/>
<path stroke="#dbff00" stroke-width="11.2" d="M751 2319h0m1 0h0m2 0h0m2 0h0m271 0h0m1 0h0m2 0h0m2 0h0m2 0h0m2 0h0"/>
<path stroke="#ebff00" stroke-width="11.2" d="M757 2319h0m1 0h0m2 0h0m255 0h0m1 0h0m2 0h0m2 0h0m2 0h0m2 0h0m2 0h0"/>
<path stroke="#fbff00" stroke-width="11.2" d="M761 2319h0m1 0h0m2 0h0m2 0h0m241 0h0m1 0h0m2 0h0m2 0h0m2 0h0"/>
<path stroke="#fff300" stroke-width="11.2" d="M767 2319h0m1 0h0m2 0h0m2 0h0m227 0h0m1 0h0m2 0h0m2 0h0m2 0h0"/>
<path stroke="#ffe300" stroke-width="11.2" d="M773 2319h0m1 0h0m2 0h0m215 0h0m1 0h0m2 0h0m2 0h0m2 0h0"/>
<path stroke="#ffd200" stroke-width="11.2" d="M777 2319h0m1 0h0m2 0h0m2 0h0m203 0h0m1 0h0m2 0h0m2 0h0"/>
<path stroke="#ffc200" stroke-width="11.2" d="M783 2319h0m1 0h0m2 0h0m193 0h0m1 0h0m2 0h0m2 0h0"/>
<path stroke="#ffb200" stroke-width="11.2" d="M787 2319h0m1 0h0m2 0h0m2 0h0m181 0h0m1 0h0m2 0h0m2 0h0"/>
<path stroke="#ffa200" stroke-width="11.2" d="M793 2319h0m1 0h0m2 0h0m171 0h0m1 0h0m2 0h0m2 0h0"/>
<path stroke="#ff9200" stroke-width="11.2" d="M797 2319h0m1 0h0m2 0h0m2 0h0m161 0h0m1 0h0m2 0h0"/>
<path stroke="#ff8200" stroke-width="11.2" d="M803 2319h0m1 0h0m2 0h0m2 0h0m149 0h0m1 0h0m2 0h0m2 0h0"/>
<path stroke="#ff7100" stroke-width="11.2" d="M809 2319h0m1 0h0m2 0h0m2 0h0m137 0h0m1 0h0m2 0h0m2 0h0"/>
<path stroke="#ff6100" stroke-width="11.2" d="M815 2319h0m1 0h0m2 0h0m2 0h0m127 0h0m1 0h0m2 0h0"/>
<path stroke="#ff5100" stroke-width="11.2" d="M821 2319h0m1 0h0m2 0h0m2 0h0m2 0h0m113 0h0m1 0h0m2 0h0m2 0h0"/>
<path stroke="#ff4100" stroke-width="11.2" d="M829 2319h0m1 0h0m2 0h0m2 0h0m101 0h0m1 0h0m2 0h0m2 0h0"/>
<path stroke="#ff3100" stroke-width="11.2" d="M835 2319h0m1 0h0m2 0h0m2 0h0m2 0h0m2 0h0m83 0h0m1 0h0m2 0h0m2 0h0m2 0h0"/>
<path stroke="#ff2000" stroke-width="11.2" d="M845 2319h0m1 0h0m2 0h0m2 0h0m2 0h0m2 0h0m65 0h0m1 0h0m2 0h0m2 0h0m2 0h0"/>
<path stroke="#ff1000" stroke-width="11.2" d="M855 2319h0m1 0h0m2 0h0m2 0h0m2 0h0m2 0h0m2 0h0m2 0h0m37 0h0m1 0h0m2 0h0m2 0h0m2 0h0m2 0h0m2 0h0m2 0h0"/>
<path stroke="#ff0000" stroke-width="11.2" d="M869 2319h0m1 0h0m2 0h0m2 0h0m2 0h0m2 0h0m2 0h0m2 0h0m2 0h0m2 0h0m2 0h0m2 0h0m2 0h0m2 0h0m2 0h0m2 0h0m2 0h0m2 0h0m2 0h0"/></g>
<g stroke="#000" stroke-width="0.75" fill="none" stroke-linecap="round">
<path d="M60.5 598.56H616.5M60.5 598.56v7.2M130 598.56v7.2M199.5 598.56v7.2M269 598.56v7.2M338.5 598.56v7.2M408 598.56v7.2M477.5 598.56v7.2M547 598.56v7.2M616.5 598.56v7.2"/>
<path d="M59.04 579.64V106.75M59.04 579.64h-7.2M59.04 461.42h-7.2M59.04 343.19h-7.2M59.04 224.97h-7.2M59.04 106.75h-7.2"/>
</g>
<text x="60.5" y="624" font-size="12" text-anchor="middle">0.01</text>
<text x="130" y="624" font-size="12" text-anchor="middle">0.1</text>
<text x="199.5" y="624" font-size="12" text-anchor="middle">1</text>
<text x="269" y="624" font-size="12" text-anchor="middle">10</text>
<text x="338.5" y="624" font-size="12" text-anchor="middle">100</text>
<text x="408" y="624" font-size="12" text-anchor="middle">1000</text>
<text x="477.5" y="624" font-size="12" text-anchor="middle">10000</text>
<text x="547" y="624" font-size="12" text-anchor="middle">1e+05</text>
<text x="616.5" y="624" font-size="12" text-anchor="middle">1e+06</text>
<text x="44.7" y="584.24" font-size="12" text-anchor="end">0</text>
<text x="44.7" y="466.02" font-size="12" text-anchor="end">25</text>
<text x="44.7" y="347.79" font-size="12" text-anchor="end">50</text>
<text x="44.7" y="229.57" font-size="12" text-anchor="end">75</text>
<text x="44.7" y="111.35" font-size="12" text-anchor="end">100</text>
<text x="350.4" y="652.8" font-size="12" text-anchor="middle" textLength="124.8" lengthAdjust="spacing">expression (reads/kbp)</text>
<text x="13.4" y="342.6" font-size="12" text-anchor="middle" transform="rotate(-90 13.4 342.6)" textLength="98.8" lengthAdjust="spacing">% duplicate reads</text>
<path d="M408 598.56V87.84" stroke="#f00" stroke-width="0.75" stroke-dasharray="3 3" stroke-linecap="round" fill="none"/>
<path d="M270.9 598.56V87.84" stroke="#0f0" stroke-width="0.75" stroke-dasharray="3 3" stroke-linecap="round" fill="none"/>
<path d="M80.62 573.4L83.32 573.29L86.02 573.17L88.71 573.05L91.41 572.93L94.11 572.8L96.81 572.67L99.5 572.54L102.2 572.41L104.9 572.28L107.6 572.14L110.3 572L112.99 571.86L115.69 571.71L118.39 571.57L121.09 571.42L123.79 571.26L126.48 571.11L129.18 570.95L131.88 570.79L134.58 570.62L137.27 570.46L139.97 570.29L142.67 570.11L145.37 569.94L148.07 569.76L150.76 569.58L153.46 569.39L156.16 569.2L158.86 569.01L161.55 568.81L164.25 568.61L166.95 568.41L169.65 568.2L172.35 567.99L175.04 567.77L177.74 567.56L180.44 567.33L183.14 567.11L185.84 566.88L188.53 566.64L191.23 566.4L193.93 566.16L196.63 565.91L199.32 565.66L202.02 565.4L204.72 565.14L207.42 564.88L210.12 564.61L212.81 564.33L215.51 564.05L218.21 563.77L220.91 563.48L223.6 563.18L226.3 562.88L229 562.58L231.7 562.27L234.4 561.95L237.09 561.63L239.79 561.3L242.49 560.97L245.19 560.63L247.88 560.29L250.58 559.94L253.28 559.58L255.98 559.22L258.68 558.85L261.37 558.47L264.07 558.09L266.77 557.7L269.47 557.31L272.17 556.9L274.86 556.5L277.56 556.08L280.26 555.66L282.96 555.23L285.65 554.79L288.35 554.34L291.05 553.89L293.75 553.43L296.45 552.97L299.14 552.49L301.84 552.01L304.54 551.52L307.24 551.02L309.93 550.51L312.63 549.99L315.33 549.47L318.03 548.93L320.73 548.39L323.42 547.84L326.12 547.28L328.82 546.71L331.52 546.13L334.21 545.55L336.91 544.95L339.61 544.34L342.31 543.73L345.01 543.1L347.7 542.46L350.4 541.82L353.1 541.16L355.8 540.49L358.5 539.81L361.19 539.13L363.89 538.43L366.59 537.72L369.29 537L371.98 536.26L374.68 535.52L377.38 534.77L380.08 534L382.78 533.22L385.47 532.43L388.17 531.63L390.87 530.82L393.57 529.99L396.26 529.15L398.96 528.3L401.66 527.44L404.36 526.56L407.06 525.67L409.75 524.77L412.45 523.86L415.15 522.93L417.85 521.99L420.55 521.03L423.24 520.06L425.94 519.08L428.64 518.09L431.34 517.08L434.03 516.05L436.73 515.01L439.43 513.96L442.13 512.9L444.83 511.82L447.52 510.72L450.22 509.61L452.92 508.49L455.62 507.35L458.31 506.19L461.01 505.02L463.71 503.84L466.41 502.64L469.11 501.42L471.8 500.19L474.5 498.95L477.2 497.69L479.9 496.41L482.59 495.12L485.29 493.81L487.99 492.49L490.69 491.15L493.39 489.79L496.08 488.42L498.78 487.04L501.48 485.63L504.18 484.22L506.88 482.78L509.57 481.33L512.27 479.86L514.97 478.38L517.67 476.88L520.36 475.37L523.06 473.84L525.76 472.29L528.46 470.73L531.16 469.15L533.85 467.56L536.55 465.95L539.25 464.33L541.95 462.69L544.64 461.03L547.34 459.36L550.04 457.67L552.74 455.97L555.44 454.25L558.13 452.52L560.83 450.77L563.53 449.01L566.23 447.23L568.92 445.44L571.62 443.63L574.32 441.81L577.02 439.97L579.72 438.12L582.41 436.26L585.11 434.38L587.81 432.49L590.51 430.58L593.21 428.66L595.9 426.73L598.6 424.79L601.3 422.83L604 420.86L606.69 418.88L609.39 416.89L612.09 414.89L614.79 412.87L617.49 410.84L620.18 408.8" stroke="#000" stroke-width="1.5" stroke-dasharray="1.5 4.5" stroke-linecap="round" stroke-linejoin="round" fill="none"/>
<rect x="59.04" y="88.1" width="69.96" height="42.9" fill="#fff" stroke="#000" stroke-width="0.75"/>
<text x="81.2" y="106.9" font-size="12" text-anchor="start" textLength="42.6" lengthAdjust="spacing">Int: 0.03</text>
<text x="81.2" y="121.2" font-size="12" text-anchor="start">Sl: 1.62</text>
<rect x="538.4" y="555.4" width="103.36" height="43.16" fill="#fff" stroke="#000" stroke-width="0.75"/>
<path d="M548.6 569.6H570.2" stroke="#f00" stroke-width="0.75" stroke-dasharray="3 3" stroke-linecap="round" fill="none"/>
<path d="M548.6 584.3H570.2" stroke="#0f0" stroke-width="0.75" stroke-dasharray="3 3" stroke-linecap="round" fill="none"/>
<text x="581.2" y="574.2" font-size="12" text-anchor="start">1 read/bp</text>
<text x="581.2" y="589" font-size="12" text-anchor="start" textLength="54.2" lengthAdjust="spacing">0.5 RPKM</text>
<path d="M1025.05 567.05h21.7" stroke="#000" stroke-width="2.25" fill="none"/>
<path d="M1033.2 258.79a2.7 2.7 0 1 0 5.4 0a2.7 2.7 0 1 0 -5.4 0M1033.2 335.8a2.7 2.7 0 1 0 5.4 0a2.7 2.7 0 1 0 -5.4 0M1033.2 335.8a2.7 2.7 0 1 0 5.4 0a2.7 2.7 0 1 0 -5.4 0M1033.2 335.8a2.7 2.7 0 1 0 5.4 0a2.7 2.7 0 1 0 -5.4 0M1033.2 335.8a2.7 2.7 0 1 0 5.4 0a2.7 2.7 0 1 0 -5.4 0M1033.2 335.8a2.7 2.7 0 1 0 5.4 0a2.7 2.7 0 1 0 -5.4 0M1033.2 335.8a2.7 2.7 0 1 0 5.4 0a2.7 2.7 0 1 0 -5.4 0M1033.2 412.86a2.7 2.7 0 1 0 5.4 0a2.7 2.7 0 1 0 -5.4 0M1033.2 412.86a2.7 2.7 0 1 0 5.4 0a2.7 2.7 0 1 0 -5.4 0M1033.2 474.46a2.7 2.7 0 1 0 5.4 0a2.7 2.7 0 1 0 -5.4 0M1033.2 528.3a2.7 2.7 0 1 0 5.4 0a2.7 2.7 0 1 0 -5.4 0" stroke="#000" stroke-width="0.75" fill="none"/>
<path d="M1052.18 567.05h21.7" stroke="#000" stroke-width="2.25" fill="none"/>
<path d="M1060.33 162.54a2.7 2.7 0 1 0 5.4 0a2.7 2.7 0 1 0 -5.4 0M1060.33 220.13a2.7 2.7 0 1 0 5.4 0a2.7 2.7 0 1 0 -5.4 0M1060.33 258.79a2.7 2.7 0 1 0 5.4 0a2.7 2.7 0 1 0 -5.4 0M1060.33 335.8a2.7 2.7 0 1 0 5.4 0a2.7 2.7 0 1 0 -5.4 0M1060.33 335.8a2.7 2.7 0 1 0 5.4 0a2.7 2.7 0 1 0 -5.4 0M1060.33 335.8a2.7 2.7 0 1 0 5.4 0a2.7 2.7 0 1 0 -5.4 0M1060.33 335.8a2.7 2.7 0 1 0 5.4 0a2.7 2.7 0 1 0 -5.4 0M1060.33 335.8a2.7 2.7 0 1 0 5.4 0a2.7 2.7 0 1 0 -5.4 0M1060.33 335.8a2.7 2.7 0 1 0 5.4 0a2.7 2.7 0 1 0 -5.4 0M1060.33 368.84a2.7 2.7 0 1 0 5.4 0a2.7 2.7 0 1 0 -5.4 0M1060.33 381.83a2.7 2.7 0 1 0 5.4 0a2.7 2.7 0 1 0 -5.4 0M1060.33 381.83a2.7 2.7 0 1 0 5.4 0a2.7 2.7 0 1 0 -5.4 0M1060.33 412.86a2.7 2.7 0 1 0 5.4 0a2.7 2.7 0 1 0 -5.4 0M1060.33 412.86a2.7 2.7 0 1 0 5.4 0a2.7 2.7 0 1 0 -5.4 0M1060.33 412.86a2.7 2.7 0 1 0 5.4 0a2.7 2.7 0 1 0 -5.4 0M1060.33 412.86a2.7 2.7 0 1 0 5.4 0a2.7 2.7 0 1 0 -5.4 0M1060.33 412.86a2.7 2.7 0 1 0 5.4 0a2.7 2.7 0 1 0 -5.4 0M1060.33 412.86a2.7 2.7 0 1 0 5.4 0a2.7 2.7 0 1 0 -5.4 0M1060.33 434.96a2.7 2.7 0 1 0 5.4 0a2.7 2.7 0 1 0 -5.4 0M1060.33 440.98a2.7 2.7 0 1 0 5.4 0a2.7 2.7 0 1 0 -5.4 0M1060.33 451.47a2.7 2.7 0 1 0 5.4 0a2.7 2.7 0 1 0 -5.4 0M1060.33 451.47a2.7 2.7 0 1 0 5.4 0a2.7 2.7 0 1 0 -5.4 0M1060.33 451.47a2.7 2.7 0 1 0 5.4 0a2.7 2.7 0 1 0 -5.4 0M1060.33 451.47a2.7 2.7 0 1 0 5.4 0a2.7 2.7 0 1 0 -5.4 0M1060.33 451.47a2.7 2.7 0 1 0 5.4 0a2.7 2.7 0 1 0 -5.4 0M1060.33 451.47a2.7 2.7 0 1 0 5.4 0a2.7 2.7 0 1 0 -5.4 0M1060.33 464.42a2.7 2.7 0 1 0 5.4 0a2.7 2.7 0 1 0 -5.4 0M1060.33 474.51a2.7 2.7 0 1 0 5.4 0a2.7 2.7 0 1 0 -5.4 0M1060.33 474.51a2.7 2.7 0 1 0 5.4 0a2.7 2.7 0 1 0 -5.4 0M1060.33 474.51a2.7 2.7 0 1 0 5.4 0a2.7 2.7 0 1 0 -5.4 0M1060.33 474.51a2.7 2.7 0 1 0 5.4 0a2.7 2.7 0 1 0 -5.4 0M1060.33 474.51a2.7 2.7 0 1 0 5.4 0a2.7 2.7 0 1 0 -5.4 0M1060.33 474.51a2.7 2.7 0 1 0 5.4 0a2.7 2.7 0 1 0 -5.4 0M1060.33 485a2.7 2.7 0 1 0 5.4 0a2.7 2.7 0 1 0 -5.4 0M1060.33 490.13a2.7 2.7 0 1 0 5.4 0a2.7 2.7 0 1 0 -5.4 0M1060.33 490.13a2.7 2.7 0 1 0 5.4 0a2.7 2.7 0 1 0 -5.4 0M1060.33 490.13a2.7 2.7 0 1 0 5.4 0a2.7 2.7 0 1 0 -5.4 0M1060.33 490.13a2.7 2.7 0 1 0 5.4 0a2.7 2.7 0 1 0 -5.4 0M1060.33 490.13a2.7 2.7 0 1 0 5.4 0a2.7 2.7 0 1 0 -5.4 0M1060.33 490.13a2.7 2.7 0 1 0 5.4 0a2.7 2.7 0 1 0 -5.4 0M1060.33 500.85a2.7 2.7 0 1 0 5.4 0a2.7 2.7 0 1 0 -5.4 0M1060.33 500.85a2.7 2.7 0 1 0 5.4 0a2.7 2.7 0 1 0 -5.4 0M1060.33 500.85a2.7 2.7 0 1 0 5.4 0a2.7 2.7 0 1 0 -5.4 0M1060.33 500.85a2.7 2.7 0 1 0 5.4 0a2.7 2.7 0 1 0 -5.4 0M1060.33 500.85a2.7 2.7 0 1 0 5.4 0a2.7 2.7 0 1 0 -5.4 0M1060.33 500.85a2.7 2.7 0 1 0 5.4 0a2.7 2.7 0 1 0 -5.4 0M1060.33 508.66a2.7 2.7 0 1 0 5.4 0a2.7 2.7 0 1 0 -5.4 0M1060.33 508.66a2.7 2.7 0 1 0 5.4 0a2.7 2.7 0 1 0 -5.4 0M1060.33 508.66a2.7 2.7 0 1 0 5.4 0a2.7 2.7 0 1 0 -5.4 0M1060.33 508.66a2.7 2.7 0 1 0 5.4 0a2.7 2.7 0 1 0 -5.4 0M1060.33 508.66a2.7 2.7 0 1 0 5.4 0a2.7 2.7 0 1 0 -5.4 0M1060.33 508.66a2.7 2.7 0 1 0 5.4 0a2.7 2.7 0 1 0 -5.4 0M1060.33 514.69a2.7 2.7 0 1 0 5.4 0a2.7 2.7 0 1 0 -5.4 0M1060.33 514.69a2.7 2.7 0 1 0 5.4 0a2.7 2.7 0 1 0 -5.4 0M1060.33 514.69a2.7 2.7 0 1 0 5.4 0a2.7 2.7 0 1 0 -5.4 0M1060.33 518.48a2.7 2.7 0 1 0 5.4 0a2.7 2.7 0 1 0 -5.4 0M1060.33 518.48a2.7 2.7 0 1 0 5.4 0a2.7 2.7 0 1 0 -5.4 0M1060.33 518.48a2.7 2.7 0 1 0 5.4 0a2.7 2.7 0 1 0 -5.4 0M1060.33 521.38a2.7 2.7 0 1 0 5.4 0a2.7 2.7 0 1 0 -5.4 0M1060.33 521.38a2.7 2.7 0 1 0 5.4 0a2.7 2.7 0 1 0 -5.4 0M1060.33 521.38a2.7 2.7 0 1 0 5.4 0a2.7 2.7 0 1 0 -5.4 0M1060.33 524.29a2.7 2.7 0 1 0 5.4 0a2.7 2.7 0 1 0 -5.4 0M1060.33 524.29a2.7 2.7 0 1 0 5.4 0a2.7 2.7 0 1 0 -5.4 0M1060.33 524.29a2.7 2.7 0 1 0 5.4 0a2.7 2.7 0 1 0 -5.4 0M1060.33 526.96a2.7 2.7 0 1 0 5.4 0a2.7 2.7 0 1 0 -5.4 0M1060.33 526.96a2.7 2.7 0 1 0 5.4 0a2.7 2.7 0 1 0 -5.4 0M1060.33 526.96a2.7 2.7 0 1 0 5.4 0a2.7 2.7 0 1 0 -5.4 0M1060.33 529.64a2.7 2.7 0 1 0 5.4 0a2.7 2.7 0 1 0 -5.4 0M1060.33 529.64a2.7 2.7 0 1 0 5.4 0a2.7 2.7 0 1 0 -5.4 0M1060.33 532.54a2.7 2.7 0 1 0 5.4 0a2.7 2.7 0 1 0 -5.4 0M1060.33 532.54a2.7 2.7 0 1 0 5.4 0a2.7 2.7 0 1 0 -5.4 0M1060.33 535.45a2.7 2.7 0 1 0 5.4 0a2.7 2.7 0 1 0 -5.4 0M1060.33 535.45a2.7 2.7 0 1 0 5.4 0a2.7 2.7 0 1 0 -5.4 0M1060.33 538.57a2.7 2.7 0 1 0 5.4 0a2.7 2.7 0 1 0 -5.4 0M1060.33 538.57a2.7 2.7 0 1 0 5.4 0a2.7 2.7 0 1 0 -5.4 0M1060.33 548.17a2.7 2.7 0 1 0 5.4 0a2.7 2.7 0 1 0 -5.4 0M1060.33 550.85a2.7 2.7 0 1 0 5.4 0a2.7 2.7 0 1 0 -5.4 0" stroke="#000" stroke-width="0.75" fill="none"/>
<path d="M1079.31 567.05h21.7" stroke="#000" stroke-width="2.25" fill="none"/>
<path d="M1087.46 104.96a2.7 2.7 0 1 0 5.4 0a2.7 2.7 0 1 0 -5.4 0M1087.46 104.96a2.7 2.7 0 1 0 5.4 0a2.7 2.7 0 1 0 -5.4 0M1087.46 104.96a2.7 2.7 0 1 0 5.4 0a2.7 2.7 0 1 0 -5.4 0M1087.46 104.96a2.7 2.7 0 1 0 5.4 0a2.7 2.7 0 1 0 -5.4 0M1087.46 104.96a2.7 2.7 0 1 0 5.4 0a2.7 2.7 0 1 0 -5.4 0M1087.46 104.96a2.7 2.7 0 1 0 5.4 0a2.7 2.7 0 1 0 -5.4 0M1087.46 150.94a2.7 2.7 0 1 0 5.4 0a2.7 2.7 0 1 0 -5.4 0M1087.46 156.07a2.7 2.7 0 1 0 5.4 0a2.7 2.7 0 1 0 -5.4 0M1087.46 173.26a2.7 2.7 0 1 0 5.4 0a2.7 2.7 0 1 0 -5.4 0M1087.46 177.5a2.7 2.7 0 1 0 5.4 0a2.7 2.7 0 1 0 -5.4 0M1087.46 181.52a2.7 2.7 0 1 0 5.4 0a2.7 2.7 0 1 0 -5.4 0M1087.46 188.66a2.7 2.7 0 1 0 5.4 0a2.7 2.7 0 1 0 -5.4 0M1087.46 197.14a2.7 2.7 0 1 0 5.4 0a2.7 2.7 0 1 0 -5.4 0M1087.46 207.41a2.7 2.7 0 1 0 5.4 0a2.7 2.7 0 1 0 -5.4 0M1087.46 220.13a2.7 2.7 0 1 0 5.4 0a2.7 2.7 0 1 0 -5.4 0M1087.46 258.79a2.7 2.7 0 1 0 5.4 0a2.7 2.7 0 1 0 -5.4 0M1087.46 271.07a2.7 2.7 0 1 0 5.4 0a2.7 2.7 0 1 0 -5.4 0M1087.46 289.6a2.7 2.7 0 1 0 5.4 0a2.7 2.7 0 1 0 -5.4 0M1087.46 314.82a2.7 2.7 0 1 0 5.4 0a2.7 2.7 0 1 0 -5.4 0M1087.46 335.8a2.7 2.7 0 1 0 5.4 0a2.7 2.7 0 1 0 -5.4 0M1087.46 335.8a2.7 2.7 0 1 0 5.4 0a2.7 2.7 0 1 0 -5.4 0M1087.46 335.8a2.7 2.7 0 1 0 5.4 0a2.7 2.7 0 1 0 -5.4 0M1087.46 335.8a2.7 2.7 0 1 0 5.4 0a2.7 2.7 0 1 0 -5.4 0M1087.46 335.8a2.7 2.7 0 1 0 5.4 0a2.7 2.7 0 1 0 -5.4 0M1087.46 335.8a2.7 2.7 0 1 0 5.4 0a2.7 2.7 0 1 0 -5.4 0M1087.46 381.83a2.7 2.7 0 1 0 5.4 0a2.7 2.7 0 1 0 -5.4 0M1087.46 381.83a2.7 2.7 0 1 0 5.4 0a2.7 2.7 0 1 0 -5.4 0M1087.46 381.83a2.7 2.7 0 1 0 5.4 0a2.7 2.7 0 1 0 -5.4 0M1087.46 381.83a2.7 2.7 0 1 0 5.4 0a2.7 2.7 0 1 0 -5.4 0M1087.46 381.83a2.7 2.7 0 1 0 5.4 0a2.7 2.7 0 1 0 -5.4 0M1087.46 381.83a2.7 2.7 0 1 0 5.4 0a2.7 2.7 0 1 0 -5.4 0M1087.46 393.66a2.7 2.7 0 1 0 5.4 0a2.7 2.7 0 1 0 -5.4 0M1087.46 412.86a2.7 2.7 0 1 0 5.4 0a2.7 2.7 0 1 0 -5.4 0M1087.46 412.86a2.7 2.7 0 1 0 5.4 0a2.7 2.7 0 1 0 -5.4 0M1087.46 412.86a2.7 2.7 0 1 0 5.4 0a2.7 2.7 0 1 0 -5.4 0M1087.46 412.86a2.7 2.7 0 1 0 5.4 0a2.7 2.7 0 1 0 -5.4 0M1087.46 412.86a2.7 2.7 0 1 0 5.4 0a2.7 2.7 0 1 0 -5.4 0M1087.46 412.86a2.7 2.7 0 1 0 5.4 0a2.7 2.7 0 1 0 -5.4 0M1087.46 428.48a2.7 2.7 0 1 0 5.4 0a2.7 2.7 0 1 0 -5.4 0M1087.46 434.96a2.7 2.7 0 1 0 5.4 0a2.7 2.7 0 1 0 -5.4 0M1087.46 451.47a2.7 2.7 0 1 0 5.4 0a2.7 2.7 0 1 0 -5.4 0M1087.46 451.47a2.7 2.7 0 1 0 5.4 0a2.7 2.7 0 1 0 -5.4 0M1087.46 451.47a2.7 2.7 0 1 0 5.4 0a2.7 2.7 0 1 0 -5.4 0M1087.46 451.47a2.7 2.7 0 1 0 5.4 0a2.7 2.7 0 1 0 -5.4 0M1087.46 451.47a2.7 2.7 0 1 0 5.4 0a2.7 2.7 0 1 0 -5.4 0M1087.46 451.47a2.7 2.7 0 1 0 5.4 0a2.7 2.7 0 1 0 -5.4 0M1087.46 464.42a2.7 2.7 0 1 0 5.4 0a2.7 2.7 0 1 0 -5.4 0M1087.46 464.42a2.7 2.7 0 1 0 5.4 0a2.7 2.7 0 1 0 -5.4 0M1087.46 464.42a2.7 2.7 0 1 0 5.4 0a2.7 2.7 0 1 0 -5.4 0M1087.46 464.42a2.7 2.7 0 1 0 5.4 0a2.7 2.7 0 1 0 -5.4 0M1087.46 464.42a2.7 2.7 0 1 0 5.4 0a2.7 2.7 0 1 0 -5.4 0M1087.46 464.42a2.7 2.7 0 1 0 5.4 0a2.7 2.7 0 1 0 -5.4 0M1087.46 464.02a2.7 2.7 0 1 0 5.4 0a2.7 2.7 0 1 0 -5.4 0M1087.46 464.02a2.7 2.7 0 1 0 5.4 0a2.7 2.7 0 1 0 -5.4 0M1087.46 464.02a2.7 2.7 0 1 0 5.4 0a2.7 2.7 0 1 0 -5.4 0M1087.46 464.02a2.7 2.7 0 1 0 5.4 0a2.7 2.7 0 1 0 -5.4 0M1087.46 464.02a2.7 2.7 0 1 0 5.4 0a2.7 2.7 0 1 0 -5.4 0M1087.46 464.02a2.7 2.7 0 1 0 5.4 0a2.7 2.7 0 1 0 -5.4 0M1087.46 474.51a2.7 2.7 0 1 0 5.4 0a2.7 2.7 0 1 0 -5.4 0M1087.46 474.51a2.7 2.7 0 1 0 5.4 0a2.7 2.7 0 1 0 -5.4 0M1087.46 474.51a2.7 2.7 0 1 0 5.4 0a2.7 2.7 0 1 0 -5.4 0M1087.46 474.51a2.7 2.7 0 1 0 5.4 0a2.7 2.7 0 1 0 -5.4 0M1087.46 474.51a2.7 2.7 0 1 0 5.4 0a2.7 2.7 0 1 0 -5.4 0M1087.46 474.51a2.7 2.7 0 1 0 5.4 0a2.7 2.7 0 1 0 -5.4 0M1087.46 481.77a2.7 2.7 0 1 0 5.4 0a2.7 2.7 0 1 0 -5.4 0M1087.46 481.77a2.7 2.7 0 1 0 5.4 0a2.7 2.7 0 1 0 -5.4 0M1087.46 482.85a2.7 2.7 0 1 0 5.4 0a2.7 2.7 0 1 0 -5.4 0M1087.46 482.85a2.7 2.7 0 1 0 5.4 0a2.7 2.7 0 1 0 -5.4 0M1087.46 484.8a2.7 2.7 0 1 0 5.4 0a2.7 2.7 0 1 0 -5.4 0M1087.46 484.8a2.7 2.7 0 1 0 5.4 0a2.7 2.7 0 1 0 -5.4 0M1087.46 485.34a2.7 2.7 0 1 0 5.4 0a2.7 2.7 0 1 0 -5.4 0M1087.46 485.34a2.7 2.7 0 1 0 5.4 0a2.7 2.7 0 1 0 -5.4 0M1087.46 487.25a2.7 2.7 0 1 0 5.4 0a2.7 2.7 0 1 0 -5.4 0M1087.46 487.25a2.7 2.7 0 1 0 5.4 0a2.7 2.7 0 1 0 -5.4 0M1087.46 488.33a2.7 2.7 0 1 0 5.4 0a2.7 2.7 0 1 0 -5.4 0M1087.46 488.33a2.7 2.7 0 1 0 5.4 0a2.7 2.7 0 1 0 -5.4 0M1087.46 489.23a2.7 2.7 0 1 0 5.4 0a2.7 2.7 0 1 0 -5.4 0M1087.46 489.23a2.7 2.7 0 1 0 5.4 0a2.7 2.7 0 1 0 -5.4 0M1087.46 491.11a2.7 2.7 0 1 0 5.4 0a2.7 2.7 0 1 0 -5.4 0M1087.46 491.11a2.7 2.7 0 1 0 5.4 0a2.7 2.7 0 1 0 -5.4 0M1087.46 491.8a2.7 2.7 0 1 0 5.4 0a2.7 2.7 0 1 0 -5.4 0M1087.46 491.8a2.7 2.7 0 1 0 5.4 0a2.7 2.7 0 1 0 -5.4 0M1087.46 493.61a2.7 2.7 0 1 0 5.4 0a2.7 2.7 0 1 0 -5.4 0M1087.46 493.61a2.7 2.7 0 1 0 5.4 0a2.7 2.7 0 1 0 -5.4 0M1087.46 494.44a2.7 2.7 0 1 0 5.4 0a2.7 2.7 0 1 0 -5.4 0M1087.46 494.44a2.7 2.7 0 1 0 5.4 0a2.7 2.7 0 1 0 -5.4 0M1087.46 495.77a2.7 2.7 0 1 0 5.4 0a2.7 2.7 0 1 0 -5.4 0M1087.46 495.77a2.7 2.7 0 1 0 5.4 0a2.7 2.7 0 1 0 -5.4 0M1087.46 497.5a2.7 2.7 0 1 0 5.4 0a2.7 2.7 0 1 0 -5.4 0M1087.46 497.5a2.7 2.7 0 1 0 5.4 0a2.7 2.7 0 1 0 -5.4 0M1087.46 499.32a2.7 2.7 0 1 0 5.4 0a2.7 2.7 0 1 0 -5.4 0M1087.46 499.32a2.7 2.7 0 1 0 5.4 0a2.7 2.7 0 1 0 -5.4 0M1087.46 499.71a2.7 2.7 0 1 0 5.4 0a2.7 2.7 0 1 0 -5.4 0M1087.46 499.71a2.7 2.7 0 1 0 5.4 0a2.7 2.7 0 1 0 -5.4 0M1087.46 501.14a2.7 2.7 0 1 0 5.4 0a2.7 2.7 0 1 0 -5.4 0M1087.46 501.14a2.7 2.7 0 1 0 5.4 0a2.7 2.7 0 1 0 -5.4 0M1087.46 502.97a2.7 2.7 0 1 0 5.4 0a2.7 2.7 0 1 0 -5.4 0M1087.46 502.97a2.7 2.7 0 1 0 5.4 0a2.7 2.7 0 1 0 -5.4 0M1087.46 504.68a2.7 2.7 0 1 0 5.4 0a2.7 2.7 0 1 0 -5.4 0M1087.46 504.68a2.7 2.7 0 1 0 5.4 0a2.7 2.7 0 1 0 -5.4 0M1087.46 505.5a2.7 2.7 0 1 0 5.4 0a2.7 2.7 0 1 0 -5.4 0M1087.46 505.5a2.7 2.7 0 1 0 5.4 0a2.7 2.7 0 1 0 -5.4 0M1087.46 506.57a2.7 2.7 0 1 0 5.4 0a2.7 2.7 0 1 0 -5.4 0M1087.46 506.57a2.7 2.7 0 1 0 5.4 0a2.7 2.7 0 1 0 -5.4 0M1087.46 508.62a2.7 2.7 0 1 0 5.4 0a2.7 2.7 0 1 0 -5.4 0M1087.46 508.62a2.7 2.7 0 1 0 5.4 0a2.7 2.7 0 1 0 -5.4 0M1087.46 508.71a2.7 2.7 0 1 0 5.4 0a2.7 2.7 0 1 0 -5.4 0M1087.46 508.71a2.7 2.7 0 1 0 5.4 0a2.7 2.7 0 1 0 -5.4 0M1087.46 511.07a2.7 2.7 0 1 0 5.4 0a2.7 2.7 0 1 0 -5.4 0M1087.46 511.07a2.7 2.7 0 1 0 5.4 0a2.7 2.7 0 1 0 -5.4 0M1087.46 511.63a2.7 2.7 0 1 0 5.4 0a2.7 2.7 0 1 0 -5.4 0M1087.46 511.63a2.7 2.7 0 1 0 5.4 0a2.7 2.7 0 1 0 -5.4 0M1087.46 512.74a2.7 2.7 0 1 0 5.4 0a2.7 2.7 0 1 0 -5.4 0M1087.46 512.74a2.7 2.7 0 1 0 5.4 0a2.7 2.7 0 1 0 -5.4 0M1087.46 514a2.7 2.7 0 1 0 5.4 0a2.7 2.7 0 1 0 -5.4 0M1087.46 514a2.7 2.7 0 1 0 5.4 0a2.7 2.7 0 1 0 -5.4 0M1087.46 515.55a2.7 2.7 0 1 0 5.4 0a2.7 2.7 0 1 0 -5.4 0M1087.46 515.55a2.7 2.7 0 1 0 5.4 0a2.7 2.7 0 1 0 -5.4 0M1087.46 517.51a2.7 2.7 0 1 0 5.4 0a2.7 2.7 0 1 0 -5.4 0M1087.46 517.51a2.7 2.7 0 1 0 5.4 0a2.7 2.7 0 1 0 -5.4 0M1087.46 517.98a2.7 2.7 0 1 0 5.4 0a2.7 2.7 0 1 0 -5.4 0M1087.46 517.98a2.7 2.7 0 1 0 5.4 0a2.7 2.7 0 1 0 -5.4 0M1087.46 519.81a2.7 2.7 0 1 0 5.4 0a2.7 2.7 0 1 0 -5.4 0M1087.46 519.81a2.7 2.7 0 1 0 5.4 0a2.7 2.7 0 1 0 -5.4 0M1087.46 521.18a2.7 2.7 0 1 0 5.4 0a2.7 2.7 0 1 0 -5.4 0M1087.46 521.18a2.7 2.7 0 1 0 5.4 0a2.7 2.7 0 1 0 -5.4 0M1087.46 522.13a2.7 2.7 0 1 0 5.4 0a2.7 2.7 0 1 0 -5.4 0M1087.46 522.13a2.7 2.7 0 1 0 5.4 0a2.7 2.7 0 1 0 -5.4 0M1087.46 523.66a2.7 2.7 0 1 0 5.4 0a2.7 2.7 0 1 0 -5.4 0M1087.46 523.66a2.7 2.7 0 1 0 5.4 0a2.7 2.7 0 1 0 -5.4 0M1087.46 524.33a2.7 2.7 0 1 0 5.4 0a2.7 2.7 0 1 0 -5.4 0M1087.46 524.33a2.7 2.7 0 1 0 5.4 0a2.7 2.7 0 1 0 -5.4 0M1087.46 525.63a2.7 2.7 0 1 0 5.4 0a2.7 2.7 0 1 0 -5.4 0M1087.46 525.63a2.7 2.7 0 1 0 5.4 0a2.7 2.7 0 1 0 -5.4 0M1087.46 527.12a2.7 2.7 0 1 0 5.4 0a2.7 2.7 0 1 0 -5.4 0M1087.46 527.12a2.7 2.7 0 1 0 5.4 0a2.7 2.7 0 1 0 -5.4 0M1087.46 529.03a2.7 2.7 0 1 0 5.4 0a2.7 2.7 0 1 0 -5.4 0M1087.46 529.03a2.7 2.7 0 1 0 5.4 0a2.7 2.7 0 1 0 -5.4 0M1087.46 530.01a2.7 2.7 0 1 0 5.4 0a2.7 2.7 0 1 0 -5.4 0M1087.46 530.01a2.7 2.7 0 1 0 5.4 0a2.7 2.7 0 1 0 -5.4 0M1087.46 531.16a2.7 2.7 0 1 0 5.4 0a2.7 2.7 0 1 0 -5.4 0M1087.46 531.16a2.7 2.7 0 1 0 5.4 0a2.7 2.7 0 1 0 -5.4 0M1087.46 532.81a2.7 2.7 0 1 0 5.4 0a2.7 2.7 0 1 0 -5.4 0M1087.46 532.81a2.7 2.7 0 1 0 5.4 0a2.7 2.7 0 1 0 -5.4 0M1087.46 533.94a2.7 2.7 0 1 0 5.4 0a2.7 2.7 0 1 0 -5.4 0M1087.46 533.94a2.7 2.7 0 1 0 5.4 0a2.7 2.7 0 1 0 -5.4 0M1087.46 535.04a2.7 2.7 0 1 0 5.4 0a2.7 2.7 0 1 0 -5.4 0M1087.46 535.04a2.7 2.7 0 1 0 5.4 0a2.7 2.7 0 1 0 -5.4 0M1087.46 536.98a2.7 2.7 0 1 0 5.4 0a2.7 2.7 0 1 0 -5.4 0M1087.46 536.98a2.7 2.7 0 1 0 5.4 0a2.7 2.7 0 1 0 -5.4 0M1087.46 538.16a2.7 2.7 0 1 0 5.4 0a2.7 2.7 0 1 0 -5.4 0M1087.46 538.16a2.7 2.7 0 1 0 5.4 0a2.7 2.7 0 1 0 -5.4 0M1087.46 538.87a2.7 2.7 0 1 0 5.4 0a2.7 2.7 0 1 0 -5.4 0M1087.46 538.87a2.7 2.7 0 1 0 5.4 0a2.7 2.7 0 1 0 -5.4 0M1087.46 540.6a2.7 2.7 0 1 0 5.4 0a2.7 2.7 0 1 0 -5.4 0M1087.46 540.6a2.7 2.7 0 1 0 5.4 0a2.7 2.7 0 1 0 -5.4 0M1087.46 541.83a2.7 2.7 0 1 0 5.4 0a2.7 2.7 0 1 0 -5.4 0M1087.46 541.83a2.7 2.7 0 1 0 5.4 0a2.7 2.7 0 1 0 -5.4 0M1087.46 543.59a2.7 2.7 0 1 0 5.4 0a2.7 2.7 0 1 0 -5.4 0M1087.46 543.59a2.7 2.7 0 1 0 5.4 0a2.7 2.7 0 1 0 -5.4 0M1087.46 544.7a2.7 2.7 0 1 0 5.4 0a2.7 2.7 0 1 0 -5.4 0M1087.46 544.7a2.7 2.7 0 1 0 5.4 0a2.7 2.7 0 1 0 -5.4 0M1087.46 545.42a2.7 2.7 0 1 0 5.4 0a2.7 2.7 0 1 0 -5.4 0M1087.46 545.42a2.7 2.7 0 1 0 5.4 0a2.7 2.7 0 1 0 -5.4 0M1087.46 547.62a2.7 2.7 0 1 0 5.4 0a2.7 2.7 0 1 0 -5.4 0M1087.46 547.62a2.7 2.7 0 1 0 5.4 0a2.7 2.7 0 1 0 -5.4 0M1087.46 547.8a2.7 2.7 0 1 0 5.4 0a2.7 2.7 0 1 0 -5.4 0M1087.46 547.8a2.7 2.7 0 1 0 5.4 0a2.7 2.7 0 1 0 -5.4 0M1087.46 549.49a2.7 2.7 0 1 0 5.4 0a2.7 2.7 0 1 0 -5.4 0M1087.46 549.49a2.7 2.7 0 1 0 5.4 0a2.7 2.7 0 1 0 -5.4 0M1087.46 551.23a2.7 2.7 0 1 0 5.4 0a2.7 2.7 0 1 0 -5.4 0M1087.46 551.23a2.7 2.7 0 1 0 5.4 0a2.7 2.7 0 1 0 -5.4 0M1087.46 551.75a2.7 2.7 0 1 0 5.4 0a2.7 2.7 0 1 0 -5.4 0M1087.46 551.75a2.7 2.7 0 1 0 5.4 0a2.7 2.7 0 1 0 -5.4 0M1087.46 553.49a2.7 2.7 0 1 0 5.4 0a2.7 2.7 0 1 0 -5.4 0M1087.46 553.49a2.7 2.7 0 1 0 5.4 0a2.7 2.7 0 1 0 -5.4 0M1087.46 554.2a2.7 2.7 0 1 0 5.4 0a2.7 2.7 0 1 0 -5.4 0M1087.46 554.2a2.7 2.7 0 1 0 5.4 0a2.7 2.7 0 1 0 -5.4 0M1087.46 556.32a2.7 2.7 0 1 0 5.4 0a2.7 2.7 0 1 0 -5.4 0M1087.46 556.32a2.7 2.7 0 1 0 5.4 0a2.7 2.7 0 1 0 -5.4 0M1087.46 557.74a2.7 2.7 0 1 0 5.4 0a2.7 2.7 0 1 0 -5.4 0M1087.46 557.74a2.7 2.7 0 1 0 5.4 0a2.7 2.7 0 1 0 -5.4 0" stroke="#000" stroke-width="0.75" fill="none"/>
<path d="M1117.29 538.3V496.8M1117.29 567.05V567.05" stroke="#000" stroke-width="0.75" stroke-dasharray="3 3" stroke-linecap="round" fill="none"/>
<path d="M1111.86 496.8h10.85M1111.86 567.05h10.85" stroke="#000" stroke-width="0.75" fill="none"/>
<rect x="1106.44" y="538.3" width="21.7" height="28.75" fill="#d3d3d3" stroke="#000" stroke-width="0.75"/>
<path d="M1106.44 567.05h21.7" stroke="#000" stroke-width="2.25" fill="none"/>
<path d="M1114.59 119.91a2.7 2.7 0 1 0 5.4 0a2.7 2.7 0 1 0 -5.4 0M1114.59 129.06a2.7 2.7 0 1 0 5.4 0a2.7 2.7 0 1 0 -5.4 0M1114.59 148.04a2.7 2.7 0 1 0 5.4 0a2.7 2.7 0 1 0 -5.4 0M1114.59 177.72a2.7 2.7 0 1 0 5.4 0a2.7 2.7 0 1 0 -5.4 0M1114.59 188.66a2.7 2.7 0 1 0 5.4 0a2.7 2.7 0 1 0 -5.4 0M1114.59 197.14a2.7 2.7 0 1 0 5.4 0a2.7 2.7 0 1 0 -5.4 0M1114.59 197.14a2.7 2.7 0 1 0 5.4 0a2.7 2.7 0 1 0 -5.4 0M1114.59 197.14a2.7 2.7 0 1 0 5.4 0a2.7 2.7 0 1 0 -5.4 0M1114.59 197.14a2.7 2.7 0 1 0 5.4 0a2.7 2.7 0 1 0 -5.4 0M1114.59 197.14a2.7 2.7 0 1 0 5.4 0a2.7 2.7 0 1 0 -5.4 0M1114.59 197.14a2.7 2.7 0 1 0 5.4 0a2.7 2.7 0 1 0 -5.4 0M1114.59 240.71a2.7 2.7 0 1 0 5.4 0a2.7 2.7 0 1 0 -5.4 0M1114.59 251.88a2.7 2.7 0 1 0 5.4 0a2.7 2.7 0 1 0 -5.4 0M1114.59 258.79a2.7 2.7 0 1 0 5.4 0a2.7 2.7 0 1 0 -5.4 0M1114.59 258.79a2.7 2.7 0 1 0 5.4 0a2.7 2.7 0 1 0 -5.4 0M1114.59 258.79a2.7 2.7 0 1 0 5.4 0a2.7 2.7 0 1 0 -5.4 0M1114.59 258.79a2.7 2.7 0 1 0 5.4 0a2.7 2.7 0 1 0 -5.4 0M1114.59 258.79a2.7 2.7 0 1 0 5.4 0a2.7 2.7 0 1 0 -5.4 0M1114.59 258.79a2.7 2.7 0 1 0 5.4 0a2.7 2.7 0 1 0 -5.4 0M1114.59 314.82a2.7 2.7 0 1 0 5.4 0a2.7 2.7 0 1 0 -5.4 0M1114.59 335.8a2.7 2.7 0 1 0 5.4 0a2.7 2.7 0 1 0 -5.4 0M1114.59 335.8a2.7 2.7 0 1 0 5.4 0a2.7 2.7 0 1 0 -5.4 0M1114.59 335.8a2.7 2.7 0 1 0 5.4 0a2.7 2.7 0 1 0 -5.4 0M1114.59 335.8a2.7 2.7 0 1 0 5.4 0a2.7 2.7 0 1 0 -5.4 0M1114.59 335.8a2.7 2.7 0 1 0 5.4 0a2.7 2.7 0 1 0 -5.4 0M1114.59 335.8a2.7 2.7 0 1 0 5.4 0a2.7 2.7 0 1 0 -5.4 0M1114.59 348.53a2.7 2.7 0 1 0 5.4 0a2.7 2.7 0 1 0 -5.4 0M1114.59 353.44a2.7 2.7 0 1 0 5.4 0a2.7 2.7 0 1 0 -5.4 0M1114.59 381.83a2.7 2.7 0 1 0 5.4 0a2.7 2.7 0 1 0 -5.4 0M1114.59 381.83a2.7 2.7 0 1 0 5.4 0a2.7 2.7 0 1 0 -5.4 0M1114.59 381.83a2.7 2.7 0 1 0 5.4 0a2.7 2.7 0 1 0 -5.4 0M1114.59 381.83a2.7 2.7 0 1 0 5.4 0a2.7 2.7 0 1 0 -5.4 0M1114.59 381.83a2.7 2.7 0 1 0 5.4 0a2.7 2.7 0 1 0 -5.4 0M1114.59 381.83a2.7 2.7 0 1 0 5.4 0a2.7 2.7 0 1 0 -5.4 0M1114.59 388.3a2.7 2.7 0 1 0 5.4 0a2.7 2.7 0 1 0 -5.4 0M1114.59 393.66a2.7 2.7 0 1 0 5.4 0a2.7 2.7 0 1 0 -5.4 0M1114.59 412.86a2.7 2.7 0 1 0 5.4 0a2.7 2.7 0 1 0 -5.4 0M1114.59 412.86a2.7 2.7 0 1 0 5.4 0a2.7 2.7 0 1 0 -5.4 0M1114.59 412.86a2.7 2.7 0 1 0 5.4 0a2.7 2.7 0 1 0 -5.4 0M1114.59 412.86a2.7 2.7 0 1 0 5.4 0a2.7 2.7 0 1 0 -5.4 0M1114.59 412.86a2.7 2.7 0 1 0 5.4 0a2.7 2.7 0 1 0 -5.4 0M1114.59 412.86a2.7 2.7 0 1 0 5.4 0a2.7 2.7 0 1 0 -5.4 0M1114.59 421.79a2.7 2.7 0 1 0 5.4 0a2.7 2.7 0 1 0 -5.4 0M1114.59 434.96a2.7 2.7 0 1 0 5.4 0a2.7 2.7 0 1 0 -5.4 0M1114.59 434.96a2.7 2.7 0 1 0 5.4 0a2.7 2.7 0 1 0 -5.4 0M1114.59 434.96a2.7 2.7 0 1 0 5.4 0a2.7 2.7 0 1 0 -5.4 0M1114.59 434.96a2.7 2.7 0 1 0 5.4 0a2.7 2.7 0 1 0 -5.4 0M1114.59 434.96a2.7 2.7 0 1 0 5.4 0a2.7 2.7 0 1 0 -5.4 0M1114.59 434.96a2.7 2.7 0 1 0 5.4 0a2.7 2.7 0 1 0 -5.4 0M1114.59 441.43a2.7 2.7 0 1 0 5.4 0a2.7 2.7 0 1 0 -5.4 0M1114.59 445.89a2.7 2.7 0 1 0 5.4 0a2.7 2.7 0 1 0 -5.4 0M1114.59 451.47a2.7 2.7 0 1 0 5.4 0a2.7 2.7 0 1 0 -5.4 0M1114.59 451.47a2.7 2.7 0 1 0 5.4 0a2.7 2.7 0 1 0 -5.4 0M1114.59 451.47a2.7 2.7 0 1 0 5.4 0a2.7 2.7 0 1 0 -5.4 0M1114.59 451.47a2.7 2.7 0 1 0 5.4 0a2.7 2.7 0 1 0 -5.4 0M1114.59 451.47a2.7 2.7 0 1 0 5.4 0a2.7 2.7 0 1 0 -5.4 0M1114.59 451.47a2.7 2.7 0 1 0 5.4 0a2.7 2.7 0 1 0 -5.4 0M1114.59 455.94a2.7 2.7 0 1 0 5.4 0a2.7 2.7 0 1 0 -5.4 0M1114.59 458.17a2.7 2.7 0 1 0 5.4 0a2.7 2.7 0 1 0 -5.4 0M1114.59 460.4a2.7 2.7 0 1 0 5.4 0a2.7 2.7 0 1 0 -5.4 0M1114.59 462.63a2.7 2.7 0 1 0 5.4 0a2.7 2.7 0 1 0 -5.4 0M1114.59 464.87a2.7 2.7 0 1 0 5.4 0a2.7 2.7 0 1 0 -5.4 0M1114.59 464.02a2.7 2.7 0 1 0 5.4 0a2.7 2.7 0 1 0 -5.4 0M1114.59 464.02a2.7 2.7 0 1 0 5.4 0a2.7 2.7 0 1 0 -5.4 0M1114.59 464.02a2.7 2.7 0 1 0 5.4 0a2.7 2.7 0 1 0 -5.4 0M1114.59 464.02a2.7 2.7 0 1 0 5.4 0a2.7 2.7 0 1 0 -5.4 0M1114.59 464.02a2.7 2.7 0 1 0 5.4 0a2.7 2.7 0 1 0 -5.4 0M1114.59 464.02a2.7 2.7 0 1 0 5.4 0a2.7 2.7 0 1 0 -5.4 0M1114.59 474.51a2.7 2.7 0 1 0 5.4 0a2.7 2.7 0 1 0 -5.4 0M1114.59 474.51a2.7 2.7 0 1 0 5.4 0a2.7 2.7 0 1 0 -5.4 0M1114.59 474.51a2.7 2.7 0 1 0 5.4 0a2.7 2.7 0 1 0 -5.4 0M1114.59 474.51a2.7 2.7 0 1 0 5.4 0a2.7 2.7 0 1 0 -5.4 0M1114.59 474.51a2.7 2.7 0 1 0 5.4 0a2.7 2.7 0 1 0 -5.4 0M1114.59 474.51a2.7 2.7 0 1 0 5.4 0a2.7 2.7 0 1 0 -5.4 0M1114.59 480.09a2.7 2.7 0 1 0 5.4 0a2.7 2.7 0 1 0 -5.4 0M1114.59 484.55a2.7 2.7 0 1 0 5.4 0a2.7 2.7 0 1 0 -5.4 0M1114.59 490.13a2.7 2.7 0 1 0 5.4 0a2.7 2.7 0 1 0 -5.4 0M1114.59 490.13a2.7 2.7 0 1 0 5.4 0a2.7 2.7 0 1 0 -5.4 0M1114.59 490.13a2.7 2.7 0 1 0 5.4 0a2.7 2.7 0 1 0 -5.4 0M1114.59 490.13a2.7 2.7 0 1 0 5.4 0a2.7 2.7 0 1 0 -5.4 0M1114.59 490.13a2.7 2.7 0 1 0 5.4 0a2.7 2.7 0 1 0 -5.4 0M1114.59 490.13a2.7 2.7 0 1 0 5.4 0a2.7 2.7 0 1 0 -5.4 0M1114.59 495.71a2.7 2.7 0 1 0 5.4 0a2.7 2.7 0 1 0 -5.4 0M1114.59 495.71a2.7 2.7 0 1 0 5.4 0a2.7 2.7 0 1 0 -5.4 0M1114.59 495.71a2.7 2.7 0 1 0 5.4 0a2.7 2.7 0 1 0 -5.4 0M1114.59 495.71a2.7 2.7 0 1 0 5.4 0a2.7 2.7 0 1 0 -5.4 0M1114.59 495.71a2.7 2.7 0 1 0 5.4 0a2.7 2.7 0 1 0 -5.4 0M1114.59 495.71a2.7 2.7 0 1 0 5.4 0a2.7 2.7 0 1 0 -5.4 0" stroke="#000" stroke-width="0.75" fill="none"/>
<path d="M1144.42 535.16V489.86M1144.42 567.05V567.05" stroke="#000" stroke-width="0.75" stroke-dasharray="3 3" stroke-linecap="round" fill="none"/>
<path d="M1138.99 489.86h10.85M1138.99 567.05h10.85" stroke="#000" stroke-width="0.75" fill="none"/>
<rect x="1133.57" y="535.16" width="21.7" height="31.89" fill="#d3d3d3" stroke="#000" stroke-width="0.75"/>
<path d="M1133.57 567.05h21.7" stroke="#000" stroke-width="2.25" fill="none"/>
<path d="M1141.72 137.1a2.7 2.7 0 1 0 5.4 0a2.7 2.7 0 1 0 -5.4 0M1141.72 137.1a2.7 2.7 0 1 0 5.4 0a2.7 2.7 0 1 0 -5.4 0M1141.72 156.07a2.7 2.7 0 1 0 5.4 0a2.7 2.7 0 1 0 -5.4 0M1141.72 166.56a2.7 2.7 0 1 0 5.4 0a2.7 2.7 0 1 0 -5.4 0M1141.72 197.14a2.7 2.7 0 1 0 5.4 0a2.7 2.7 0 1 0 -5.4 0M1141.72 243.39a2.7 2.7 0 1 0 5.4 0a2.7 2.7 0 1 0 -5.4 0M1141.72 258.79a2.7 2.7 0 1 0 5.4 0a2.7 2.7 0 1 0 -5.4 0M1141.72 282.68a2.7 2.7 0 1 0 5.4 0a2.7 2.7 0 1 0 -5.4 0M1141.72 286.25a2.7 2.7 0 1 0 5.4 0a2.7 2.7 0 1 0 -5.4 0M1141.72 335.8a2.7 2.7 0 1 0 5.4 0a2.7 2.7 0 1 0 -5.4 0M1141.72 335.8a2.7 2.7 0 1 0 5.4 0a2.7 2.7 0 1 0 -5.4 0M1141.72 335.8a2.7 2.7 0 1 0 5.4 0a2.7 2.7 0 1 0 -5.4 0M1141.72 335.8a2.7 2.7 0 1 0 5.4 0a2.7 2.7 0 1 0 -5.4 0M1141.72 335.8a2.7 2.7 0 1 0 5.4 0a2.7 2.7 0 1 0 -5.4 0M1141.72 335.8a2.7 2.7 0 1 0 5.4 0a2.7 2.7 0 1 0 -5.4 0M1141.72 358.79a2.7 2.7 0 1 0 5.4 0a2.7 2.7 0 1 0 -5.4 0M1141.72 368.84a2.7 2.7 0 1 0 5.4 0a2.7 2.7 0 1 0 -5.4 0M1141.72 371.52a2.7 2.7 0 1 0 5.4 0a2.7 2.7 0 1 0 -5.4 0M1141.72 371.79a2.7 2.7 0 1 0 5.4 0a2.7 2.7 0 1 0 -5.4 0M1141.72 381.83a2.7 2.7 0 1 0 5.4 0a2.7 2.7 0 1 0 -5.4 0M1141.72 381.83a2.7 2.7 0 1 0 5.4 0a2.7 2.7 0 1 0 -5.4 0M1141.72 381.83a2.7 2.7 0 1 0 5.4 0a2.7 2.7 0 1 0 -5.4 0M1141.72 381.83a2.7 2.7 0 1 0 5.4 0a2.7 2.7 0 1 0 -5.4 0M1141.72 381.83a2.7 2.7 0 1 0 5.4 0a2.7 2.7 0 1 0 -5.4 0M1141.72 381.83a2.7 2.7 0 1 0 5.4 0a2.7 2.7 0 1 0 -5.4 0M1141.72 390.09a2.7 2.7 0 1 0 5.4 0a2.7 2.7 0 1 0 -5.4 0M1141.72 393.66a2.7 2.7 0 1 0 5.4 0a2.7 2.7 0 1 0 -5.4 0M1141.72 412.86a2.7 2.7 0 1 0 5.4 0a2.7 2.7 0 1 0 -5.4 0M1141.72 412.86a2.7 2.7 0 1 0 5.4 0a2.7 2.7 0 1 0 -5.4 0M1141.72 412.86a2.7 2.7 0 1 0 5.4 0a2.7 2.7 0 1 0 -5.4 0M1141.72 412.86a2.7 2.7 0 1 0 5.4 0a2.7 2.7 0 1 0 -5.4 0M1141.72 412.86a2.7 2.7 0 1 0 5.4 0a2.7 2.7 0 1 0 -5.4 0M1141.72 412.86a2.7 2.7 0 1 0 5.4 0a2.7 2.7 0 1 0 -5.4 0M1141.72 429.82a2.7 2.7 0 1 0 5.4 0a2.7 2.7 0 1 0 -5.4 0M1141.72 432.5a2.7 2.7 0 1 0 5.4 0a2.7 2.7 0 1 0 -5.4 0M1141.72 434.96a2.7 2.7 0 1 0 5.4 0a2.7 2.7 0 1 0 -5.4 0M1141.72 434.96a2.7 2.7 0 1 0 5.4 0a2.7 2.7 0 1 0 -5.4 0M1141.72 434.96a2.7 2.7 0 1 0 5.4 0a2.7 2.7 0 1 0 -5.4 0M1141.72 434.96a2.7 2.7 0 1 0 5.4 0a2.7 2.7 0 1 0 -5.4 0M1141.72 434.96a2.7 2.7 0 1 0 5.4 0a2.7 2.7 0 1 0 -5.4 0M1141.72 434.96a2.7 2.7 0 1 0 5.4 0a2.7 2.7 0 1 0 -5.4 0M1141.72 443.66a2.7 2.7 0 1 0 5.4 0a2.7 2.7 0 1 0 -5.4 0M1141.72 451.47a2.7 2.7 0 1 0 5.4 0a2.7 2.7 0 1 0 -5.4 0M1141.72 451.47a2.7 2.7 0 1 0 5.4 0a2.7 2.7 0 1 0 -5.4 0M1141.72 451.47a2.7 2.7 0 1 0 5.4 0a2.7 2.7 0 1 0 -5.4 0M1141.72 451.47a2.7 2.7 0 1 0 5.4 0a2.7 2.7 0 1 0 -5.4 0M1141.72 451.47a2.7 2.7 0 1 0 5.4 0a2.7 2.7 0 1 0 -5.4 0M1141.72 451.47a2.7 2.7 0 1 0 5.4 0a2.7 2.7 0 1 0 -5.4 0M1141.72 454.38a2.7 2.7 0 1 0 5.4 0a2.7 2.7 0 1 0 -5.4 0M1141.72 457.05a2.7 2.7 0 1 0 5.4 0a2.7 2.7 0 1 0 -5.4 0M1141.72 459.29a2.7 2.7 0 1 0 5.4 0a2.7 2.7 0 1 0 -5.4 0M1141.72 461.96a2.7 2.7 0 1 0 5.4 0a2.7 2.7 0 1 0 -5.4 0M1141.72 464.87a2.7 2.7 0 1 0 5.4 0a2.7 2.7 0 1 0 -5.4 0M1141.72 467.77a2.7 2.7 0 1 0 5.4 0a2.7 2.7 0 1 0 -5.4 0M1141.72 464.02a2.7 2.7 0 1 0 5.4 0a2.7 2.7 0 1 0 -5.4 0M1141.72 464.02a2.7 2.7 0 1 0 5.4 0a2.7 2.7 0 1 0 -5.4 0M1141.72 464.02a2.7 2.7 0 1 0 5.4 0a2.7 2.7 0 1 0 -5.4 0M1141.72 464.02a2.7 2.7 0 1 0 5.4 0a2.7 2.7 0 1 0 -5.4 0M1141.72 464.02a2.7 2.7 0 1 0 5.4 0a2.7 2.7 0 1 0 -5.4 0M1141.72 464.02a2.7 2.7 0 1 0 5.4 0a2.7 2.7 0 1 0 -5.4 0M1141.72 468.93a2.7 2.7 0 1 0 5.4 0a2.7 2.7 0 1 0 -5.4 0M1141.72 474.51a2.7 2.7 0 1 0 5.4 0a2.7 2.7 0 1 0 -5.4 0M1141.72 474.51a2.7 2.7 0 1 0 5.4 0a2.7 2.7 0 1 0 -5.4 0M1141.72 474.51a2.7 2.7 0 1 0 5.4 0a2.7 2.7 0 1 0 -5.4 0M1141.72 474.51a2.7 2.7 0 1 0 5.4 0a2.7 2.7 0 1 0 -5.4 0M1141.72 474.51a2.7 2.7 0 1 0 5.4 0a2.7 2.7 0 1 0 -5.4 0M1141.72 474.51a2.7 2.7 0 1 0 5.4 0a2.7 2.7 0 1 0 -5.4 0M1141.72 480.09a2.7 2.7 0 1 0 5.4 0a2.7 2.7 0 1 0 -5.4 0M1141.72 484.55a2.7 2.7 0 1 0 5.4 0a2.7 2.7 0 1 0 -5.4 0M1141.72 487.9a2.7 2.7 0 1 0 5.4 0a2.7 2.7 0 1 0 -5.4 0" stroke="#000" stroke-width="0.75" fill="none"/>
<path d="M1171.55 533.68V485.24M1171.55 567.05V567.05" stroke="#000" stroke-width="0.75" stroke-dasharray="3 3" stroke-linecap="round" fill="none"/>
<path d="M1166.12 485.24h10.85M1166.12 567.05h10.85" stroke="#000" stroke-width="0.75" fill="none"/>
<rect x="1160.7" y="533.68" width="21.7" height="33.37" fill="#d3d3d3" stroke="#000" stroke-width="0.75"/>
<path d="M1160.7 546.57h21.7" stroke="#000" stroke-width="2.25" fill="none"/>
<path d="M1168.85 143.12a2.7 2.7 0 1 0 5.4 0a2.7 2.7 0 1 0 -5.4 0M1168.85 143.12a2.7 2.7 0 1 0 5.4 0a2.7 2.7 0 1 0 -5.4 0M1168.85 166.56a2.7 2.7 0 1 0 5.4 0a2.7 2.7 0 1 0 -5.4 0M1168.85 208.97a2.7 2.7 0 1 0 5.4 0a2.7 2.7 0 1 0 -5.4 0M1168.85 227.95a2.7 2.7 0 1 0 5.4 0a2.7 2.7 0 1 0 -5.4 0M1168.85 241.83a2.7 2.7 0 1 0 5.4 0a2.7 2.7 0 1 0 -5.4 0M1168.85 247.63a2.7 2.7 0 1 0 5.4 0a2.7 2.7 0 1 0 -5.4 0M1168.85 258.79a2.7 2.7 0 1 0 5.4 0a2.7 2.7 0 1 0 -5.4 0M1168.85 265.49a2.7 2.7 0 1 0 5.4 0a2.7 2.7 0 1 0 -5.4 0M1168.85 310.8a2.7 2.7 0 1 0 5.4 0a2.7 2.7 0 1 0 -5.4 0M1168.85 320.4a2.7 2.7 0 1 0 5.4 0a2.7 2.7 0 1 0 -5.4 0M1168.85 335.8a2.7 2.7 0 1 0 5.4 0a2.7 2.7 0 1 0 -5.4 0M1168.85 335.8a2.7 2.7 0 1 0 5.4 0a2.7 2.7 0 1 0 -5.4 0M1168.85 335.8a2.7 2.7 0 1 0 5.4 0a2.7 2.7 0 1 0 -5.4 0M1168.85 335.8a2.7 2.7 0 1 0 5.4 0a2.7 2.7 0 1 0 -5.4 0M1168.85 335.8a2.7 2.7 0 1 0 5.4 0a2.7 2.7 0 1 0 -5.4 0M1168.85 335.8a2.7 2.7 0 1 0 5.4 0a2.7 2.7 0 1 0 -5.4 0M1168.85 381.83a2.7 2.7 0 1 0 5.4 0a2.7 2.7 0 1 0 -5.4 0M1168.85 381.83a2.7 2.7 0 1 0 5.4 0a2.7 2.7 0 1 0 -5.4 0M1168.85 381.83a2.7 2.7 0 1 0 5.4 0a2.7 2.7 0 1 0 -5.4 0M1168.85 381.83a2.7 2.7 0 1 0 5.4 0a2.7 2.7 0 1 0 -5.4 0M1168.85 381.83a2.7 2.7 0 1 0 5.4 0a2.7 2.7 0 1 0 -5.4 0M1168.85 381.83a2.7 2.7 0 1 0 5.4 0a2.7 2.7 0 1 0 -5.4 0M1168.85 393.66a2.7 2.7 0 1 0 5.4 0a2.7 2.7 0 1 0 -5.4 0M1168.85 412.86a2.7 2.7 0 1 0 5.4 0a2.7 2.7 0 1 0 -5.4 0M1168.85 412.86a2.7 2.7 0 1 0 5.4 0a2.7 2.7 0 1 0 -5.4 0M1168.85 412.86a2.7 2.7 0 1 0 5.4 0a2.7 2.7 0 1 0 -5.4 0M1168.85 412.86a2.7 2.7 0 1 0 5.4 0a2.7 2.7 0 1 0 -5.4 0M1168.85 412.86a2.7 2.7 0 1 0 5.4 0a2.7 2.7 0 1 0 -5.4 0M1168.85 412.86a2.7 2.7 0 1 0 5.4 0a2.7 2.7 0 1 0 -5.4 0M1168.85 428.48a2.7 2.7 0 1 0 5.4 0a2.7 2.7 0 1 0 -5.4 0M1168.85 433.62a2.7 2.7 0 1 0 5.4 0a2.7 2.7 0 1 0 -5.4 0M1168.85 434.96a2.7 2.7 0 1 0 5.4 0a2.7 2.7 0 1 0 -5.4 0M1168.85 434.96a2.7 2.7 0 1 0 5.4 0a2.7 2.7 0 1 0 -5.4 0M1168.85 434.96a2.7 2.7 0 1 0 5.4 0a2.7 2.7 0 1 0 -5.4 0M1168.85 434.96a2.7 2.7 0 1 0 5.4 0a2.7 2.7 0 1 0 -5.4 0M1168.85 434.96a2.7 2.7 0 1 0 5.4 0a2.7 2.7 0 1 0 -5.4 0M1168.85 434.96a2.7 2.7 0 1 0 5.4 0a2.7 2.7 0 1 0 -5.4 0M1168.85 451.47a2.7 2.7 0 1 0 5.4 0a2.7 2.7 0 1 0 -5.4 0M1168.85 451.47a2.7 2.7 0 1 0 5.4 0a2.7 2.7 0 1 0 -5.4 0M1168.85 451.47a2.7 2.7 0 1 0 5.4 0a2.7 2.7 0 1 0 -5.4 0M1168.85 451.47a2.7 2.7 0 1 0 5.4 0a2.7 2.7 0 1 0 -5.4 0M1168.85 451.47a2.7 2.7 0 1 0 5.4 0a2.7 2.7 0 1 0 -5.4 0M1168.85 451.47a2.7 2.7 0 1 0 5.4 0a2.7 2.7 0 1 0 -5.4 0M1168.85 457.05a2.7 2.7 0 1 0 5.4 0a2.7 2.7 0 1 0 -5.4 0M1168.85 461.52a2.7 2.7 0 1 0 5.4 0a2.7 2.7 0 1 0 -5.4 0M1168.85 461.52a2.7 2.7 0 1 0 5.4 0a2.7 2.7 0 1 0 -5.4 0M1168.85 461.52a2.7 2.7 0 1 0 5.4 0a2.7 2.7 0 1 0 -5.4 0M1168.85 461.52a2.7 2.7 0 1 0 5.4 0a2.7 2.7 0 1 0 -5.4 0M1168.85 461.52a2.7 2.7 0 1 0 5.4 0a2.7 2.7 0 1 0 -5.4 0M1168.85 461.52a2.7 2.7 0 1 0 5.4 0a2.7 2.7 0 1 0 -5.4 0M1168.85 467.1a2.7 2.7 0 1 0 5.4 0a2.7 2.7 0 1 0 -5.4 0M1168.85 464.02a2.7 2.7 0 1 0 5.4 0a2.7 2.7 0 1 0 -5.4 0M1168.85 464.02a2.7 2.7 0 1 0 5.4 0a2.7 2.7 0 1 0 -5.4 0M1168.85 464.02a2.7 2.7 0 1 0 5.4 0a2.7 2.7 0 1 0 -5.4 0M1168.85 464.02a2.7 2.7 0 1 0 5.4 0a2.7 2.7 0 1 0 -5.4 0M1168.85 464.02a2.7 2.7 0 1 0 5.4 0a2.7 2.7 0 1 0 -5.4 0M1168.85 464.02a2.7 2.7 0 1 0 5.4 0a2.7 2.7 0 1 0 -5.4 0M1168.85 468.93a2.7 2.7 0 1 0 5.4 0a2.7 2.7 0 1 0 -5.4 0M1168.85 474.51a2.7 2.7 0 1 0 5.4 0a2.7 2.7 0 1 0 -5.4 0M1168.85 474.51a2.7 2.7 0 1 0 5.4 0a2.7 2.7 0 1 0 -5.4 0M1168.85 474.51a2.7 2.7 0 1 0 5.4 0a2.7 2.7 0 1 0 -5.4 0M1168.85 474.51a2.7 2.7 0 1 0 5.4 0a2.7 2.7 0 1 0 -5.4 0M1168.85 474.51a2.7 2.7 0 1 0 5.4 0a2.7 2.7 0 1 0 -5.4 0M1168.85 474.51a2.7 2.7 0 1 0 5.4 0a2.7 2.7 0 1 0 -5.4 0M1168.85 480.09a2.7 2.7 0 1 0 5.4 0a2.7 2.7 0 1 0 -5.4 0M1168.85 483.44a2.7 2.7 0 1 0 5.4 0a2.7 2.7 0 1 0 -5.4 0" stroke="#000" stroke-width="0.75" fill="none"/>
<path d="M1198.68 534.56V511.59M1198.68 550.6V567.05" stroke="#000" stroke-width="0.75" stroke-dasharray="3 3" stroke-linecap="round" fill="none"/>
<path d="M1193.25 511.59h10.85M1193.25 567.05h10.85" stroke="#000" stroke-width="0.75" fill="none"/>
<rect x="1187.83" y="534.56" width="21.7" height="16.04" fill="#d3d3d3" stroke="#000" stroke-width="0.75"/>
<path d="M1187.83 542.55h21.7" stroke="#000" stroke-width="2.25" fill="none"/>
<path d="M1195.98 170.58a2.7 2.7 0 1 0 5.4 0a2.7 2.7 0 1 0 -5.4 0M1195.98 258.79a2.7 2.7 0 1 0 5.4 0a2.7 2.7 0 1 0 -5.4 0M1195.98 258.79a2.7 2.7 0 1 0 5.4 0a2.7 2.7 0 1 0 -5.4 0M1195.98 297.19a2.7 2.7 0 1 0 5.4 0a2.7 2.7 0 1 0 -5.4 0M1195.98 335.8a2.7 2.7 0 1 0 5.4 0a2.7 2.7 0 1 0 -5.4 0M1195.98 335.8a2.7 2.7 0 1 0 5.4 0a2.7 2.7 0 1 0 -5.4 0M1195.98 335.8a2.7 2.7 0 1 0 5.4 0a2.7 2.7 0 1 0 -5.4 0M1195.98 335.8a2.7 2.7 0 1 0 5.4 0a2.7 2.7 0 1 0 -5.4 0M1195.98 335.8a2.7 2.7 0 1 0 5.4 0a2.7 2.7 0 1 0 -5.4 0M1195.98 335.8a2.7 2.7 0 1 0 5.4 0a2.7 2.7 0 1 0 -5.4 0M1195.98 381.16a2.7 2.7 0 1 0 5.4 0a2.7 2.7 0 1 0 -5.4 0M1195.98 382.95a2.7 2.7 0 1 0 5.4 0a2.7 2.7 0 1 0 -5.4 0M1195.98 385.18a2.7 2.7 0 1 0 5.4 0a2.7 2.7 0 1 0 -5.4 0M1195.98 399.02a2.7 2.7 0 1 0 5.4 0a2.7 2.7 0 1 0 -5.4 0M1195.98 412.86a2.7 2.7 0 1 0 5.4 0a2.7 2.7 0 1 0 -5.4 0M1195.98 412.86a2.7 2.7 0 1 0 5.4 0a2.7 2.7 0 1 0 -5.4 0M1195.98 412.86a2.7 2.7 0 1 0 5.4 0a2.7 2.7 0 1 0 -5.4 0M1195.98 412.86a2.7 2.7 0 1 0 5.4 0a2.7 2.7 0 1 0 -5.4 0M1195.98 412.86a2.7 2.7 0 1 0 5.4 0a2.7 2.7 0 1 0 -5.4 0M1195.98 412.86a2.7 2.7 0 1 0 5.4 0a2.7 2.7 0 1 0 -5.4 0M1195.98 424.24a2.7 2.7 0 1 0 5.4 0a2.7 2.7 0 1 0 -5.4 0M1195.98 428.48a2.7 2.7 0 1 0 5.4 0a2.7 2.7 0 1 0 -5.4 0M1195.98 430.71a2.7 2.7 0 1 0 5.4 0a2.7 2.7 0 1 0 -5.4 0M1195.98 436.96a2.7 2.7 0 1 0 5.4 0a2.7 2.7 0 1 0 -5.4 0M1195.98 441.43a2.7 2.7 0 1 0 5.4 0a2.7 2.7 0 1 0 -5.4 0M1195.98 441.43a2.7 2.7 0 1 0 5.4 0a2.7 2.7 0 1 0 -5.4 0M1195.98 441.43a2.7 2.7 0 1 0 5.4 0a2.7 2.7 0 1 0 -5.4 0M1195.98 441.43a2.7 2.7 0 1 0 5.4 0a2.7 2.7 0 1 0 -5.4 0M1195.98 441.43a2.7 2.7 0 1 0 5.4 0a2.7 2.7 0 1 0 -5.4 0M1195.98 441.43a2.7 2.7 0 1 0 5.4 0a2.7 2.7 0 1 0 -5.4 0M1195.98 451.47a2.7 2.7 0 1 0 5.4 0a2.7 2.7 0 1 0 -5.4 0M1195.98 451.47a2.7 2.7 0 1 0 5.4 0a2.7 2.7 0 1 0 -5.4 0M1195.98 451.47a2.7 2.7 0 1 0 5.4 0a2.7 2.7 0 1 0 -5.4 0M1195.98 451.47a2.7 2.7 0 1 0 5.4 0a2.7 2.7 0 1 0 -5.4 0M1195.98 451.47a2.7 2.7 0 1 0 5.4 0a2.7 2.7 0 1 0 -5.4 0M1195.98 451.47a2.7 2.7 0 1 0 5.4 0a2.7 2.7 0 1 0 -5.4 0M1195.98 455.94a2.7 2.7 0 1 0 5.4 0a2.7 2.7 0 1 0 -5.4 0M1195.98 459.29a2.7 2.7 0 1 0 5.4 0a2.7 2.7 0 1 0 -5.4 0M1195.98 461.52a2.7 2.7 0 1 0 5.4 0a2.7 2.7 0 1 0 -5.4 0M1195.98 463.75a2.7 2.7 0 1 0 5.4 0a2.7 2.7 0 1 0 -5.4 0M1195.98 465.98a2.7 2.7 0 1 0 5.4 0a2.7 2.7 0 1 0 -5.4 0M1195.98 468.21a2.7 2.7 0 1 0 5.4 0a2.7 2.7 0 1 0 -5.4 0M1195.98 461.12a2.7 2.7 0 1 0 5.4 0a2.7 2.7 0 1 0 -5.4 0M1195.98 463.2a2.7 2.7 0 1 0 5.4 0a2.7 2.7 0 1 0 -5.4 0M1195.98 463.9a2.7 2.7 0 1 0 5.4 0a2.7 2.7 0 1 0 -5.4 0M1195.98 466.11a2.7 2.7 0 1 0 5.4 0a2.7 2.7 0 1 0 -5.4 0M1195.98 467.55a2.7 2.7 0 1 0 5.4 0a2.7 2.7 0 1 0 -5.4 0M1195.98 469.13a2.7 2.7 0 1 0 5.4 0a2.7 2.7 0 1 0 -5.4 0M1195.98 470.53a2.7 2.7 0 1 0 5.4 0a2.7 2.7 0 1 0 -5.4 0M1195.98 472.74a2.7 2.7 0 1 0 5.4 0a2.7 2.7 0 1 0 -5.4 0M1195.98 474.51a2.7 2.7 0 1 0 5.4 0a2.7 2.7 0 1 0 -5.4 0M1195.98 475.36a2.7 2.7 0 1 0 5.4 0a2.7 2.7 0 1 0 -5.4 0M1195.98 477.15a2.7 2.7 0 1 0 5.4 0a2.7 2.7 0 1 0 -5.4 0M1195.98 477.15a2.7 2.7 0 1 0 5.4 0a2.7 2.7 0 1 0 -5.4 0M1195.98 477.5a2.7 2.7 0 1 0 5.4 0a2.7 2.7 0 1 0 -5.4 0M1195.98 477.5a2.7 2.7 0 1 0 5.4 0a2.7 2.7 0 1 0 -5.4 0M1195.98 478.98a2.7 2.7 0 1 0 5.4 0a2.7 2.7 0 1 0 -5.4 0M1195.98 478.98a2.7 2.7 0 1 0 5.4 0a2.7 2.7 0 1 0 -5.4 0M1195.98 479.83a2.7 2.7 0 1 0 5.4 0a2.7 2.7 0 1 0 -5.4 0M1195.98 479.83a2.7 2.7 0 1 0 5.4 0a2.7 2.7 0 1 0 -5.4 0M1195.98 481.04a2.7 2.7 0 1 0 5.4 0a2.7 2.7 0 1 0 -5.4 0M1195.98 481.04a2.7 2.7 0 1 0 5.4 0a2.7 2.7 0 1 0 -5.4 0M1195.98 481.79a2.7 2.7 0 1 0 5.4 0a2.7 2.7 0 1 0 -5.4 0M1195.98 481.79a2.7 2.7 0 1 0 5.4 0a2.7 2.7 0 1 0 -5.4 0M1195.98 482.21a2.7 2.7 0 1 0 5.4 0a2.7 2.7 0 1 0 -5.4 0M1195.98 482.21a2.7 2.7 0 1 0 5.4 0a2.7 2.7 0 1 0 -5.4 0M1195.98 483.2a2.7 2.7 0 1 0 5.4 0a2.7 2.7 0 1 0 -5.4 0M1195.98 483.2a2.7 2.7 0 1 0 5.4 0a2.7 2.7 0 1 0 -5.4 0M1195.98 484.35a2.7 2.7 0 1 0 5.4 0a2.7 2.7 0 1 0 -5.4 0M1195.98 484.35a2.7 2.7 0 1 0 5.4 0a2.7 2.7 0 1 0 -5.4 0M1195.98 484.67a2.7 2.7 0 1 0 5.4 0a2.7 2.7 0 1 0 -5.4 0M1195.98 484.67a2.7 2.7 0 1 0 5.4 0a2.7 2.7 0 1 0 -5.4 0M1195.98 485.97a2.7 2.7 0 1 0 5.4 0a2.7 2.7 0 1 0 -5.4 0M1195.98 485.97a2.7 2.7 0 1 0 5.4 0a2.7 2.7 0 1 0 -5.4 0M1195.98 486.6a2.7 2.7 0 1 0 5.4 0a2.7 2.7 0 1 0 -5.4 0M1195.98 486.6a2.7 2.7 0 1 0 5.4 0a2.7 2.7 0 1 0 -5.4 0M1195.98 487.46a2.7 2.7 0 1 0 5.4 0a2.7 2.7 0 1 0 -5.4 0M1195.98 487.46a2.7 2.7 0 1 0 5.4 0a2.7 2.7 0 1 0 -5.4 0M1195.98 488.3a2.7 2.7 0 1 0 5.4 0a2.7 2.7 0 1 0 -5.4 0M1195.98 488.3a2.7 2.7 0 1 0 5.4 0a2.7 2.7 0 1 0 -5.4 0M1195.98 489.84a2.7 2.7 0 1 0 5.4 0a2.7 2.7 0 1 0 -5.4 0M1195.98 489.84a2.7 2.7 0 1 0 5.4 0a2.7 2.7 0 1 0 -5.4 0M1195.98 490.17a2.7 2.7 0 1 0 5.4 0a2.7 2.7 0 1 0 -5.4 0M1195.98 490.17a2.7 2.7 0 1 0 5.4 0a2.7 2.7 0 1 0 -5.4 0M1195.98 491.17a2.7 2.7 0 1 0 5.4 0a2.7 2.7 0 1 0 -5.4 0M1195.98 491.17a2.7 2.7 0 1 0 5.4 0a2.7 2.7 0 1 0 -5.4 0M1195.98 492.2a2.7 2.7 0 1 0 5.4 0a2.7 2.7 0 1 0 -5.4 0M1195.98 492.2a2.7 2.7 0 1 0 5.4 0a2.7 2.7 0 1 0 -5.4 0M1195.98 493.53a2.7 2.7 0 1 0 5.4 0a2.7 2.7 0 1 0 -5.4 0M1195.98 493.53a2.7 2.7 0 1 0 5.4 0a2.7 2.7 0 1 0 -5.4 0M1195.98 493.72a2.7 2.7 0 1 0 5.4 0a2.7 2.7 0 1 0 -5.4 0M1195.98 493.72a2.7 2.7 0 1 0 5.4 0a2.7 2.7 0 1 0 -5.4 0M1195.98 494.95a2.7 2.7 0 1 0 5.4 0a2.7 2.7 0 1 0 -5.4 0M1195.98 494.95a2.7 2.7 0 1 0 5.4 0a2.7 2.7 0 1 0 -5.4 0M1195.98 495.94a2.7 2.7 0 1 0 5.4 0a2.7 2.7 0 1 0 -5.4 0M1195.98 495.94a2.7 2.7 0 1 0 5.4 0a2.7 2.7 0 1 0 -5.4 0M1195.98 497.15a2.7 2.7 0 1 0 5.4 0a2.7 2.7 0 1 0 -5.4 0M1195.98 497.15a2.7 2.7 0 1 0 5.4 0a2.7 2.7 0 1 0 -5.4 0M1195.98 497.99a2.7 2.7 0 1 0 5.4 0a2.7 2.7 0 1 0 -5.4 0M1195.98 497.99a2.7 2.7 0 1 0 5.4 0a2.7 2.7 0 1 0 -5.4 0M1195.98 498.93a2.7 2.7 0 1 0 5.4 0a2.7 2.7 0 1 0 -5.4 0M1195.98 498.93a2.7 2.7 0 1 0 5.4 0a2.7 2.7 0 1 0 -5.4 0M1195.98 499.3a2.7 2.7 0 1 0 5.4 0a2.7 2.7 0 1 0 -5.4 0M1195.98 499.3a2.7 2.7 0 1 0 5.4 0a2.7 2.7 0 1 0 -5.4 0M1195.98 500.32a2.7 2.7 0 1 0 5.4 0a2.7 2.7 0 1 0 -5.4 0M1195.98 500.32a2.7 2.7 0 1 0 5.4 0a2.7 2.7 0 1 0 -5.4 0M1195.98 501.17a2.7 2.7 0 1 0 5.4 0a2.7 2.7 0 1 0 -5.4 0M1195.98 501.17a2.7 2.7 0 1 0 5.4 0a2.7 2.7 0 1 0 -5.4 0M1195.98 502.55a2.7 2.7 0 1 0 5.4 0a2.7 2.7 0 1 0 -5.4 0M1195.98 502.55a2.7 2.7 0 1 0 5.4 0a2.7 2.7 0 1 0 -5.4 0M1195.98 503.51a2.7 2.7 0 1 0 5.4 0a2.7 2.7 0 1 0 -5.4 0M1195.98 503.51a2.7 2.7 0 1 0 5.4 0a2.7 2.7 0 1 0 -5.4 0M1195.98 503.69a2.7 2.7 0 1 0 5.4 0a2.7 2.7 0 1 0 -5.4 0M1195.98 503.69a2.7 2.7 0 1 0 5.4 0a2.7 2.7 0 1 0 -5.4 0M1195.98 504.61a2.7 2.7 0 1 0 5.4 0a2.7 2.7 0 1 0 -5.4 0M1195.98 504.61a2.7 2.7 0 1 0 5.4 0a2.7 2.7 0 1 0 -5.4 0M1195.98 505.56a2.7 2.7 0 1 0 5.4 0a2.7 2.7 0 1 0 -5.4 0M1195.98 505.56a2.7 2.7 0 1 0 5.4 0a2.7 2.7 0 1 0 -5.4 0M1195.98 506.46a2.7 2.7 0 1 0 5.4 0a2.7 2.7 0 1 0 -5.4 0M1195.98 506.46a2.7 2.7 0 1 0 5.4 0a2.7 2.7 0 1 0 -5.4 0M1195.98 507.59a2.7 2.7 0 1 0 5.4 0a2.7 2.7 0 1 0 -5.4 0M1195.98 507.59a2.7 2.7 0 1 0 5.4 0a2.7 2.7 0 1 0 -5.4 0M1195.98 508.58a2.7 2.7 0 1 0 5.4 0a2.7 2.7 0 1 0 -5.4 0M1195.98 508.58a2.7 2.7 0 1 0 5.4 0a2.7 2.7 0 1 0 -5.4 0M1195.98 509.19a2.7 2.7 0 1 0 5.4 0a2.7 2.7 0 1 0 -5.4 0M1195.98 509.19a2.7 2.7 0 1 0 5.4 0a2.7 2.7 0 1 0 -5.4 0M1195.98 509.85a2.7 2.7 0 1 0 5.4 0a2.7 2.7 0 1 0 -5.4 0M1195.98 509.85a2.7 2.7 0 1 0 5.4 0a2.7 2.7 0 1 0 -5.4 0" stroke="#000" stroke-width="0.75" fill="none"/>
<path d="M1225.81 535.44V521.29M1225.81 545.47V559.05" stroke="#000" stroke-width="0.75" stroke-dasharray="3 3" stroke-linecap="round" fill="none"/>
<path d="M1220.38 521.29h10.85M1220.38 559.05h10.85" stroke="#000" stroke-width="0.75" fill="none"/>
<rect x="1214.96" y="535.44" width="21.7" height="10.03" fill="#d3d3d3" stroke="#000" stroke-width="0.75"/>
<path d="M1214.96 540.57h21.7" stroke="#000" stroke-width="2.25" fill="none"/>
<path d="M1223.11 291.61a2.7 2.7 0 1 0 5.4 0a2.7 2.7 0 1 0 -5.4 0M1223.11 295.4a2.7 2.7 0 1 0 5.4 0a2.7 2.7 0 1 0 -5.4 0M1223.11 314.82a2.7 2.7 0 1 0 5.4 0a2.7 2.7 0 1 0 -5.4 0M1223.11 344.29a2.7 2.7 0 1 0 5.4 0a2.7 2.7 0 1 0 -5.4 0M1223.11 368.84a2.7 2.7 0 1 0 5.4 0a2.7 2.7 0 1 0 -5.4 0M1223.11 377.1a2.7 2.7 0 1 0 5.4 0a2.7 2.7 0 1 0 -5.4 0M1223.11 370a2.7 2.7 0 1 0 5.4 0a2.7 2.7 0 1 0 -5.4 0M1223.11 377.37a2.7 2.7 0 1 0 5.4 0a2.7 2.7 0 1 0 -5.4 0M1223.11 381.83a2.7 2.7 0 1 0 5.4 0a2.7 2.7 0 1 0 -5.4 0M1223.11 381.83a2.7 2.7 0 1 0 5.4 0a2.7 2.7 0 1 0 -5.4 0M1223.11 381.83a2.7 2.7 0 1 0 5.4 0a2.7 2.7 0 1 0 -5.4 0M1223.11 381.83a2.7 2.7 0 1 0 5.4 0a2.7 2.7 0 1 0 -5.4 0M1223.11 381.83a2.7 2.7 0 1 0 5.4 0a2.7 2.7 0 1 0 -5.4 0M1223.11 381.83a2.7 2.7 0 1 0 5.4 0a2.7 2.7 0 1 0 -5.4 0M1223.11 396.79a2.7 2.7 0 1 0 5.4 0a2.7 2.7 0 1 0 -5.4 0M1223.11 398.57a2.7 2.7 0 1 0 5.4 0a2.7 2.7 0 1 0 -5.4 0M1223.11 400.13a2.7 2.7 0 1 0 5.4 0a2.7 2.7 0 1 0 -5.4 0M1223.11 405.27a2.7 2.7 0 1 0 5.4 0a2.7 2.7 0 1 0 -5.4 0M1223.11 412.86a2.7 2.7 0 1 0 5.4 0a2.7 2.7 0 1 0 -5.4 0M1223.11 419.55a2.7 2.7 0 1 0 5.4 0a2.7 2.7 0 1 0 -5.4 0M1223.11 430.71a2.7 2.7 0 1 0 5.4 0a2.7 2.7 0 1 0 -5.4 0M1223.11 434.96a2.7 2.7 0 1 0 5.4 0a2.7 2.7 0 1 0 -5.4 0M1223.11 434.96a2.7 2.7 0 1 0 5.4 0a2.7 2.7 0 1 0 -5.4 0M1223.11 434.96a2.7 2.7 0 1 0 5.4 0a2.7 2.7 0 1 0 -5.4 0M1223.11 434.96a2.7 2.7 0 1 0 5.4 0a2.7 2.7 0 1 0 -5.4 0M1223.11 434.96a2.7 2.7 0 1 0 5.4 0a2.7 2.7 0 1 0 -5.4 0M1223.11 434.96a2.7 2.7 0 1 0 5.4 0a2.7 2.7 0 1 0 -5.4 0M1223.11 440.98a2.7 2.7 0 1 0 5.4 0a2.7 2.7 0 1 0 -5.4 0M1223.11 440.98a2.7 2.7 0 1 0 5.4 0a2.7 2.7 0 1 0 -5.4 0M1223.11 440.98a2.7 2.7 0 1 0 5.4 0a2.7 2.7 0 1 0 -5.4 0M1223.11 440.98a2.7 2.7 0 1 0 5.4 0a2.7 2.7 0 1 0 -5.4 0M1223.11 440.98a2.7 2.7 0 1 0 5.4 0a2.7 2.7 0 1 0 -5.4 0M1223.11 440.98a2.7 2.7 0 1 0 5.4 0a2.7 2.7 0 1 0 -5.4 0M1223.11 451.47a2.7 2.7 0 1 0 5.4 0a2.7 2.7 0 1 0 -5.4 0M1223.11 451.47a2.7 2.7 0 1 0 5.4 0a2.7 2.7 0 1 0 -5.4 0M1223.11 451.47a2.7 2.7 0 1 0 5.4 0a2.7 2.7 0 1 0 -5.4 0M1223.11 451.47a2.7 2.7 0 1 0 5.4 0a2.7 2.7 0 1 0 -5.4 0M1223.11 451.47a2.7 2.7 0 1 0 5.4 0a2.7 2.7 0 1 0 -5.4 0M1223.11 451.47a2.7 2.7 0 1 0 5.4 0a2.7 2.7 0 1 0 -5.4 0M1223.11 457.05a2.7 2.7 0 1 0 5.4 0a2.7 2.7 0 1 0 -5.4 0M1223.11 459.29a2.7 2.7 0 1 0 5.4 0a2.7 2.7 0 1 0 -5.4 0M1223.11 461.96a2.7 2.7 0 1 0 5.4 0a2.7 2.7 0 1 0 -5.4 0M1223.11 464.87a2.7 2.7 0 1 0 5.4 0a2.7 2.7 0 1 0 -5.4 0M1223.11 467.1a2.7 2.7 0 1 0 5.4 0a2.7 2.7 0 1 0 -5.4 0M1223.11 469.33a2.7 2.7 0 1 0 5.4 0a2.7 2.7 0 1 0 -5.4 0M1223.11 559.11a2.7 2.7 0 1 0 5.4 0a2.7 2.7 0 1 0 -5.4 0M1223.11 561.56a2.7 2.7 0 1 0 5.4 0a2.7 2.7 0 1 0 -5.4 0M1223.11 563.79a2.7 2.7 0 1 0 5.4 0a2.7 2.7 0 1 0 -5.4 0M1223.11 567.14a2.7 2.7 0 1 0 5.4 0a2.7 2.7 0 1 0 -5.4 0M1223.11 567.14a2.7 2.7 0 1 0 5.4 0a2.7 2.7 0 1 0 -5.4 0M1223.11 567.14a2.7 2.7 0 1 0 5.4 0a2.7 2.7 0 1 0 -5.4 0M1223.11 567.14a2.7 2.7 0 1 0 5.4 0a2.7 2.7 0 1 0 -5.4 0M1223.11 567.14a2.7 2.7 0 1 0 5.4 0a2.7 2.7 0 1 0 -5.4 0M1223.11 567.14a2.7 2.7 0 1 0 5.4 0a2.7 2.7 0 1 0 -5.4 0M1223.11 460.88a2.7 2.7 0 1 0 5.4 0a2.7 2.7 0 1 0 -5.4 0M1223.11 462.3a2.7 2.7 0 1 0 5.4 0a2.7 2.7 0 1 0 -5.4 0M1223.11 464.1a2.7 2.7 0 1 0 5.4 0a2.7 2.7 0 1 0 -5.4 0M1223.11 466.18a2.7 2.7 0 1 0 5.4 0a2.7 2.7 0 1 0 -5.4 0M1223.11 467.29a2.7 2.7 0 1 0 5.4 0a2.7 2.7 0 1 0 -5.4 0M1223.11 468.52a2.7 2.7 0 1 0 5.4 0a2.7 2.7 0 1 0 -5.4 0M1223.11 470.18a2.7 2.7 0 1 0 5.4 0a2.7 2.7 0 1 0 -5.4 0M1223.11 471.76a2.7 2.7 0 1 0 5.4 0a2.7 2.7 0 1 0 -5.4 0M1223.11 472.33a2.7 2.7 0 1 0 5.4 0a2.7 2.7 0 1 0 -5.4 0M1223.11 475.1a2.7 2.7 0 1 0 5.4 0a2.7 2.7 0 1 0 -5.4 0M1223.11 476.42a2.7 2.7 0 1 0 5.4 0a2.7 2.7 0 1 0 -5.4 0M1223.11 478.06a2.7 2.7 0 1 0 5.4 0a2.7 2.7 0 1 0 -5.4 0M1223.11 479.45a2.7 2.7 0 1 0 5.4 0a2.7 2.7 0 1 0 -5.4 0M1223.11 480.34a2.7 2.7 0 1 0 5.4 0a2.7 2.7 0 1 0 -5.4 0M1223.11 481.85a2.7 2.7 0 1 0 5.4 0a2.7 2.7 0 1 0 -5.4 0M1223.11 482.91a2.7 2.7 0 1 0 5.4 0a2.7 2.7 0 1 0 -5.4 0M1223.11 485.2a2.7 2.7 0 1 0 5.4 0a2.7 2.7 0 1 0 -5.4 0M1223.11 485.84a2.7 2.7 0 1 0 5.4 0a2.7 2.7 0 1 0 -5.4 0M1223.11 487.35a2.7 2.7 0 1 0 5.4 0a2.7 2.7 0 1 0 -5.4 0M1223.11 489.06a2.7 2.7 0 1 0 5.4 0a2.7 2.7 0 1 0 -5.4 0M1223.11 490.7a2.7 2.7 0 1 0 5.4 0a2.7 2.7 0 1 0 -5.4 0M1223.11 490.7a2.7 2.7 0 1 0 5.4 0a2.7 2.7 0 1 0 -5.4 0M1223.11 491.76a2.7 2.7 0 1 0 5.4 0a2.7 2.7 0 1 0 -5.4 0M1223.11 491.76a2.7 2.7 0 1 0 5.4 0a2.7 2.7 0 1 0 -5.4 0M1223.11 492.4a2.7 2.7 0 1 0 5.4 0a2.7 2.7 0 1 0 -5.4 0M1223.11 492.4a2.7 2.7 0 1 0 5.4 0a2.7 2.7 0 1 0 -5.4 0M1223.11 493.25a2.7 2.7 0 1 0 5.4 0a2.7 2.7 0 1 0 -5.4 0M1223.11 493.25a2.7 2.7 0 1 0 5.4 0a2.7 2.7 0 1 0 -5.4 0M1223.11 494.29a2.7 2.7 0 1 0 5.4 0a2.7 2.7 0 1 0 -5.4 0M1223.11 494.29a2.7 2.7 0 1 0 5.4 0a2.7 2.7 0 1 0 -5.4 0M1223.11 495.14a2.7 2.7 0 1 0 5.4 0a2.7 2.7 0 1 0 -5.4 0M1223.11 495.14a2.7 2.7 0 1 0 5.4 0a2.7 2.7 0 1 0 -5.4 0M1223.11 496.28a2.7 2.7 0 1 0 5.4 0a2.7 2.7 0 1 0 -5.4 0M1223.11 496.28a2.7 2.7 0 1 0 5.4 0a2.7 2.7 0 1 0 -5.4 0M1223.11 496.87a2.7 2.7 0 1 0 5.4 0a2.7 2.7 0 1 0 -5.4 0M1223.11 496.87a2.7 2.7 0 1 0 5.4 0a2.7 2.7 0 1 0 -5.4 0M1223.11 498.54a2.7 2.7 0 1 0 5.4 0a2.7 2.7 0 1 0 -5.4 0M1223.11 498.54a2.7 2.7 0 1 0 5.4 0a2.7 2.7 0 1 0 -5.4 0M1223.11 499.2a2.7 2.7 0 1 0 5.4 0a2.7 2.7 0 1 0 -5.4 0M1223.11 499.2a2.7 2.7 0 1 0 5.4 0a2.7 2.7 0 1 0 -5.4 0M1223.11 499.68a2.7 2.7 0 1 0 5.4 0a2.7 2.7 0 1 0 -5.4 0M1223.11 499.68a2.7 2.7 0 1 0 5.4 0a2.7 2.7 0 1 0 -5.4 0M1223.11 500.68a2.7 2.7 0 1 0 5.4 0a2.7 2.7 0 1 0 -5.4 0M1223.11 500.68a2.7 2.7 0 1 0 5.4 0a2.7 2.7 0 1 0 -5.4 0M1223.11 501.66a2.7 2.7 0 1 0 5.4 0a2.7 2.7 0 1 0 -5.4 0M1223.11 501.66a2.7 2.7 0 1 0 5.4 0a2.7 2.7 0 1 0 -5.4 0M1223.11 502.58a2.7 2.7 0 1 0 5.4 0a2.7 2.7 0 1 0 -5.4 0M1223.11 502.58a2.7 2.7 0 1 0 5.4 0a2.7 2.7 0 1 0 -5.4 0M1223.11 503.26a2.7 2.7 0 1 0 5.4 0a2.7 2.7 0 1 0 -5.4 0M1223.11 503.26a2.7 2.7 0 1 0 5.4 0a2.7 2.7 0 1 0 -5.4 0M1223.11 504.81a2.7 2.7 0 1 0 5.4 0a2.7 2.7 0 1 0 -5.4 0M1223.11 504.81a2.7 2.7 0 1 0 5.4 0a2.7 2.7 0 1 0 -5.4 0M1223.11 505.84a2.7 2.7 0 1 0 5.4 0a2.7 2.7 0 1 0 -5.4 0M1223.11 505.84a2.7 2.7 0 1 0 5.4 0a2.7 2.7 0 1 0 -5.4 0M1223.11 506.27a2.7 2.7 0 1 0 5.4 0a2.7 2.7 0 1 0 -5.4 0M1223.11 506.27a2.7 2.7 0 1 0 5.4 0a2.7 2.7 0 1 0 -5.4 0M1223.11 507.19a2.7 2.7 0 1 0 5.4 0a2.7 2.7 0 1 0 -5.4 0M1223.11 507.19a2.7 2.7 0 1 0 5.4 0a2.7 2.7 0 1 0 -5.4 0M1223.11 507.73a2.7 2.7 0 1 0 5.4 0a2.7 2.7 0 1 0 -5.4 0M1223.11 507.73a2.7 2.7 0 1 0 5.4 0a2.7 2.7 0 1 0 -5.4 0M1223.11 508.64a2.7 2.7 0 1 0 5.4 0a2.7 2.7 0 1 0 -5.4 0M1223.11 508.64a2.7 2.7 0 1 0 5.4 0a2.7 2.7 0 1 0 -5.4 0M1223.11 509.76a2.7 2.7 0 1 0 5.4 0a2.7 2.7 0 1 0 -5.4 0M1223.11 509.76a2.7 2.7 0 1 0 5.4 0a2.7 2.7 0 1 0 -5.4 0M1223.11 510.59a2.7 2.7 0 1 0 5.4 0a2.7 2.7 0 1 0 -5.4 0M1223.11 510.59a2.7 2.7 0 1 0 5.4 0a2.7 2.7 0 1 0 -5.4 0M1223.11 512a2.7 2.7 0 1 0 5.4 0a2.7 2.7 0 1 0 -5.4 0M1223.11 512a2.7 2.7 0 1 0 5.4 0a2.7 2.7 0 1 0 -5.4 0M1223.11 512.3a2.7 2.7 0 1 0 5.4 0a2.7 2.7 0 1 0 -5.4 0M1223.11 512.3a2.7 2.7 0 1 0 5.4 0a2.7 2.7 0 1 0 -5.4 0M1223.11 513.07a2.7 2.7 0 1 0 5.4 0a2.7 2.7 0 1 0 -5.4 0M1223.11 513.07a2.7 2.7 0 1 0 5.4 0a2.7 2.7 0 1 0 -5.4 0M1223.11 514.81a2.7 2.7 0 1 0 5.4 0a2.7 2.7 0 1 0 -5.4 0M1223.11 514.81a2.7 2.7 0 1 0 5.4 0a2.7 2.7 0 1 0 -5.4 0M1223.11 515.33a2.7 2.7 0 1 0 5.4 0a2.7 2.7 0 1 0 -5.4 0M1223.11 515.33a2.7 2.7 0 1 0 5.4 0a2.7 2.7 0 1 0 -5.4 0M1223.11 515.88a2.7 2.7 0 1 0 5.4 0a2.7 2.7 0 1 0 -5.4 0M1223.11 515.88a2.7 2.7 0 1 0 5.4 0a2.7 2.7 0 1 0 -5.4 0M1223.11 517.14a2.7 2.7 0 1 0 5.4 0a2.7 2.7 0 1 0 -5.4 0M1223.11 517.14a2.7 2.7 0 1 0 5.4 0a2.7 2.7 0 1 0 -5.4 0M1223.11 517.57a2.7 2.7 0 1 0 5.4 0a2.7 2.7 0 1 0 -5.4 0M1223.11 517.57a2.7 2.7 0 1 0 5.4 0a2.7 2.7 0 1 0 -5.4 0M1223.11 518.93a2.7 2.7 0 1 0 5.4 0a2.7 2.7 0 1 0 -5.4 0M1223.11 518.93a2.7 2.7 0 1 0 5.4 0a2.7 2.7 0 1 0 -5.4 0M1223.11 520.23a2.7 2.7 0 1 0 5.4 0a2.7 2.7 0 1 0 -5.4 0M1223.11 520.23a2.7 2.7 0 1 0 5.4 0a2.7 2.7 0 1 0 -5.4 0" stroke="#000" stroke-width="0.75" fill="none"/>
<path d="M1252.94 534.97V525.17M1252.94 542.55V553.05" stroke="#000" stroke-width="0.75" stroke-dasharray="3 3" stroke-linecap="round" fill="none"/>
<path d="M1247.51 525.17h10.85M1247.51 553.05h10.85" stroke="#000" stroke-width="0.75" fill="none"/>
<rect x="1242.09" y="534.97" width="21.7" height="7.58" fill="#d3d3d3" stroke="#000" stroke-width="0.75"/>
<path d="M1242.09 538.76h21.7" stroke="#000" stroke-width="2.25" fill="none"/>
<path d="M1250.24 271.29a2.7 2.7 0 1 0 5.4 0a2.7 2.7 0 1 0 -5.4 0M1250.24 305.45a2.7 2.7 0 1 0 5.4 0a2.7 2.7 0 1 0 -5.4 0M1250.24 372.41a2.7 2.7 0 1 0 5.4 0a2.7 2.7 0 1 0 -5.4 0M1250.24 372.68a2.7 2.7 0 1 0 5.4 0a2.7 2.7 0 1 0 -5.4 0M1250.24 383.84a2.7 2.7 0 1 0 5.4 0a2.7 2.7 0 1 0 -5.4 0M1250.24 398.12a2.7 2.7 0 1 0 5.4 0a2.7 2.7 0 1 0 -5.4 0M1250.24 405.27a2.7 2.7 0 1 0 5.4 0a2.7 2.7 0 1 0 -5.4 0M1250.24 410.18a2.7 2.7 0 1 0 5.4 0a2.7 2.7 0 1 0 -5.4 0M1250.24 412.41a2.7 2.7 0 1 0 5.4 0a2.7 2.7 0 1 0 -5.4 0M1250.24 440.98a2.7 2.7 0 1 0 5.4 0a2.7 2.7 0 1 0 -5.4 0M1250.24 443.21a2.7 2.7 0 1 0 5.4 0a2.7 2.7 0 1 0 -5.4 0M1250.24 451.47a2.7 2.7 0 1 0 5.4 0a2.7 2.7 0 1 0 -5.4 0M1250.24 451.47a2.7 2.7 0 1 0 5.4 0a2.7 2.7 0 1 0 -5.4 0M1250.24 451.47a2.7 2.7 0 1 0 5.4 0a2.7 2.7 0 1 0 -5.4 0M1250.24 451.47a2.7 2.7 0 1 0 5.4 0a2.7 2.7 0 1 0 -5.4 0M1250.24 451.47a2.7 2.7 0 1 0 5.4 0a2.7 2.7 0 1 0 -5.4 0M1250.24 451.47a2.7 2.7 0 1 0 5.4 0a2.7 2.7 0 1 0 -5.4 0M1250.24 455.94a2.7 2.7 0 1 0 5.4 0a2.7 2.7 0 1 0 -5.4 0M1250.24 459.29a2.7 2.7 0 1 0 5.4 0a2.7 2.7 0 1 0 -5.4 0M1250.24 464.87a2.7 2.7 0 1 0 5.4 0a2.7 2.7 0 1 0 -5.4 0M1250.24 468.21a2.7 2.7 0 1 0 5.4 0a2.7 2.7 0 1 0 -5.4 0M1250.24 462.23a2.7 2.7 0 1 0 5.4 0a2.7 2.7 0 1 0 -5.4 0M1250.24 465.58a2.7 2.7 0 1 0 5.4 0a2.7 2.7 0 1 0 -5.4 0M1250.24 470.04a2.7 2.7 0 1 0 5.4 0a2.7 2.7 0 1 0 -5.4 0M1250.24 474.51a2.7 2.7 0 1 0 5.4 0a2.7 2.7 0 1 0 -5.4 0M1250.24 478.97a2.7 2.7 0 1 0 5.4 0a2.7 2.7 0 1 0 -5.4 0M1250.24 482.32a2.7 2.7 0 1 0 5.4 0a2.7 2.7 0 1 0 -5.4 0M1250.24 487.9a2.7 2.7 0 1 0 5.4 0a2.7 2.7 0 1 0 -5.4 0M1250.24 567.14a2.7 2.7 0 1 0 5.4 0a2.7 2.7 0 1 0 -5.4 0M1250.24 567.14a2.7 2.7 0 1 0 5.4 0a2.7 2.7 0 1 0 -5.4 0M1250.24 567.14a2.7 2.7 0 1 0 5.4 0a2.7 2.7 0 1 0 -5.4 0M1250.24 567.14a2.7 2.7 0 1 0 5.4 0a2.7 2.7 0 1 0 -5.4 0M1250.24 567.14a2.7 2.7 0 1 0 5.4 0a2.7 2.7 0 1 0 -5.4 0M1250.24 567.14a2.7 2.7 0 1 0 5.4 0a2.7 2.7 0 1 0 -5.4 0M1250.24 493.51a2.7 2.7 0 1 0 5.4 0a2.7 2.7 0 1 0 -5.4 0M1250.24 494.67a2.7 2.7 0 1 0 5.4 0a2.7 2.7 0 1 0 -5.4 0M1250.24 495.47a2.7 2.7 0 1 0 5.4 0a2.7 2.7 0 1 0 -5.4 0M1250.24 497.01a2.7 2.7 0 1 0 5.4 0a2.7 2.7 0 1 0 -5.4 0M1250.24 498.13a2.7 2.7 0 1 0 5.4 0a2.7 2.7 0 1 0 -5.4 0M1250.24 500.38a2.7 2.7 0 1 0 5.4 0a2.7 2.7 0 1 0 -5.4 0M1250.24 501.45a2.7 2.7 0 1 0 5.4 0a2.7 2.7 0 1 0 -5.4 0M1250.24 503.19a2.7 2.7 0 1 0 5.4 0a2.7 2.7 0 1 0 -5.4 0M1250.24 503.96a2.7 2.7 0 1 0 5.4 0a2.7 2.7 0 1 0 -5.4 0M1250.24 504.75a2.7 2.7 0 1 0 5.4 0a2.7 2.7 0 1 0 -5.4 0M1250.24 504.75a2.7 2.7 0 1 0 5.4 0a2.7 2.7 0 1 0 -5.4 0M1250.24 506.18a2.7 2.7 0 1 0 5.4 0a2.7 2.7 0 1 0 -5.4 0M1250.24 506.18a2.7 2.7 0 1 0 5.4 0a2.7 2.7 0 1 0 -5.4 0M1250.24 507.24a2.7 2.7 0 1 0 5.4 0a2.7 2.7 0 1 0 -5.4 0M1250.24 507.24a2.7 2.7 0 1 0 5.4 0a2.7 2.7 0 1 0 -5.4 0M1250.24 508.02a2.7 2.7 0 1 0 5.4 0a2.7 2.7 0 1 0 -5.4 0M1250.24 508.02a2.7 2.7 0 1 0 5.4 0a2.7 2.7 0 1 0 -5.4 0M1250.24 508.88a2.7 2.7 0 1 0 5.4 0a2.7 2.7 0 1 0 -5.4 0M1250.24 508.88a2.7 2.7 0 1 0 5.4 0a2.7 2.7 0 1 0 -5.4 0M1250.24 509.79a2.7 2.7 0 1 0 5.4 0a2.7 2.7 0 1 0 -5.4 0M1250.24 509.79a2.7 2.7 0 1 0 5.4 0a2.7 2.7 0 1 0 -5.4 0M1250.24 510.62a2.7 2.7 0 1 0 5.4 0a2.7 2.7 0 1 0 -5.4 0M1250.24 510.62a2.7 2.7 0 1 0 5.4 0a2.7 2.7 0 1 0 -5.4 0M1250.24 511.05a2.7 2.7 0 1 0 5.4 0a2.7 2.7 0 1 0 -5.4 0M1250.24 511.05a2.7 2.7 0 1 0 5.4 0a2.7 2.7 0 1 0 -5.4 0M1250.24 512.22a2.7 2.7 0 1 0 5.4 0a2.7 2.7 0 1 0 -5.4 0M1250.24 512.22a2.7 2.7 0 1 0 5.4 0a2.7 2.7 0 1 0 -5.4 0M1250.24 512.97a2.7 2.7 0 1 0 5.4 0a2.7 2.7 0 1 0 -5.4 0M1250.24 512.97a2.7 2.7 0 1 0 5.4 0a2.7 2.7 0 1 0 -5.4 0M1250.24 513.58a2.7 2.7 0 1 0 5.4 0a2.7 2.7 0 1 0 -5.4 0M1250.24 513.58a2.7 2.7 0 1 0 5.4 0a2.7 2.7 0 1 0 -5.4 0M1250.24 514.48a2.7 2.7 0 1 0 5.4 0a2.7 2.7 0 1 0 -5.4 0M1250.24 514.48a2.7 2.7 0 1 0 5.4 0a2.7 2.7 0 1 0 -5.4 0M1250.24 515.6a2.7 2.7 0 1 0 5.4 0a2.7 2.7 0 1 0 -5.4 0M1250.24 515.6a2.7 2.7 0 1 0 5.4 0a2.7 2.7 0 1 0 -5.4 0M1250.24 516.48a2.7 2.7 0 1 0 5.4 0a2.7 2.7 0 1 0 -5.4 0M1250.24 516.48a2.7 2.7 0 1 0 5.4 0a2.7 2.7 0 1 0 -5.4 0M1250.24 517.77a2.7 2.7 0 1 0 5.4 0a2.7 2.7 0 1 0 -5.4 0M1250.24 517.77a2.7 2.7 0 1 0 5.4 0a2.7 2.7 0 1 0 -5.4 0M1250.24 518.91a2.7 2.7 0 1 0 5.4 0a2.7 2.7 0 1 0 -5.4 0M1250.24 518.91a2.7 2.7 0 1 0 5.4 0a2.7 2.7 0 1 0 -5.4 0M1250.24 519.35a2.7 2.7 0 1 0 5.4 0a2.7 2.7 0 1 0 -5.4 0M1250.24 519.35a2.7 2.7 0 1 0 5.4 0a2.7 2.7 0 1 0 -5.4 0M1250.24 520.69a2.7 2.7 0 1 0 5.4 0a2.7 2.7 0 1 0 -5.4 0M1250.24 520.69a2.7 2.7 0 1 0 5.4 0a2.7 2.7 0 1 0 -5.4 0M1250.24 521.64a2.7 2.7 0 1 0 5.4 0a2.7 2.7 0 1 0 -5.4 0M1250.24 521.64a2.7 2.7 0 1 0 5.4 0a2.7 2.7 0 1 0 -5.4 0M1250.24 522.51a2.7 2.7 0 1 0 5.4 0a2.7 2.7 0 1 0 -5.4 0M1250.24 522.51a2.7 2.7 0 1 0 5.4 0a2.7 2.7 0 1 0 -5.4 0M1250.24 522.88a2.7 2.7 0 1 0 5.4 0a2.7 2.7 0 1 0 -5.4 0M1250.24 522.88a2.7 2.7 0 1 0 5.4 0a2.7 2.7 0 1 0 -5.4 0M1250.24 523.65a2.7 2.7 0 1 0 5.4 0a2.7 2.7 0 1 0 -5.4 0M1250.24 523.65a2.7 2.7 0 1 0 5.4 0a2.7 2.7 0 1 0 -5.4 0M1250.24 552.23a2.7 2.7 0 1 0 5.4 0a2.7 2.7 0 1 0 -5.4 0M1250.24 552.23a2.7 2.7 0 1 0 5.4 0a2.7 2.7 0 1 0 -5.4 0M1250.24 553.2a2.7 2.7 0 1 0 5.4 0a2.7 2.7 0 1 0 -5.4 0M1250.24 553.2a2.7 2.7 0 1 0 5.4 0a2.7 2.7 0 1 0 -5.4 0M1250.24 554.2a2.7 2.7 0 1 0 5.4 0a2.7 2.7 0 1 0 -5.4 0M1250.24 554.2a2.7 2.7 0 1 0 5.4 0a2.7 2.7 0 1 0 -5.4 0M1250.24 555.62a2.7 2.7 0 1 0 5.4 0a2.7 2.7 0 1 0 -5.4 0M1250.24 555.62a2.7 2.7 0 1 0 5.4 0a2.7 2.7 0 1 0 -5.4 0M1250.24 556.9a2.7 2.7 0 1 0 5.4 0a2.7 2.7 0 1 0 -5.4 0M1250.24 556.9a2.7 2.7 0 1 0 5.4 0a2.7 2.7 0 1 0 -5.4 0M1250.24 557.84a2.7 2.7 0 1 0 5.4 0a2.7 2.7 0 1 0 -5.4 0M1250.24 557.84a2.7 2.7 0 1 0 5.4 0a2.7 2.7 0 1 0 -5.4 0M1250.24 558.48a2.7 2.7 0 1 0 5.4 0a2.7 2.7 0 1 0 -5.4 0M1250.24 558.48a2.7 2.7 0 1 0 5.4 0a2.7 2.7 0 1 0 -5.4 0M1250.24 559.65a2.7 2.7 0 1 0 5.4 0a2.7 2.7 0 1 0 -5.4 0M1250.24 559.65a2.7 2.7 0 1 0 5.4 0a2.7 2.7 0 1 0 -5.4 0" stroke="#000" stroke-width="0.75" fill="none"/>
<path d="M1280.07 520.37V495.87M1280.07 537.47V551.06" stroke="#000" stroke-width="0.75" stroke-dasharray="3 3" stroke-linecap="round" fill="none"/>
<path d="M1274.64 495.87h10.85M1274.64 551.06h10.85" stroke="#000" stroke-width="0.75" fill="none"/>
<rect x="1269.22" y="520.37" width="21.7" height="17.1" fill="#d3d3d3" stroke="#000" stroke-width="0.75"/>
<path d="M1269.22 531.92h21.7" stroke="#000" stroke-width="2.25" fill="none"/>
<path d="M1277.37 141.79a2.7 2.7 0 1 0 5.4 0a2.7 2.7 0 1 0 -5.4 0M1277.37 207.63a2.7 2.7 0 1 0 5.4 0a2.7 2.7 0 1 0 -5.4 0M1277.37 224.6a2.7 2.7 0 1 0 5.4 0a2.7 2.7 0 1 0 -5.4 0M1277.37 224.6a2.7 2.7 0 1 0 5.4 0a2.7 2.7 0 1 0 -5.4 0M1277.37 229.73a2.7 2.7 0 1 0 5.4 0a2.7 2.7 0 1 0 -5.4 0M1277.37 243.39a2.7 2.7 0 1 0 5.4 0a2.7 2.7 0 1 0 -5.4 0M1277.37 245.18a2.7 2.7 0 1 0 5.4 0a2.7 2.7 0 1 0 -5.4 0M1277.37 249.42a2.7 2.7 0 1 0 5.4 0a2.7 2.7 0 1 0 -5.4 0M1277.37 257.01a2.7 2.7 0 1 0 5.4 0a2.7 2.7 0 1 0 -5.4 0M1277.37 263.93a2.7 2.7 0 1 0 5.4 0a2.7 2.7 0 1 0 -5.4 0M1277.37 285.36a2.7 2.7 0 1 0 5.4 0a2.7 2.7 0 1 0 -5.4 0M1277.37 288.48a2.7 2.7 0 1 0 5.4 0a2.7 2.7 0 1 0 -5.4 0M1277.37 291.38a2.7 2.7 0 1 0 5.4 0a2.7 2.7 0 1 0 -5.4 0M1277.37 294.73a2.7 2.7 0 1 0 5.4 0a2.7 2.7 0 1 0 -5.4 0M1277.37 298.08a2.7 2.7 0 1 0 5.4 0a2.7 2.7 0 1 0 -5.4 0M1277.37 301.43a2.7 2.7 0 1 0 5.4 0a2.7 2.7 0 1 0 -5.4 0M1277.37 304.78a2.7 2.7 0 1 0 5.4 0a2.7 2.7 0 1 0 -5.4 0M1277.37 306.34a2.7 2.7 0 1 0 5.4 0a2.7 2.7 0 1 0 -5.4 0M1277.37 308.12a2.7 2.7 0 1 0 5.4 0a2.7 2.7 0 1 0 -5.4 0M1277.37 567.14a2.7 2.7 0 1 0 5.4 0a2.7 2.7 0 1 0 -5.4 0M1277.37 567.14a2.7 2.7 0 1 0 5.4 0a2.7 2.7 0 1 0 -5.4 0M1277.37 316.9a2.7 2.7 0 1 0 5.4 0a2.7 2.7 0 1 0 -5.4 0M1277.37 317.75a2.7 2.7 0 1 0 5.4 0a2.7 2.7 0 1 0 -5.4 0M1277.37 322.48a2.7 2.7 0 1 0 5.4 0a2.7 2.7 0 1 0 -5.4 0M1277.37 326.23a2.7 2.7 0 1 0 5.4 0a2.7 2.7 0 1 0 -5.4 0M1277.37 328.85a2.7 2.7 0 1 0 5.4 0a2.7 2.7 0 1 0 -5.4 0M1277.37 331.75a2.7 2.7 0 1 0 5.4 0a2.7 2.7 0 1 0 -5.4 0M1277.37 333.93a2.7 2.7 0 1 0 5.4 0a2.7 2.7 0 1 0 -5.4 0M1277.37 335.49a2.7 2.7 0 1 0 5.4 0a2.7 2.7 0 1 0 -5.4 0M1277.37 338.06a2.7 2.7 0 1 0 5.4 0a2.7 2.7 0 1 0 -5.4 0M1277.37 338.93a2.7 2.7 0 1 0 5.4 0a2.7 2.7 0 1 0 -5.4 0M1277.37 341.28a2.7 2.7 0 1 0 5.4 0a2.7 2.7 0 1 0 -5.4 0M1277.37 343.15a2.7 2.7 0 1 0 5.4 0a2.7 2.7 0 1 0 -5.4 0M1277.37 343.83a2.7 2.7 0 1 0 5.4 0a2.7 2.7 0 1 0 -5.4 0M1277.37 345.44a2.7 2.7 0 1 0 5.4 0a2.7 2.7 0 1 0 -5.4 0M1277.37 347.91a2.7 2.7 0 1 0 5.4 0a2.7 2.7 0 1 0 -5.4 0M1277.37 349.16a2.7 2.7 0 1 0 5.4 0a2.7 2.7 0 1 0 -5.4 0M1277.37 349.87a2.7 2.7 0 1 0 5.4 0a2.7 2.7 0 1 0 -5.4 0M1277.37 351.4a2.7 2.7 0 1 0 5.4 0a2.7 2.7 0 1 0 -5.4 0M1277.37 353.04a2.7 2.7 0 1 0 5.4 0a2.7 2.7 0 1 0 -5.4 0M1277.37 355.85a2.7 2.7 0 1 0 5.4 0a2.7 2.7 0 1 0 -5.4 0M1277.37 357.28a2.7 2.7 0 1 0 5.4 0a2.7 2.7 0 1 0 -5.4 0M1277.37 357.28a2.7 2.7 0 1 0 5.4 0a2.7 2.7 0 1 0 -5.4 0M1277.37 357.58a2.7 2.7 0 1 0 5.4 0a2.7 2.7 0 1 0 -5.4 0M1277.37 357.58a2.7 2.7 0 1 0 5.4 0a2.7 2.7 0 1 0 -5.4 0M1277.37 359.09a2.7 2.7 0 1 0 5.4 0a2.7 2.7 0 1 0 -5.4 0M1277.37 359.09a2.7 2.7 0 1 0 5.4 0a2.7 2.7 0 1 0 -5.4 0M1277.37 360.13a2.7 2.7 0 1 0 5.4 0a2.7 2.7 0 1 0 -5.4 0M1277.37 360.13a2.7 2.7 0 1 0 5.4 0a2.7 2.7 0 1 0 -5.4 0M1277.37 360.74a2.7 2.7 0 1 0 5.4 0a2.7 2.7 0 1 0 -5.4 0M1277.37 360.74a2.7 2.7 0 1 0 5.4 0a2.7 2.7 0 1 0 -5.4 0M1277.37 361.37a2.7 2.7 0 1 0 5.4 0a2.7 2.7 0 1 0 -5.4 0M1277.37 361.37a2.7 2.7 0 1 0 5.4 0a2.7 2.7 0 1 0 -5.4 0M1277.37 362.44a2.7 2.7 0 1 0 5.4 0a2.7 2.7 0 1 0 -5.4 0M1277.37 362.44a2.7 2.7 0 1 0 5.4 0a2.7 2.7 0 1 0 -5.4 0M1277.37 362.97a2.7 2.7 0 1 0 5.4 0a2.7 2.7 0 1 0 -5.4 0M1277.37 362.97a2.7 2.7 0 1 0 5.4 0a2.7 2.7 0 1 0 -5.4 0M1277.37 363.76a2.7 2.7 0 1 0 5.4 0a2.7 2.7 0 1 0 -5.4 0M1277.37 363.76a2.7 2.7 0 1 0 5.4 0a2.7 2.7 0 1 0 -5.4 0M1277.37 365.52a2.7 2.7 0 1 0 5.4 0a2.7 2.7 0 1 0 -5.4 0M1277.37 365.52a2.7 2.7 0 1 0 5.4 0a2.7 2.7 0 1 0 -5.4 0M1277.37 366.13a2.7 2.7 0 1 0 5.4 0a2.7 2.7 0 1 0 -5.4 0M1277.37 366.13a2.7 2.7 0 1 0 5.4 0a2.7 2.7 0 1 0 -5.4 0M1277.37 366.92a2.7 2.7 0 1 0 5.4 0a2.7 2.7 0 1 0 -5.4 0M1277.37 366.92a2.7 2.7 0 1 0 5.4 0a2.7 2.7 0 1 0 -5.4 0M1277.37 368.19a2.7 2.7 0 1 0 5.4 0a2.7 2.7 0 1 0 -5.4 0M1277.37 368.19a2.7 2.7 0 1 0 5.4 0a2.7 2.7 0 1 0 -5.4 0M1277.37 368.64a2.7 2.7 0 1 0 5.4 0a2.7 2.7 0 1 0 -5.4 0M1277.37 368.64a2.7 2.7 0 1 0 5.4 0a2.7 2.7 0 1 0 -5.4 0M1277.37 369.93a2.7 2.7 0 1 0 5.4 0a2.7 2.7 0 1 0 -5.4 0M1277.37 369.93a2.7 2.7 0 1 0 5.4 0a2.7 2.7 0 1 0 -5.4 0M1277.37 370.79a2.7 2.7 0 1 0 5.4 0a2.7 2.7 0 1 0 -5.4 0M1277.37 370.79a2.7 2.7 0 1 0 5.4 0a2.7 2.7 0 1 0 -5.4 0M1277.37 371.14a2.7 2.7 0 1 0 5.4 0a2.7 2.7 0 1 0 -5.4 0M1277.37 371.14a2.7 2.7 0 1 0 5.4 0a2.7 2.7 0 1 0 -5.4 0M1277.37 372.08a2.7 2.7 0 1 0 5.4 0a2.7 2.7 0 1 0 -5.4 0M1277.37 372.08a2.7 2.7 0 1 0 5.4 0a2.7 2.7 0 1 0 -5.4 0M1277.37 373.01a2.7 2.7 0 1 0 5.4 0a2.7 2.7 0 1 0 -5.4 0M1277.37 373.01a2.7 2.7 0 1 0 5.4 0a2.7 2.7 0 1 0 -5.4 0M1277.37 373.87a2.7 2.7 0 1 0 5.4 0a2.7 2.7 0 1 0 -5.4 0M1277.37 373.87a2.7 2.7 0 1 0 5.4 0a2.7 2.7 0 1 0 -5.4 0M1277.37 375.08a2.7 2.7 0 1 0 5.4 0a2.7 2.7 0 1 0 -5.4 0M1277.37 375.08a2.7 2.7 0 1 0 5.4 0a2.7 2.7 0 1 0 -5.4 0M1277.37 375.68a2.7 2.7 0 1 0 5.4 0a2.7 2.7 0 1 0 -5.4 0M1277.37 375.68a2.7 2.7 0 1 0 5.4 0a2.7 2.7 0 1 0 -5.4 0M1277.37 376.73a2.7 2.7 0 1 0 5.4 0a2.7 2.7 0 1 0 -5.4 0M1277.37 376.73a2.7 2.7 0 1 0 5.4 0a2.7 2.7 0 1 0 -5.4 0M1277.37 377.37a2.7 2.7 0 1 0 5.4 0a2.7 2.7 0 1 0 -5.4 0M1277.37 377.37a2.7 2.7 0 1 0 5.4 0a2.7 2.7 0 1 0 -5.4 0M1277.37 378.97a2.7 2.7 0 1 0 5.4 0a2.7 2.7 0 1 0 -5.4 0M1277.37 378.97a2.7 2.7 0 1 0 5.4 0a2.7 2.7 0 1 0 -5.4 0M1277.37 379.37a2.7 2.7 0 1 0 5.4 0a2.7 2.7 0 1 0 -5.4 0M1277.37 379.37a2.7 2.7 0 1 0 5.4 0a2.7 2.7 0 1 0 -5.4 0M1277.37 380.36a2.7 2.7 0 1 0 5.4 0a2.7 2.7 0 1 0 -5.4 0M1277.37 380.36a2.7 2.7 0 1 0 5.4 0a2.7 2.7 0 1 0 -5.4 0M1277.37 381.38a2.7 2.7 0 1 0 5.4 0a2.7 2.7 0 1 0 -5.4 0M1277.37 381.38a2.7 2.7 0 1 0 5.4 0a2.7 2.7 0 1 0 -5.4 0M1277.37 382.56a2.7 2.7 0 1 0 5.4 0a2.7 2.7 0 1 0 -5.4 0M1277.37 382.56a2.7 2.7 0 1 0 5.4 0a2.7 2.7 0 1 0 -5.4 0M1277.37 383.03a2.7 2.7 0 1 0 5.4 0a2.7 2.7 0 1 0 -5.4 0M1277.37 383.03a2.7 2.7 0 1 0 5.4 0a2.7 2.7 0 1 0 -5.4 0M1277.37 384.38a2.7 2.7 0 1 0 5.4 0a2.7 2.7 0 1 0 -5.4 0M1277.37 384.38a2.7 2.7 0 1 0 5.4 0a2.7 2.7 0 1 0 -5.4 0M1277.37 384.9a2.7 2.7 0 1 0 5.4 0a2.7 2.7 0 1 0 -5.4 0M1277.37 384.9a2.7 2.7 0 1 0 5.4 0a2.7 2.7 0 1 0 -5.4 0M1277.37 385.83a2.7 2.7 0 1 0 5.4 0a2.7 2.7 0 1 0 -5.4 0M1277.37 385.83a2.7 2.7 0 1 0 5.4 0a2.7 2.7 0 1 0 -5.4 0M1277.37 386.72a2.7 2.7 0 1 0 5.4 0a2.7 2.7 0 1 0 -5.4 0M1277.37 386.72a2.7 2.7 0 1 0 5.4 0a2.7 2.7 0 1 0 -5.4 0M1277.37 387.17a2.7 2.7 0 1 0 5.4 0a2.7 2.7 0 1 0 -5.4 0M1277.37 387.17a2.7 2.7 0 1 0 5.4 0a2.7 2.7 0 1 0 -5.4 0M1277.37 388.45a2.7 2.7 0 1 0 5.4 0a2.7 2.7 0 1 0 -5.4 0M1277.37 388.45a2.7 2.7 0 1 0 5.4 0a2.7 2.7 0 1 0 -5.4 0M1277.37 389.11a2.7 2.7 0 1 0 5.4 0a2.7 2.7 0 1 0 -5.4 0M1277.37 389.11a2.7 2.7 0 1 0 5.4 0a2.7 2.7 0 1 0 -5.4 0M1277.37 389.85a2.7 2.7 0 1 0 5.4 0a2.7 2.7 0 1 0 -5.4 0M1277.37 389.85a2.7 2.7 0 1 0 5.4 0a2.7 2.7 0 1 0 -5.4 0M1277.37 391.47a2.7 2.7 0 1 0 5.4 0a2.7 2.7 0 1 0 -5.4 0M1277.37 391.47a2.7 2.7 0 1 0 5.4 0a2.7 2.7 0 1 0 -5.4 0M1277.37 391.81a2.7 2.7 0 1 0 5.4 0a2.7 2.7 0 1 0 -5.4 0M1277.37 391.81a2.7 2.7 0 1 0 5.4 0a2.7 2.7 0 1 0 -5.4 0M1277.37 392.98a2.7 2.7 0 1 0 5.4 0a2.7 2.7 0 1 0 -5.4 0M1277.37 392.98a2.7 2.7 0 1 0 5.4 0a2.7 2.7 0 1 0 -5.4 0M1277.37 394.1a2.7 2.7 0 1 0 5.4 0a2.7 2.7 0 1 0 -5.4 0M1277.37 394.1a2.7 2.7 0 1 0 5.4 0a2.7 2.7 0 1 0 -5.4 0M1277.37 394.85a2.7 2.7 0 1 0 5.4 0a2.7 2.7 0 1 0 -5.4 0M1277.37 394.85a2.7 2.7 0 1 0 5.4 0a2.7 2.7 0 1 0 -5.4 0M1277.37 395.54a2.7 2.7 0 1 0 5.4 0a2.7 2.7 0 1 0 -5.4 0M1277.37 395.54a2.7 2.7 0 1 0 5.4 0a2.7 2.7 0 1 0 -5.4 0M1277.37 396.62a2.7 2.7 0 1 0 5.4 0a2.7 2.7 0 1 0 -5.4 0M1277.37 396.62a2.7 2.7 0 1 0 5.4 0a2.7 2.7 0 1 0 -5.4 0M1277.37 397.55a2.7 2.7 0 1 0 5.4 0a2.7 2.7 0 1 0 -5.4 0M1277.37 397.55a2.7 2.7 0 1 0 5.4 0a2.7 2.7 0 1 0 -5.4 0M1277.37 398.66a2.7 2.7 0 1 0 5.4 0a2.7 2.7 0 1 0 -5.4 0M1277.37 398.66a2.7 2.7 0 1 0 5.4 0a2.7 2.7 0 1 0 -5.4 0M1277.37 398.95a2.7 2.7 0 1 0 5.4 0a2.7 2.7 0 1 0 -5.4 0M1277.37 398.95a2.7 2.7 0 1 0 5.4 0a2.7 2.7 0 1 0 -5.4 0M1277.37 400.04a2.7 2.7 0 1 0 5.4 0a2.7 2.7 0 1 0 -5.4 0M1277.37 400.04a2.7 2.7 0 1 0 5.4 0a2.7 2.7 0 1 0 -5.4 0M1277.37 400.45a2.7 2.7 0 1 0 5.4 0a2.7 2.7 0 1 0 -5.4 0M1277.37 400.45a2.7 2.7 0 1 0 5.4 0a2.7 2.7 0 1 0 -5.4 0M1277.37 401.07a2.7 2.7 0 1 0 5.4 0a2.7 2.7 0 1 0 -5.4 0M1277.37 401.07a2.7 2.7 0 1 0 5.4 0a2.7 2.7 0 1 0 -5.4 0M1277.37 401.96a2.7 2.7 0 1 0 5.4 0a2.7 2.7 0 1 0 -5.4 0M1277.37 401.96a2.7 2.7 0 1 0 5.4 0a2.7 2.7 0 1 0 -5.4 0M1277.37 402.4a2.7 2.7 0 1 0 5.4 0a2.7 2.7 0 1 0 -5.4 0M1277.37 402.4a2.7 2.7 0 1 0 5.4 0a2.7 2.7 0 1 0 -5.4 0M1277.37 403.04a2.7 2.7 0 1 0 5.4 0a2.7 2.7 0 1 0 -5.4 0M1277.37 403.04a2.7 2.7 0 1 0 5.4 0a2.7 2.7 0 1 0 -5.4 0M1277.37 403.76a2.7 2.7 0 1 0 5.4 0a2.7 2.7 0 1 0 -5.4 0M1277.37 403.76a2.7 2.7 0 1 0 5.4 0a2.7 2.7 0 1 0 -5.4 0M1277.37 404.45a2.7 2.7 0 1 0 5.4 0a2.7 2.7 0 1 0 -5.4 0M1277.37 404.45a2.7 2.7 0 1 0 5.4 0a2.7 2.7 0 1 0 -5.4 0M1277.37 404.77a2.7 2.7 0 1 0 5.4 0a2.7 2.7 0 1 0 -5.4 0M1277.37 404.77a2.7 2.7 0 1 0 5.4 0a2.7 2.7 0 1 0 -5.4 0M1277.37 405.47a2.7 2.7 0 1 0 5.4 0a2.7 2.7 0 1 0 -5.4 0M1277.37 405.47a2.7 2.7 0 1 0 5.4 0a2.7 2.7 0 1 0 -5.4 0M1277.37 406a2.7 2.7 0 1 0 5.4 0a2.7 2.7 0 1 0 -5.4 0M1277.37 406a2.7 2.7 0 1 0 5.4 0a2.7 2.7 0 1 0 -5.4 0M1277.37 406.61a2.7 2.7 0 1 0 5.4 0a2.7 2.7 0 1 0 -5.4 0M1277.37 406.61a2.7 2.7 0 1 0 5.4 0a2.7 2.7 0 1 0 -5.4 0M1277.37 407.32a2.7 2.7 0 1 0 5.4 0a2.7 2.7 0 1 0 -5.4 0M1277.37 407.32a2.7 2.7 0 1 0 5.4 0a2.7 2.7 0 1 0 -5.4 0M1277.37 407.77a2.7 2.7 0 1 0 5.4 0a2.7 2.7 0 1 0 -5.4 0M1277.37 407.77a2.7 2.7 0 1 0 5.4 0a2.7 2.7 0 1 0 -5.4 0M1277.37 408.42a2.7 2.7 0 1 0 5.4 0a2.7 2.7 0 1 0 -5.4 0M1277.37 408.42a2.7 2.7 0 1 0 5.4 0a2.7 2.7 0 1 0 -5.4 0M1277.37 408.99a2.7 2.7 0 1 0 5.4 0a2.7 2.7 0 1 0 -5.4 0M1277.37 408.99a2.7 2.7 0 1 0 5.4 0a2.7 2.7 0 1 0 -5.4 0M1277.37 409.86a2.7 2.7 0 1 0 5.4 0a2.7 2.7 0 1 0 -5.4 0M1277.37 409.86a2.7 2.7 0 1 0 5.4 0a2.7 2.7 0 1 0 -5.4 0M1277.37 410.32a2.7 2.7 0 1 0 5.4 0a2.7 2.7 0 1 0 -5.4 0M1277.37 410.32a2.7 2.7 0 1 0 5.4 0a2.7 2.7 0 1 0 -5.4 0M1277.37 411.03a2.7 2.7 0 1 0 5.4 0a2.7 2.7 0 1 0 -5.4 0M1277.37 411.03a2.7 2.7 0 1 0 5.4 0a2.7 2.7 0 1 0 -5.4 0M1277.37 411.67a2.7 2.7 0 1 0 5.4 0a2.7 2.7 0 1 0 -5.4 0M1277.37 411.67a2.7 2.7 0 1 0 5.4 0a2.7 2.7 0 1 0 -5.4 0M1277.37 411.86a2.7 2.7 0 1 0 5.4 0a2.7 2.7 0 1 0 -5.4 0M1277.37 411.86a2.7 2.7 0 1 0 5.4 0a2.7 2.7 0 1 0 -5.4 0M1277.37 412.64a2.7 2.7 0 1 0 5.4 0a2.7 2.7 0 1 0 -5.4 0M1277.37 412.64a2.7 2.7 0 1 0 5.4 0a2.7 2.7 0 1 0 -5.4 0M1277.37 413.47a2.7 2.7 0 1 0 5.4 0a2.7 2.7 0 1 0 -5.4 0M1277.37 413.47a2.7 2.7 0 1 0 5.4 0a2.7 2.7 0 1 0 -5.4 0M1277.37 414a2.7 2.7 0 1 0 5.4 0a2.7 2.7 0 1 0 -5.4 0M1277.37 414a2.7 2.7 0 1 0 5.4 0a2.7 2.7 0 1 0 -5.4 0M1277.37 414.18a2.7 2.7 0 1 0 5.4 0a2.7 2.7 0 1 0 -5.4 0M1277.37 414.18a2.7 2.7 0 1 0 5.4 0a2.7 2.7 0 1 0 -5.4 0M1277.37 414.77a2.7 2.7 0 1 0 5.4 0a2.7 2.7 0 1 0 -5.4 0M1277.37 414.77a2.7 2.7 0 1 0 5.4 0a2.7 2.7 0 1 0 -5.4 0M1277.37 415.57a2.7 2.7 0 1 0 5.4 0a2.7 2.7 0 1 0 -5.4 0M1277.37 415.57a2.7 2.7 0 1 0 5.4 0a2.7 2.7 0 1 0 -5.4 0M1277.37 415.94a2.7 2.7 0 1 0 5.4 0a2.7 2.7 0 1 0 -5.4 0M1277.37 415.94a2.7 2.7 0 1 0 5.4 0a2.7 2.7 0 1 0 -5.4 0M1277.37 416.64a2.7 2.7 0 1 0 5.4 0a2.7 2.7 0 1 0 -5.4 0M1277.37 416.64a2.7 2.7 0 1 0 5.4 0a2.7 2.7 0 1 0 -5.4 0M1277.37 417.14a2.7 2.7 0 1 0 5.4 0a2.7 2.7 0 1 0 -5.4 0M1277.37 417.14a2.7 2.7 0 1 0 5.4 0a2.7 2.7 0 1 0 -5.4 0M1277.37 418.1a2.7 2.7 0 1 0 5.4 0a2.7 2.7 0 1 0 -5.4 0M1277.37 418.1a2.7 2.7 0 1 0 5.4 0a2.7 2.7 0 1 0 -5.4 0M1277.37 418.77a2.7 2.7 0 1 0 5.4 0a2.7 2.7 0 1 0 -5.4 0M1277.37 418.77a2.7 2.7 0 1 0 5.4 0a2.7 2.7 0 1 0 -5.4 0M1277.37 419.44a2.7 2.7 0 1 0 5.4 0a2.7 2.7 0 1 0 -5.4 0M1277.37 419.44a2.7 2.7 0 1 0 5.4 0a2.7 2.7 0 1 0 -5.4 0M1277.37 419.59a2.7 2.7 0 1 0 5.4 0a2.7 2.7 0 1 0 -5.4 0M1277.37 419.59a2.7 2.7 0 1 0 5.4 0a2.7 2.7 0 1 0 -5.4 0M1277.37 420.53a2.7 2.7 0 1 0 5.4 0a2.7 2.7 0 1 0 -5.4 0M1277.37 420.53a2.7 2.7 0 1 0 5.4 0a2.7 2.7 0 1 0 -5.4 0M1277.37 421.1a2.7 2.7 0 1 0 5.4 0a2.7 2.7 0 1 0 -5.4 0M1277.37 421.1a2.7 2.7 0 1 0 5.4 0a2.7 2.7 0 1 0 -5.4 0M1277.37 421.39a2.7 2.7 0 1 0 5.4 0a2.7 2.7 0 1 0 -5.4 0M1277.37 421.39a2.7 2.7 0 1 0 5.4 0a2.7 2.7 0 1 0 -5.4 0M1277.37 422.43a2.7 2.7 0 1 0 5.4 0a2.7 2.7 0 1 0 -5.4 0M1277.37 422.43a2.7 2.7 0 1 0 5.4 0a2.7 2.7 0 1 0 -5.4 0M1277.37 423.08a2.7 2.7 0 1 0 5.4 0a2.7 2.7 0 1 0 -5.4 0M1277.37 423.08a2.7 2.7 0 1 0 5.4 0a2.7 2.7 0 1 0 -5.4 0M1277.37 423.23a2.7 2.7 0 1 0 5.4 0a2.7 2.7 0 1 0 -5.4 0M1277.37 423.23a2.7 2.7 0 1 0 5.4 0a2.7 2.7 0 1 0 -5.4 0M1277.37 424.27a2.7 2.7 0 1 0 5.4 0a2.7 2.7 0 1 0 -5.4 0M1277.37 424.27a2.7 2.7 0 1 0 5.4 0a2.7 2.7 0 1 0 -5.4 0M1277.37 424.54a2.7 2.7 0 1 0 5.4 0a2.7 2.7 0 1 0 -5.4 0M1277.37 424.54a2.7 2.7 0 1 0 5.4 0a2.7 2.7 0 1 0 -5.4 0M1277.37 425.19a2.7 2.7 0 1 0 5.4 0a2.7 2.7 0 1 0 -5.4 0M1277.37 425.19a2.7 2.7 0 1 0 5.4 0a2.7 2.7 0 1 0 -5.4 0M1277.37 426.09a2.7 2.7 0 1 0 5.4 0a2.7 2.7 0 1 0 -5.4 0M1277.37 426.09a2.7 2.7 0 1 0 5.4 0a2.7 2.7 0 1 0 -5.4 0M1277.37 426.6a2.7 2.7 0 1 0 5.4 0a2.7 2.7 0 1 0 -5.4 0M1277.37 426.6a2.7 2.7 0 1 0 5.4 0a2.7 2.7 0 1 0 -5.4 0M1277.37 426.8a2.7 2.7 0 1 0 5.4 0a2.7 2.7 0 1 0 -5.4 0M1277.37 426.8a2.7 2.7 0 1 0 5.4 0a2.7 2.7 0 1 0 -5.4 0M1277.37 427.56a2.7 2.7 0 1 0 5.4 0a2.7 2.7 0 1 0 -5.4 0M1277.37 427.56a2.7 2.7 0 1 0 5.4 0a2.7 2.7 0 1 0 -5.4 0M1277.37 428.21a2.7 2.7 0 1 0 5.4 0a2.7 2.7 0 1 0 -5.4 0M1277.37 428.21a2.7 2.7 0 1 0 5.4 0a2.7 2.7 0 1 0 -5.4 0M1277.37 428.7a2.7 2.7 0 1 0 5.4 0a2.7 2.7 0 1 0 -5.4 0M1277.37 428.7a2.7 2.7 0 1 0 5.4 0a2.7 2.7 0 1 0 -5.4 0M1277.37 429.22a2.7 2.7 0 1 0 5.4 0a2.7 2.7 0 1 0 -5.4 0M1277.37 429.22a2.7 2.7 0 1 0 5.4 0a2.7 2.7 0 1 0 -5.4 0M1277.37 429.89a2.7 2.7 0 1 0 5.4 0a2.7 2.7 0 1 0 -5.4 0M1277.37 429.89a2.7 2.7 0 1 0 5.4 0a2.7 2.7 0 1 0 -5.4 0M1277.37 430.73a2.7 2.7 0 1 0 5.4 0a2.7 2.7 0 1 0 -5.4 0M1277.37 430.73a2.7 2.7 0 1 0 5.4 0a2.7 2.7 0 1 0 -5.4 0M1277.37 430.91a2.7 2.7 0 1 0 5.4 0a2.7 2.7 0 1 0 -5.4 0M1277.37 430.91a2.7 2.7 0 1 0 5.4 0a2.7 2.7 0 1 0 -5.4 0M1277.37 431.83a2.7 2.7 0 1 0 5.4 0a2.7 2.7 0 1 0 -5.4 0M1277.37 431.83a2.7 2.7 0 1 0 5.4 0a2.7 2.7 0 1 0 -5.4 0M1277.37 432.36a2.7 2.7 0 1 0 5.4 0a2.7 2.7 0 1 0 -5.4 0M1277.37 432.36a2.7 2.7 0 1 0 5.4 0a2.7 2.7 0 1 0 -5.4 0M1277.37 432.71a2.7 2.7 0 1 0 5.4 0a2.7 2.7 0 1 0 -5.4 0M1277.37 432.71a2.7 2.7 0 1 0 5.4 0a2.7 2.7 0 1 0 -5.4 0M1277.37 433.5a2.7 2.7 0 1 0 5.4 0a2.7 2.7 0 1 0 -5.4 0M1277.37 433.5a2.7 2.7 0 1 0 5.4 0a2.7 2.7 0 1 0 -5.4 0M1277.37 434.27a2.7 2.7 0 1 0 5.4 0a2.7 2.7 0 1 0 -5.4 0M1277.37 434.27a2.7 2.7 0 1 0 5.4 0a2.7 2.7 0 1 0 -5.4 0M1277.37 434.81a2.7 2.7 0 1 0 5.4 0a2.7 2.7 0 1 0 -5.4 0M1277.37 434.81a2.7 2.7 0 1 0 5.4 0a2.7 2.7 0 1 0 -5.4 0M1277.37 435.14a2.7 2.7 0 1 0 5.4 0a2.7 2.7 0 1 0 -5.4 0M1277.37 435.14a2.7 2.7 0 1 0 5.4 0a2.7 2.7 0 1 0 -5.4 0M1277.37 436.29a2.7 2.7 0 1 0 5.4 0a2.7 2.7 0 1 0 -5.4 0M1277.37 436.29a2.7 2.7 0 1 0 5.4 0a2.7 2.7 0 1 0 -5.4 0M1277.37 436.77a2.7 2.7 0 1 0 5.4 0a2.7 2.7 0 1 0 -5.4 0M1277.37 436.77a2.7 2.7 0 1 0 5.4 0a2.7 2.7 0 1 0 -5.4 0M1277.37 437.48a2.7 2.7 0 1 0 5.4 0a2.7 2.7 0 1 0 -5.4 0M1277.37 437.48a2.7 2.7 0 1 0 5.4 0a2.7 2.7 0 1 0 -5.4 0M1277.37 437.56a2.7 2.7 0 1 0 5.4 0a2.7 2.7 0 1 0 -5.4 0M1277.37 437.56a2.7 2.7 0 1 0 5.4 0a2.7 2.7 0 1 0 -5.4 0M1277.37 438.26a2.7 2.7 0 1 0 5.4 0a2.7 2.7 0 1 0 -5.4 0M1277.37 438.26a2.7 2.7 0 1 0 5.4 0a2.7 2.7 0 1 0 -5.4 0M1277.37 438.72a2.7 2.7 0 1 0 5.4 0a2.7 2.7 0 1 0 -5.4 0M1277.37 438.72a2.7 2.7 0 1 0 5.4 0a2.7 2.7 0 1 0 -5.4 0M1277.37 439.77a2.7 2.7 0 1 0 5.4 0a2.7 2.7 0 1 0 -5.4 0M1277.37 439.77a2.7 2.7 0 1 0 5.4 0a2.7 2.7 0 1 0 -5.4 0M1277.37 440.06a2.7 2.7 0 1 0 5.4 0a2.7 2.7 0 1 0 -5.4 0M1277.37 440.06a2.7 2.7 0 1 0 5.4 0a2.7 2.7 0 1 0 -5.4 0M1277.37 440.58a2.7 2.7 0 1 0 5.4 0a2.7 2.7 0 1 0 -5.4 0M1277.37 440.58a2.7 2.7 0 1 0 5.4 0a2.7 2.7 0 1 0 -5.4 0M1277.37 441.35a2.7 2.7 0 1 0 5.4 0a2.7 2.7 0 1 0 -5.4 0M1277.37 441.35a2.7 2.7 0 1 0 5.4 0a2.7 2.7 0 1 0 -5.4 0M1277.37 442.25a2.7 2.7 0 1 0 5.4 0a2.7 2.7 0 1 0 -5.4 0M1277.37 442.25a2.7 2.7 0 1 0 5.4 0a2.7 2.7 0 1 0 -5.4 0M1277.37 442.79a2.7 2.7 0 1 0 5.4 0a2.7 2.7 0 1 0 -5.4 0M1277.37 442.79a2.7 2.7 0 1 0 5.4 0a2.7 2.7 0 1 0 -5.4 0M1277.37 443.06a2.7 2.7 0 1 0 5.4 0a2.7 2.7 0 1 0 -5.4 0M1277.37 443.06a2.7 2.7 0 1 0 5.4 0a2.7 2.7 0 1 0 -5.4 0M1277.37 443.59a2.7 2.7 0 1 0 5.4 0a2.7 2.7 0 1 0 -5.4 0M1277.37 443.59a2.7 2.7 0 1 0 5.4 0a2.7 2.7 0 1 0 -5.4 0M1277.37 444.65a2.7 2.7 0 1 0 5.4 0a2.7 2.7 0 1 0 -5.4 0M1277.37 444.65a2.7 2.7 0 1 0 5.4 0a2.7 2.7 0 1 0 -5.4 0M1277.37 445.04a2.7 2.7 0 1 0 5.4 0a2.7 2.7 0 1 0 -5.4 0M1277.37 445.04a2.7 2.7 0 1 0 5.4 0a2.7 2.7 0 1 0 -5.4 0M1277.37 445.72a2.7 2.7 0 1 0 5.4 0a2.7 2.7 0 1 0 -5.4 0M1277.37 445.72a2.7 2.7 0 1 0 5.4 0a2.7 2.7 0 1 0 -5.4 0M1277.37 445.95a2.7 2.7 0 1 0 5.4 0a2.7 2.7 0 1 0 -5.4 0M1277.37 445.95a2.7 2.7 0 1 0 5.4 0a2.7 2.7 0 1 0 -5.4 0M1277.37 446.53a2.7 2.7 0 1 0 5.4 0a2.7 2.7 0 1 0 -5.4 0M1277.37 446.53a2.7 2.7 0 1 0 5.4 0a2.7 2.7 0 1 0 -5.4 0M1277.37 447.51a2.7 2.7 0 1 0 5.4 0a2.7 2.7 0 1 0 -5.4 0M1277.37 447.51a2.7 2.7 0 1 0 5.4 0a2.7 2.7 0 1 0 -5.4 0M1277.37 447.96a2.7 2.7 0 1 0 5.4 0a2.7 2.7 0 1 0 -5.4 0M1277.37 447.96a2.7 2.7 0 1 0 5.4 0a2.7 2.7 0 1 0 -5.4 0M1277.37 448.34a2.7 2.7 0 1 0 5.4 0a2.7 2.7 0 1 0 -5.4 0M1277.37 448.34a2.7 2.7 0 1 0 5.4 0a2.7 2.7 0 1 0 -5.4 0M1277.37 449.46a2.7 2.7 0 1 0 5.4 0a2.7 2.7 0 1 0 -5.4 0M1277.37 449.46a2.7 2.7 0 1 0 5.4 0a2.7 2.7 0 1 0 -5.4 0M1277.37 449.88a2.7 2.7 0 1 0 5.4 0a2.7 2.7 0 1 0 -5.4 0M1277.37 449.88a2.7 2.7 0 1 0 5.4 0a2.7 2.7 0 1 0 -5.4 0M1277.37 450.58a2.7 2.7 0 1 0 5.4 0a2.7 2.7 0 1 0 -5.4 0M1277.37 450.58a2.7 2.7 0 1 0 5.4 0a2.7 2.7 0 1 0 -5.4 0M1277.37 450.75a2.7 2.7 0 1 0 5.4 0a2.7 2.7 0 1 0 -5.4 0M1277.37 450.75a2.7 2.7 0 1 0 5.4 0a2.7 2.7 0 1 0 -5.4 0M1277.37 451.81a2.7 2.7 0 1 0 5.4 0a2.7 2.7 0 1 0 -5.4 0M1277.37 451.81a2.7 2.7 0 1 0 5.4 0a2.7 2.7 0 1 0 -5.4 0M1277.37 451.94a2.7 2.7 0 1 0 5.4 0a2.7 2.7 0 1 0 -5.4 0M1277.37 451.94a2.7 2.7 0 1 0 5.4 0a2.7 2.7 0 1 0 -5.4 0M1277.37 453.02a2.7 2.7 0 1 0 5.4 0a2.7 2.7 0 1 0 -5.4 0M1277.37 453.02a2.7 2.7 0 1 0 5.4 0a2.7 2.7 0 1 0 -5.4 0M1277.37 453.37a2.7 2.7 0 1 0 5.4 0a2.7 2.7 0 1 0 -5.4 0M1277.37 453.37a2.7 2.7 0 1 0 5.4 0a2.7 2.7 0 1 0 -5.4 0M1277.37 453.9a2.7 2.7 0 1 0 5.4 0a2.7 2.7 0 1 0 -5.4 0M1277.37 453.9a2.7 2.7 0 1 0 5.4 0a2.7 2.7 0 1 0 -5.4 0M1277.37 454.63a2.7 2.7 0 1 0 5.4 0a2.7 2.7 0 1 0 -5.4 0M1277.37 454.63a2.7 2.7 0 1 0 5.4 0a2.7 2.7 0 1 0 -5.4 0M1277.37 455.46a2.7 2.7 0 1 0 5.4 0a2.7 2.7 0 1 0 -5.4 0M1277.37 455.46a2.7 2.7 0 1 0 5.4 0a2.7 2.7 0 1 0 -5.4 0M1277.37 455.66a2.7 2.7 0 1 0 5.4 0a2.7 2.7 0 1 0 -5.4 0M1277.37 455.66a2.7 2.7 0 1 0 5.4 0a2.7 2.7 0 1 0 -5.4 0M1277.37 456.18a2.7 2.7 0 1 0 5.4 0a2.7 2.7 0 1 0 -5.4 0M1277.37 456.18a2.7 2.7 0 1 0 5.4 0a2.7 2.7 0 1 0 -5.4 0M1277.37 457.02a2.7 2.7 0 1 0 5.4 0a2.7 2.7 0 1 0 -5.4 0M1277.37 457.02a2.7 2.7 0 1 0 5.4 0a2.7 2.7 0 1 0 -5.4 0M1277.37 457.44a2.7 2.7 0 1 0 5.4 0a2.7 2.7 0 1 0 -5.4 0M1277.37 457.44a2.7 2.7 0 1 0 5.4 0a2.7 2.7 0 1 0 -5.4 0M1277.37 457.97a2.7 2.7 0 1 0 5.4 0a2.7 2.7 0 1 0 -5.4 0M1277.37 457.97a2.7 2.7 0 1 0 5.4 0a2.7 2.7 0 1 0 -5.4 0M1277.37 458.6a2.7 2.7 0 1 0 5.4 0a2.7 2.7 0 1 0 -5.4 0M1277.37 458.6a2.7 2.7 0 1 0 5.4 0a2.7 2.7 0 1 0 -5.4 0M1277.37 459.13a2.7 2.7 0 1 0 5.4 0a2.7 2.7 0 1 0 -5.4 0M1277.37 459.13a2.7 2.7 0 1 0 5.4 0a2.7 2.7 0 1 0 -5.4 0M1277.37 459.82a2.7 2.7 0 1 0 5.4 0a2.7 2.7 0 1 0 -5.4 0M1277.37 459.82a2.7 2.7 0 1 0 5.4 0a2.7 2.7 0 1 0 -5.4 0M1277.37 460.49a2.7 2.7 0 1 0 5.4 0a2.7 2.7 0 1 0 -5.4 0M1277.37 460.49a2.7 2.7 0 1 0 5.4 0a2.7 2.7 0 1 0 -5.4 0M1277.37 461.08a2.7 2.7 0 1 0 5.4 0a2.7 2.7 0 1 0 -5.4 0M1277.37 461.08a2.7 2.7 0 1 0 5.4 0a2.7 2.7 0 1 0 -5.4 0M1277.37 461.96a2.7 2.7 0 1 0 5.4 0a2.7 2.7 0 1 0 -5.4 0M1277.37 461.96a2.7 2.7 0 1 0 5.4 0a2.7 2.7 0 1 0 -5.4 0M1277.37 462.27a2.7 2.7 0 1 0 5.4 0a2.7 2.7 0 1 0 -5.4 0M1277.37 462.27a2.7 2.7 0 1 0 5.4 0a2.7 2.7 0 1 0 -5.4 0M1277.37 463a2.7 2.7 0 1 0 5.4 0a2.7 2.7 0 1 0 -5.4 0M1277.37 463a2.7 2.7 0 1 0 5.4 0a2.7 2.7 0 1 0 -5.4 0M1277.37 463.41a2.7 2.7 0 1 0 5.4 0a2.7 2.7 0 1 0 -5.4 0M1277.37 463.41a2.7 2.7 0 1 0 5.4 0a2.7 2.7 0 1 0 -5.4 0M1277.37 464.11a2.7 2.7 0 1 0 5.4 0a2.7 2.7 0 1 0 -5.4 0M1277.37 464.11a2.7 2.7 0 1 0 5.4 0a2.7 2.7 0 1 0 -5.4 0M1277.37 464.51a2.7 2.7 0 1 0 5.4 0a2.7 2.7 0 1 0 -5.4 0M1277.37 464.51a2.7 2.7 0 1 0 5.4 0a2.7 2.7 0 1 0 -5.4 0M1277.37 465.25a2.7 2.7 0 1 0 5.4 0a2.7 2.7 0 1 0 -5.4 0M1277.37 465.25a2.7 2.7 0 1 0 5.4 0a2.7 2.7 0 1 0 -5.4 0M1277.37 465.71a2.7 2.7 0 1 0 5.4 0a2.7 2.7 0 1 0 -5.4 0M1277.37 465.71a2.7 2.7 0 1 0 5.4 0a2.7 2.7 0 1 0 -5.4 0M1277.37 466.74a2.7 2.7 0 1 0 5.4 0a2.7 2.7 0 1 0 -5.4 0M1277.37 466.74a2.7 2.7 0 1 0 5.4 0a2.7 2.7 0 1 0 -5.4 0M1277.37 467.23a2.7 2.7 0 1 0 5.4 0a2.7 2.7 0 1 0 -5.4 0M1277.37 467.23a2.7 2.7 0 1 0 5.4 0a2.7 2.7 0 1 0 -5.4 0M1277.37 467.61a2.7 2.7 0 1 0 5.4 0a2.7 2.7 0 1 0 -5.4 0M1277.37 467.61a2.7 2.7 0 1 0 5.4 0a2.7 2.7 0 1 0 -5.4 0M1277.37 468.38a2.7 2.7 0 1 0 5.4 0a2.7 2.7 0 1 0 -5.4 0M1277.37 468.38a2.7 2.7 0 1 0 5.4 0a2.7 2.7 0 1 0 -5.4 0M1277.37 469.26a2.7 2.7 0 1 0 5.4 0a2.7 2.7 0 1 0 -5.4 0M1277.37 469.26a2.7 2.7 0 1 0 5.4 0a2.7 2.7 0 1 0 -5.4 0M1277.37 469.36a2.7 2.7 0 1 0 5.4 0a2.7 2.7 0 1 0 -5.4 0M1277.37 469.36a2.7 2.7 0 1 0 5.4 0a2.7 2.7 0 1 0 -5.4 0M1277.37 470.39a2.7 2.7 0 1 0 5.4 0a2.7 2.7 0 1 0 -5.4 0M1277.37 470.39a2.7 2.7 0 1 0 5.4 0a2.7 2.7 0 1 0 -5.4 0M1277.37 470.76a2.7 2.7 0 1 0 5.4 0a2.7 2.7 0 1 0 -5.4 0M1277.37 470.76a2.7 2.7 0 1 0 5.4 0a2.7 2.7 0 1 0 -5.4 0M1277.37 471.4a2.7 2.7 0 1 0 5.4 0a2.7 2.7 0 1 0 -5.4 0M1277.37 471.4a2.7 2.7 0 1 0 5.4 0a2.7 2.7 0 1 0 -5.4 0M1277.37 472.2a2.7 2.7 0 1 0 5.4 0a2.7 2.7 0 1 0 -5.4 0M1277.37 472.2a2.7 2.7 0 1 0 5.4 0a2.7 2.7 0 1 0 -5.4 0M1277.37 472.54a2.7 2.7 0 1 0 5.4 0a2.7 2.7 0 1 0 -5.4 0M1277.37 472.54a2.7 2.7 0 1 0 5.4 0a2.7 2.7 0 1 0 -5.4 0M1277.37 473.2a2.7 2.7 0 1 0 5.4 0a2.7 2.7 0 1 0 -5.4 0M1277.37 473.2a2.7 2.7 0 1 0 5.4 0a2.7 2.7 0 1 0 -5.4 0M1277.37 473.91a2.7 2.7 0 1 0 5.4 0a2.7 2.7 0 1 0 -5.4 0M1277.37 473.91a2.7 2.7 0 1 0 5.4 0a2.7 2.7 0 1 0 -5.4 0M1277.37 474.69a2.7 2.7 0 1 0 5.4 0a2.7 2.7 0 1 0 -5.4 0M1277.37 474.69a2.7 2.7 0 1 0 5.4 0a2.7 2.7 0 1 0 -5.4 0M1277.37 474.91a2.7 2.7 0 1 0 5.4 0a2.7 2.7 0 1 0 -5.4 0M1277.37 474.91a2.7 2.7 0 1 0 5.4 0a2.7 2.7 0 1 0 -5.4 0M1277.37 475.8a2.7 2.7 0 1 0 5.4 0a2.7 2.7 0 1 0 -5.4 0M1277.37 475.8a2.7 2.7 0 1 0 5.4 0a2.7 2.7 0 1 0 -5.4 0M1277.37 476.32a2.7 2.7 0 1 0 5.4 0a2.7 2.7 0 1 0 -5.4 0M1277.37 476.32a2.7 2.7 0 1 0 5.4 0a2.7 2.7 0 1 0 -5.4 0M1277.37 476.88a2.7 2.7 0 1 0 5.4 0a2.7 2.7 0 1 0 -5.4 0M1277.37 476.88a2.7 2.7 0 1 0 5.4 0a2.7 2.7 0 1 0 -5.4 0M1277.37 477.34a2.7 2.7 0 1 0 5.4 0a2.7 2.7 0 1 0 -5.4 0M1277.37 477.34a2.7 2.7 0 1 0 5.4 0a2.7 2.7 0 1 0 -5.4 0M1277.37 477.91a2.7 2.7 0 1 0 5.4 0a2.7 2.7 0 1 0 -5.4 0M1277.37 477.91a2.7 2.7 0 1 0 5.4 0a2.7 2.7 0 1 0 -5.4 0M1277.37 478.33a2.7 2.7 0 1 0 5.4 0a2.7 2.7 0 1 0 -5.4 0M1277.37 478.33a2.7 2.7 0 1 0 5.4 0a2.7 2.7 0 1 0 -5.4 0M1277.37 478.98a2.7 2.7 0 1 0 5.4 0a2.7 2.7 0 1 0 -5.4 0M1277.37 478.98a2.7 2.7 0 1 0 5.4 0a2.7 2.7 0 1 0 -5.4 0M1277.37 479.54a2.7 2.7 0 1 0 5.4 0a2.7 2.7 0 1 0 -5.4 0M1277.37 479.54a2.7 2.7 0 1 0 5.4 0a2.7 2.7 0 1 0 -5.4 0M1277.37 480.54a2.7 2.7 0 1 0 5.4 0a2.7 2.7 0 1 0 -5.4 0M1277.37 480.54a2.7 2.7 0 1 0 5.4 0a2.7 2.7 0 1 0 -5.4 0M1277.37 480.85a2.7 2.7 0 1 0 5.4 0a2.7 2.7 0 1 0 -5.4 0M1277.37 480.85a2.7 2.7 0 1 0 5.4 0a2.7 2.7 0 1 0 -5.4 0M1277.37 481.4a2.7 2.7 0 1 0 5.4 0a2.7 2.7 0 1 0 -5.4 0M1277.37 481.4a2.7 2.7 0 1 0 5.4 0a2.7 2.7 0 1 0 -5.4 0M1277.37 481.95a2.7 2.7 0 1 0 5.4 0a2.7 2.7 0 1 0 -5.4 0M1277.37 481.95a2.7 2.7 0 1 0 5.4 0a2.7 2.7 0 1 0 -5.4 0M1277.37 483a2.7 2.7 0 1 0 5.4 0a2.7 2.7 0 1 0 -5.4 0M1277.37 483a2.7 2.7 0 1 0 5.4 0a2.7 2.7 0 1 0 -5.4 0M1277.37 483.62a2.7 2.7 0 1 0 5.4 0a2.7 2.7 0 1 0 -5.4 0M1277.37 483.62a2.7 2.7 0 1 0 5.4 0a2.7 2.7 0 1 0 -5.4 0M1277.37 484.1a2.7 2.7 0 1 0 5.4 0a2.7 2.7 0 1 0 -5.4 0M1277.37 484.1a2.7 2.7 0 1 0 5.4 0a2.7 2.7 0 1 0 -5.4 0M1277.37 484.47a2.7 2.7 0 1 0 5.4 0a2.7 2.7 0 1 0 -5.4 0M1277.37 484.47a2.7 2.7 0 1 0 5.4 0a2.7 2.7 0 1 0 -5.4 0M1277.37 485.05a2.7 2.7 0 1 0 5.4 0a2.7 2.7 0 1 0 -5.4 0M1277.37 485.05a2.7 2.7 0 1 0 5.4 0a2.7 2.7 0 1 0 -5.4 0M1277.37 485.68a2.7 2.7 0 1 0 5.4 0a2.7 2.7 0 1 0 -5.4 0M1277.37 485.68a2.7 2.7 0 1 0 5.4 0a2.7 2.7 0 1 0 -5.4 0M1277.37 486.38a2.7 2.7 0 1 0 5.4 0a2.7 2.7 0 1 0 -5.4 0M1277.37 486.38a2.7 2.7 0 1 0 5.4 0a2.7 2.7 0 1 0 -5.4 0M1277.37 486.79a2.7 2.7 0 1 0 5.4 0a2.7 2.7 0 1 0 -5.4 0M1277.37 486.79a2.7 2.7 0 1 0 5.4 0a2.7 2.7 0 1 0 -5.4 0M1277.37 487.57a2.7 2.7 0 1 0 5.4 0a2.7 2.7 0 1 0 -5.4 0M1277.37 487.57a2.7 2.7 0 1 0 5.4 0a2.7 2.7 0 1 0 -5.4 0M1277.37 488.06a2.7 2.7 0 1 0 5.4 0a2.7 2.7 0 1 0 -5.4 0M1277.37 488.06a2.7 2.7 0 1 0 5.4 0a2.7 2.7 0 1 0 -5.4 0M1277.37 489.08a2.7 2.7 0 1 0 5.4 0a2.7 2.7 0 1 0 -5.4 0M1277.37 489.08a2.7 2.7 0 1 0 5.4 0a2.7 2.7 0 1 0 -5.4 0M1277.37 489.68a2.7 2.7 0 1 0 5.4 0a2.7 2.7 0 1 0 -5.4 0M1277.37 489.68a2.7 2.7 0 1 0 5.4 0a2.7 2.7 0 1 0 -5.4 0M1277.37 490.03a2.7 2.7 0 1 0 5.4 0a2.7 2.7 0 1 0 -5.4 0M1277.37 490.03a2.7 2.7 0 1 0 5.4 0a2.7 2.7 0 1 0 -5.4 0M1277.37 490.45a2.7 2.7 0 1 0 5.4 0a2.7 2.7 0 1 0 -5.4 0M1277.37 490.45a2.7 2.7 0 1 0 5.4 0a2.7 2.7 0 1 0 -5.4 0M1277.37 491.48a2.7 2.7 0 1 0 5.4 0a2.7 2.7 0 1 0 -5.4 0M1277.37 491.48a2.7 2.7 0 1 0 5.4 0a2.7 2.7 0 1 0 -5.4 0M1277.37 491.69a2.7 2.7 0 1 0 5.4 0a2.7 2.7 0 1 0 -5.4 0M1277.37 491.69a2.7 2.7 0 1 0 5.4 0a2.7 2.7 0 1 0 -5.4 0M1277.37 492.31a2.7 2.7 0 1 0 5.4 0a2.7 2.7 0 1 0 -5.4 0M1277.37 492.31a2.7 2.7 0 1 0 5.4 0a2.7 2.7 0 1 0 -5.4 0M1277.37 492.7a2.7 2.7 0 1 0 5.4 0a2.7 2.7 0 1 0 -5.4 0M1277.37 492.7a2.7 2.7 0 1 0 5.4 0a2.7 2.7 0 1 0 -5.4 0M1277.37 493.53a2.7 2.7 0 1 0 5.4 0a2.7 2.7 0 1 0 -5.4 0M1277.37 493.53a2.7 2.7 0 1 0 5.4 0a2.7 2.7 0 1 0 -5.4 0M1277.37 494.18a2.7 2.7 0 1 0 5.4 0a2.7 2.7 0 1 0 -5.4 0M1277.37 494.18a2.7 2.7 0 1 0 5.4 0a2.7 2.7 0 1 0 -5.4 0M1277.37 494.8a2.7 2.7 0 1 0 5.4 0a2.7 2.7 0 1 0 -5.4 0M1277.37 494.8a2.7 2.7 0 1 0 5.4 0a2.7 2.7 0 1 0 -5.4 0" stroke="#000" stroke-width="0.75" fill="none"/>
<g stroke="#000" stroke-width="0.75" fill="none" stroke-linecap="round">
<path d="M764.6 585.5H1280.07M764.6 585.5v7.2M791.73 585.5v7.2M818.86 585.5v7.2M845.99 585.5v7.2M873.12 585.5v7.2M900.25 585.5v7.2M927.38 585.5v7.2M954.51 585.5v7.2M981.64 585.5v7.2M1008.77 585.5v7.2M1035.9 585.5v7.2M1063.03 585.5v7.2M1090.16 585.5v7.2M1117.29 585.5v7.2M1144.42 585.5v7.2M1171.55 585.5v7.2M1198.68 585.5v7.2M1225.81 585.5v7.2M1252.94 585.5v7.2M1280.07 585.5v7.2"/>
<path d="M729.5 567.05V104.85M729.5 567.05h-7.2M729.5 474.61h-7.2M729.5 382.17h-7.2M729.5 289.73h-7.2M729.5 197.29h-7.2M729.5 104.85h-7.2"/>
</g>
<text x="711.8" y="567.05" font-size="12" text-anchor="middle" transform="rotate(-90 711.8 567.05)">0.0</text>
<text x="711.8" y="474.61" font-size="12" text-anchor="middle" transform="rotate(-90 711.8 474.61)">0.2</text>
<text x="711.8" y="382.17" font-size="12" text-anchor="middle" transform="rotate(-90 711.8 382.17)">0.4</text>
<text x="711.8" y="289.73" font-size="12" text-anchor="middle" transform="rotate(-90 711.8 289.73)">0.6</text>
<text x="711.8" y="197.29" font-size="12" text-anchor="middle" transform="rotate(-90 711.8 197.29)">0.8</text>
<text x="711.8" y="104.85" font-size="12" text-anchor="middle" transform="rotate(-90 711.8 104.85)">1.0</text>
<text x="767" y="599.9" font-size="7.0" text-anchor="end" transform="rotate(-90 767 599.9)">0 - 5 % / NaN</text>
<text x="794.13" y="599.9" font-size="7.0" text-anchor="end" transform="rotate(-90 794.13 599.9)">5 - 10 % / NaN</text>
<text x="821.26" y="599.9" font-size="7.0" text-anchor="end" transform="rotate(-90 821.26 599.9)">10 - 15 % / NaN</text>
<text x="848.39" y="599.9" font-size="7.0" text-anchor="end" transform="rotate(-90 848.39 599.9)">15 - 20 % / NaN</text>
<text x="875.52" y="599.9" font-size="7.0" text-anchor="end" transform="rotate(-90 875.52 599.9)">20 - 25 % / NaN</text>
<text x="902.65" y="599.9" font-size="7.0" text-anchor="end" transform="rotate(-90 902.65 599.9)">25 - 30 % / NaN</text>
<text x="929.78" y="599.9" font-size="7.0" text-anchor="end" transform="rotate(-90 929.78 599.9)">30 - 35 % / NaN</text>
<text x="956.91" y="599.9" font-size="7.0" text-anchor="end" transform="rotate(-90 956.91 599.9)">35 - 40 % / NaN</text>
<text x="984.04" y="599.9" font-size="7.0" text-anchor="end" transform="rotate(-90 984.04 599.9)">40 - 45 % / NaN</text>
<text x="1011.17" y="599.9" font-size="7.0" text-anchor="end" transform="rotate(-90 1011.17 599.9)">45 - 50 % / NaN</text>
<text x="1038.3" y="599.9" font-size="7.0" text-anchor="end" transform="rotate(-90 1038.3 599.9)">50 - 55 % / 0</text>
<text x="1065.43" y="599.9" font-size="7.0" text-anchor="end" transform="rotate(-90 1065.43 599.9)">55 - 60 % / 0.7</text>
<text x="1092.56" y="599.9" font-size="7.0" text-anchor="end" transform="rotate(-90 1092.56 599.9)">60 - 65 % / 1.8</text>
<text x="1119.69" y="599.9" font-size="7.0" text-anchor="end" transform="rotate(-90 1119.69 599.9)">65 - 70 % / 3.9</text>
<text x="1146.82" y="599.9" font-size="7.0" text-anchor="end" transform="rotate(-90 1146.82 599.9)">70 - 75 % / 8.2</text>
<text x="1173.95" y="599.9" font-size="7.0" text-anchor="end" transform="rotate(-90 1173.95 599.9)">75 - 80 % / 16.4</text>
<text x="1201.08" y="599.9" font-size="7.0" text-anchor="end" transform="rotate(-90 1201.08 599.9)">80 - 85 % / 33.4</text>
<text x="1228.21" y="599.9" font-size="7.0" text-anchor="end" transform="rotate(-90 1228.21 599.9)">85 - 90 % / 68</text>
<text x="1255.34" y="599.9" font-size="7.0" text-anchor="end" transform="rotate(-90 1255.34 599.9)">90 - 95 % / 139.5</text>
<text x="1282.47" y="599.9" font-size="7.0" text-anchor="end" transform="rotate(-90 1282.47 599.9)">95 - 100 % / 832.2</text>
<text x="1022.6" y="668.8" font-size="12" text-anchor="middle" textLength="159.2" lengthAdjust="spacing">mean expression (reads/kbp)</text>
<text x="684.4" y="336" font-size="12" text-anchor="middle" transform="rotate(-90 684.4 336)" textLength="82.8" lengthAdjust="spacing">duplication (%)</text>
</svg></body></html>
